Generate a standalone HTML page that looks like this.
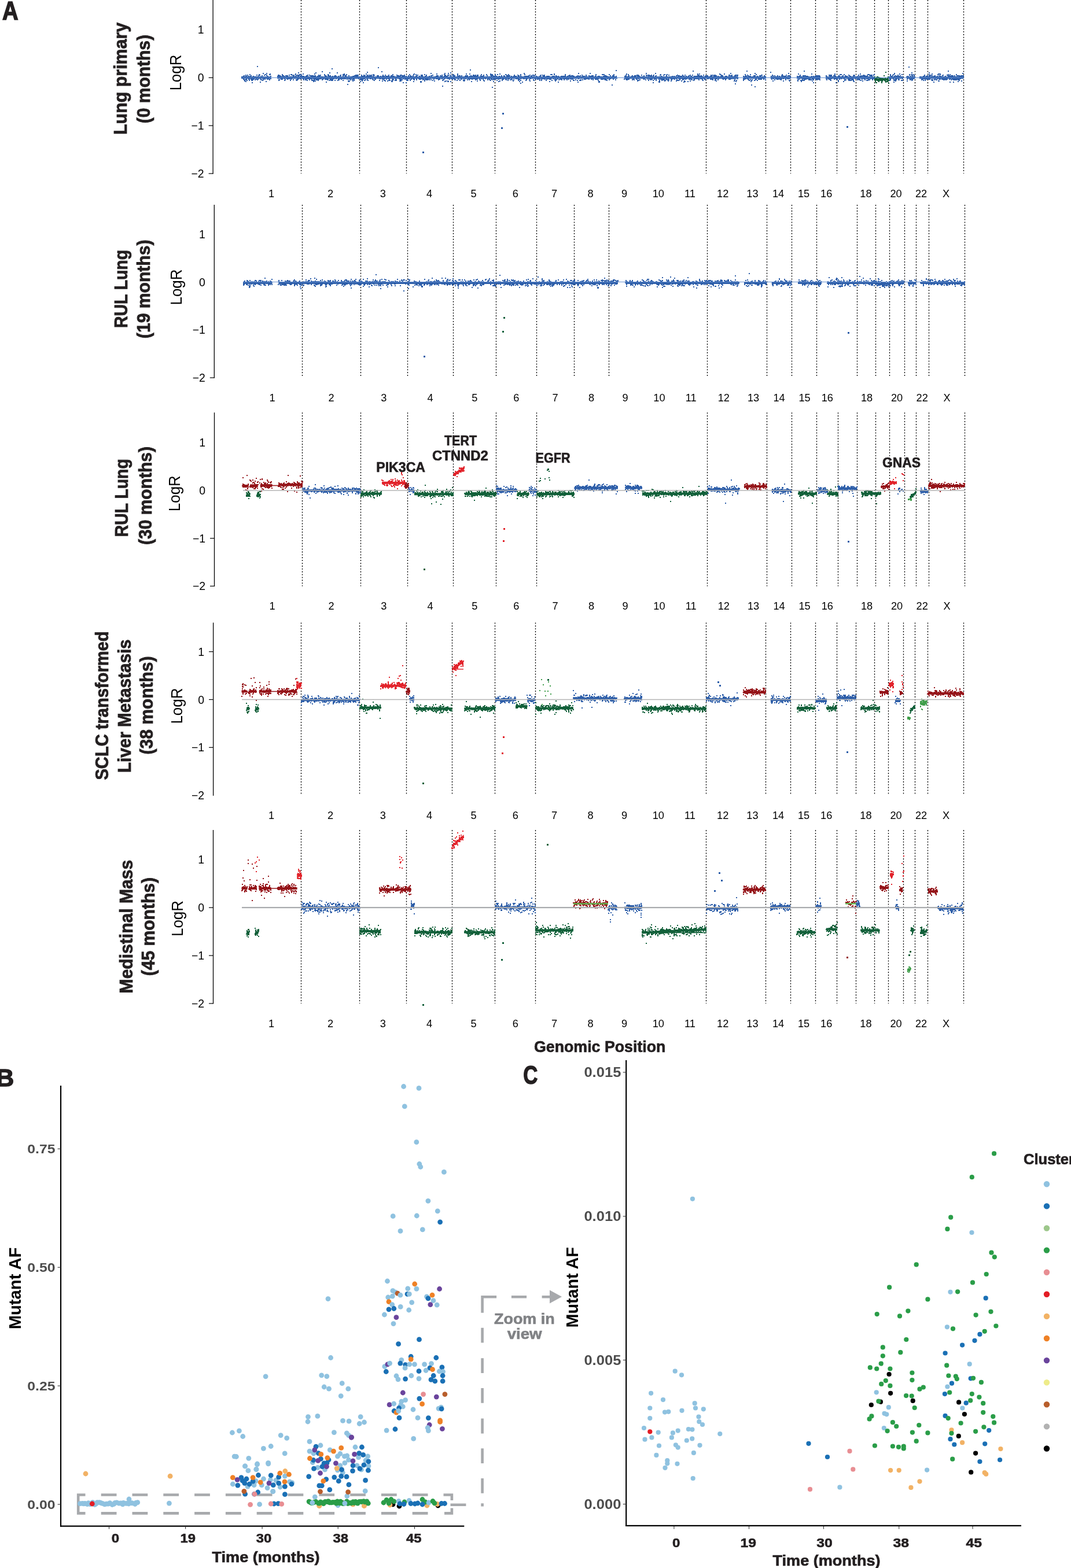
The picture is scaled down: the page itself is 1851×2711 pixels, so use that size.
<!DOCTYPE html><html><head><meta charset="utf-8"><style>html,body{margin:0;padding:0;background:#fff;overflow:hidden}svg{display:block}text{font-family:"Liberation Sans",Arial,sans-serif}</style></head><body><svg width="1851" height="2711" viewBox="0 0 1851 2711"><rect width="1851" height="2711" fill="#fff"/><line x1="368.1" y1="0" x2="368.1" y2="300.7" stroke="#000" stroke-width="1.3"/>
<text x="352.6" y="58.4" font-size="19.4" text-anchor="end" fill="#000">1</text>
<line x1="360.6" y1="134.3" x2="368.1" y2="134.3" stroke="#000" stroke-width="1.2"/>
<text x="352.6" y="141.3" font-size="19.4" text-anchor="end" fill="#000">0</text>
<line x1="360.6" y1="217.2" x2="368.1" y2="217.2" stroke="#000" stroke-width="1.2"/>
<text x="352.6" y="224.2" font-size="19.4" text-anchor="end" fill="#000">−1</text>
<line x1="360.6" y1="300.1" x2="368.1" y2="300.1" stroke="#000" stroke-width="1.2"/>
<text x="352.6" y="307.1" font-size="19.4" text-anchor="end" fill="#000">−2</text>
<path d="M520.5 0V300.1M621.5 0V300.1M702.5 0V300.1M781.5 0V300.1M855.5 0V300.1M925.5 0V300.1M1220.5 0V300.1M1323.5 0V300.1M1366.5 0V300.1M1409.5 0V300.1M1446.5 0V300.1M1479.5 0V300.1M1511.5 0V300.1M1535.5 0V300.1M1561.5 0V300.1M1581.5 0V300.1M1603.5 0V300.1M1665.5 0V300.1" stroke="#000" stroke-width="1.3" stroke-dasharray="2.1 2.8" fill="none"/>
<text x="469" y="341.1" font-size="18.2" text-anchor="middle" fill="#000">1</text>
<text x="571" y="341.1" font-size="18.2" text-anchor="middle" fill="#000">2</text>
<text x="661.8" y="341.1" font-size="18.2" text-anchor="middle" fill="#000">3</text>
<text x="742" y="341.1" font-size="18.2" text-anchor="middle" fill="#000">4</text>
<text x="818.6" y="341.1" font-size="18.2" text-anchor="middle" fill="#000">5</text>
<text x="890.7" y="341.1" font-size="18.2" text-anchor="middle" fill="#000">6</text>
<text x="958" y="341.1" font-size="18.2" text-anchor="middle" fill="#000">7</text>
<text x="1020.5" y="341.1" font-size="18.2" text-anchor="middle" fill="#000">8</text>
<text x="1079" y="341.1" font-size="18.2" text-anchor="middle" fill="#000">9</text>
<text x="1137.8" y="341.1" font-size="18.2" text-anchor="middle" fill="#000">10</text>
<text x="1192.5" y="341.1" font-size="18.2" text-anchor="middle" fill="#000">11</text>
<text x="1249.2" y="341.1" font-size="18.2" text-anchor="middle" fill="#000">12</text>
<text x="1300.4" y="341.1" font-size="18.2" text-anchor="middle" fill="#000">13</text>
<text x="1345" y="341.1" font-size="18.2" text-anchor="middle" fill="#000">14</text>
<text x="1389" y="341.1" font-size="18.2" text-anchor="middle" fill="#000">15</text>
<text x="1428.2" y="341.1" font-size="18.2" text-anchor="middle" fill="#000">16</text>
<text x="1496.4" y="341.1" font-size="18.2" text-anchor="middle" fill="#000">18</text>
<text x="1548.5" y="341.1" font-size="18.2" text-anchor="middle" fill="#000">20</text>
<text x="1592.1" y="341.1" font-size="18.2" text-anchor="middle" fill="#000">22</text>
<text x="1635" y="341.1" font-size="18.2" text-anchor="middle" fill="#000">X</text>
<line x1="370.3" y1="354" x2="370.3" y2="653.7" stroke="#000" stroke-width="1.3"/>
<text x="354.8" y="411.7" font-size="19.4" text-anchor="end" fill="#000">1</text>
<text x="354.8" y="494.5" font-size="19.4" text-anchor="end" fill="#000">0</text>
<text x="354.8" y="577.3" font-size="19.4" text-anchor="end" fill="#000">−1</text>
<line x1="362.8" y1="653.1" x2="370.3" y2="653.1" stroke="#000" stroke-width="1.2"/>
<text x="354.8" y="660.1" font-size="19.4" text-anchor="end" fill="#000">−2</text>
<path d="M522.5 354V653.1M623.5 354V653.1M704.5 354V653.1M783.5 354V653.1M857.5 354V653.1M927.5 354V653.1M992.5 354V653.1M1052.5 354V653.1M1222.5 354V653.1M1325.5 354V653.1M1368.5 354V653.1M1411.5 354V653.1M1481.5 354V653.1M1513.5 354V653.1M1537.5 354V653.1M1563.5 354V653.1M1583.5 354V653.1M1605.5 354V653.1M1667.5 354V653.1" stroke="#000" stroke-width="1.3" stroke-dasharray="2.1 2.8" fill="none"/>
<text x="470.6" y="694" font-size="18.2" text-anchor="middle" fill="#000">1</text>
<text x="572.6" y="694" font-size="18.2" text-anchor="middle" fill="#000">2</text>
<text x="663.4" y="694" font-size="18.2" text-anchor="middle" fill="#000">3</text>
<text x="743.6" y="694" font-size="18.2" text-anchor="middle" fill="#000">4</text>
<text x="820.2" y="694" font-size="18.2" text-anchor="middle" fill="#000">5</text>
<text x="892.3" y="694" font-size="18.2" text-anchor="middle" fill="#000">6</text>
<text x="959.6" y="694" font-size="18.2" text-anchor="middle" fill="#000">7</text>
<text x="1022.1" y="694" font-size="18.2" text-anchor="middle" fill="#000">8</text>
<text x="1080.6" y="694" font-size="18.2" text-anchor="middle" fill="#000">9</text>
<text x="1139.4" y="694" font-size="18.2" text-anchor="middle" fill="#000">10</text>
<text x="1194.1" y="694" font-size="18.2" text-anchor="middle" fill="#000">11</text>
<text x="1250.8" y="694" font-size="18.2" text-anchor="middle" fill="#000">12</text>
<text x="1302" y="694" font-size="18.2" text-anchor="middle" fill="#000">13</text>
<text x="1346.6" y="694" font-size="18.2" text-anchor="middle" fill="#000">14</text>
<text x="1390.6" y="694" font-size="18.2" text-anchor="middle" fill="#000">15</text>
<text x="1429.8" y="694" font-size="18.2" text-anchor="middle" fill="#000">16</text>
<text x="1498" y="694" font-size="18.2" text-anchor="middle" fill="#000">18</text>
<text x="1550.1" y="694" font-size="18.2" text-anchor="middle" fill="#000">20</text>
<text x="1593.7" y="694" font-size="18.2" text-anchor="middle" fill="#000">22</text>
<text x="1636.6" y="694" font-size="18.2" text-anchor="middle" fill="#000">X</text>
<line x1="370.5" y1="713.2" x2="370.5" y2="1014" stroke="#000" stroke-width="1.3"/>
<text x="355" y="772.3" font-size="19.4" text-anchor="end" fill="#000">1</text>
<text x="355" y="855" font-size="19.4" text-anchor="end" fill="#000">0</text>
<line x1="363" y1="930.7" x2="370.5" y2="930.7" stroke="#000" stroke-width="1.2"/>
<text x="355" y="937.7" font-size="19.4" text-anchor="end" fill="#000">−1</text>
<line x1="363" y1="1013.4" x2="370.5" y2="1013.4" stroke="#000" stroke-width="1.2"/>
<text x="355" y="1020.4" font-size="19.4" text-anchor="end" fill="#000">−2</text>
<path d="M522.5 713.2V1013.4M623.5 713.2V1013.4M704.5 713.2V1013.4M783.5 713.2V1013.4M857.5 713.2V1013.4M927.5 713.2V1013.4M1222.5 713.2V1013.4M1325.5 713.2V1013.4M1368.5 713.2V1013.4M1411.5 713.2V1013.4M1448.5 713.2V1013.4M1481.5 713.2V1013.4M1513.5 713.2V1013.4M1537.5 713.2V1013.4M1563.5 713.2V1013.4M1583.5 713.2V1013.4M1605.5 713.2V1013.4M1667.5 713.2V1013.4" stroke="#000" stroke-width="1.3" stroke-dasharray="2.1 2.8" fill="none"/>
<text x="470.6" y="1054" font-size="18.2" text-anchor="middle" fill="#000">1</text>
<text x="572.6" y="1054" font-size="18.2" text-anchor="middle" fill="#000">2</text>
<text x="663.4" y="1054" font-size="18.2" text-anchor="middle" fill="#000">3</text>
<text x="743.6" y="1054" font-size="18.2" text-anchor="middle" fill="#000">4</text>
<text x="820.2" y="1054" font-size="18.2" text-anchor="middle" fill="#000">5</text>
<text x="892.3" y="1054" font-size="18.2" text-anchor="middle" fill="#000">6</text>
<text x="959.6" y="1054" font-size="18.2" text-anchor="middle" fill="#000">7</text>
<text x="1022.1" y="1054" font-size="18.2" text-anchor="middle" fill="#000">8</text>
<text x="1080.6" y="1054" font-size="18.2" text-anchor="middle" fill="#000">9</text>
<text x="1139.4" y="1054" font-size="18.2" text-anchor="middle" fill="#000">10</text>
<text x="1194.1" y="1054" font-size="18.2" text-anchor="middle" fill="#000">11</text>
<text x="1250.8" y="1054" font-size="18.2" text-anchor="middle" fill="#000">12</text>
<text x="1302" y="1054" font-size="18.2" text-anchor="middle" fill="#000">13</text>
<text x="1346.6" y="1054" font-size="18.2" text-anchor="middle" fill="#000">14</text>
<text x="1390.6" y="1054" font-size="18.2" text-anchor="middle" fill="#000">15</text>
<text x="1429.8" y="1054" font-size="18.2" text-anchor="middle" fill="#000">16</text>
<text x="1498" y="1054" font-size="18.2" text-anchor="middle" fill="#000">18</text>
<text x="1550.1" y="1054" font-size="18.2" text-anchor="middle" fill="#000">20</text>
<text x="1593.7" y="1054" font-size="18.2" text-anchor="middle" fill="#000">22</text>
<text x="1636.6" y="1054" font-size="18.2" text-anchor="middle" fill="#000">X</text>
<line x1="368.6" y1="1076.4" x2="368.6" y2="1375.7" stroke="#000" stroke-width="1.3"/>
<line x1="361.1" y1="1126.7" x2="368.6" y2="1126.7" stroke="#000" stroke-width="1.2"/>
<text x="353.1" y="1133.7" font-size="19.4" text-anchor="end" fill="#000">1</text>
<line x1="361.1" y1="1209.5" x2="368.6" y2="1209.5" stroke="#000" stroke-width="1.2"/>
<text x="353.1" y="1216.5" font-size="19.4" text-anchor="end" fill="#000">0</text>
<line x1="361.1" y1="1292.3" x2="368.6" y2="1292.3" stroke="#000" stroke-width="1.2"/>
<text x="353.1" y="1299.3" font-size="19.4" text-anchor="end" fill="#000">−1</text>
<text x="353.1" y="1382.1" font-size="19.4" text-anchor="end" fill="#000">−2</text>
<path d="M520.5 1076.4V1375.1M621.5 1076.4V1375.1M702.5 1076.4V1375.1M781.5 1076.4V1375.1M855.5 1076.4V1375.1M925.5 1076.4V1375.1M1220.5 1076.4V1375.1M1323.5 1076.4V1375.1M1366.5 1076.4V1375.1M1409.5 1076.4V1375.1M1446.5 1076.4V1375.1M1479.5 1076.4V1375.1M1511.5 1076.4V1375.1M1535.5 1076.4V1375.1M1561.5 1076.4V1375.1M1581.5 1076.4V1375.1M1603.5 1076.4V1375.1M1665.5 1076.4V1375.1" stroke="#000" stroke-width="1.3" stroke-dasharray="2.1 2.8" fill="none"/>
<text x="469" y="1416.4" font-size="18.2" text-anchor="middle" fill="#000">1</text>
<text x="571" y="1416.4" font-size="18.2" text-anchor="middle" fill="#000">2</text>
<text x="661.8" y="1416.4" font-size="18.2" text-anchor="middle" fill="#000">3</text>
<text x="742" y="1416.4" font-size="18.2" text-anchor="middle" fill="#000">4</text>
<text x="818.6" y="1416.4" font-size="18.2" text-anchor="middle" fill="#000">5</text>
<text x="890.7" y="1416.4" font-size="18.2" text-anchor="middle" fill="#000">6</text>
<text x="958" y="1416.4" font-size="18.2" text-anchor="middle" fill="#000">7</text>
<text x="1020.5" y="1416.4" font-size="18.2" text-anchor="middle" fill="#000">8</text>
<text x="1079" y="1416.4" font-size="18.2" text-anchor="middle" fill="#000">9</text>
<text x="1137.8" y="1416.4" font-size="18.2" text-anchor="middle" fill="#000">10</text>
<text x="1192.5" y="1416.4" font-size="18.2" text-anchor="middle" fill="#000">11</text>
<text x="1249.2" y="1416.4" font-size="18.2" text-anchor="middle" fill="#000">12</text>
<text x="1300.4" y="1416.4" font-size="18.2" text-anchor="middle" fill="#000">13</text>
<text x="1345" y="1416.4" font-size="18.2" text-anchor="middle" fill="#000">14</text>
<text x="1389" y="1416.4" font-size="18.2" text-anchor="middle" fill="#000">15</text>
<text x="1428.2" y="1416.4" font-size="18.2" text-anchor="middle" fill="#000">16</text>
<text x="1496.4" y="1416.4" font-size="18.2" text-anchor="middle" fill="#000">18</text>
<text x="1548.5" y="1416.4" font-size="18.2" text-anchor="middle" fill="#000">20</text>
<text x="1592.1" y="1416.4" font-size="18.2" text-anchor="middle" fill="#000">22</text>
<text x="1635" y="1416.4" font-size="18.2" text-anchor="middle" fill="#000">X</text>
<line x1="368.5" y1="1435.1" x2="368.5" y2="1735.6" stroke="#000" stroke-width="1.3"/>
<text x="353" y="1493.3" font-size="19.4" text-anchor="end" fill="#000">1</text>
<line x1="361" y1="1569.2" x2="368.5" y2="1569.2" stroke="#000" stroke-width="1.2"/>
<text x="353" y="1576.2" font-size="19.4" text-anchor="end" fill="#000">0</text>
<line x1="361" y1="1652.1" x2="368.5" y2="1652.1" stroke="#000" stroke-width="1.2"/>
<text x="353" y="1659.1" font-size="19.4" text-anchor="end" fill="#000">−1</text>
<line x1="361" y1="1735" x2="368.5" y2="1735" stroke="#000" stroke-width="1.2"/>
<text x="353" y="1742" font-size="19.4" text-anchor="end" fill="#000">−2</text>
<path d="M520.5 1435.1V1735M621.5 1435.1V1735M702.5 1435.1V1735M781.5 1435.1V1735M855.5 1435.1V1735M925.5 1435.1V1735M1220.5 1435.1V1735M1323.5 1435.1V1735M1366.5 1435.1V1735M1409.5 1435.1V1735M1446.5 1435.1V1735M1479.5 1435.1V1735M1511.5 1435.1V1735M1535.5 1435.1V1735M1561.5 1435.1V1735M1581.5 1435.1V1735M1603.5 1435.1V1735M1665.5 1435.1V1735" stroke="#000" stroke-width="1.3" stroke-dasharray="2.1 2.8" fill="none"/>
<text x="469" y="1776.4" font-size="18.2" text-anchor="middle" fill="#000">1</text>
<text x="571" y="1776.4" font-size="18.2" text-anchor="middle" fill="#000">2</text>
<text x="661.8" y="1776.4" font-size="18.2" text-anchor="middle" fill="#000">3</text>
<text x="742" y="1776.4" font-size="18.2" text-anchor="middle" fill="#000">4</text>
<text x="818.6" y="1776.4" font-size="18.2" text-anchor="middle" fill="#000">5</text>
<text x="890.7" y="1776.4" font-size="18.2" text-anchor="middle" fill="#000">6</text>
<text x="958" y="1776.4" font-size="18.2" text-anchor="middle" fill="#000">7</text>
<text x="1020.5" y="1776.4" font-size="18.2" text-anchor="middle" fill="#000">8</text>
<text x="1079" y="1776.4" font-size="18.2" text-anchor="middle" fill="#000">9</text>
<text x="1137.8" y="1776.4" font-size="18.2" text-anchor="middle" fill="#000">10</text>
<text x="1192.5" y="1776.4" font-size="18.2" text-anchor="middle" fill="#000">11</text>
<text x="1249.2" y="1776.4" font-size="18.2" text-anchor="middle" fill="#000">12</text>
<text x="1300.4" y="1776.4" font-size="18.2" text-anchor="middle" fill="#000">13</text>
<text x="1345" y="1776.4" font-size="18.2" text-anchor="middle" fill="#000">14</text>
<text x="1389" y="1776.4" font-size="18.2" text-anchor="middle" fill="#000">15</text>
<text x="1428.2" y="1776.4" font-size="18.2" text-anchor="middle" fill="#000">16</text>
<text x="1496.4" y="1776.4" font-size="18.2" text-anchor="middle" fill="#000">18</text>
<text x="1548.5" y="1776.4" font-size="18.2" text-anchor="middle" fill="#000">20</text>
<text x="1592.1" y="1776.4" font-size="18.2" text-anchor="middle" fill="#000">22</text>
<text x="1635" y="1776.4" font-size="18.2" text-anchor="middle" fill="#000">X</text>
<path fill="#2d5ea9" d="M418 132.3L468.6 132.3v4L418 136.3zM479.3 132.3L1066 132.3v4L479.3 136.3zM1079 132.3L1275.7 132.3v4L1079 136.3zM1284.5 132.3L1323.4 132.3v4L1284.5 136.3zM1331.7 132.3L1366.2 132.3v4L1331.7 136.3zM1377 132.3L1418 132.3v4L1377 136.3zM1427.5 132.3L1511.6 132.3v4L1427.5 136.3zM1536 132.3L1560.5 132.3v4L1536 136.3zM1567 132.3L1581.5 132.3v4L1567 136.3zM1589 132.3L1665.5 132.3v4L1589 136.3z"/>
<path fill="#12603a" d="M1511.6 135.3L1536 135.3v4L1511.6 139.3z"/>
<path fill="#2d5ea9" shape-rendering="crispEdges" d="M417 132h2v2h-2zm0 2h2v2h-2zm0 0h2v2h-2zm1-2h2v2h-2zm0 1h2v2h-2zm0 1h2v2h-2zm2-3h2v2h-2zm0 1h2v2h-2zm0 1h2v2h-2zm0 1h2v2h-2zm0 0h2v2h-2zm0 2h2v2h-2zm0 0h2v2h-2zm1-6h2v2h-2zm0 0h2v2h-2zm0 4h2v2h-2zm0 0h2v2h-2zm0 3h2v2h-2zm0 0h2v2h-2zm1 1h2v2h-2zm0 1h2v2h-2zm1-7h2v2h-2zm0 1h2v2h-2zm0 4h2v2h-2zm1-8h2v2h-2zm0 2h2v2h-2zm0 1h2v2h-2zm0 8h2v2h-2zm1-9h2v2h-2zm0 0h2v2h-2zm0 1h2v2h-2zm0 4h2v2h-2zm0 1h2v2h-2zm1-4h2v2h-2zm0 0h2v2h-2zm0 5h2v2h-2zm1-9h2v2h-2zm0 4h2v2h-2zm1-2h2v2h-2zm0 2h2v2h-2zm0 0h2v2h-2zm1-1h2v2h-2zm0 1h2v2h-2zm0 3h2v2h-2zm1-4h2v2h-2zm0 2h2v2h-2zm0 1h2v2h-2zm0 1h2v2h-2zm0 1h2v2h-2zm0 0h2v2h-2zm0 1h2v2h-2zm1-10h2v2h-2zm0 3h2v2h-2zm0 1h2v2h-2zm0 2h2v2h-2zm2-4h2v2h-2zm0 3h2v2h-2zm0 3h2v2h-2zm1-2h2v2h-2zm0 2h2v2h-2zm0 2h2v2h-2zm1-3h2v2h-2zm0 3h2v2h-2zm0 4h2v2h-2zm1-5h2v2h-2zm1-6h2v2h-2zm0 2h2v2h-2zm0 2h2v2h-2zm0 1h2v2h-2zm1-3h2v2h-2zm0 1h2v2h-2zm0 1h2v2h-2zm1-3h2v2h-2zm1 1h2v2h-2zm0 4h2v2h-2zm1-5h2v2h-2zm0 2h2v2h-2zm1-1h2v2h-2zm0 3h2v2h-2zm1-7h2v2h-2zm0 3h2v2h-2zm1-18h2v2h-2zm0 18h2v2h-2zm0 2h2v2h-2zm0 3h2v2h-2zm0 0h2v2h-2zm1-3h2v2h-2zm0 0h2v2h-2zm0 2h2v2h-2zm0 0h2v2h-2zm1-6h2v2h-2zm0 4h2v2h-2zm0 0h2v2h-2zm1-6h2v2h-2zm1 1h2v2h-2zm0 5h2v2h-2zm1-2h2v2h-2zm0 3h2v2h-2zm0 6h2v2h-2zm1-7h2v2h-2zm0 3h2v2h-2zm1-5h2v2h-2zm0 5h2v2h-2zm1-7h2v2h-2zm0 4h2v2h-2zm1 4h2v2h-2zm1-12h2v2h-2zm0 8h2v2h-2zm0 1h2v2h-2zm0 2h2v2h-2zm1-2h2v2h-2zm0 0h2v2h-2zm1-6h2v2h-2zm0 5h2v2h-2zm1-1h2v2h-2zm0 2h2v2h-2zm0 1h2v2h-2zm1-8h2v2h-2zm0 6h2v2h-2zm1-1h2v2h-2zm0 7h2v2h-2zm1-14h2v2h-2zm0 3h2v2h-2zm0 0h2v2h-2zm0 4h2v2h-2zm0 1h2v2h-2zm1-3h2v2h-2zm0 1h2v2h-2zm0 0h2v2h-2zm0 4h2v2h-2zm1-4h2v2h-2zm1 0h2v2h-2zm0 3h2v2h-2zm1 1h2v2h-2zm0 0h2v2h-2zm1-8h2v2h-2zm0 9h2v2h-2zm1-10h2v2h-2zm0 1h2v2h-2zm1 3h2v2h-2zm0 4h2v2h-2zm12-4h2v2h-2zm0 1h2v2h-2zm1-3h2v2h-2zm0 2h2v2h-2zm0 2h2v2h-2zm1-4h2v2h-2zm0 1h2v2h-2zm0 4h2v2h-2zm0 3h2v2h-2zm0 1h2v2h-2zm1-8h2v2h-2zm0 1h2v2h-2zm0 1h2v2h-2zm0 0h2v2h-2zm0 1h2v2h-2zm0 0h2v2h-2zm0 0h2v2h-2zm0 4h2v2h-2zm1-7h2v2h-2zm1 1h2v2h-2zm0 0h2v2h-2zm1 1h2v2h-2zm0 3h2v2h-2zm0 0h2v2h-2zm0 1h2v2h-2zm1-4h2v2h-2zm0 1h2v2h-2zm0 2h2v2h-2zm0 1h2v2h-2zm1-8h2v2h-2zm0 2h2v2h-2zm0 3h2v2h-2zm0 3h2v2h-2zm1-2h2v2h-2zm1-4h2v2h-2zm1 1h2v2h-2zm0 1h2v2h-2zm1 0h2v2h-2zm0 3h2v2h-2zm0 3h2v2h-2zm0 0h2v2h-2zm1-4h2v2h-2zm0 3h2v2h-2zm1-7h2v2h-2zm1 0h2v2h-2zm1 0h2v2h-2zm0 2h2v2h-2zm0 0h2v2h-2zm0 1h2v2h-2zm0 1h2v2h-2zm0 1h2v2h-2zm0 0h2v2h-2zm1-5h2v2h-2zm0 1h2v2h-2zm0 3h2v2h-2zm0 2h2v2h-2zm1-3h2v2h-2zm1 0h2v2h-2zm0 2h2v2h-2zm1-6h2v2h-2zm0 3h2v2h-2zm0 3h2v2h-2zm2-3h2v2h-2zm0 1h2v2h-2zm0 2h2v2h-2zm0 3h2v2h-2zm1-10h2v2h-2zm0 4h2v2h-2zm0 1h2v2h-2zm0 1h2v2h-2zm0 2h2v2h-2zm1-8h2v2h-2zm0 4h2v2h-2zm0 3h2v2h-2zm1-6h2v2h-2zm0 4h2v2h-2zm1-1h2v2h-2zm0 2h2v2h-2zm0 0h2v2h-2zm1-4h2v2h-2zm0 7h2v2h-2zm1-8h2v2h-2zm0 2h2v2h-2zm1 1h2v2h-2zm0 0h2v2h-2zm0 1h2v2h-2zm1 1h2v2h-2zm1-7h2v2h-2zm0 1h2v2h-2zm0 0h2v2h-2zm0 3h2v2h-2zm1-1h2v2h-2zm0 4h2v2h-2zm0 3h2v2h-2zm1-4h2v2h-2zm0 4h2v2h-2zm0 0h2v2h-2zm0 1h2v2h-2zm1-9h2v2h-2zm0 7h2v2h-2zm0 0h2v2h-2zm0 1h2v2h-2zm0 0h2v2h-2zm1-6h2v2h-2zm0 1h2v2h-2zm0 0h2v2h-2zm0 3h2v2h-2zm0 1h2v2h-2zm1-11h2v2h-2zm0 4h2v2h-2zm0 2h2v2h-2zm0 4h2v2h-2zm1-6h2v2h-2zm1-1h2v2h-2zm0 1h2v2h-2zm0 0h2v2h-2zm0 4h2v2h-2zm1-2h2v2h-2zm0 4h2v2h-2zm1-7h2v2h-2zm0 4h2v2h-2zm0 2h2v2h-2zm0 1h2v2h-2zm1-6h2v2h-2zm0 2h2v2h-2zm0 2h2v2h-2zm2-2h2v2h-2zm1-4h2v2h-2zm0 6h2v2h-2zm0 2h2v2h-2zm1-4h2v2h-2zm0 4h2v2h-2zm0 2h2v2h-2zm1-5h2v2h-2zm0 0h2v2h-2zm1 0h2v2h-2zm1 3h2v2h-2zm0 2h2v2h-2zm1-6h2v2h-2zm0 4h2v2h-2zm0 2h2v2h-2zm1-7h2v2h-2zm0 2h2v2h-2zm0 2h2v2h-2zm1-3h2v2h-2zm0 1h2v2h-2zm0 2h2v2h-2zm0 1h2v2h-2zm0 3h2v2h-2zm1-9h2v2h-2zm0 3h2v2h-2zm0 1h2v2h-2zm1 0h2v2h-2zm0 2h2v2h-2zm1-3h2v2h-2zm0 0h2v2h-2zm0 1h2v2h-2zm0 2h2v2h-2zm1-6h2v2h-2zm0 8h2v2h-2zm1-3h2v2h-2zm0 0h2v2h-2zm0 1h2v2h-2zm0 0h2v2h-2zm1-5h2v2h-2zm0 3h2v2h-2zm0 0h2v2h-2zm0 0h2v2h-2zm0 2h2v2h-2zm1-4h2v2h-2zm0 1h2v2h-2zm0 0h2v2h-2zm0 0h2v2h-2zm0 1h2v2h-2zm1-3h2v2h-2zm0 2h2v2h-2zm0 1h2v2h-2zm0 0h2v2h-2zm0 0h2v2h-2zm0 1h2v2h-2zm0 2h2v2h-2zm0 2h2v2h-2zm0 0h2v2h-2zm1-6h2v2h-2zm1-2h2v2h-2zm0 0h2v2h-2zm0 1h2v2h-2zm0 0h2v2h-2zm0 7h2v2h-2zm1-6h2v2h-2zm0 1h2v2h-2zm0 0h2v2h-2zm0 2h2v2h-2zm0 5h2v2h-2zm1-9h2v2h-2zm0 2h2v2h-2zm0 0h2v2h-2zm0 3h2v2h-2zm0 2h2v2h-2zm0 1h2v2h-2zm1-12h2v2h-2zm0 3h2v2h-2zm0 2h2v2h-2zm0 3h2v2h-2zm1-5h2v2h-2zm0 1h2v2h-2zm0 3h2v2h-2zm0 2h2v2h-2zm0 3h2v2h-2zm1-14h2v2h-2zm0 7h2v2h-2zm0 2h2v2h-2zm0 2h2v2h-2zm1 1h2v2h-2zm1-2h2v2h-2zm1-4h2v2h-2zm0 6h2v2h-2zm1-3h2v2h-2zm0 1h2v2h-2zm0 2h2v2h-2zm0 1h2v2h-2zm0 0h2v2h-2zm1-9h2v2h-2zm0 2h2v2h-2zm0 2h2v2h-2zm0 3h2v2h-2zm1-5h2v2h-2zm0 2h2v2h-2zm0 1h2v2h-2zm0 0h2v2h-2zm1-4h2v2h-2zm0 0h2v2h-2zm0 2h2v2h-2zm0 3h2v2h-2zm1-6h2v2h-2zm1 3h2v2h-2zm0 3h2v2h-2zm1-3h2v2h-2zm0 2h2v2h-2zm1-11h2v2h-2zm0 9h2v2h-2zm0 1h2v2h-2zm0 1h2v2h-2zm0 3h2v2h-2zm1-4h2v2h-2zm0 2h2v2h-2zm0 1h2v2h-2zm1-1h2v2h-2zm2-7h2v2h-2zm0 1h2v2h-2zm0 4h2v2h-2zm0 1h2v2h-2zm1-3h2v2h-2zm0 0h2v2h-2zm0 2h2v2h-2zm0 1h2v2h-2zm0 1h2v2h-2zm0 1h2v2h-2zm1-6h2v2h-2zm0 1h2v2h-2zm0 2h2v2h-2zm0 3h2v2h-2zm1-5h2v2h-2zm0 1h2v2h-2zm0 3h2v2h-2zm0 0h2v2h-2zm0 1h2v2h-2zm0 5h2v2h-2zm1-6h2v2h-2zm1-2h2v2h-2zm0 0h2v2h-2zm0 4h2v2h-2zm1-9h2v2h-2zm0 2h2v2h-2zm0 3h2v2h-2zm0 1h2v2h-2zm0 2h2v2h-2zm1-7h2v2h-2zm0 5h2v2h-2zm1-3h2v2h-2zm0 0h2v2h-2zm0 7h2v2h-2zm1-13h2v2h-2zm0 7h2v2h-2zm0 1h2v2h-2zm0 2h2v2h-2zm1-5h2v2h-2zm0 3h2v2h-2zm0 2h2v2h-2zm0 0h2v2h-2zm0 2h2v2h-2zm1-5h2v2h-2zm0 2h2v2h-2zm0 1h2v2h-2zm0 2h2v2h-2zm0 1h2v2h-2zm1-6h2v2h-2zm0 6h2v2h-2zm1-20h2v2h-2zm0 16h2v2h-2zm0 0h2v2h-2zm0 1h2v2h-2zm0 2h2v2h-2zm1-6h2v2h-2zm0 5h2v2h-2zm0 2h2v2h-2zm1-5h2v2h-2zm1 2h2v2h-2zm1-4h2v2h-2zm0 0h2v2h-2zm0 2h2v2h-2zm1-3h2v2h-2zm0 1h2v2h-2zm0 0h2v2h-2zm0 0h2v2h-2zm0 0h2v2h-2zm0 1h2v2h-2zm0 2h2v2h-2zm0 4h2v2h-2zm1-8h2v2h-2zm1 1h2v2h-2zm0 4h2v2h-2zm1-2h2v2h-2zm1-8h2v2h-2zm0 9h2v2h-2zm1 4h2v2h-2zm0 0h2v2h-2zm1-7h2v2h-2zm0 0h2v2h-2zm0 1h2v2h-2zm0 1h2v2h-2zm0 0h2v2h-2zm0 1h2v2h-2zm0 2h2v2h-2zm1-3h2v2h-2zm0 1h2v2h-2zm0 3h2v2h-2zm1-2h2v2h-2zm1-5h2v2h-2zm0 0h2v2h-2zm0 1h2v2h-2zm0 1h2v2h-2zm0 0h2v2h-2zm0 0h2v2h-2zm0 3h2v2h-2zm1-6h2v2h-2zm0 6h2v2h-2zm1-2h2v2h-2zm0 1h2v2h-2zm0 2h2v2h-2zm1-3h2v2h-2zm1 1h2v2h-2zm0 1h2v2h-2zm1-7h2v2h-2zm0 2h2v2h-2zm0 5h2v2h-2zm0 3h2v2h-2zm1-3h2v2h-2zm1-8h2v2h-2zm0 1h2v2h-2zm0 1h2v2h-2zm0 3h2v2h-2zm0 0h2v2h-2zm0 0h2v2h-2zm0 1h2v2h-2zm0 1h2v2h-2zm1-5h2v2h-2zm0 0h2v2h-2zm0 6h2v2h-2zm1-5h2v2h-2zm0 2h2v2h-2zm0 3h2v2h-2zm0 0h2v2h-2zm0 0h2v2h-2zm1-5h2v2h-2zm0 2h2v2h-2zm0 2h2v2h-2zm1-6h2v2h-2zm1 6h2v2h-2zm0 2h2v2h-2zm0 0h2v2h-2zm1 9h2v2h-2zm1-12h2v2h-2zm0 6h2v2h-2zm1-9h2v2h-2zm0 3h2v2h-2zm0 3h2v2h-2zm0 4h2v2h-2zm1-7h2v2h-2zm0 1h2v2h-2zm0 1h2v2h-2zm0 4h2v2h-2zm1-4h2v2h-2zm1 2h2v2h-2zm1-5h2v2h-2zm0 1h2v2h-2zm0 2h2v2h-2zm2-3h2v2h-2zm0 0h2v2h-2zm0 1h2v2h-2zm0 4h2v2h-2zm1-6h2v2h-2zm0 2h2v2h-2zm0 1h2v2h-2zm0 2h2v2h-2zm0 3h2v2h-2zm1-7h2v2h-2zm0 0h2v2h-2zm0 3h2v2h-2zm0 0h2v2h-2zm1-4h2v2h-2zm0 2h2v2h-2zm0 0h2v2h-2zm0 1h2v2h-2zm0 2h2v2h-2zm0 2h2v2h-2zm1-8h2v2h-2zm0 4h2v2h-2zm2-5h2v2h-2zm0 2h2v2h-2zm0 3h2v2h-2zm1-5h2v2h-2zm0 2h2v2h-2zm0 1h2v2h-2zm0 2h2v2h-2zm0 0h2v2h-2zm1-4h2v2h-2zm0 0h2v2h-2zm0 1h2v2h-2zm0 1h2v2h-2zm0 1h2v2h-2zm1-4h2v2h-2zm0 2h2v2h-2zm1-2h2v2h-2zm0 4h2v2h-2zm0 0h2v2h-2zm1-1h2v2h-2zm0 0h2v2h-2zm0 2h2v2h-2zm0 1h2v2h-2zm2-2h2v2h-2zm1 1h2v2h-2zm0 0h2v2h-2zm0 2h2v2h-2zm0 4h2v2h-2zm1-8h2v2h-2zm0 0h2v2h-2zm0 5h2v2h-2zm1-8h2v2h-2zm0 2h2v2h-2zm0 5h2v2h-2zm0 0h2v2h-2zm1-5h2v2h-2zm0 3h2v2h-2zm0 2h2v2h-2zm0 2h2v2h-2zm0 1h2v2h-2zm1-7h2v2h-2zm0 5h2v2h-2zm1-6h2v2h-2zm0 3h2v2h-2zm0 1h2v2h-2zm0 7h2v2h-2zm1-13h2v2h-2zm0 3h2v2h-2zm0 2h2v2h-2zm1-4h2v2h-2zm0 2h2v2h-2zm0 3h2v2h-2zm0 3h2v2h-2zm1-8h2v2h-2zm0 3h2v2h-2zm0 1h2v2h-2zm1 3h2v2h-2zm1-10h2v2h-2zm0 5h2v2h-2zm0 2h2v2h-2zm1-4h2v2h-2zm0 3h2v2h-2zm1-9h2v2h-2zm0 8h2v2h-2zm0 1h2v2h-2zm0 3h2v2h-2zm0 1h2v2h-2zm1-8h2v2h-2zm0 2h2v2h-2zm0 7h2v2h-2zm2-7h2v2h-2zm0 3h2v2h-2zm0 0h2v2h-2zm1-5h2v2h-2zm0 1h2v2h-2zm0 3h2v2h-2zm1-2h2v2h-2zm0 1h2v2h-2zm0 3h2v2h-2zm1-5h2v2h-2zm0 5h2v2h-2zm1-6h2v2h-2zm0 1h2v2h-2zm0 2h2v2h-2zm0 1h2v2h-2zm1-1h2v2h-2zm0 2h2v2h-2zm1 1h2v2h-2zm0 1h2v2h-2zm1-8h2v2h-2zm0 2h2v2h-2zm0 7h2v2h-2zm1-5h2v2h-2zm0 0h2v2h-2zm1-3h2v2h-2zm0 9h2v2h-2zm1-4h2v2h-2zm0 2h2v2h-2zm1-2h2v2h-2zm0 2h2v2h-2zm1-3h2v2h-2zm0 0h2v2h-2zm0 1h2v2h-2zm2-4h2v2h-2zm0 1h2v2h-2zm0 1h2v2h-2zm1 0h2v2h-2zm1-16h2v2h-2zm0 14h2v2h-2zm0 2h2v2h-2zm0 1h2v2h-2zm0 1h2v2h-2zm0 0h2v2h-2zm1-2h2v2h-2zm1 3h2v2h-2zm0 3h2v2h-2zm1-6h2v2h-2zm0 1h2v2h-2zm0 2h2v2h-2zm1-4h2v2h-2zm0 2h2v2h-2zm0 2h2v2h-2zm2-12h2v2h-2zm0 11h2v2h-2zm1-3h2v2h-2zm0 3h2v2h-2zm0 2h2v2h-2zm0 3h2v2h-2zm1-10h2v2h-2zm0 3h2v2h-2zm0 0h2v2h-2zm0 1h2v2h-2zm0 3h2v2h-2zm1-5h2v2h-2zm0 1h2v2h-2zm0 3h2v2h-2zm0 1h2v2h-2zm1-5h2v2h-2zm0 2h2v2h-2zm0 1h2v2h-2zm0 4h2v2h-2zm1-3h2v2h-2zm0 3h2v2h-2zm0 0h2v2h-2zm1-9h2v2h-2zm0 3h2v2h-2zm0 1h2v2h-2zm0 6h2v2h-2zm1-8h2v2h-2zm0 3h2v2h-2zm1-3h2v2h-2zm0 0h2v2h-2zm0 1h2v2h-2zm0 1h2v2h-2zm0 3h2v2h-2zm1-2h2v2h-2zm0 0h2v2h-2zm0 0h2v2h-2zm1-3h2v2h-2zm0 3h2v2h-2zm0 0h2v2h-2zm0 5h2v2h-2zm1-7h2v2h-2zm0 2h2v2h-2zm0 1h2v2h-2zm1-6h2v2h-2zm0 1h2v2h-2zm0 5h2v2h-2zm0 3h2v2h-2zm1-6h2v2h-2zm0 4h2v2h-2zm1-4h2v2h-2zm0 6h2v2h-2zm1-6h2v2h-2zm0 1h2v2h-2zm1-3h2v2h-2zm0 2h2v2h-2zm0 0h2v2h-2zm0 1h2v2h-2zm0 0h2v2h-2zm0 1h2v2h-2zm0 0h2v2h-2zm1-3h2v2h-2zm1-1h2v2h-2zm0 2h2v2h-2zm0 1h2v2h-2zm0 0h2v2h-2zm0 1h2v2h-2zm0 3h2v2h-2zm1-9h2v2h-2zm0 4h2v2h-2zm0 4h2v2h-2zm1-5h2v2h-2zm0 2h2v2h-2zm0 4h2v2h-2zm1-6h2v2h-2zm0 3h2v2h-2zm2 4h2v2h-2zm1-3h2v2h-2zm0 1h2v2h-2zm0 0h2v2h-2zm0 0h2v2h-2zm0 2h2v2h-2zm1-6h2v2h-2zm0 5h2v2h-2zm0 1h2v2h-2zm1-9h2v2h-2zm0 3h2v2h-2zm0 1h2v2h-2zm1-3h2v2h-2zm0 3h2v2h-2zm0 0h2v2h-2zm1-1h2v2h-2zm0 1h2v2h-2zm0 1h2v2h-2zm1-4h2v2h-2zm0 1h2v2h-2zm1 2h2v2h-2zm0 2h2v2h-2zm1-4h2v2h-2zm0 4h2v2h-2zm0 1h2v2h-2zm0 3h2v2h-2zm1-10h2v2h-2zm0 2h2v2h-2zm0 0h2v2h-2zm0 3h2v2h-2zm0 1h2v2h-2zm0 0h2v2h-2zm0 1h2v2h-2zm0 1h2v2h-2zm1-4h2v2h-2zm0 3h2v2h-2zm0 0h2v2h-2zm0 2h2v2h-2zm0 1h2v2h-2zm1-10h2v2h-2zm0 8h2v2h-2zm1-7h2v2h-2zm0 2h2v2h-2zm0 1h2v2h-2zm0 4h2v2h-2zm1-6h2v2h-2zm0 2h2v2h-2zm0 1h2v2h-2zm1-4h2v2h-2zm0 1h2v2h-2zm0 3h2v2h-2zm0 1h2v2h-2zm0 7h2v2h-2zm1-12h2v2h-2zm0 2h2v2h-2zm1-3h2v2h-2zm0 2h2v2h-2zm1 1h2v2h-2zm0 2h2v2h-2zm0 1h2v2h-2zm0 0h2v2h-2zm0 1h2v2h-2zm1-1h2v2h-2zm1-4h2v2h-2zm0 3h2v2h-2zm0 8h2v2h-2zm1-8h2v2h-2zm0 2h2v2h-2zm0 1h2v2h-2zm0 1h2v2h-2zm1-3h2v2h-2zm0 1h2v2h-2zm1-1h2v2h-2zm0 3h2v2h-2zm1-8h2v2h-2zm0 1h2v2h-2zm0 3h2v2h-2zm1-1h2v2h-2zm0 0h2v2h-2zm0 1h2v2h-2zm0 0h2v2h-2zm0 1h2v2h-2zm1-7h2v2h-2zm1 2h2v2h-2zm0 2h2v2h-2zm0 1h2v2h-2zm0 4h2v2h-2zm0 1h2v2h-2zm2-7h2v2h-2zm0 5h2v2h-2zm1-4h2v2h-2zm0 0h2v2h-2zm1 0h2v2h-2zm1-2h2v2h-2zm0 1h2v2h-2zm0 1h2v2h-2zm0 3h2v2h-2zm1-7h2v2h-2zm0 6h2v2h-2zm0 1h2v2h-2zm0 1h2v2h-2zm0 4h2v2h-2zm1-13h2v2h-2zm0 8h2v2h-2zm0 2h2v2h-2zm1-3h2v2h-2zm0 0h2v2h-2zm1-2h2v2h-2zm0 2h2v2h-2zm1-6h2v2h-2zm0 3h2v2h-2zm0 0h2v2h-2zm0 1h2v2h-2zm0 2h2v2h-2zm1-4h2v2h-2zm0 5h2v2h-2zm0 2h2v2h-2zm1-5h2v2h-2zm0 0h2v2h-2zm0 1h2v2h-2zm0 1h2v2h-2zm0 0h2v2h-2zm1-5h2v2h-2zm2 6h2v2h-2zm1-4h2v2h-2zm0 5h2v2h-2zm1-4h2v2h-2zm0 0h2v2h-2zm0 1h2v2h-2zm1 0h2v2h-2zm0 1h2v2h-2zm0 2h2v2h-2zm1-7h2v2h-2zm0 1h2v2h-2zm0 4h2v2h-2zm0 1h2v2h-2zm1-4h2v2h-2zm0 1h2v2h-2zm0 3h2v2h-2zm1-6h2v2h-2zm0 1h2v2h-2zm1 2h2v2h-2zm0 3h2v2h-2zm0 0h2v2h-2zm0 2h2v2h-2zm1-4h2v2h-2zm0 3h2v2h-2zm2-8h2v2h-2zm0 5h2v2h-2zm0 4h2v2h-2zm0 2h2v2h-2zm1-8h2v2h-2zm0 5h2v2h-2zm1-3h2v2h-2zm1-4h2v2h-2zm0 1h2v2h-2zm0 3h2v2h-2zm0 1h2v2h-2zm0 0h2v2h-2zm0 1h2v2h-2zm0 1h2v2h-2zm0 1h2v2h-2zm1-4h2v2h-2zm0 3h2v2h-2zm1-3h2v2h-2zm0 1h2v2h-2zm0 0h2v2h-2zm0 3h2v2h-2zm1-1h2v2h-2zm2-5h2v2h-2zm0 6h2v2h-2zm1-5h2v2h-2zm0 3h2v2h-2zm2-9h2v2h-2zm0 4h2v2h-2zm0 3h2v2h-2zm0 4h2v2h-2zm1-7h2v2h-2zm0 3h2v2h-2zm0 1h2v2h-2zm2-5h2v2h-2zm0 0h2v2h-2zm0 9h2v2h-2zm1-4h2v2h-2zm0 0h2v2h-2zm1 2h2v2h-2zm0 0h2v2h-2zm1 3h2v2h-2zm1-7h2v2h-2zm0 1h2v2h-2zm1 0h2v2h-2zm1-2h2v2h-2zm0 1h2v2h-2zm0 3h2v2h-2zm1-8h2v2h-2zm0 3h2v2h-2zm0 2h2v2h-2zm0 3h2v2h-2zm2-5h2v2h-2zm0 0h2v2h-2zm0 1h2v2h-2zm0 1h2v2h-2zm0 1h2v2h-2zm0 2h2v2h-2zm1-2h2v2h-2zm0 2h2v2h-2zm0 2h2v2h-2zm1-3h2v2h-2zm1-1h2v2h-2zm0 1h2v2h-2zm0 2h2v2h-2zm1-6h2v2h-2zm0 3h2v2h-2zm1 0h2v2h-2zm1-2h2v2h-2zm0 1h2v2h-2zm0 0h2v2h-2zm0 1h2v2h-2zm1-4h2v2h-2zm0 2h2v2h-2zm0 4h2v2h-2zm1-3h2v2h-2zm0 6h2v2h-2zm0 10h2v2h-2zm1-15h2v2h-2zm0 1h2v2h-2zm0 0h2v2h-2zm0 0h2v2h-2zm0 3h2v2h-2zm1 0h2v2h-2zm1-9h2v2h-2zm0 3h2v2h-2zm0 2h2v2h-2zm0 1h2v2h-2zm0 1h2v2h-2zm1-9h2v2h-2zm0 4h2v2h-2zm0 4h2v2h-2zm0 6h2v2h-2zm1-11h2v2h-2zm0 3h2v2h-2zm1-1h2v2h-2zm0 1h2v2h-2zm0 7h2v2h-2zm1-5h2v2h-2zm1-3h2v2h-2zm1-2h2v2h-2zm0 5h2v2h-2zm0 1h2v2h-2zm0 4h2v2h-2zm0 1h2v2h-2zm1-14h2v2h-2zm0 7h2v2h-2zm0 2h2v2h-2zm0 5h2v2h-2zm1-11h2v2h-2zm0 6h2v2h-2zm1-2h2v2h-2zm0 2h2v2h-2zm0 1h2v2h-2zm2-11h2v2h-2zm0 4h2v2h-2zm0 0h2v2h-2zm0 0h2v2h-2zm0 2h2v2h-2zm0 2h2v2h-2zm0 7h2v2h-2zm1-8h2v2h-2zm0 0h2v2h-2zm0 1h2v2h-2zm0 0h2v2h-2zm0 0h2v2h-2zm0 1h2v2h-2zm0 1h2v2h-2zm2-6h2v2h-2zm0 3h2v2h-2zm0 4h2v2h-2zm1-4h2v2h-2zm0 3h2v2h-2zm1-7h2v2h-2zm0 2h2v2h-2zm0 0h2v2h-2zm1 2h2v2h-2zm0 0h2v2h-2zm0 3h2v2h-2zm0 0h2v2h-2zm1-5h2v2h-2zm0 3h2v2h-2zm0 1h2v2h-2zm0 2h2v2h-2zm0 1h2v2h-2zm1-3h2v2h-2zm0 3h2v2h-2zm3-4h2v2h-2zm0 5h2v2h-2zm1-11h2v2h-2zm0 1h2v2h-2zm0 2h2v2h-2zm0 4h2v2h-2zm1-3h2v2h-2zm0 2h2v2h-2zm0 3h2v2h-2zm0 0h2v2h-2zm2-6h2v2h-2zm1 0h2v2h-2zm0 1h2v2h-2zm0 0h2v2h-2zm0 6h2v2h-2zm0 1h2v2h-2zm1-4h2v2h-2zm1-2h2v2h-2zm0 3h2v2h-2zm1-5h2v2h-2zm0 6h2v2h-2zm3 2h2v2h-2zm0 0h2v2h-2zm1-3h2v2h-2zm0 1h2v2h-2zm0 3h2v2h-2zm1-6h2v2h-2zm0 5h2v2h-2zm1-7h2v2h-2zm0 3h2v2h-2zm0 0h2v2h-2zm0 0h2v2h-2zm1-4h2v2h-2zm0 5h2v2h-2zm1-8h2v2h-2zm0 4h2v2h-2zm0 1h2v2h-2zm1-2h2v2h-2zm1 0h2v2h-2zm0 2h2v2h-2zm0 5h2v2h-2zm1-5h2v2h-2zm0 3h2v2h-2zm1-1h2v2h-2zm0 0h2v2h-2zm1 1h2v2h-2zm0 2h2v2h-2zm1-10h2v2h-2zm0 4h2v2h-2zm0 1h2v2h-2zm0 1h2v2h-2zm0 1h2v2h-2zm1-14h2v2h-2zm0 14h2v2h-2zm0 1h2v2h-2zm1-5h2v2h-2zm0 3h2v2h-2zm0 1h2v2h-2zm0 1h2v2h-2zm1-3h2v2h-2zm0 8h2v2h-2zm1-9h2v2h-2zm0 1h2v2h-2zm0 4h2v2h-2zm1-1h2v2h-2zm1-6h2v2h-2zm0 1h2v2h-2zm1-1h2v2h-2zm0 2h2v2h-2zm0 4h2v2h-2zm1-5h2v2h-2zm0 1h2v2h-2zm1 0h2v2h-2zm0 4h2v2h-2zm0 0h2v2h-2zm1-6h2v2h-2zm0 5h2v2h-2zm0 3h2v2h-2zm1-6h2v2h-2zm0 2h2v2h-2zm0 2h2v2h-2zm1-2h2v2h-2zm0 3h2v2h-2zm1-7h2v2h-2zm0 1h2v2h-2zm0 2h2v2h-2zm0 3h2v2h-2zm0 0h2v2h-2zm0 1h2v2h-2zm0 3h2v2h-2zm1-10h2v2h-2zm0 1h2v2h-2zm1 4h2v2h-2zm0 0h2v2h-2zm0 0h2v2h-2zm1-1h2v2h-2zm1 1h2v2h-2zm0 2h2v2h-2zm0 0h2v2h-2zm1-3h2v2h-2zm0 1h2v2h-2zm0 3h2v2h-2zm0 1h2v2h-2zm1-8h2v2h-2zm0 2h2v2h-2zm1-4h2v2h-2zm0 3h2v2h-2zm0 1h2v2h-2zm0 2h2v2h-2zm0 1h2v2h-2zm1-3h2v2h-2zm0 1h2v2h-2zm1-2h2v2h-2zm0 2h2v2h-2zm1-1h2v2h-2zm0 0h2v2h-2zm0 4h2v2h-2zm1-7h2v2h-2zm0 1h2v2h-2zm0 3h2v2h-2zm0 5h2v2h-2zm1 1h2v2h-2zm2-5h2v2h-2zm0 1h2v2h-2zm1-1h2v2h-2zm1-6h2v2h-2zm1 2h2v2h-2zm0 3h2v2h-2zm0 1h2v2h-2zm1 1h2v2h-2zm0 1h2v2h-2zm0 1h2v2h-2zm1-3h2v2h-2zm0 1h2v2h-2zm1-3h2v2h-2zm0 2h2v2h-2zm1 1h2v2h-2zm0 2h2v2h-2zm1-5h2v2h-2zm1-5h2v2h-2zm0 2h2v2h-2zm0 3h2v2h-2zm0 2h2v2h-2zm0 4h2v2h-2zm1-10h2v2h-2zm0 1h2v2h-2zm0 2h2v2h-2zm0 0h2v2h-2zm0 2h2v2h-2zm0 3h2v2h-2zm1-7h2v2h-2zm0 1h2v2h-2zm0 0h2v2h-2zm0 6h2v2h-2zm1-8h2v2h-2zm0 2h2v2h-2zm0 3h2v2h-2zm0 17h2v2h-2zm1-20h2v2h-2zm0 0h2v2h-2zm0 7h2v2h-2zm1-5h2v2h-2zm0 0h2v2h-2zm0 1h2v2h-2zm0 1h2v2h-2zm0 1h2v2h-2zm0 0h2v2h-2zm0 1h2v2h-2zm0 4h2v2h-2zm1-9h2v2h-2zm0 3h2v2h-2zm0 1h2v2h-2zm0 1h2v2h-2zm1-4h2v2h-2zm0 4h2v2h-2zm1-8h2v2h-2zm0 2h2v2h-2zm0 0h2v2h-2zm0 4h2v2h-2zm0 2h2v2h-2zm2-5h2v2h-2zm0 0h2v2h-2zm0 4h2v2h-2zm1-3h2v2h-2zm0 3h2v2h-2zm0 3h2v2h-2zm1-10h2v2h-2zm0 7h2v2h-2zm1-3h2v2h-2zm1 1h2v2h-2zm0 1h2v2h-2zm0 2h2v2h-2zm0 4h2v2h-2zm1-9h2v2h-2zm0 2h2v2h-2zm0 2h2v2h-2zm1-8h2v2h-2zm0 7h2v2h-2zm0 5h2v2h-2zm1-7h2v2h-2zm0 3h2v2h-2zm1-2h2v2h-2zm1-3h2v2h-2zm0 1h2v2h-2zm1 4h2v2h-2zm0 0h2v2h-2zm0 1h2v2h-2zm0 2h2v2h-2zm1-5h2v2h-2zm0 0h2v2h-2zm0 1h2v2h-2zm0 0h2v2h-2zm0 0h2v2h-2zm1 1h2v2h-2zm0 0h2v2h-2zm0 1h2v2h-2zm1-6h2v2h-2zm0 1h2v2h-2zm0 2h2v2h-2zm0 2h2v2h-2zm1-4h2v2h-2zm0 2h2v2h-2zm0 0h2v2h-2zm0 0h2v2h-2zm1 0h2v2h-2zm0 1h2v2h-2zm1-6h2v2h-2zm0 6h2v2h-2zm0 2h2v2h-2zm1-1h2v2h-2zm0 2h2v2h-2zm1-8h2v2h-2zm0 1h2v2h-2zm0 2h2v2h-2zm0 1h2v2h-2zm0 1h2v2h-2zm1-2h2v2h-2zm0 0h2v2h-2zm0 1h2v2h-2zm0 0h2v2h-2zm0 0h2v2h-2zm1-3h2v2h-2zm0 1h2v2h-2zm0 1h2v2h-2zm0 0h2v2h-2zm0 0h2v2h-2zm0 2h2v2h-2zm0 2h2v2h-2zm0 2h2v2h-2zm1-10h2v2h-2zm0 1h2v2h-2zm0 3h2v2h-2zm1-2h2v2h-2zm0 3h2v2h-2zm0 2h2v2h-2zm0 0h2v2h-2zm1-5h2v2h-2zm0 3h2v2h-2zm1 0h2v2h-2zm0 4h2v2h-2zm1-4h2v2h-2zm0 1h2v2h-2zm1-3h2v2h-2zm0 0h2v2h-2zm0 4h2v2h-2zm0 1h2v2h-2zm1 1h2v2h-2zm1-5h2v2h-2zm0 2h2v2h-2zm0 0h2v2h-2zm1-1h2v2h-2zm0 6h2v2h-2zm1-8h2v2h-2zm0 6h2v2h-2zm1-8h2v2h-2zm0 5h2v2h-2zm1-3h2v2h-2zm2 0h2v2h-2zm0 1h2v2h-2zm0 1h2v2h-2zm0 2h2v2h-2zm1-3h2v2h-2zm0 3h2v2h-2zm2-6h2v2h-2zm0 3h2v2h-2zm0 3h2v2h-2zm1-4h2v2h-2zm0 3h2v2h-2zm0 0h2v2h-2zm0 0h2v2h-2zm0 3h2v2h-2zm0 1h2v2h-2zm1-8h2v2h-2zm0 1h2v2h-2zm0 5h2v2h-2zm1 1h2v2h-2zm0 3h2v2h-2zm2-12h2v2h-2zm0 2h2v2h-2zm0 1h2v2h-2zm0 3h2v2h-2zm0 0h2v2h-2zm0 1h2v2h-2zm0 3h2v2h-2zm0 5h2v2h-2zm1-11h2v2h-2zm0 2h2v2h-2zm0 0h2v2h-2zm1-2h2v2h-2zm1 2h2v2h-2zm0 0h2v2h-2zm0 7h2v2h-2zm1-7h2v2h-2zm1-2h2v2h-2zm0 3h2v2h-2zm1-9h2v2h-2zm0 9h2v2h-2zm1-7h2v2h-2zm0 3h2v2h-2zm0 2h2v2h-2zm1-2h2v2h-2zm0 0h2v2h-2zm1 2h2v2h-2zm0 1h2v2h-2zm0 1h2v2h-2zm0 3h2v2h-2zm1-7h2v2h-2zm0 1h2v2h-2zm0 0h2v2h-2zm0 1h2v2h-2zm0 3h2v2h-2zm0 1h2v2h-2zm0 0h2v2h-2zm1-6h2v2h-2zm0 4h2v2h-2zm1-3h2v2h-2zm0 1h2v2h-2zm1-2h2v2h-2zm0 2h2v2h-2zm1-3h2v2h-2zm0 1h2v2h-2zm0 1h2v2h-2zm0 2h2v2h-2zm1 3h2v2h-2zm1-8h2v2h-2zm0 5h2v2h-2zm0 1h2v2h-2zm0 4h2v2h-2zm1-7h2v2h-2zm0 3h2v2h-2zm1-4h2v2h-2zm0 1h2v2h-2zm0 0h2v2h-2zm0 1h2v2h-2zm1-3h2v2h-2zm0 1h2v2h-2zm0 1h2v2h-2zm1 0h2v2h-2zm1-3h2v2h-2zm0 3h2v2h-2zm1-3h2v2h-2zm0 5h2v2h-2zm0 3h2v2h-2zm1-7h2v2h-2zm0 4h2v2h-2zm0 4h2v2h-2zm1-4h2v2h-2zm1-5h2v2h-2zm0 6h2v2h-2zm1-2h2v2h-2zm0 3h2v2h-2zm1-5h2v2h-2zm0 0h2v2h-2zm1 3h2v2h-2zm1-2h2v2h-2zm0 1h2v2h-2zm0 3h2v2h-2zm1-2h2v2h-2zm0 2h2v2h-2zm1-3h2v2h-2zm0 2h2v2h-2zm2-4h2v2h-2zm0 5h2v2h-2zm0 2h2v2h-2zm1-8h2v2h-2zm0 2h2v2h-2zm0 2h2v2h-2zm0 0h2v2h-2zm1-5h2v2h-2zm0 4h2v2h-2zm0 1h2v2h-2zm1-1h2v2h-2zm0 3h2v2h-2zm0 1h2v2h-2zm0 1h2v2h-2zm2-9h2v2h-2zm0 5h2v2h-2zm0 1h2v2h-2zm1-5h2v2h-2zm0 2h2v2h-2zm0 3h2v2h-2zm1-5h2v2h-2zm0 1h2v2h-2zm0 1h2v2h-2zm0 3h2v2h-2zm1-6h2v2h-2zm0 2h2v2h-2zm0 2h2v2h-2zm0 2h2v2h-2zm1-3h2v2h-2zm0 1h2v2h-2zm0 3h2v2h-2zm2 2h2v2h-2zm1-7h2v2h-2zm0 1h2v2h-2zm0 4h2v2h-2zm1-5h2v2h-2zm0 4h2v2h-2zm1-4h2v2h-2zm0 4h2v2h-2zm1-3h2v2h-2zm1-1h2v2h-2zm0 0h2v2h-2zm0 4h2v2h-2zm0 0h2v2h-2zm1-1h2v2h-2zm0 1h2v2h-2zm0 1h2v2h-2zm0 4h2v2h-2zm1-5h2v2h-2zm0 0h2v2h-2zm1-7h2v2h-2zm0 8h2v2h-2zm1-3h2v2h-2zm1-5h2v2h-2zm0 4h2v2h-2zm0 6h2v2h-2zm0 0h2v2h-2zm1-7h2v2h-2zm0 1h2v2h-2zm0 2h2v2h-2zm1-3h2v2h-2zm0 0h2v2h-2zm0 1h2v2h-2zm0 1h2v2h-2zm1-1h2v2h-2zm0 1h2v2h-2zm0 1h2v2h-2zm0 1h2v2h-2zm1-8h2v2h-2zm0 1h2v2h-2zm0 3h2v2h-2zm1 3h2v2h-2zm0 3h2v2h-2zm1-5h2v2h-2zm0 2h2v2h-2zm0 2h2v2h-2zm0 3h2v2h-2zm1-9h2v2h-2zm0 3h2v2h-2zm0 4h2v2h-2zm1-6h2v2h-2zm0 1h2v2h-2zm0 5h2v2h-2zm1-2h2v2h-2zm1-3h2v2h-2zm0 1h2v2h-2zm0 2h2v2h-2zm1-4h2v2h-2zm0 1h2v2h-2zm0 2h2v2h-2zm0 7h2v2h-2zm1-8h2v2h-2zm0 0h2v2h-2zm0 4h2v2h-2zm1-4h2v2h-2zm1 0h2v2h-2zm0 0h2v2h-2zm0 3h2v2h-2zm1-3h2v2h-2zm0 1h2v2h-2zm0 2h2v2h-2zm1-5h2v2h-2zm0 2h2v2h-2zm1 0h2v2h-2zm0 2h2v2h-2zm0 2h2v2h-2zm1-6h2v2h-2zm0 1h2v2h-2zm0 1h2v2h-2zm0 1h2v2h-2zm1-3h2v2h-2zm0 1h2v2h-2zm0 0h2v2h-2zm1-1h2v2h-2zm0 1h2v2h-2zm0 3h2v2h-2zm1 1h2v2h-2zm0 1h2v2h-2zm1-6h2v2h-2zm1-3h2v2h-2zm0 2h2v2h-2zm0 3h2v2h-2zm0 2h2v2h-2zm0 0h2v2h-2zm1-3h2v2h-2zm1 0h2v2h-2zm0 3h2v2h-2zm1-2h2v2h-2zm0 1h2v2h-2zm0 3h2v2h-2zm1-6h2v2h-2zm0 1h2v2h-2zm0 3h2v2h-2zm1-2h2v2h-2zm1-3h2v2h-2zm0 6h2v2h-2zm2-7h2v2h-2zm0 2h2v2h-2zm0 1h2v2h-2zm0 2h2v2h-2zm1-1h2v2h-2zm0 2h2v2h-2zm0 4h2v2h-2zm1-8h2v2h-2zm0 2h2v2h-2zm0 2h2v2h-2zm0 1h2v2h-2zm1-6h2v2h-2zm0 5h2v2h-2zm1-2h2v2h-2zm0 2h2v2h-2zm1-5h2v2h-2zm0 2h2v2h-2zm0 1h2v2h-2zm0 3h2v2h-2zm1-4h2v2h-2zm0 0h2v2h-2zm0 2h2v2h-2zm0 4h2v2h-2zm1-7h2v2h-2zm0 7h2v2h-2zm3-1h2v2h-2zm1-5h2v2h-2zm0 1h2v2h-2zm1-2h2v2h-2zm1 1h2v2h-2zm0 1h2v2h-2zm0 0h2v2h-2zm0 5h2v2h-2zm1-8h2v2h-2zm0 3h2v2h-2zm0 1h2v2h-2zm0 7h2v2h-2zm1-15h2v2h-2zm0 8h2v2h-2zm0 1h2v2h-2zm1-4h2v2h-2zm0 0h2v2h-2zm0 2h2v2h-2zm1 0h2v2h-2zm0 5h2v2h-2zm1-8h2v2h-2zm0 3h2v2h-2zm1 1h2v2h-2zm0 3h2v2h-2zm0 1h2v2h-2zm1-6h2v2h-2zm0 1h2v2h-2zm0 0h2v2h-2zm1-4h2v2h-2zm0 4h2v2h-2zm0 0h2v2h-2zm0 1h2v2h-2zm1-3h2v2h-2zm0 0h2v2h-2zm0 6h2v2h-2zm1-4h2v2h-2zm1-2h2v2h-2zm0 0h2v2h-2zm0 3h2v2h-2zm1-3h2v2h-2zm0 3h2v2h-2zm0 0h2v2h-2zm0 2h2v2h-2zm0 0h2v2h-2zm1-4h2v2h-2zm0 0h2v2h-2zm1 0h2v2h-2zm0 1h2v2h-2zm0 3h2v2h-2zm1-7h2v2h-2zm0 1h2v2h-2zm0 0h2v2h-2zm0 2h2v2h-2zm0 0h2v2h-2zm0 3h2v2h-2zm1-1h2v2h-2zm0 1h2v2h-2zm2-2h2v2h-2zm0 1h2v2h-2zm0 1h2v2h-2zm1-2h2v2h-2zm1-3h2v2h-2zm0 6h2v2h-2zm1-5h2v2h-2zm0 2h2v2h-2zm0 1h2v2h-2zm1-8h2v2h-2zm0 6h2v2h-2zm1-1h2v2h-2zm0 3h2v2h-2zm1-2h2v2h-2zm0 1h2v2h-2zm0 3h2v2h-2zm0 0h2v2h-2zm1-6h2v2h-2zm0 1h2v2h-2zm0 2h2v2h-2zm0 2h2v2h-2zm1-4h2v2h-2zm0 4h2v2h-2zm0 0h2v2h-2zm0 0h2v2h-2zm1-5h2v2h-2zm0 1h2v2h-2zm0 1h2v2h-2zm0 1h2v2h-2zm0 0h2v2h-2zm0 2h2v2h-2zm0 2h2v2h-2zm1-4h2v2h-2zm0 0h2v2h-2zm0 1h2v2h-2zm1 0h2v2h-2zm2-3h2v2h-2zm0 5h2v2h-2zm0 0h2v2h-2zm1-8h2v2h-2zm0 1h2v2h-2zm1 3h2v2h-2zm0 0h2v2h-2zm0 1h2v2h-2zm0 1h2v2h-2zm0 0h2v2h-2zm0 2h2v2h-2zm1-4h2v2h-2zm0 1h2v2h-2zm1-1h2v2h-2zm0 2h2v2h-2zm0 2h2v2h-2zm1-5h2v2h-2zm0 4h2v2h-2zm0 3h2v2h-2zm0 0h2v2h-2zm2-7h2v2h-2zm0 0h2v2h-2zm0 2h2v2h-2zm1-1h2v2h-2zm0 1h2v2h-2zm1-1h2v2h-2zm1 2h2v2h-2zm0 2h2v2h-2zm1-4h2v2h-2zm0 1h2v2h-2zm0 3h2v2h-2zm1-8h2v2h-2zm0 5h2v2h-2zm0 1h2v2h-2zm0 2h2v2h-2zm1-8h2v2h-2zm0 8h2v2h-2zm1-5h2v2h-2zm0 1h2v2h-2zm0 1h2v2h-2zm0 2h2v2h-2zm1-7h2v2h-2zm0 6h2v2h-2zm1-4h2v2h-2zm0 1h2v2h-2zm0 4h2v2h-2zm0 0h2v2h-2zm0 1h2v2h-2zm1-3h2v2h-2zm0 0h2v2h-2zm0 0h2v2h-2zm0 3h2v2h-2zm0 1h2v2h-2zm1-7h2v2h-2zm0 1h2v2h-2zm0 5h2v2h-2zm1-3h2v2h-2zm0 1h2v2h-2zm0 0h2v2h-2zm0 3h2v2h-2zm0 0h2v2h-2zm0 0h2v2h-2zm0 0h2v2h-2zm1-6h2v2h-2zm0 0h2v2h-2zm0 1h2v2h-2zm0 1h2v2h-2zm0 5h2v2h-2zm1-6h2v2h-2zm0 3h2v2h-2zm2-3h2v2h-2zm0 2h2v2h-2zm1-6h2v2h-2zm0 5h2v2h-2zm0 3h2v2h-2zm0 1h2v2h-2zm2-7h2v2h-2zm0 3h2v2h-2zm0 2h2v2h-2zm2-2h2v2h-2zm1-1h2v2h-2zm0 14h2v2h-2zm1-16h2v2h-2zm0 2h2v2h-2zm0 1h2v2h-2zm1-3h2v2h-2zm0 3h2v2h-2zm0 2h2v2h-2zm0 1h2v2h-2zm1-8h2v2h-2zm0 0h2v2h-2zm0 2h2v2h-2zm0 2h2v2h-2zm0 1h2v2h-2zm1-1h2v2h-2zm2 5h2v2h-2zm1-16h2v2h-2zm0 10h2v2h-2zm0 3h2v2h-2zm1 0h2v2h-2zm13 2h2v2h-2zm1-5h2v2h-2zm1 2h2v2h-2zm0 0h2v2h-2zm1-4h2v2h-2zm0 2h2v2h-2zm0 2h2v2h-2zm0 3h2v2h-2zm1-9h2v2h-2zm0 5h2v2h-2zm0 3h2v2h-2zm0 2h2v2h-2zm1-5h2v2h-2zm0 1h2v2h-2zm0 3h2v2h-2zm0 0h2v2h-2zm0 1h2v2h-2zm1-2h2v2h-2zm0 1h2v2h-2zm1-8h2v2h-2zm0 3h2v2h-2zm0 3h2v2h-2zm1-4h2v2h-2zm0 4h2v2h-2zm0 0h2v2h-2zm0 2h2v2h-2zm3-3h2v2h-2zm0 0h2v2h-2zm0 1h2v2h-2zm1 0h2v2h-2zm1-3h2v2h-2zm0 1h2v2h-2zm0 0h2v2h-2zm0 1h2v2h-2zm1-3h2v2h-2zm0 1h2v2h-2zm0 6h2v2h-2zm1-3h2v2h-2zm0 2h2v2h-2zm1-4h2v2h-2zm0 2h2v2h-2zm0 1h2v2h-2zm1-4h2v2h-2zm0 6h2v2h-2zm1-7h2v2h-2zm0 1h2v2h-2zm0 1h2v2h-2zm0 2h2v2h-2zm0 0h2v2h-2zm1-1h2v2h-2zm1-3h2v2h-2zm0 2h2v2h-2zm0 0h2v2h-2zm0 1h2v2h-2zm0 0h2v2h-2zm0 1h2v2h-2zm1 2h2v2h-2zm0 0h2v2h-2zm1-7h2v2h-2zm0 5h2v2h-2zm0 2h2v2h-2zm1-5h2v2h-2zm0 2h2v2h-2zm0 1h2v2h-2zm0 0h2v2h-2zm0 4h2v2h-2zm0 0h2v2h-2zm0 1h2v2h-2zm1-10h2v2h-2zm0 1h2v2h-2zm0 2h2v2h-2zm0 1h2v2h-2zm1-3h2v2h-2zm0 1h2v2h-2zm0 2h2v2h-2zm0 2h2v2h-2zm0 3h2v2h-2zm0 0h2v2h-2zm1-7h2v2h-2zm0 1h2v2h-2zm0 0h2v2h-2zm0 2h2v2h-2zm1 3h2v2h-2zm1-3h2v2h-2zm2-5h2v2h-2zm0 5h2v2h-2zm1-2h2v2h-2zm0 0h2v2h-2zm0 1h2v2h-2zm1 1h2v2h-2zm1-2h2v2h-2zm0 3h2v2h-2zm0 0h2v2h-2zm1-5h2v2h-2zm0 2h2v2h-2zm0 1h2v2h-2zm0 3h2v2h-2zm1-1h2v2h-2zm1-1h2v2h-2zm1 0h2v2h-2zm0 3h2v2h-2zm1-11h2v2h-2zm0 3h2v2h-2zm1 1h2v2h-2zm0 3h2v2h-2zm0 0h2v2h-2zm0 1h2v2h-2zm2-5h2v2h-2zm0 4h2v2h-2zm0 3h2v2h-2zm1-5h2v2h-2zm0 1h2v2h-2zm0 6h2v2h-2zm1-9h2v2h-2zm1 1h2v2h-2zm0 3h2v2h-2zm0 0h2v2h-2zm0 3h2v2h-2zm1-6h2v2h-2zm0 5h2v2h-2zm1-3h2v2h-2zm0 2h2v2h-2zm0 3h2v2h-2zm1-8h2v2h-2zm0 1h2v2h-2zm0 2h2v2h-2zm0 1h2v2h-2zm0 0h2v2h-2zm0 2h2v2h-2zm1-3h2v2h-2zm0 2h2v2h-2zm0 2h2v2h-2zm1-4h2v2h-2zm0 1h2v2h-2zm0 0h2v2h-2zm1-3h2v2h-2zm0 1h2v2h-2zm0 0h2v2h-2zm0 0h2v2h-2zm0 3h2v2h-2zm0 0h2v2h-2zm0 4h2v2h-2zm0 4h2v2h-2zm1-13h2v2h-2zm0 3h2v2h-2zm0 1h2v2h-2zm0 0h2v2h-2zm0 1h2v2h-2zm1 2h2v2h-2zm1-1h2v2h-2zm1-9h2v2h-2zm0 5h2v2h-2zm0 1h2v2h-2zm0 0h2v2h-2zm0 2h2v2h-2zm1-4h2v2h-2zm0 4h2v2h-2zm0 1h2v2h-2zm0 0h2v2h-2zm0 1h2v2h-2zm0 2h2v2h-2zm1-5h2v2h-2zm3 0h2v2h-2zm0 1h2v2h-2zm1-1h2v2h-2zm0 1h2v2h-2zm0 2h2v2h-2zm1-4h2v2h-2zm0 3h2v2h-2zm0 3h2v2h-2zm1-9h2v2h-2zm0 5h2v2h-2zm0 0h2v2h-2zm1-6h2v2h-2zm0 4h2v2h-2zm0 4h2v2h-2zm1-5h2v2h-2zm0 2h2v2h-2zm0 3h2v2h-2zm1-4h2v2h-2zm0 0h2v2h-2zm0 1h2v2h-2zm0 0h2v2h-2zm0 2h2v2h-2zm0 2h2v2h-2zm0 1h2v2h-2zm1-6h2v2h-2zm0 1h2v2h-2zm0 2h2v2h-2zm0 2h2v2h-2zm1-2h2v2h-2zm0 0h2v2h-2zm0 1h2v2h-2zm1-7h2v2h-2zm0 3h2v2h-2zm0 3h2v2h-2zm0 0h2v2h-2zm0 0h2v2h-2zm0 2h2v2h-2zm1-3h2v2h-2zm0 1h2v2h-2zm0 2h2v2h-2zm1-9h2v2h-2zm0 11h2v2h-2zm1-1h2v2h-2zm1-6h2v2h-2zm0 1h2v2h-2zm0 1h2v2h-2zm0 2h2v2h-2zm1-7h2v2h-2zm0 2h2v2h-2zm0 1h2v2h-2zm0 1h2v2h-2zm0 2h2v2h-2zm1-7h2v2h-2zm0 6h2v2h-2zm0 0h2v2h-2zm0 3h2v2h-2zm1-3h2v2h-2zm0 3h2v2h-2zm0 0h2v2h-2zm1-3h2v2h-2zm0 1h2v2h-2zm0 4h2v2h-2zm1-10h2v2h-2zm0 8h2v2h-2zm1-5h2v2h-2zm0 2h2v2h-2zm0 0h2v2h-2zm1-1h2v2h-2zm2-1h2v2h-2zm0 0h2v2h-2zm0 2h2v2h-2zm0 0h2v2h-2zm0 2h2v2h-2zm0 3h2v2h-2zm1-4h2v2h-2zm0 0h2v2h-2zm0 2h2v2h-2zm1-6h2v2h-2zm1 1h2v2h-2zm0 1h2v2h-2zm0 0h2v2h-2zm0 2h2v2h-2zm1-3h2v2h-2zm1-1h2v2h-2zm0 2h2v2h-2zm0 0h2v2h-2zm0 0h2v2h-2zm0 1h2v2h-2zm0 1h2v2h-2zm0 0h2v2h-2zm0 0h2v2h-2zm1-3h2v2h-2zm0 0h2v2h-2zm0 1h2v2h-2zm0 3h2v2h-2zm1-4h2v2h-2zm0 0h2v2h-2zm2-2h2v2h-2zm0 3h2v2h-2zm0 2h2v2h-2zm0 4h2v2h-2zm1-5h2v2h-2zm0 3h2v2h-2zm1-8h2v2h-2zm0 9h2v2h-2zm1-8h2v2h-2zm0 2h2v2h-2zm1 6h2v2h-2zm1-8h2v2h-2zm0 5h2v2h-2zm1-3h2v2h-2zm0 1h2v2h-2zm0 4h2v2h-2zm1-6h2v2h-2zm0 1h2v2h-2zm0 3h2v2h-2zm1-4h2v2h-2zm0 0h2v2h-2zm1 0h2v2h-2zm0 8h2v2h-2zm1-6h2v2h-2zm0 0h2v2h-2zm0 1h2v2h-2zm0 0h2v2h-2zm0 1h2v2h-2zm0 0h2v2h-2zm1-6h2v2h-2zm0 1h2v2h-2zm0 5h2v2h-2zm0 2h2v2h-2zm1-4h2v2h-2zm0 0h2v2h-2zm0 2h2v2h-2zm1-4h2v2h-2zm0 5h2v2h-2zm0 5h2v2h-2zm1-7h2v2h-2zm0 0h2v2h-2zm0 5h2v2h-2zm1-10h2v2h-2zm0 3h2v2h-2zm0 1h2v2h-2zm0 2h2v2h-2zm0 5h2v2h-2zm1-8h2v2h-2zm0 2h2v2h-2zm0 2h2v2h-2zm1-5h2v2h-2zm0 0h2v2h-2zm0 0h2v2h-2zm0 1h2v2h-2zm1 0h2v2h-2zm0 1h2v2h-2zm0 1h2v2h-2zm0 1h2v2h-2zm1-1h2v2h-2zm1-2h2v2h-2zm0 1h2v2h-2zm0 1h2v2h-2zm0 6h2v2h-2zm1-9h2v2h-2zm0 0h2v2h-2zm1-1h2v2h-2zm0 3h2v2h-2zm0 3h2v2h-2zm1 0h2v2h-2zm0 0h2v2h-2zm1-7h2v2h-2zm0 6h2v2h-2zm0 1h2v2h-2zm0 3h2v2h-2zm1-8h2v2h-2zm0 4h2v2h-2zm1-4h2v2h-2zm0 2h2v2h-2zm0 3h2v2h-2zm1 1h2v2h-2zm1-8h2v2h-2zm1-7h2v2h-2zm1 15h2v2h-2zm0 1h2v2h-2zm1-7h2v2h-2zm0 0h2v2h-2zm0 1h2v2h-2zm0 1h2v2h-2zm0 2h2v2h-2zm0 2h2v2h-2zm1-2h2v2h-2zm1-4h2v2h-2zm0 1h2v2h-2zm0 3h2v2h-2zm1-4h2v2h-2zm0 4h2v2h-2zm1-4h2v2h-2zm0 4h2v2h-2zm1 0h2v2h-2zm1-8h2v2h-2zm0 2h2v2h-2zm0 2h2v2h-2zm1-2h2v2h-2zm0 4h2v2h-2zm0 2h2v2h-2zm0 0h2v2h-2zm1-4h2v2h-2zm0 1h2v2h-2zm0 3h2v2h-2zm0 1h2v2h-2zm0 1h2v2h-2zm1-10h2v2h-2zm0 3h2v2h-2zm0 1h2v2h-2zm0 3h2v2h-2zm1-3h2v2h-2zm0 3h2v2h-2zm1 0h2v2h-2zm0 0h2v2h-2zm0 1h2v2h-2zm1-5h2v2h-2zm0 1h2v2h-2zm0 4h2v2h-2zm1-4h2v2h-2zm1 1h2v2h-2zm0 3h2v2h-2zm0 2h2v2h-2zm1-5h2v2h-2zm0 1h2v2h-2zm0 5h2v2h-2zm1-9h2v2h-2zm0 3h2v2h-2zm0 2h2v2h-2zm1 0h2v2h-2zm0 1h2v2h-2zm1 1h2v2h-2zm1-5h2v2h-2zm0 3h2v2h-2zm0 0h2v2h-2zm0 3h2v2h-2zm1-7h2v2h-2zm2 0h2v2h-2zm0 1h2v2h-2zm0 3h2v2h-2zm1-4h2v2h-2zm0 1h2v2h-2zm0 3h2v2h-2zm0 1h2v2h-2zm1-3h2v2h-2zm0 3h2v2h-2zm1-3h2v2h-2zm0 1h2v2h-2zm2-1h2v2h-2zm1-1h2v2h-2zm0 3h2v2h-2zm0 2h2v2h-2zm1-7h2v2h-2zm0 3h2v2h-2zm0 4h2v2h-2zm1-6h2v2h-2zm0 1h2v2h-2zm0 2h2v2h-2zm0 2h2v2h-2zm1-2h2v2h-2zm0 1h2v2h-2zm0 1h2v2h-2zm0 1h2v2h-2zm1-7h2v2h-2zm0 3h2v2h-2zm0 4h2v2h-2zm0 1h2v2h-2zm1-5h2v2h-2zm0 0h2v2h-2zm0 1h2v2h-2zm1-3h2v2h-2zm0 0h2v2h-2zm0 2h2v2h-2zm1-3h2v2h-2zm0 2h2v2h-2zm1-2h2v2h-2zm0 4h2v2h-2zm0 3h2v2h-2zm0 2h2v2h-2zm1-7h2v2h-2zm0 4h2v2h-2zm0 1h2v2h-2zm1-6h2v2h-2zm0 1h2v2h-2zm0 2h2v2h-2zm0 1h2v2h-2zm0 0h2v2h-2zm0 5h2v2h-2zm1-6h2v2h-2zm0 2h2v2h-2zm2-4h2v2h-2zm0 2h2v2h-2zm0 0h2v2h-2zm0 0h2v2h-2zm0 4h2v2h-2zm1-5h2v2h-2zm0 3h2v2h-2zm1-3h2v2h-2zm1-5h2v2h-2zm1 1h2v2h-2zm1 3h2v2h-2zm0 2h2v2h-2zm0 0h2v2h-2zm1-4h2v2h-2zm1 2h2v2h-2zm1-1h2v2h-2zm0 2h2v2h-2zm0 2h2v2h-2zm0 0h2v2h-2zm0 1h2v2h-2zm1 1h2v2h-2zm1-3h2v2h-2zm0 1h2v2h-2zm0 0h2v2h-2zm0 0h2v2h-2zm0 0h2v2h-2zm1-7h2v2h-2zm0 8h2v2h-2zm2-4h2v2h-2zm0 1h2v2h-2zm0 4h2v2h-2zm0 1h2v2h-2zm1-5h2v2h-2zm0 2h2v2h-2zm0 1h2v2h-2zm1-4h2v2h-2zm2 3h2v2h-2zm0 0h2v2h-2zm1 0h2v2h-2zm1-5h2v2h-2zm0 1h2v2h-2zm0 1h2v2h-2zm0 1h2v2h-2zm0 1h2v2h-2zm0 3h2v2h-2zm1-7h2v2h-2zm0 3h2v2h-2zm0 3h2v2h-2zm0 0h2v2h-2zm1-3h2v2h-2zm0 4h2v2h-2zm1-10h2v2h-2zm0 4h2v2h-2zm0 3h2v2h-2zm1 1h2v2h-2zm0 1h2v2h-2zm1-6h2v2h-2zm0 2h2v2h-2zm1 1h2v2h-2zm0 1h2v2h-2zm1-1h2v2h-2zm0 2h2v2h-2zm0 0h2v2h-2zm0 1h2v2h-2zm1-3h2v2h-2zm0 1h2v2h-2zm0 0h2v2h-2zm0 1h2v2h-2zm0 0h2v2h-2zm1 0h2v2h-2zm0 5h2v2h-2zm1-9h2v2h-2zm0 2h2v2h-2zm0 4h2v2h-2zm0 2h2v2h-2zm1-9h2v2h-2zm0 2h2v2h-2zm0 1h2v2h-2zm0 1h2v2h-2zm0 11h2v2h-2zm1-12h2v2h-2zm0 2h2v2h-2zm0 6h2v2h-2zm1-11h2v2h-2zm0 3h2v2h-2zm0 1h2v2h-2zm0 5h2v2h-2zm1-9h2v2h-2zm0 1h2v2h-2zm0 3h2v2h-2zm0 0h2v2h-2zm0 1h2v2h-2zm1-5h2v2h-2zm0 4h2v2h-2zm0 1h2v2h-2zm0 0h2v2h-2zm0 1h2v2h-2zm10-4h2v2h-2zm0 4h2v2h-2zm0 2h2v2h-2zm0 1h2v2h-2zm1-6h2v2h-2zm0 1h2v2h-2zm1 1h2v2h-2zm0 1h2v2h-2zm0 1h2v2h-2zm1-8h2v2h-2zm0 3h2v2h-2zm0 3h2v2h-2zm1-4h2v2h-2zm0 3h2v2h-2zm0 2h2v2h-2zm1-4h2v2h-2zm1-9h2v2h-2zm0 10h2v2h-2zm0 1h2v2h-2zm1-4h2v2h-2zm0 3h2v2h-2zm0 0h2v2h-2zm0 2h2v2h-2zm0 1h2v2h-2zm1-5h2v2h-2zm0 4h2v2h-2zm0 1h2v2h-2zm0 1h2v2h-2zm1-3h2v2h-2zm0 4h2v2h-2zm1-6h2v2h-2zm0 2h2v2h-2zm0 0h2v2h-2zm0 5h2v2h-2zm1-5h2v2h-2zm0 1h2v2h-2zm1-6h2v2h-2zm0 3h2v2h-2zm0 1h2v2h-2zm0 1h2v2h-2zm0 0h2v2h-2zm0 1h2v2h-2zm0 3h2v2h-2zm1 3h2v2h-2zm1-2h2v2h-2zm0 8h2v2h-2zm1-9h2v2h-2zm1-5h2v2h-2zm0 1h2v2h-2zm0 1h2v2h-2zm2-4h2v2h-2zm0 1h2v2h-2zm1 1h2v2h-2zm0 2h2v2h-2zm0 4h2v2h-2zm1-12h2v2h-2zm0 4h2v2h-2zm0 4h2v2h-2zm0 15h2v2h-2zm1-14h2v2h-2zm0 2h2v2h-2zm1-9h2v2h-2zm0 4h2v2h-2zm0 1h2v2h-2zm0 1h2v2h-2zm0 2h2v2h-2zm1-2h2v2h-2zm0 0h2v2h-2zm1-3h2v2h-2zm0 2h2v2h-2zm0 0h2v2h-2zm0 5h2v2h-2zm2-6h2v2h-2zm0 4h2v2h-2zm1-3h2v2h-2zm0 1h2v2h-2zm1-4h2v2h-2zm0 4h2v2h-2zm0 1h2v2h-2zm0 0h2v2h-2zm0 1h2v2h-2zm1-6h2v2h-2zm0 2h2v2h-2zm0 1h2v2h-2zm0 0h2v2h-2zm0 3h2v2h-2zm1-5h2v2h-2zm0 1h2v2h-2zm0 2h2v2h-2zm0 0h2v2h-2zm0 0h2v2h-2zm1-5h2v2h-2zm0 7h2v2h-2zm1-7h2v2h-2zm0 4h2v2h-2zm0 1h2v2h-2zm1-2h2v2h-2zm0 2h2v2h-2zm2-1h2v2h-2zm0 3h2v2h-2zm0 0h2v2h-2zm1-6h2v2h-2zm0 4h2v2h-2zm1-3h2v2h-2zm1 1h2v2h-2zm0 0h2v2h-2zm0 2h2v2h-2zm0 3h2v2h-2zm9-13h2v2h-2zm1 7h2v2h-2zm0 1h2v2h-2zm0 0h2v2h-2zm1 1h2v2h-2zm0 1h2v2h-2zm0 0h2v2h-2zm0 2h2v2h-2zm1-7h2v2h-2zm0 5h2v2h-2zm1-4h2v2h-2zm0 1h2v2h-2zm0 1h2v2h-2zm0 0h2v2h-2zm0 1h2v2h-2zm0 6h2v2h-2zm1-6h2v2h-2zm0 1h2v2h-2zm0 1h2v2h-2zm1-2h2v2h-2zm0 0h2v2h-2zm1-3h2v2h-2zm0 3h2v2h-2zm0 0h2v2h-2zm0 4h2v2h-2zm1-5h2v2h-2zm1 0h2v2h-2zm0 0h2v2h-2zm0 0h2v2h-2zm0 1h2v2h-2zm0 2h2v2h-2zm0 0h2v2h-2zm1-3h2v2h-2zm1 2h2v2h-2zm0 2h2v2h-2zm1-6h2v2h-2zm0 0h2v2h-2zm0 1h2v2h-2zm0 0h2v2h-2zm1 4h2v2h-2zm0 1h2v2h-2zm2-5h2v2h-2zm0 4h2v2h-2zm1-3h2v2h-2zm0 2h2v2h-2zm0 2h2v2h-2zm0 0h2v2h-2zm1-1h2v2h-2zm0 1h2v2h-2zm1-2h2v2h-2zm0 3h2v2h-2zm0 0h2v2h-2zm1-7h2v2h-2zm0 3h2v2h-2zm0 1h2v2h-2zm0 1h2v2h-2zm1-7h2v2h-2zm0 1h2v2h-2zm0 3h2v2h-2zm0 0h2v2h-2zm0 1h2v2h-2zm1-3h2v2h-2zm0 3h2v2h-2zm1 1h2v2h-2zm0 1h2v2h-2zm0 4h2v2h-2zm1-8h2v2h-2zm1 0h2v2h-2zm0 2h2v2h-2zm0 0h2v2h-2zm2-2h2v2h-2zm0 2h2v2h-2zm0 0h2v2h-2zm0 2h2v2h-2zm0 2h2v2h-2zm1-8h2v2h-2zm1 3h2v2h-2zm0 2h2v2h-2zm1 1h2v2h-2zm0 0h2v2h-2zm1-5h2v2h-2zm0 3h2v2h-2zm0 1h2v2h-2zm1-8h2v2h-2zm0 7h2v2h-2zm0 2h2v2h-2zm1-5h2v2h-2zm0 3h2v2h-2zm0 2h2v2h-2zm0 3h2v2h-2zm1-8h2v2h-2zm0 3h2v2h-2zm0 6h2v2h-2zm1-8h2v2h-2zm0 0h2v2h-2zm0 3h2v2h-2zm12-3h2v2h-2zm0 1h2v2h-2zm1 2h2v2h-2zm0 3h2v2h-2zm0 1h2v2h-2zm0 1h2v2h-2zm1-12h2v2h-2zm0 5h2v2h-2zm0 0h2v2h-2zm0 1h2v2h-2zm1-2h2v2h-2zm0 3h2v2h-2zm0 2h2v2h-2zm1-3h2v2h-2zm0 1h2v2h-2zm1-5h2v2h-2zm0 2h2v2h-2zm1 7h2v2h-2zm1-6h2v2h-2zm0 0h2v2h-2zm0 1h2v2h-2zm0 7h2v2h-2zm1-8h2v2h-2zm0 6h2v2h-2zm1-2h2v2h-2zm0 2h2v2h-2zm1-8h2v2h-2zm0 3h2v2h-2zm0 0h2v2h-2zm0 2h2v2h-2zm1-3h2v2h-2zm0 2h2v2h-2zm0 4h2v2h-2zm1-16h2v2h-2zm0 8h2v2h-2zm0 3h2v2h-2zm0 3h2v2h-2zm0 2h2v2h-2zm1-5h2v2h-2zm1-3h2v2h-2zm0 5h2v2h-2zm0 1h2v2h-2zm1-4h2v2h-2zm0 0h2v2h-2zm0 4h2v2h-2zm1-5h2v2h-2zm1 4h2v2h-2zm1-4h2v2h-2zm0 0h2v2h-2zm1 1h2v2h-2zm0 0h2v2h-2zm0 1h2v2h-2zm0 2h2v2h-2zm1-2h2v2h-2zm0 1h2v2h-2zm0 1h2v2h-2zm0 0h2v2h-2zm0 2h2v2h-2zm1-4h2v2h-2zm0 1h2v2h-2zm0 3h2v2h-2zm1-1h2v2h-2zm0 0h2v2h-2zm1 1h2v2h-2zm0 0h2v2h-2zm1 0h2v2h-2zm1-10h2v2h-2zm0 4h2v2h-2zm0 1h2v2h-2zm0 1h2v2h-2zm0 1h2v2h-2zm1-1h2v2h-2zm0 0h2v2h-2zm0 2h2v2h-2zm0 1h2v2h-2zm0 3h2v2h-2zm1-6h2v2h-2zm1-2h2v2h-2zm0 1h2v2h-2zm0 0h2v2h-2zm0 0h2v2h-2zm0 1h2v2h-2zm0 2h2v2h-2zm0 2h2v2h-2zm0 5h2v2h-2zm2-10h2v2h-2zm0 1h2v2h-2zm1-2h2v2h-2zm0 2h2v2h-2zm0 0h2v2h-2zm0 1h2v2h-2zm1-4h2v2h-2zm0 6h2v2h-2zm1-6h2v2h-2zm0 1h2v2h-2zm0 4h2v2h-2zm1 0h2v2h-2zm0 2h2v2h-2zm1-7h2v2h-2zm0 1h2v2h-2zm0 1h2v2h-2zm0 2h2v2h-2zm0 0h2v2h-2zm1-4h2v2h-2zm0 1h2v2h-2zm0 2h2v2h-2zm0 1h2v2h-2zm0 2h2v2h-2zm1-5h2v2h-2zm0 5h2v2h-2zm1-6h2v2h-2zm0 5h2v2h-2zm1-4h2v2h-2zm0 6h2v2h-2zm11-7h2v2h-2zm0 2h2v2h-2zm0 0h2v2h-2zm0 3h2v2h-2zm0 0h2v2h-2zm1-3h2v2h-2zm0 1h2v2h-2zm0 0h2v2h-2zm0 4h2v2h-2zm1-4h2v2h-2zm1 0h2v2h-2zm0 0h2v2h-2zm0 1h2v2h-2zm0 1h2v2h-2zm2-6h2v2h-2zm0 0h2v2h-2zm0 5h2v2h-2zm0 2h2v2h-2zm1-5h2v2h-2zm1-2h2v2h-2zm0 1h2v2h-2zm0 1h2v2h-2zm0 5h2v2h-2zm0 0h2v2h-2zm0 1h2v2h-2zm0 0h2v2h-2zm1-4h2v2h-2zm0 5h2v2h-2zm1-9h2v2h-2zm0 1h2v2h-2zm0 3h2v2h-2zm0 0h2v2h-2zm0 2h2v2h-2zm1-3h2v2h-2zm0 1h2v2h-2zm1-1h2v2h-2zm0 1h2v2h-2zm0 0h2v2h-2zm2-3h2v2h-2zm1 0h2v2h-2zm0 3h2v2h-2zm0 1h2v2h-2zm0 0h2v2h-2zm0 1h2v2h-2zm0 1h2v2h-2zm1-9h2v2h-2zm0 2h2v2h-2zm0 1h2v2h-2zm0 1h2v2h-2zm0 1h2v2h-2zm0 0h2v2h-2zm0 1h2v2h-2zm0 2h2v2h-2zm1-4h2v2h-2zm0 0h2v2h-2zm0 4h2v2h-2zm1-3h2v2h-2zm0 10h2v2h-2zm1-9h2v2h-2zm0 2h2v2h-2zm0 0h2v2h-2zm0 1h2v2h-2zm0 0h2v2h-2zm1 0h2v2h-2zm1-3h2v2h-2zm0 1h2v2h-2zm1-3h2v2h-2zm0 2h2v2h-2zm0 0h2v2h-2zm0 5h2v2h-2zm0 0h2v2h-2zm0 2h2v2h-2zm1-10h2v2h-2zm0 1h2v2h-2zm0 3h2v2h-2zm1-3h2v2h-2zm0 4h2v2h-2zm0 1h2v2h-2zm0 0h2v2h-2zm1-8h2v2h-2zm1 5h2v2h-2zm1-5h2v2h-2zm0 4h2v2h-2zm0 3h2v2h-2zm2-4h2v2h-2zm0 1h2v2h-2zm0 0h2v2h-2zm0 2h2v2h-2zm1-4h2v2h-2zm1 10h2v2h-2zm1-12h2v2h-2zm0 5h2v2h-2zm0 2h2v2h-2zm1-1h2v2h-2zm0 3h2v2h-2zm0 1h2v2h-2zm1-8h2v2h-2zm0 1h2v2h-2zm1 0h2v2h-2zm0 6h2v2h-2zm1-6h2v2h-2zm0 2h2v2h-2zm1-2h2v2h-2zm1 2h2v2h-2zm1 3h2v2h-2zm1-7h2v2h-2zm0 4h2v2h-2zm0 5h2v2h-2zm1-8h2v2h-2zm0 6h2v2h-2zm1 1h2v2h-2zm0 1h2v2h-2zm1-7h2v2h-2zm0 0h2v2h-2zm0 1h2v2h-2zm0 0h2v2h-2zm0 3h2v2h-2zm1-3h2v2h-2zm0 1h2v2h-2zm0 0h2v2h-2zm0 0h2v2h-2zm0 5h2v2h-2zm1-3h2v2h-2zm0 1h2v2h-2zm1-1h2v2h-2zm0 2h2v2h-2zm1-5h2v2h-2zm0 1h2v2h-2zm0 0h2v2h-2zm0 2h2v2h-2zm1-5h2v2h-2zm0 7h2v2h-2zm0 2h2v2h-2zm1-10h2v2h-2zm0 0h2v2h-2zm0 1h2v2h-2zm0 10h2v2h-2zm1-10h2v2h-2zm0 3h2v2h-2zm1 0h2v2h-2zm0 1h2v2h-2zm1 1h2v2h-2zm2-3h2v2h-2zm0 1h2v2h-2zm1-1h2v2h-2zm0 3h2v2h-2zm0 2h2v2h-2zm1-6h2v2h-2zm0 3h2v2h-2zm0 2h2v2h-2zm1-7h2v2h-2zm0 7h2v2h-2zm0 0h2v2h-2zm1-2h2v2h-2zm0 0h2v2h-2zm0 1h2v2h-2zm0 2h2v2h-2zm1-6h2v2h-2zm0 3h2v2h-2zm0 0h2v2h-2zm0 3h2v2h-2zm1-10h2v2h-2zm0 5h2v2h-2zm1-2h2v2h-2zm0 1h2v2h-2zm0 7h2v2h-2zm1-6h2v2h-2zm0 0h2v2h-2zm0 1h2v2h-2zm1-2h2v2h-2zm0 5h2v2h-2zm0 0h2v2h-2zm1-6h2v2h-2zm0 3h2v2h-2zm0 1h2v2h-2zm0 5h2v2h-2zm1-9h2v2h-2zm0 0h2v2h-2zm0 0h2v2h-2zm0 3h2v2h-2zm0 1h2v2h-2zm1-5h2v2h-2zm0 2h2v2h-2zm0 4h2v2h-2zm1 0h2v2h-2zm1-5h2v2h-2zm0 2h2v2h-2zm0 2h2v2h-2zm0 0h2v2h-2zm0 0h2v2h-2zm0 2h2v2h-2zm0 1h2v2h-2zm1-6h2v2h-2zm0 2h2v2h-2zm0 1h2v2h-2zm2-3h2v2h-2zm0 2h2v2h-2zm0 2h2v2h-2zm0 3h2v2h-2zm1-8h2v2h-2zm0 2h2v2h-2zm0 0h2v2h-2zm0 2h2v2h-2zm0 1h2v2h-2zm1-7h2v2h-2zm0 10h2v2h-2zm1-5h2v2h-2zm0 3h2v2h-2zm1-8h2v2h-2zm0 4h2v2h-2zm0 0h2v2h-2zm0 1h2v2h-2zm0 0h2v2h-2zm0 0h2v2h-2zm0 4h2v2h-2zm1-8h2v2h-2zm0 8h2v2h-2zm1-7h2v2h-2zm0 5h2v2h-2zm1-6h2v2h-2zm0 1h2v2h-2zm0 3h2v2h-2zm1 1h2v2h-2zm1-5h2v2h-2zm0 1h2v2h-2zm0 0h2v2h-2zm0 1h2v2h-2zm0 4h2v2h-2zm1-1h2v2h-2zm0 3h2v2h-2zm1-2h2v2h-2zm1-6h2v2h-2zm1-1h2v2h-2zm0 7h2v2h-2zm1-1h2v2h-2zm25-1h2v2h-2zm1 3h2v2h-2zm0 2h2v2h-2zm1-10h2v2h-2zm0 2h2v2h-2zm0 5h2v2h-2zm0 2h2v2h-2zm1-4h2v2h-2zm1-2h2v2h-2zm1 0h2v2h-2zm1-2h2v2h-2zm0 5h2v2h-2zm1-1h2v2h-2zm0 1h2v2h-2zm0 1h2v2h-2zm0 0h2v2h-2zm1-7h2v2h-2zm0 4h2v2h-2zm0 1h2v2h-2zm0 1h2v2h-2zm0 0h2v2h-2zm0 3h2v2h-2zm0 1h2v2h-2zm0 3h2v2h-2zm1-15h2v2h-2zm0 5h2v2h-2zm0 1h2v2h-2zm0 6h2v2h-2zm1-1h2v2h-2zm1-7h2v2h-2zm0 4h2v2h-2zm0 1h2v2h-2zm0 4h2v2h-2zm1-8h2v2h-2zm0 2h2v2h-2zm0 3h2v2h-2zm0 1h2v2h-2zm1-3h2v2h-2zm0 1h2v2h-2zm1-4h2v2h-2zm0 0h2v2h-2zm1-2h2v2h-2zm0 2h2v2h-2zm0 1h2v2h-2zm1-1h2v2h-2zm0 3h2v2h-2zm0 1h2v2h-2zm0 2h2v2h-2zm1-6h2v2h-2zm0 2h2v2h-2zm0 0h2v2h-2zm0 0h2v2h-2zm0 4h2v2h-2zm1-10h2v2h-2zm1 3h2v2h-2zm0 3h2v2h-2zm2-1h2v2h-2zm0 1h2v2h-2zm0 5h2v2h-2zm1-10h2v2h-2zm0 6h2v2h-2zm0 0h2v2h-2zm0 0h2v2h-2zm1-2h2v2h-2zm0 2h2v2h-2zm0 1h2v2h-2zm0 3h2v2h-2zm0 0h2v2h-2zm7-6h2v2h-2zm1 4h2v2h-2zm0 3h2v2h-2zm1-8h2v2h-2zm1 1h2v2h-2zm1-17h2v2h-2zm0 19h2v2h-2zm1-6h2v2h-2zm0 1h2v2h-2zm0 5h2v2h-2zm0 1h2v2h-2zm1-2h2v2h-2zm0 1h2v2h-2zm0 3h2v2h-2zm1-6h2v2h-2zm0 5h2v2h-2zm1-8h2v2h-2zm1-3h2v2h-2zm0 4h2v2h-2zm0 4h2v2h-2zm0 2h2v2h-2zm0 1h2v2h-2zm0 2h2v2h-2zm1-9h2v2h-2zm0 2h2v2h-2zm0 3h2v2h-2zm0 2h2v2h-2zm0 1h2v2h-2zm1-9h2v2h-2zm0 4h2v2h-2zm0 0h2v2h-2zm0 0h2v2h-2zm0 1h2v2h-2zm0 2h2v2h-2zm1-1h2v2h-2zm0 1h2v2h-2zm1-6h2v2h-2zm0 1h2v2h-2zm1 3h2v2h-2zm0 0h2v2h-2zm9-1h2v2h-2zm1 0h2v2h-2zm2 3h2v2h-2zm0 0h2v2h-2zm0 1h2v2h-2zm0 0h2v2h-2zm0 1h2v2h-2zm2-4h2v2h-2zm0 0h2v2h-2zm0 3h2v2h-2zm1-5h2v2h-2zm0 2h2v2h-2zm0 2h2v2h-2zm0 3h2v2h-2zm1-7h2v2h-2zm0 0h2v2h-2zm0 0h2v2h-2zm0 1h2v2h-2zm0 2h2v2h-2zm0 1h2v2h-2zm1-6h2v2h-2zm0 1h2v2h-2zm1 3h2v2h-2zm0 3h2v2h-2zm0 2h2v2h-2zm1-5h2v2h-2zm1-2h2v2h-2zm0 1h2v2h-2zm0 3h2v2h-2zm1-3h2v2h-2zm0 1h2v2h-2zm0 1h2v2h-2zm0 2h2v2h-2zm1-6h2v2h-2zm0 3h2v2h-2zm0 2h2v2h-2zm0 0h2v2h-2zm1-3h2v2h-2zm0 4h2v2h-2zm0 0h2v2h-2zm2-11h2v2h-2zm0 3h2v2h-2zm0 2h2v2h-2zm0 1h2v2h-2zm0 5h2v2h-2zm1 0h2v2h-2zm1-6h2v2h-2zm0 0h2v2h-2zm0 4h2v2h-2zm0 0h2v2h-2zm1-5h2v2h-2zm0 5h2v2h-2zm1-2h2v2h-2zm0 2h2v2h-2zm0 3h2v2h-2zm1-10h2v2h-2zm0 3h2v2h-2zm0 3h2v2h-2zm0 5h2v2h-2zm1-5h2v2h-2zm0 0h2v2h-2zm0 0h2v2h-2zm0 4h2v2h-2zm0 1h2v2h-2zm1-6h2v2h-2zm0 1h2v2h-2zm1-2h2v2h-2zm0 10h2v2h-2zm1-9h2v2h-2zm0 5h2v2h-2zm0 0h2v2h-2zm1-7h2v2h-2zm0 2h2v2h-2zm0 0h2v2h-2zm0 2h2v2h-2zm0 2h2v2h-2zm1-4h2v2h-2zm1 1h2v2h-2zm0 4h2v2h-2zm1-5h2v2h-2zm0 0h2v2h-2zm0 1h2v2h-2zm0 4h2v2h-2zm0 0h2v2h-2zm1-6h2v2h-2zm0 1h2v2h-2zm0 3h2v2h-2zm0 0h2v2h-2zm1-7h2v2h-2zm0 5h2v2h-2zm0 0h2v2h-2zm1-6h2v2h-2zm0 7h2v2h-2zm0 5h2v2h-2zm1-9h2v2h-2zm0 5h2v2h-2zm0 1h2v2h-2zm0 3h2v2h-2zm1-12h2v2h-2zm0 7h2v2h-2zm0 0h2v2h-2zm0 1h2v2h-2zm1-8h2v2h-2zm0 1h2v2h-2zm0 0h2v2h-2zm0 3h2v2h-2zm0 2h2v2h-2zm0 2h2v2h-2zm0 1h2v2h-2zm0 0h2v2h-2zm1-5h2v2h-2zm1 1h2v2h-2zm1 1h2v2h-2zm0 3h2v2h-2zm1-6h2v2h-2zm0 4h2v2h-2zm1-5h2v2h-2zm0 6h2v2h-2zm0 1h2v2h-2zm1-3h2v2h-2zm0 4h2v2h-2zm1-1h2v2h-2zm0 1h2v2h-2zm1-4h2v2h-2zm0 1h2v2h-2zm0 2h2v2h-2zm1-5h2v2h-2zm1 2h2v2h-2zm0 2h2v2h-2zm0 0h2v2h-2zm0 2h2v2h-2zm1-3h2v2h-2zm0 1h2v2h-2zm1-6h2v2h-2zm0 5h2v2h-2zm0 2h2v2h-2zm1-7h2v2h-2zm0 5h2v2h-2zm1-12h2v2h-2zm0 6h2v2h-2zm0 2h2v2h-2zm0 2h2v2h-2zm0 2h2v2h-2zm2-4h2v2h-2zm0 1h2v2h-2zm0 3h2v2h-2zm0 2h2v2h-2zm0 0h2v2h-2zm1-8h2v2h-2zm0 5h2v2h-2zm0 0h2v2h-2zm0 2h2v2h-2zm0 6h2v2h-2zm1-10h2v2h-2zm0 4h2v2h-2zm1-5h2v2h-2zm0 2h2v2h-2zm0 5h2v2h-2zm2-7h2v2h-2zm0 1h2v2h-2zm0 4h2v2h-2zm0 1h2v2h-2zm1-6h2v2h-2zm0 1h2v2h-2zm0 0h2v2h-2zm0 3h2v2h-2zm1 2h2v2h-2zm0 1h2v2h-2zm0 4h2v2h-2zm1-9h2v2h-2zm0 5h2v2h-2zm1-7h2v2h-2zm0 6h2v2h-2zm1-3h2v2h-2zm0 0h2v2h-2zm0 1h2v2h-2zm0 1h2v2h-2zm0 2h2v2h-2zm1-5h2v2h-2zm1-4h2v2h-2zm0 5h2v2h-2zm0 2h2v2h-2zm0 2h2v2h-2zm1-7h2v2h-2zm0 4h2v2h-2zm0 1h2v2h-2zm0 1h2v2h-2zm2-6h2v2h-2zm0 4h2v2h-2zm0 1h2v2h-2zm0 0h2v2h-2zm0 2h2v2h-2zm0 3h2v2h-2zm1-5h2v2h-2zm1-5h2v2h-2zm0 0h2v2h-2zm0 1h2v2h-2zm0 0h2v2h-2zm0 1h2v2h-2zm0 2h2v2h-2zm0 2h2v2h-2zm0 0h2v2h-2zm0 2h2v2h-2zm2-7h2v2h-2zm0 4h2v2h-2zm1-5h2v2h-2zm0 1h2v2h-2zm1 1h2v2h-2zm0 7h2v2h-2zm1-9h2v2h-2zm0 3h2v2h-2zm1-7h2v2h-2zm1 4h2v2h-2zm0 1h2v2h-2z"/>
<path fill="#12603a" shape-rendering="crispEdges" d="M1511 132h2v2h-2zm0 4h2v2h-2zm1-1h2v2h-2zm0 3h2v2h-2zm0 0h2v2h-2zm0 2h2v2h-2zm1-5h2v2h-2zm0 7h2v2h-2zm1-9h2v2h-2zm0 1h2v2h-2zm0 8h2v2h-2zm1-10h2v2h-2zm0 6h2v2h-2zm0 0h2v2h-2zm1-6h2v2h-2zm0 1h2v2h-2zm0 3h2v2h-2zm1 0h2v2h-2zm0 1h2v2h-2zm0 2h2v2h-2zm1-6h2v2h-2zm0 3h2v2h-2zm0 1h2v2h-2zm0 3h2v2h-2zm1-6h2v2h-2zm0 2h2v2h-2zm0 0h2v2h-2zm0 2h2v2h-2zm1-1h2v2h-2zm0 1h2v2h-2zm1-4h2v2h-2zm0 1h2v2h-2zm0 2h2v2h-2zm1 1h2v2h-2zm1-3h2v2h-2zm0 2h2v2h-2zm0 3h2v2h-2zm0 2h2v2h-2zm1-3h2v2h-2zm1-4h2v2h-2zm0 1h2v2h-2zm0 1h2v2h-2zm2-7h2v2h-2zm0 7h2v2h-2zm1-1h2v2h-2zm0 2h2v2h-2zm0 0h2v2h-2zm1-4h2v2h-2zm0 0h2v2h-2zm0 1h2v2h-2zm0 1h2v2h-2zm0 2h2v2h-2zm0 1h2v2h-2zm1-15h2v2h-2zm0 13h2v2h-2zm0 4h2v2h-2zm0 0h2v2h-2zm1-1h2v2h-2zm1-4h2v2h-2zm1-2h2v2h-2zm0 3h2v2h-2zm0 2h2v2h-2zm0 1h2v2h-2zm1-8h2v2h-2zm0 5h2v2h-2zm0 2h2v2h-2zm1-1h2v2h-2zm0 5h2v2h-2z"/>
<path fill="#2d5ea9" shape-rendering="crispEdges" d="M730 262h3v3h-3z"/>
<path fill="#2d5ea9" shape-rendering="crispEdges" d="M868 195h3v3h-3z"/>
<path fill="#2d5ea9" shape-rendering="crispEdges" d="M866 220h3v3h-3z"/>
<path fill="#2d5ea9" shape-rendering="crispEdges" d="M1463 218h3v3h-3z"/>
<path fill="#2d5ea9" shape-rendering="crispEdges" d="M676 139h3v3h-3z"/>
<path fill="#2d5ea9" shape-rendering="crispEdges" d="M726 140h3v3h-3z"/>
<path fill="#2d5ea9" shape-rendering="crispEdges" d="M1034 140h3v3h-3z"/>
<path fill="#2d5ea9" shape-rendering="crispEdges" d="M1138 140h3v3h-3z"/>
<line x1="418" y1="134.3" x2="1665.5" y2="134.3" stroke="#5d8ad0" stroke-width="1.1"/>
<path fill="#2d5ea9" d="M420 487L470.6 487v4L420 491zM481.3 487L1068 487v4L481.3 491zM1081 487L1277.7 487v4L1081 491zM1286.5 487L1325.4 487v4L1286.5 491zM1333.7 487L1368.2 487v4L1333.7 491zM1379 487L1420 487v4L1379 491zM1429.5 487L1513.5 487v4L1429.5 491zM1513.5 488.5L1537.5 488.5v4L1513.5 492.5zM1537.5 487L1562.5 487v4L1537.5 491zM1569 487L1583.5 487v4L1569 491zM1591 487L1667.5 487v4L1591 491z"/>
<path fill="#2d5ea9" shape-rendering="crispEdges" d="M420 490h2v2h-2zm0 2h2v2h-2zm1-6h2v2h-2zm0 0h2v2h-2zm0 5h2v2h-2zm1-6h2v2h-2zm0 3h2v2h-2zm2 1h2v2h-2zm1 2h2v2h-2zm1-7h2v2h-2zm0 2h2v2h-2zm0 0h2v2h-2zm0 2h2v2h-2zm0 3h2v2h-2zm0 0h2v2h-2zm1-6h2v2h-2zm0 2h2v2h-2zm1 1h2v2h-2zm0 4h2v2h-2zm1-6h2v2h-2zm0 2h2v2h-2zm0 0h2v2h-2zm0 1h2v2h-2zm1-2h2v2h-2zm0 9h2v2h-2zm1-12h2v2h-2zm0 6h2v2h-2zm0 1h2v2h-2zm0 2h2v2h-2zm2-7h2v2h-2zm1 4h2v2h-2zm1-2h2v2h-2zm1-2h2v2h-2zm0 1h2v2h-2zm1 2h2v2h-2zm0 3h2v2h-2zm1-2h2v2h-2zm0 4h2v2h-2zm1-8h2v2h-2zm0 0h2v2h-2zm0 1h2v2h-2zm1-3h2v2h-2zm0 3h2v2h-2zm0 1h2v2h-2zm0 0h2v2h-2zm0 3h2v2h-2zm1-7h2v2h-2zm0 3h2v2h-2zm0 1h2v2h-2zm0 0h2v2h-2zm0 2h2v2h-2zm1-5h2v2h-2zm2 3h2v2h-2zm1 0h2v2h-2zm0 2h2v2h-2zm1-4h2v2h-2zm0 2h2v2h-2zm0 2h2v2h-2zm1-6h2v2h-2zm0 0h2v2h-2zm0 4h2v2h-2zm0 3h2v2h-2zm1-7h2v2h-2zm0 3h2v2h-2zm0 4h2v2h-2zm0 0h2v2h-2zm1-5h2v2h-2zm0 0h2v2h-2zm0 0h2v2h-2zm1-2h2v2h-2zm0 5h2v2h-2zm0 3h2v2h-2zm1-3h2v2h-2zm1-3h2v2h-2zm0 0h2v2h-2zm0 1h2v2h-2zm1-2h2v2h-2zm1 2h2v2h-2zm1-1h2v2h-2zm0 0h2v2h-2zm0 1h2v2h-2zm0 1h2v2h-2zm0 3h2v2h-2zm1-3h2v2h-2zm0 2h2v2h-2zm0 0h2v2h-2zm0 2h2v2h-2zm1-12h2v2h-2zm0 6h2v2h-2zm1 0h2v2h-2zm0 1h2v2h-2zm0 1h2v2h-2zm0 4h2v2h-2zm1-4h2v2h-2zm0 1h2v2h-2zm1-4h2v2h-2zm0 4h2v2h-2zm1-2h2v2h-2zm0 1h2v2h-2zm2-2h2v2h-2zm0 1h2v2h-2zm0 2h2v2h-2zm0 1h2v2h-2zm0 2h2v2h-2zm1-5h2v2h-2zm0 3h2v2h-2zm2-5h2v2h-2zm0 0h2v2h-2zm0 2h2v2h-2zm0 1h2v2h-2zm0 1h2v2h-2zm0 1h2v2h-2zm0 1h2v2h-2zm2-5h2v2h-2zm0 1h2v2h-2zm0 0h2v2h-2zm0 0h2v2h-2zm1-5h2v2h-2zm0 9h2v2h-2zm11 0h2v2h-2zm1-7h2v2h-2zm0 1h2v2h-2zm2 2h2v2h-2zm0 1h2v2h-2zm0 1h2v2h-2zm0 0h2v2h-2zm0 2h2v2h-2zm1-2h2v2h-2zm0 3h2v2h-2zm1-3h2v2h-2zm0 3h2v2h-2zm1-8h2v2h-2zm0 3h2v2h-2zm0 4h2v2h-2zm1-2h2v2h-2zm1 1h2v2h-2zm0 1h2v2h-2zm1-2h2v2h-2zm0 1h2v2h-2zm1-2h2v2h-2zm0 1h2v2h-2zm0 1h2v2h-2zm0 0h2v2h-2zm0 2h2v2h-2zm1-2h2v2h-2zm0 1h2v2h-2zm1-6h2v2h-2zm0 4h2v2h-2zm0 0h2v2h-2zm0 2h2v2h-2zm0 0h2v2h-2zm0 1h2v2h-2zm1-6h2v2h-2zm0 4h2v2h-2zm0 1h2v2h-2zm1-5h2v2h-2zm0 2h2v2h-2zm0 0h2v2h-2zm0 4h2v2h-2zm1-7h2v2h-2zm0 1h2v2h-2zm0 2h2v2h-2zm0 1h2v2h-2zm1-5h2v2h-2zm1 1h2v2h-2zm0 3h2v2h-2zm1-2h2v2h-2zm0 1h2v2h-2zm1-2h2v2h-2zm0 3h2v2h-2zm1-3h2v2h-2zm0 2h2v2h-2zm0 2h2v2h-2zm0 1h2v2h-2zm1-3h2v2h-2zm0 1h2v2h-2zm0 3h2v2h-2zm1-4h2v2h-2zm0 3h2v2h-2zm0 1h2v2h-2zm1-1h2v2h-2zm0 0h2v2h-2zm2-3h2v2h-2zm0 0h2v2h-2zm0 2h2v2h-2zm1-3h2v2h-2zm0 3h2v2h-2zm1-5h2v2h-2zm0 2h2v2h-2zm0 3h2v2h-2zm1-6h2v2h-2zm0 5h2v2h-2zm0 3h2v2h-2zm0 2h2v2h-2zm1-7h2v2h-2zm0 5h2v2h-2zm1-6h2v2h-2zm0 0h2v2h-2zm0 3h2v2h-2zm1-2h2v2h-2zm0 3h2v2h-2zm0 1h2v2h-2zm1-1h2v2h-2zm0 1h2v2h-2zm0 1h2v2h-2zm1 1h2v2h-2zm1-4h2v2h-2zm1 0h2v2h-2zm1-2h2v2h-2zm1-1h2v2h-2zm0 2h2v2h-2zm0 1h2v2h-2zm0 3h2v2h-2zm1-3h2v2h-2zm0 7h2v2h-2zm1-6h2v2h-2zm0 1h2v2h-2zm0 2h2v2h-2zm0 6h2v2h-2zm1-9h2v2h-2zm0 3h2v2h-2zm1-3h2v2h-2zm1 0h2v2h-2zm0 1h2v2h-2zm1 3h2v2h-2zm1-7h2v2h-2zm0 3h2v2h-2zm0 3h2v2h-2zm1-5h2v2h-2zm2-1h2v2h-2zm0 0h2v2h-2zm0 1h2v2h-2zm0 1h2v2h-2zm1-5h2v2h-2zm0 5h2v2h-2zm0 0h2v2h-2zm0 1h2v2h-2zm1-3h2v2h-2zm0 1h2v2h-2zm1 3h2v2h-2zm1-4h2v2h-2zm0 0h2v2h-2zm0 2h2v2h-2zm0 2h2v2h-2zm0 0h2v2h-2zm1-6h2v2h-2zm0 3h2v2h-2zm0 0h2v2h-2zm0 1h2v2h-2zm1-2h2v2h-2zm0 1h2v2h-2zm0 2h2v2h-2zm0 1h2v2h-2zm1-6h2v2h-2zm0 4h2v2h-2zm0 0h2v2h-2zm2-7h2v2h-2zm0 6h2v2h-2zm1-2h2v2h-2zm0 6h2v2h-2zm2-5h2v2h-2zm0 1h2v2h-2zm1-1h2v2h-2zm0 3h2v2h-2zm0 0h2v2h-2zm1-3h2v2h-2zm0 3h2v2h-2zm0 0h2v2h-2zm1-3h2v2h-2zm0 3h2v2h-2zm0 3h2v2h-2zm1-12h2v2h-2zm0 8h2v2h-2zm0 0h2v2h-2zm0 5h2v2h-2zm1-8h2v2h-2zm0 3h2v2h-2zm0 2h2v2h-2zm0 4h2v2h-2zm1-7h2v2h-2zm0 3h2v2h-2zm0 1h2v2h-2zm0 0h2v2h-2zm1-9h2v2h-2zm0 4h2v2h-2zm0 0h2v2h-2zm0 2h2v2h-2zm1 0h2v2h-2zm0 3h2v2h-2zm1-5h2v2h-2zm0 2h2v2h-2zm0 0h2v2h-2zm0 1h2v2h-2zm1-3h2v2h-2zm0 1h2v2h-2zm0 3h2v2h-2zm0 0h2v2h-2zm1 0h2v2h-2zm1-4h2v2h-2zm0 3h2v2h-2zm2-5h2v2h-2zm0 5h2v2h-2zm0 2h2v2h-2zm0 2h2v2h-2zm1-7h2v2h-2zm0 4h2v2h-2zm1 2h2v2h-2zm1-9h2v2h-2zm0 5h2v2h-2zm0 2h2v2h-2zm1-4h2v2h-2zm0 0h2v2h-2zm0 2h2v2h-2zm3-3h2v2h-2zm1 5h2v2h-2zm1-4h2v2h-2zm0 1h2v2h-2zm0 5h2v2h-2zm0 3h2v2h-2zm1-6h2v2h-2zm0 0h2v2h-2zm0 2h2v2h-2zm0 0h2v2h-2zm0 3h2v2h-2zm1-5h2v2h-2zm0 1h2v2h-2zm1-2h2v2h-2zm0 1h2v2h-2zm1-5h2v2h-2zm0 1h2v2h-2zm0 3h2v2h-2zm1-1h2v2h-2zm1-2h2v2h-2zm0 3h2v2h-2zm0 3h2v2h-2zm1 0h2v2h-2zm1-7h2v2h-2zm0 2h2v2h-2zm0 1h2v2h-2zm0 2h2v2h-2zm0 0h2v2h-2zm0 2h2v2h-2zm0 2h2v2h-2zm1-3h2v2h-2zm1-3h2v2h-2zm1 3h2v2h-2zm1-5h2v2h-2zm1 0h2v2h-2zm0 3h2v2h-2zm0 0h2v2h-2zm1-2h2v2h-2zm1 0h2v2h-2zm0 1h2v2h-2zm1-4h2v2h-2zm0 3h2v2h-2zm0 1h2v2h-2zm0 0h2v2h-2zm0 0h2v2h-2zm0 2h2v2h-2zm1-4h2v2h-2zm2 4h2v2h-2zm0 3h2v2h-2zm1-6h2v2h-2zm1 4h2v2h-2zm0 0h2v2h-2zm1-6h2v2h-2zm1 3h2v2h-2zm0 2h2v2h-2zm1-1h2v2h-2zm0 1h2v2h-2zm2-1h2v2h-2zm0 1h2v2h-2zm1-5h2v2h-2zm0 2h2v2h-2zm0 2h2v2h-2zm1-2h2v2h-2zm0 1h2v2h-2zm0 0h2v2h-2zm0 2h2v2h-2zm0 3h2v2h-2zm1-6h2v2h-2zm0 2h2v2h-2zm0 1h2v2h-2zm0 0h2v2h-2zm0 2h2v2h-2zm1-1h2v2h-2zm1-4h2v2h-2zm0 8h2v2h-2zm1-6h2v2h-2zm0 3h2v2h-2zm1-7h2v2h-2zm0 1h2v2h-2zm0 2h2v2h-2zm0 0h2v2h-2zm0 4h2v2h-2zm0 0h2v2h-2zm0 1h2v2h-2zm1-9h2v2h-2zm0 8h2v2h-2zm1-1h2v2h-2zm1-7h2v2h-2zm0 2h2v2h-2zm0 1h2v2h-2zm0 2h2v2h-2zm1-1h2v2h-2zm0 1h2v2h-2zm0 0h2v2h-2zm0 2h2v2h-2zm0 0h2v2h-2zm1-5h2v2h-2zm0 1h2v2h-2zm0 3h2v2h-2zm1-4h2v2h-2zm1 0h2v2h-2zm0 2h2v2h-2zm0 1h2v2h-2zm1 0h2v2h-2zm1-1h2v2h-2zm0 3h2v2h-2zm0 1h2v2h-2zm1-6h2v2h-2zm0 2h2v2h-2zm0 0h2v2h-2zm0 2h2v2h-2zm0 1h2v2h-2zm0 3h2v2h-2zm1-11h2v2h-2zm0 15h2v2h-2zm1-10h2v2h-2zm0 4h2v2h-2zm1-6h2v2h-2zm0 0h2v2h-2zm0 2h2v2h-2zm0 1h2v2h-2zm1-1h2v2h-2zm0 2h2v2h-2zm1-3h2v2h-2zm0 2h2v2h-2zm0 1h2v2h-2zm1-4h2v2h-2zm0 0h2v2h-2zm0 2h2v2h-2zm0 4h2v2h-2zm1-7h2v2h-2zm0 4h2v2h-2zm1-3h2v2h-2zm0 1h2v2h-2zm0 1h2v2h-2zm0 1h2v2h-2zm1-6h2v2h-2zm0 4h2v2h-2zm0 2h2v2h-2zm0 0h2v2h-2zm0 0h2v2h-2zm0 0h2v2h-2zm0 2h2v2h-2zm3-3h2v2h-2zm0 3h2v2h-2zm0 0h2v2h-2zm1-1h2v2h-2zm1-1h2v2h-2zm0 3h2v2h-2zm1-7h2v2h-2zm0 1h2v2h-2zm0 4h2v2h-2zm1-6h2v2h-2zm0 3h2v2h-2zm0 4h2v2h-2zm0 2h2v2h-2zm1-4h2v2h-2zm1-3h2v2h-2zm0 3h2v2h-2zm0 3h2v2h-2zm2-5h2v2h-2zm1 1h2v2h-2zm1-5h2v2h-2zm0 5h2v2h-2zm0 1h2v2h-2zm0 6h2v2h-2zm1-3h2v2h-2zm1 1h2v2h-2zm1-5h2v2h-2zm0 0h2v2h-2zm0 2h2v2h-2zm0 1h2v2h-2zm1-5h2v2h-2zm0 3h2v2h-2zm1 1h2v2h-2zm1-4h2v2h-2zm0 1h2v2h-2zm1-5h2v2h-2zm0 4h2v2h-2zm0 4h2v2h-2zm0 2h2v2h-2zm1-4h2v2h-2zm0 2h2v2h-2zm2-3h2v2h-2zm0 1h2v2h-2zm0 4h2v2h-2zm0 0h2v2h-2zm0 4h2v2h-2zm1-8h2v2h-2zm0 2h2v2h-2zm1-3h2v2h-2zm0 4h2v2h-2zm1-3h2v2h-2zm1 0h2v2h-2zm0 1h2v2h-2zm0 0h2v2h-2zm0 4h2v2h-2zm1-6h2v2h-2zm0 2h2v2h-2zm0 5h2v2h-2zm1-6h2v2h-2zm0 2h2v2h-2zm0 0h2v2h-2zm1-6h2v2h-2zm0 3h2v2h-2zm0 1h2v2h-2zm0 2h2v2h-2zm1-3h2v2h-2zm0 2h2v2h-2zm0 2h2v2h-2zm1-4h2v2h-2zm0 1h2v2h-2zm1-2h2v2h-2zm0 0h2v2h-2zm0 2h2v2h-2zm0 0h2v2h-2zm0 2h2v2h-2zm0 0h2v2h-2zm0 3h2v2h-2zm1-9h2v2h-2zm0 1h2v2h-2zm0 2h2v2h-2zm0 1h2v2h-2zm0 0h2v2h-2zm0 2h2v2h-2zm1-15h2v2h-2zm0 11h2v2h-2zm0 1h2v2h-2zm0 1h2v2h-2zm0 0h2v2h-2zm0 1h2v2h-2zm1 4h2v2h-2zm1-7h2v2h-2zm2 6h2v2h-2zm1-5h2v2h-2zm0 1h2v2h-2zm0 1h2v2h-2zm0 1h2v2h-2zm0 4h2v2h-2zm1-8h2v2h-2zm0 0h2v2h-2zm0 3h2v2h-2zm0 2h2v2h-2zm1-7h2v2h-2zm0 4h2v2h-2zm0 1h2v2h-2zm0 4h2v2h-2zm1-6h2v2h-2zm0 1h2v2h-2zm0 1h2v2h-2zm0 2h2v2h-2zm0 3h2v2h-2zm0 5h2v2h-2zm2-16h2v2h-2zm0 7h2v2h-2zm0 0h2v2h-2zm0 1h2v2h-2zm1-4h2v2h-2zm1 1h2v2h-2zm0 2h2v2h-2zm0 3h2v2h-2zm1-6h2v2h-2zm1 0h2v2h-2zm0 0h2v2h-2zm0 1h2v2h-2zm1-5h2v2h-2zm1 4h2v2h-2zm0 0h2v2h-2zm1-3h2v2h-2zm1 6h2v2h-2zm0 3h2v2h-2zm1-5h2v2h-2zm0 1h2v2h-2zm0 1h2v2h-2zm0 3h2v2h-2zm1-4h2v2h-2zm0 2h2v2h-2zm0 1h2v2h-2zm0 4h2v2h-2zm1-8h2v2h-2zm0 2h2v2h-2zm0 2h2v2h-2zm1-7h2v2h-2zm0 5h2v2h-2zm1-3h2v2h-2zm1 2h2v2h-2zm1-1h2v2h-2zm1-1h2v2h-2zm0 1h2v2h-2zm0 1h2v2h-2zm0 3h2v2h-2zm0 0h2v2h-2zm1 2h2v2h-2zm1-7h2v2h-2zm0 1h2v2h-2zm1 1h2v2h-2zm1-2h2v2h-2zm0 2h2v2h-2zm0 0h2v2h-2zm2 2h2v2h-2zm1-5h2v2h-2zm0 5h2v2h-2zm0 3h2v2h-2zm1-7h2v2h-2zm0 1h2v2h-2zm1 1h2v2h-2zm1-2h2v2h-2zm0 2h2v2h-2zm1-6h2v2h-2zm0 4h2v2h-2zm0 0h2v2h-2zm0 2h2v2h-2zm0 1h2v2h-2zm1-1h2v2h-2zm1-1h2v2h-2zm0 1h2v2h-2zm2-3h2v2h-2zm0 0h2v2h-2zm0 3h2v2h-2zm1 5h2v2h-2zm2-10h2v2h-2zm0 1h2v2h-2zm0 4h2v2h-2zm0 1h2v2h-2zm1-1h2v2h-2zm0 0h2v2h-2zm1-3h2v2h-2zm1-2h2v2h-2zm0 5h2v2h-2zm1 14h2v2h-2zm1-19h2v2h-2zm1 4h2v2h-2zm0 0h2v2h-2zm0 2h2v2h-2zm1 0h2v2h-2zm0 1h2v2h-2zm1-6h2v2h-2zm0 3h2v2h-2zm0 2h2v2h-2zm1-2h2v2h-2zm0 2h2v2h-2zm0 0h2v2h-2zm1-2h2v2h-2zm0 1h2v2h-2zm1 1h2v2h-2zm0 2h2v2h-2zm1-9h2v2h-2zm0 4h2v2h-2zm0 1h2v2h-2zm0 2h2v2h-2zm0 1h2v2h-2zm0 1h2v2h-2zm0 7h2v2h-2zm1-13h2v2h-2zm0 7h2v2h-2zm1-9h2v2h-2zm0 4h2v2h-2zm0 1h2v2h-2zm1-1h2v2h-2zm0 1h2v2h-2zm4 0h2v2h-2zm0 1h2v2h-2zm1-2h2v2h-2zm0 8h2v2h-2zm1-7h2v2h-2zm1-3h2v2h-2zm0 1h2v2h-2zm0 1h2v2h-2zm0 2h2v2h-2zm1-3h2v2h-2zm0 6h2v2h-2zm2-6h2v2h-2zm0 1h2v2h-2zm0 4h2v2h-2zm2-1h2v2h-2zm0 2h2v2h-2zm1-4h2v2h-2zm0 0h2v2h-2zm1 0h2v2h-2zm0 0h2v2h-2zm1 2h2v2h-2zm0 3h2v2h-2zm1-8h2v2h-2zm0 1h2v2h-2zm0 4h2v2h-2zm0 0h2v2h-2zm0 1h2v2h-2zm2-4h2v2h-2zm0 2h2v2h-2zm0 1h2v2h-2zm0 2h2v2h-2zm1-2h2v2h-2zm0 2h2v2h-2zm0 1h2v2h-2zm1-3h2v2h-2zm1-3h2v2h-2zm1 1h2v2h-2zm1-1h2v2h-2zm0 1h2v2h-2zm0 1h2v2h-2zm1-1h2v2h-2zm0 3h2v2h-2zm0 1h2v2h-2zm1-10h2v2h-2zm0 5h2v2h-2zm0 0h2v2h-2zm0 3h2v2h-2zm0 1h2v2h-2zm1-2h2v2h-2zm1-1h2v2h-2zm1-2h2v2h-2zm1 3h2v2h-2zm0 2h2v2h-2zm1-1h2v2h-2zm1-5h2v2h-2zm0 0h2v2h-2zm0 0h2v2h-2zm0 2h2v2h-2zm1-4h2v2h-2zm0 4h2v2h-2zm0 2h2v2h-2zm1-1h2v2h-2zm0 1h2v2h-2zm0 1h2v2h-2zm1-4h2v2h-2zm0 0h2v2h-2zm0 2h2v2h-2zm0 2h2v2h-2zm0 3h2v2h-2zm1-6h2v2h-2zm0 4h2v2h-2zm1-5h2v2h-2zm0 1h2v2h-2zm0 3h2v2h-2zm1-4h2v2h-2zm0 5h2v2h-2zm0 1h2v2h-2zm1-12h2v2h-2zm0 10h2v2h-2zm0 0h2v2h-2zm1-1h2v2h-2zm0 1h2v2h-2zm1-4h2v2h-2zm1 0h2v2h-2zm0 1h2v2h-2zm1-2h2v2h-2zm0 3h2v2h-2zm0 0h2v2h-2zm0 3h2v2h-2zm1-2h2v2h-2zm0 2h2v2h-2zm1-5h2v2h-2zm0 0h2v2h-2zm0 2h2v2h-2zm1-5h2v2h-2zm0 3h2v2h-2zm0 1h2v2h-2zm1-3h2v2h-2zm0 7h2v2h-2zm1-6h2v2h-2zm0 1h2v2h-2zm1-1h2v2h-2zm0 1h2v2h-2zm0 0h2v2h-2zm0 4h2v2h-2zm1-6h2v2h-2zm0 2h2v2h-2zm0 2h2v2h-2zm0 0h2v2h-2zm0 1h2v2h-2zm0 3h2v2h-2zm2-6h2v2h-2zm0 1h2v2h-2zm1 0h2v2h-2zm1 1h2v2h-2zm1 0h2v2h-2zm1-8h2v2h-2zm0 8h2v2h-2zm0 0h2v2h-2zm0 1h2v2h-2zm0 0h2v2h-2zm0 1h2v2h-2zm1-2h2v2h-2zm1-4h2v2h-2zm0 2h2v2h-2zm1 1h2v2h-2zm0 3h2v2h-2zm1-2h2v2h-2zm0 1h2v2h-2zm0 1h2v2h-2zm1 0h2v2h-2zm0 1h2v2h-2zm1-11h2v2h-2zm1 7h2v2h-2zm0 2h2v2h-2zm1-4h2v2h-2zm0 2h2v2h-2zm0 3h2v2h-2zm1-7h2v2h-2zm0 2h2v2h-2zm0 4h2v2h-2zm0 2h2v2h-2zm0 1h2v2h-2zm1-10h2v2h-2zm0 5h2v2h-2zm0 4h2v2h-2zm1-3h2v2h-2zm0 1h2v2h-2zm1-5h2v2h-2zm0 6h2v2h-2zm1-3h2v2h-2zm0 1h2v2h-2zm0 3h2v2h-2zm1-8h2v2h-2zm0 6h2v2h-2zm0 2h2v2h-2zm1-4h2v2h-2zm0 0h2v2h-2zm0 1h2v2h-2zm0 0h2v2h-2zm1 1h2v2h-2zm1-2h2v2h-2zm0 3h2v2h-2zm1-6h2v2h-2zm0 3h2v2h-2zm0 4h2v2h-2zm0 1h2v2h-2zm0 0h2v2h-2zm1-11h2v2h-2zm0 4h2v2h-2zm0 4h2v2h-2zm1-4h2v2h-2zm1 3h2v2h-2zm0 1h2v2h-2zm0 1h2v2h-2zm1-3h2v2h-2zm1-3h2v2h-2zm0 5h2v2h-2zm0 1h2v2h-2zm0 0h2v2h-2zm0 3h2v2h-2zm1-8h2v2h-2zm0 1h2v2h-2zm0 1h2v2h-2zm0 0h2v2h-2zm0 0h2v2h-2zm0 0h2v2h-2zm0 1h2v2h-2zm0 1h2v2h-2zm0 1h2v2h-2zm1-4h2v2h-2zm1 3h2v2h-2zm1-2h2v2h-2zm0 3h2v2h-2zm0 1h2v2h-2zm0 1h2v2h-2zm1 1h2v2h-2zm0 1h2v2h-2zm0 3h2v2h-2zm1-14h2v2h-2zm0 5h2v2h-2zm0 3h2v2h-2zm1-1h2v2h-2zm1-7h2v2h-2zm0 4h2v2h-2zm2-1h2v2h-2zm0 4h2v2h-2zm1-3h2v2h-2zm1-4h2v2h-2zm1 3h2v2h-2zm0 1h2v2h-2zm0 4h2v2h-2zm0 0h2v2h-2zm1-1h2v2h-2zm0 3h2v2h-2zm1-6h2v2h-2zm1-4h2v2h-2zm0 4h2v2h-2zm1 3h2v2h-2zm1-5h2v2h-2zm0 2h2v2h-2zm0 1h2v2h-2zm0 4h2v2h-2zm1-3h2v2h-2zm0 0h2v2h-2zm0 1h2v2h-2zm1 3h2v2h-2zm1-6h2v2h-2zm0 1h2v2h-2zm1-3h2v2h-2zm0 1h2v2h-2zm0 1h2v2h-2zm1 0h2v2h-2zm0 4h2v2h-2zm1-5h2v2h-2zm0 2h2v2h-2zm0 3h2v2h-2zm1-6h2v2h-2zm0 5h2v2h-2zm1-6h2v2h-2zm1 1h2v2h-2zm1 1h2v2h-2zm1 3h2v2h-2zm0 7h2v2h-2zm1-8h2v2h-2zm1 0h2v2h-2zm0 0h2v2h-2zm0 3h2v2h-2zm0 2h2v2h-2zm1-10h2v2h-2zm0 4h2v2h-2zm0 0h2v2h-2zm0 5h2v2h-2zm1-1h2v2h-2zm1-5h2v2h-2zm0 1h2v2h-2zm1-1h2v2h-2zm0 3h2v2h-2zm0 3h2v2h-2zm0 1h2v2h-2zm1-10h2v2h-2zm0 5h2v2h-2zm0 1h2v2h-2zm0 0h2v2h-2zm0 2h2v2h-2zm1-3h2v2h-2zm1-6h2v2h-2zm0 7h2v2h-2zm0 1h2v2h-2zm1-1h2v2h-2zm0 0h2v2h-2zm0 8h2v2h-2zm1-12h2v2h-2zm0 3h2v2h-2zm0 1h2v2h-2zm1-2h2v2h-2zm1-1h2v2h-2zm0 1h2v2h-2zm1 0h2v2h-2zm0 2h2v2h-2zm0 3h2v2h-2zm1-3h2v2h-2zm0 2h2v2h-2zm0 0h2v2h-2zm0 0h2v2h-2zm1-5h2v2h-2zm0 0h2v2h-2zm0 6h2v2h-2zm0 1h2v2h-2zm1-5h2v2h-2zm1-4h2v2h-2zm0 3h2v2h-2zm0 1h2v2h-2zm0 3h2v2h-2zm1-5h2v2h-2zm0 4h2v2h-2zm1-1h2v2h-2zm0 2h2v2h-2zm3-8h2v2h-2zm0 4h2v2h-2zm0 0h2v2h-2zm0 2h2v2h-2zm1-7h2v2h-2zm3 3h2v2h-2zm0 4h2v2h-2zm1-4h2v2h-2zm0 1h2v2h-2zm0 2h2v2h-2zm0 1h2v2h-2zm1-6h2v2h-2zm0 1h2v2h-2zm0 4h2v2h-2zm1-7h2v2h-2zm0 7h2v2h-2zm1-1h2v2h-2zm1-1h2v2h-2zm0 5h2v2h-2zm1-2h2v2h-2zm1-2h2v2h-2zm1-3h2v2h-2zm0 3h2v2h-2zm1 0h2v2h-2zm0 1h2v2h-2zm0 5h2v2h-2zm1-10h2v2h-2zm0 2h2v2h-2zm1 7h2v2h-2zm0 1h2v2h-2zm1-3h2v2h-2zm0 2h2v2h-2zm0 1h2v2h-2zm1-4h2v2h-2zm0 3h2v2h-2zm1-4h2v2h-2zm0 6h2v2h-2zm1-6h2v2h-2zm0 0h2v2h-2zm1 1h2v2h-2zm0 1h2v2h-2zm1-3h2v2h-2zm0 2h2v2h-2zm1-3h2v2h-2zm1 1h2v2h-2zm0 1h2v2h-2zm0 2h2v2h-2zm2-15h2v2h-2zm0 11h2v2h-2zm0 1h2v2h-2zm1 0h2v2h-2zm0 1h2v2h-2zm0 0h2v2h-2zm0 2h2v2h-2zm0 1h2v2h-2zm1-2h2v2h-2zm0 7h2v2h-2zm2-8h2v2h-2zm0 1h2v2h-2zm1-5h2v2h-2zm0 3h2v2h-2zm1 0h2v2h-2zm1-2h2v2h-2zm0 7h2v2h-2zm1-9h2v2h-2zm0 1h2v2h-2zm0 1h2v2h-2zm0 2h2v2h-2zm1-4h2v2h-2zm0 6h2v2h-2zm0 0h2v2h-2zm0 2h2v2h-2zm1-5h2v2h-2zm0 2h2v2h-2zm0 1h2v2h-2zm0 0h2v2h-2zm1-3h2v2h-2zm0 4h2v2h-2zm0 0h2v2h-2zm1-3h2v2h-2zm0 0h2v2h-2zm0 3h2v2h-2zm1-8h2v2h-2zm0 2h2v2h-2zm0 1h2v2h-2zm0 2h2v2h-2zm0 1h2v2h-2zm0 1h2v2h-2zm0 0h2v2h-2zm0 2h2v2h-2zm2-2h2v2h-2zm0 0h2v2h-2zm0 1h2v2h-2zm1-6h2v2h-2zm0 6h2v2h-2zm0 1h2v2h-2zm1-2h2v2h-2zm0 3h2v2h-2zm1-6h2v2h-2zm0 1h2v2h-2zm0 0h2v2h-2zm0 3h2v2h-2zm0 0h2v2h-2zm0 1h2v2h-2zm1-4h2v2h-2zm0 0h2v2h-2zm1-4h2v2h-2zm0 4h2v2h-2zm0 2h2v2h-2zm0 3h2v2h-2zm0 1h2v2h-2zm1-9h2v2h-2zm0 4h2v2h-2zm0 0h2v2h-2zm0 1h2v2h-2zm0 2h2v2h-2zm1-7h2v2h-2zm0 5h2v2h-2zm0 1h2v2h-2zm1-7h2v2h-2zm0 9h2v2h-2zm1-7h2v2h-2zm0 1h2v2h-2zm0 2h2v2h-2zm0 0h2v2h-2zm0 2h2v2h-2zm0 2h2v2h-2zm1-7h2v2h-2zm0 4h2v2h-2zm1-5h2v2h-2zm0 1h2v2h-2zm0 2h2v2h-2zm1 0h2v2h-2zm0 5h2v2h-2zm1-5h2v2h-2zm1-1h2v2h-2zm0 2h2v2h-2zm0 0h2v2h-2zm0 2h2v2h-2zm0 1h2v2h-2zm1-5h2v2h-2zm0 1h2v2h-2zm0 3h2v2h-2zm1 2h2v2h-2zm1-7h2v2h-2zm1 2h2v2h-2zm1 0h2v2h-2zm0 9h2v2h-2zm1-10h2v2h-2zm0 0h2v2h-2zm0 3h2v2h-2zm0 1h2v2h-2zm1-4h2v2h-2zm0 2h2v2h-2zm0 2h2v2h-2zm0 1h2v2h-2zm1-3h2v2h-2zm0 2h2v2h-2zm0 0h2v2h-2zm0 1h2v2h-2zm1-3h2v2h-2zm0 2h2v2h-2zm0 2h2v2h-2zm1-5h2v2h-2zm0 0h2v2h-2zm0 0h2v2h-2zm1 1h2v2h-2zm0 3h2v2h-2zm1-6h2v2h-2zm0 2h2v2h-2zm1 1h2v2h-2zm0 1h2v2h-2zm1-2h2v2h-2zm0 0h2v2h-2zm1 0h2v2h-2zm0 3h2v2h-2zm0 3h2v2h-2zm2-10h2v2h-2zm0 6h2v2h-2zm0 3h2v2h-2zm1-5h2v2h-2zm0 0h2v2h-2zm1-1h2v2h-2zm0 5h2v2h-2zm0 0h2v2h-2zm0 3h2v2h-2zm1-12h2v2h-2zm0 4h2v2h-2zm0 7h2v2h-2zm1-6h2v2h-2zm2-2h2v2h-2zm1-1h2v2h-2zm0 2h2v2h-2zm0 0h2v2h-2zm0 4h2v2h-2zm2-2h2v2h-2zm0 1h2v2h-2zm0 1h2v2h-2zm0 0h2v2h-2zm0 2h2v2h-2zm2-11h2v2h-2zm1 8h2v2h-2zm1 1h2v2h-2zm0 0h2v2h-2zm1-3h2v2h-2zm0 2h2v2h-2zm1-2h2v2h-2zm0 0h2v2h-2zm0 2h2v2h-2zm0 1h2v2h-2zm1-6h2v2h-2zm1 5h2v2h-2zm0 2h2v2h-2zm1 2h2v2h-2zm2-15h2v2h-2zm0 9h2v2h-2zm0 1h2v2h-2zm0 3h2v2h-2zm2-5h2v2h-2zm1 1h2v2h-2zm0 0h2v2h-2zm0 3h2v2h-2zm1 0h2v2h-2zm0 0h2v2h-2zm0 3h2v2h-2zm1-5h2v2h-2zm0 2h2v2h-2zm0 0h2v2h-2zm1 1h2v2h-2zm0 2h2v2h-2zm1-12h2v2h-2zm0 2h2v2h-2zm0 3h2v2h-2zm1-1h2v2h-2zm1 3h2v2h-2zm0 4h2v2h-2zm1-8h2v2h-2zm0 1h2v2h-2zm0 3h2v2h-2zm0 0h2v2h-2zm1-1h2v2h-2zm0 1h2v2h-2zm0 1h2v2h-2zm0 2h2v2h-2zm4-2h2v2h-2zm0 2h2v2h-2zm1-5h2v2h-2zm0 1h2v2h-2zm1 1h2v2h-2zm0 3h2v2h-2zm0 0h2v2h-2zm1-4h2v2h-2zm0 2h2v2h-2zm0 0h2v2h-2zm1-6h2v2h-2zm0 2h2v2h-2zm0 3h2v2h-2zm0 0h2v2h-2zm0 2h2v2h-2zm1-5h2v2h-2zm0 7h2v2h-2zm1-1h2v2h-2zm0 0h2v2h-2zm1-5h2v2h-2zm0 3h2v2h-2zm0 2h2v2h-2zm0 3h2v2h-2zm2-2h2v2h-2zm1-4h2v2h-2zm0 0h2v2h-2zm0 0h2v2h-2zm0 3h2v2h-2zm0 1h2v2h-2zm0 2h2v2h-2zm1-4h2v2h-2zm1 0h2v2h-2zm0 2h2v2h-2zm1-4h2v2h-2zm0 2h2v2h-2zm2-4h2v2h-2zm0 0h2v2h-2zm1-2h2v2h-2zm0 1h2v2h-2zm1 4h2v2h-2zm1 0h2v2h-2zm0 0h2v2h-2zm0 0h2v2h-2zm0 2h2v2h-2zm1-3h2v2h-2zm1-5h2v2h-2zm0 5h2v2h-2zm1 0h2v2h-2zm1 2h2v2h-2zm0 1h2v2h-2zm1-3h2v2h-2zm0 1h2v2h-2zm1-3h2v2h-2zm0 3h2v2h-2zm1 0h2v2h-2zm1-3h2v2h-2zm0 1h2v2h-2zm0 3h2v2h-2zm0 1h2v2h-2zm0 1h2v2h-2zm1-5h2v2h-2zm1-1h2v2h-2zm0 0h2v2h-2zm1-3h2v2h-2zm0 5h2v2h-2zm0 2h2v2h-2zm0 4h2v2h-2zm1-1h2v2h-2zm1 0h2v2h-2zm0 0h2v2h-2zm1-5h2v2h-2zm1 1h2v2h-2zm0 0h2v2h-2zm0 2h2v2h-2zm0 0h2v2h-2zm1-9h2v2h-2zm1 5h2v2h-2zm0 0h2v2h-2zm0 2h2v2h-2zm0 0h2v2h-2zm1-4h2v2h-2zm0 3h2v2h-2zm0 8h2v2h-2zm1-7h2v2h-2zm1-3h2v2h-2zm1 6h2v2h-2zm1 4h2v2h-2zm1-12h2v2h-2zm1 6h2v2h-2zm0 0h2v2h-2zm1-6h2v2h-2zm0 4h2v2h-2zm0 5h2v2h-2zm1-3h2v2h-2zm0 5h2v2h-2zm1-9h2v2h-2zm1-1h2v2h-2zm0 6h2v2h-2zm1-7h2v2h-2zm0 5h2v2h-2zm0 1h2v2h-2zm1-7h2v2h-2zm0 1h2v2h-2zm0 1h2v2h-2zm0 3h2v2h-2zm0 2h2v2h-2zm1 0h2v2h-2zm0 0h2v2h-2zm0 0h2v2h-2zm0 1h2v2h-2zm1-3h2v2h-2zm2 1h2v2h-2zm1-1h2v2h-2zm0 3h2v2h-2zm1-7h2v2h-2zm0 3h2v2h-2zm0 0h2v2h-2zm0 6h2v2h-2zm1-4h2v2h-2zm0 2h2v2h-2zm1-4h2v2h-2zm0 2h2v2h-2zm1 7h2v2h-2zm1-10h2v2h-2zm0 0h2v2h-2zm1 0h2v2h-2zm0 0h2v2h-2zm0 4h2v2h-2zm2-5h2v2h-2zm0 4h2v2h-2zm0 2h2v2h-2zm1-2h2v2h-2zm0 4h2v2h-2zm1-8h2v2h-2zm0 3h2v2h-2zm0 0h2v2h-2zm1-4h2v2h-2zm0 6h2v2h-2zm0 1h2v2h-2zm1-3h2v2h-2zm1 0h2v2h-2zm0 1h2v2h-2zm1-3h2v2h-2zm0 2h2v2h-2zm0 0h2v2h-2zm1-2h2v2h-2zm0 1h2v2h-2zm0 2h2v2h-2zm1-5h2v2h-2zm0 1h2v2h-2zm0 4h2v2h-2zm0 0h2v2h-2zm1-5h2v2h-2zm1-2h2v2h-2zm0 5h2v2h-2zm0 1h2v2h-2zm1-3h2v2h-2zm1 2h2v2h-2zm0 1h2v2h-2zm0 1h2v2h-2zm1 0h2v2h-2zm0 1h2v2h-2zm1-4h2v2h-2zm0 2h2v2h-2zm0 0h2v2h-2zm0 1h2v2h-2zm0 0h2v2h-2zm0 0h2v2h-2zm0 2h2v2h-2zm1-2h2v2h-2zm0 0h2v2h-2zm2-2h2v2h-2zm0 3h2v2h-2zm0 3h2v2h-2zm1-8h2v2h-2zm0 5h2v2h-2zm1-2h2v2h-2zm0 2h2v2h-2zm1-3h2v2h-2zm0 4h2v2h-2zm1-8h2v2h-2zm0 8h2v2h-2zm1-5h2v2h-2zm0 3h2v2h-2zm0 0h2v2h-2zm1-1h2v2h-2zm0 3h2v2h-2zm1-2h2v2h-2zm1-6h2v2h-2zm0 3h2v2h-2zm0 1h2v2h-2zm0 1h2v2h-2zm1-2h2v2h-2zm0 6h2v2h-2zm0 1h2v2h-2zm1-5h2v2h-2zm0 8h2v2h-2zm1-8h2v2h-2zm0 0h2v2h-2zm0 1h2v2h-2zm1-4h2v2h-2zm0 0h2v2h-2zm0 3h2v2h-2zm0 0h2v2h-2zm0 2h2v2h-2zm1-4h2v2h-2zm0 2h2v2h-2zm0 3h2v2h-2zm0 0h2v2h-2zm1-2h2v2h-2zm2-5h2v2h-2zm0 5h2v2h-2zm1-2h2v2h-2zm0 2h2v2h-2zm0 0h2v2h-2zm1-6h2v2h-2zm0 2h2v2h-2zm0 2h2v2h-2zm0 3h2v2h-2zm0 1h2v2h-2zm2-7h2v2h-2zm0 6h2v2h-2zm1 1h2v2h-2zm1-11h2v2h-2zm0 5h2v2h-2zm0 1h2v2h-2zm0 1h2v2h-2zm0 2h2v2h-2zm1-5h2v2h-2zm1 2h2v2h-2zm0 2h2v2h-2zm1-3h2v2h-2zm0 6h2v2h-2zm1-8h2v2h-2zm0 1h2v2h-2zm0 4h2v2h-2zm1-1h2v2h-2zm1-2h2v2h-2zm0 3h2v2h-2zm0 2h2v2h-2zm0 0h2v2h-2zm0 0h2v2h-2zm0 3h2v2h-2zm1-9h2v2h-2zm0 2h2v2h-2zm0 2h2v2h-2zm0 1h2v2h-2zm0 4h2v2h-2zm0 0h2v2h-2zm1-7h2v2h-2zm0 0h2v2h-2zm0 4h2v2h-2zm1-4h2v2h-2zm0 3h2v2h-2zm1-2h2v2h-2zm1-2h2v2h-2zm0 1h2v2h-2zm0 1h2v2h-2zm0 5h2v2h-2zm0 1h2v2h-2zm1-8h2v2h-2zm0 5h2v2h-2zm1-5h2v2h-2zm0 1h2v2h-2zm0 4h2v2h-2zm1-2h2v2h-2zm1-5h2v2h-2zm0 2h2v2h-2zm0 2h2v2h-2zm0 2h2v2h-2zm0 0h2v2h-2zm1-5h2v2h-2zm0 5h2v2h-2zm1-6h2v2h-2zm0 9h2v2h-2zm0 0h2v2h-2zm1-3h2v2h-2zm1-5h2v2h-2zm0 6h2v2h-2zm0 0h2v2h-2zm1-4h2v2h-2zm0 0h2v2h-2zm0 1h2v2h-2zm0 2h2v2h-2zm1-4h2v2h-2zm0 2h2v2h-2zm0 3h2v2h-2zm1-1h2v2h-2zm1-5h2v2h-2zm0 2h2v2h-2zm13 1h2v2h-2zm0 0h2v2h-2zm1-3h2v2h-2zm0 0h2v2h-2zm0 1h2v2h-2zm0 2h2v2h-2zm0 0h2v2h-2zm0 1h2v2h-2zm1 3h2v2h-2zm0 3h2v2h-2zm1-8h2v2h-2zm3 3h2v2h-2zm1-3h2v2h-2zm0 2h2v2h-2zm1-4h2v2h-2zm0 2h2v2h-2zm0 2h2v2h-2zm1 3h2v2h-2zm0 1h2v2h-2zm1-6h2v2h-2zm0 2h2v2h-2zm0 3h2v2h-2zm1-5h2v2h-2zm0 0h2v2h-2zm0 1h2v2h-2zm0 3h2v2h-2zm1-6h2v2h-2zm0 1h2v2h-2zm0 2h2v2h-2zm0 5h2v2h-2zm1 0h2v2h-2zm2 3h2v2h-2zm1-7h2v2h-2zm1 2h2v2h-2zm0 2h2v2h-2zm1-2h2v2h-2zm2-4h2v2h-2zm0 1h2v2h-2zm1-2h2v2h-2zm0 1h2v2h-2zm0 5h2v2h-2zm2-4h2v2h-2zm0 0h2v2h-2zm0 2h2v2h-2zm0 0h2v2h-2zm1 1h2v2h-2zm1-3h2v2h-2zm0 1h2v2h-2zm0 1h2v2h-2zm1-3h2v2h-2zm0 2h2v2h-2zm0 1h2v2h-2zm0 3h2v2h-2zm1-4h2v2h-2zm0 3h2v2h-2zm1-4h2v2h-2zm0 2h2v2h-2zm0 3h2v2h-2zm1-9h2v2h-2zm0 9h2v2h-2zm1-3h2v2h-2zm1-5h2v2h-2zm0 1h2v2h-2zm0 3h2v2h-2zm0 5h2v2h-2zm1-7h2v2h-2zm2 0h2v2h-2zm0 0h2v2h-2zm0 2h2v2h-2zm0 5h2v2h-2zm0 1h2v2h-2zm1-5h2v2h-2zm1 2h2v2h-2zm1-7h2v2h-2zm0 3h2v2h-2zm0 0h2v2h-2zm0 1h2v2h-2zm1-6h2v2h-2zm0 10h2v2h-2zm1-5h2v2h-2zm0 6h2v2h-2zm1-11h2v2h-2zm0 3h2v2h-2zm1 3h2v2h-2zm1 4h2v2h-2zm0 0h2v2h-2zm0 0h2v2h-2zm1-6h2v2h-2zm0 2h2v2h-2zm0 2h2v2h-2zm1-5h2v2h-2zm0 0h2v2h-2zm0 4h2v2h-2zm1-5h2v2h-2zm0 0h2v2h-2zm0 1h2v2h-2zm0 1h2v2h-2zm0 1h2v2h-2zm0 1h2v2h-2zm1-3h2v2h-2zm0 2h2v2h-2zm0 1h2v2h-2zm0 0h2v2h-2zm0 0h2v2h-2zm0 2h2v2h-2zm1-4h2v2h-2zm1 0h2v2h-2zm0 2h2v2h-2zm1 1h2v2h-2zm1 0h2v2h-2zm1-2h2v2h-2zm1 0h2v2h-2zm0 0h2v2h-2zm1-1h2v2h-2zm0 0h2v2h-2zm1 0h2v2h-2zm0 0h2v2h-2zm0 4h2v2h-2zm1-1h2v2h-2zm0 2h2v2h-2zm0 4h2v2h-2zm1-4h2v2h-2zm1-1h2v2h-2zm0 0h2v2h-2zm0 2h2v2h-2zm1-9h2v2h-2zm0 8h2v2h-2zm1-3h2v2h-2zm1-4h2v2h-2zm1 1h2v2h-2zm0 1h2v2h-2zm0 0h2v2h-2zm0 1h2v2h-2zm1-1h2v2h-2zm0 0h2v2h-2zm0 5h2v2h-2zm1-6h2v2h-2zm0 4h2v2h-2zm0 0h2v2h-2zm1-10h2v2h-2zm0 5h2v2h-2zm0 5h2v2h-2zm0 0h2v2h-2zm0 3h2v2h-2zm0 4h2v2h-2zm1-8h2v2h-2zm0 3h2v2h-2zm1-4h2v2h-2zm0 0h2v2h-2zm0 4h2v2h-2zm0 3h2v2h-2zm1-7h2v2h-2zm0 1h2v2h-2zm0 0h2v2h-2zm0 1h2v2h-2zm0 0h2v2h-2zm1-2h2v2h-2zm0 3h2v2h-2zm0 4h2v2h-2zm1-4h2v2h-2zm1-1h2v2h-2zm0 0h2v2h-2zm0 0h2v2h-2zm0 1h2v2h-2zm1-7h2v2h-2zm0 4h2v2h-2zm0 0h2v2h-2zm0 0h2v2h-2zm0 1h2v2h-2zm0 0h2v2h-2zm1-3h2v2h-2zm0 1h2v2h-2zm0 5h2v2h-2zm1-6h2v2h-2zm0 0h2v2h-2zm0 3h2v2h-2zm0 1h2v2h-2zm0 1h2v2h-2zm1-7h2v2h-2zm1 2h2v2h-2zm0 6h2v2h-2zm1-3h2v2h-2zm1 1h2v2h-2zm0 1h2v2h-2zm1-12h2v2h-2zm1 14h2v2h-2zm1-7h2v2h-2zm0 3h2v2h-2zm1-2h2v2h-2zm0 1h2v2h-2zm0 1h2v2h-2zm0 1h2v2h-2zm0 1h2v2h-2zm1-5h2v2h-2zm0 0h2v2h-2zm0 4h2v2h-2zm0 1h2v2h-2zm0 4h2v2h-2zm1-11h2v2h-2zm0 6h2v2h-2zm1-4h2v2h-2zm0 0h2v2h-2zm1-5h2v2h-2zm0 9h2v2h-2zm1-2h2v2h-2zm0 1h2v2h-2zm0 2h2v2h-2zm1-3h2v2h-2zm0 1h2v2h-2zm1 1h2v2h-2zm1-5h2v2h-2zm0 5h2v2h-2zm1-5h2v2h-2zm0 2h2v2h-2zm0 7h2v2h-2zm1-9h2v2h-2zm0 3h2v2h-2zm0 4h2v2h-2zm0 3h2v2h-2zm1-8h2v2h-2zm1 3h2v2h-2zm0 2h2v2h-2zm0 1h2v2h-2zm1-6h2v2h-2zm0 0h2v2h-2zm0 6h2v2h-2zm1-7h2v2h-2zm0 2h2v2h-2zm0 3h2v2h-2zm1-1h2v2h-2zm0 1h2v2h-2zm0 0h2v2h-2zm0 0h2v2h-2zm1 0h2v2h-2zm0 3h2v2h-2zm1-8h2v2h-2zm0 3h2v2h-2zm1-1h2v2h-2zm0 1h2v2h-2zm0 2h2v2h-2zm0 2h2v2h-2zm1-7h2v2h-2zm0 4h2v2h-2zm0 4h2v2h-2zm1-10h2v2h-2zm0 1h2v2h-2zm0 1h2v2h-2zm0 3h2v2h-2zm1-1h2v2h-2zm0 1h2v2h-2zm0 5h2v2h-2zm0 0h2v2h-2zm1-6h2v2h-2zm0 3h2v2h-2zm1-4h2v2h-2zm0 0h2v2h-2zm0 1h2v2h-2zm1-3h2v2h-2zm0 3h2v2h-2zm0 1h2v2h-2zm1 1h2v2h-2zm1-3h2v2h-2zm1-7h2v2h-2zm0 6h2v2h-2zm0 3h2v2h-2zm1-1h2v2h-2zm0 4h2v2h-2zm1-6h2v2h-2zm0 1h2v2h-2zm0 4h2v2h-2zm1-1h2v2h-2zm0 1h2v2h-2zm0 2h2v2h-2zm1-5h2v2h-2zm0 2h2v2h-2zm0 0h2v2h-2zm1 1h2v2h-2zm1-3h2v2h-2zm2-1h2v2h-2zm1 5h2v2h-2zm1-5h2v2h-2zm0 2h2v2h-2zm0 7h2v2h-2zm2-7h2v2h-2zm1 2h2v2h-2zm1-5h2v2h-2zm0 4h2v2h-2zm1-1h2v2h-2zm0 2h2v2h-2zm0 7h2v2h-2zm1-11h2v2h-2zm0 6h2v2h-2zm1-5h2v2h-2zm0 5h2v2h-2zm2-3h2v2h-2zm1-7h2v2h-2zm0 2h2v2h-2zm0 5h2v2h-2zm0 0h2v2h-2zm1-4h2v2h-2zm1 3h2v2h-2zm1 1h2v2h-2zm0 0h2v2h-2zm0 2h2v2h-2zm1-5h2v2h-2zm1-1h2v2h-2zm0 5h2v2h-2zm0 0h2v2h-2zm0 0h2v2h-2zm2-3h2v2h-2zm1 1h2v2h-2zm0 1h2v2h-2zm0 2h2v2h-2zm1-7h2v2h-2zm1 1h2v2h-2zm1 4h2v2h-2zm0 0h2v2h-2zm0 0h2v2h-2zm0 1h2v2h-2zm0 1h2v2h-2zm1-7h2v2h-2zm0 2h2v2h-2zm0 1h2v2h-2zm2-2h2v2h-2zm1 2h2v2h-2zm1-3h2v2h-2zm0 2h2v2h-2zm0 3h2v2h-2zm0 4h2v2h-2zm1-9h2v2h-2zm0 2h2v2h-2zm0 0h2v2h-2zm0 1h2v2h-2zm1 1h2v2h-2zm0 0h2v2h-2zm0 0h2v2h-2zm0 2h2v2h-2zm1-6h2v2h-2zm0 3h2v2h-2zm0 2h2v2h-2zm0 0h2v2h-2zm0 1h2v2h-2zm1-4h2v2h-2zm0 1h2v2h-2zm0 8h2v2h-2zm1-10h2v2h-2zm0 3h2v2h-2zm0 2h2v2h-2zm1-5h2v2h-2zm0 4h2v2h-2zm0 2h2v2h-2zm1 0h2v2h-2zm1-1h2v2h-2zm0 1h2v2h-2zm0 0h2v2h-2zm0 2h2v2h-2zm1-6h2v2h-2zm0 0h2v2h-2zm0 1h2v2h-2zm0 0h2v2h-2zm2-3h2v2h-2zm0 1h2v2h-2zm0 1h2v2h-2zm0 0h2v2h-2zm0 0h2v2h-2zm0 1h2v2h-2zm0 1h2v2h-2zm0 5h2v2h-2zm1-8h2v2h-2zm0 1h2v2h-2zm0 7h2v2h-2zm1-8h2v2h-2zm0 1h2v2h-2zm1-2h2v2h-2zm1 1h2v2h-2zm0 3h2v2h-2zm0 0h2v2h-2zm1-5h2v2h-2zm0 2h2v2h-2zm0 3h2v2h-2zm1 4h2v2h-2zm1-7h2v2h-2zm0 2h2v2h-2zm0 0h2v2h-2zm0 2h2v2h-2zm0 7h2v2h-2zm1-11h2v2h-2zm1-1h2v2h-2zm0 3h2v2h-2zm0 1h2v2h-2zm1-6h2v2h-2zm0 3h2v2h-2zm1-1h2v2h-2zm0 0h2v2h-2zm0 2h2v2h-2zm0 3h2v2h-2zm0 5h2v2h-2zm1-11h2v2h-2zm0 2h2v2h-2zm0 5h2v2h-2zm1-3h2v2h-2zm0 1h2v2h-2zm0 3h2v2h-2zm1-3h2v2h-2zm1-2h2v2h-2zm1-3h2v2h-2zm1 2h2v2h-2zm0 1h2v2h-2zm0 2h2v2h-2zm1-4h2v2h-2zm0 2h2v2h-2zm0 1h2v2h-2zm1-3h2v2h-2zm2 0h2v2h-2zm0 2h2v2h-2zm0 0h2v2h-2zm0 1h2v2h-2zm0 0h2v2h-2zm0 1h2v2h-2zm1-6h2v2h-2zm1 0h2v2h-2zm0 2h2v2h-2zm0 2h2v2h-2zm1-1h2v2h-2zm1 1h2v2h-2zm0 2h2v2h-2zm1 0h2v2h-2zm1-5h2v2h-2zm0 4h2v2h-2zm0 1h2v2h-2zm0 1h2v2h-2zm1-4h2v2h-2zm0 3h2v2h-2zm0 1h2v2h-2zm0 1h2v2h-2zm2-5h2v2h-2zm0 3h2v2h-2zm1-1h2v2h-2zm0 2h2v2h-2zm0 2h2v2h-2zm1-4h2v2h-2zm1-2h2v2h-2zm0 0h2v2h-2zm0 1h2v2h-2zm0 2h2v2h-2zm0 3h2v2h-2zm1-5h2v2h-2zm1-11h2v2h-2zm0 7h2v2h-2zm0 5h2v2h-2zm1-2h2v2h-2zm0 0h2v2h-2zm0 5h2v2h-2zm1-2h2v2h-2zm1-2h2v2h-2zm0 2h2v2h-2zm0 5h2v2h-2zm1-8h2v2h-2zm0 2h2v2h-2zm0 1h2v2h-2zm0 1h2v2h-2zm0 2h2v2h-2zm1-3h2v2h-2zm1-1h2v2h-2zm10-1h2v2h-2zm0 0h2v2h-2zm0 1h2v2h-2zm0 1h2v2h-2zm0 1h2v2h-2zm0 1h2v2h-2zm1-4h2v2h-2zm0 2h2v2h-2zm1-5h2v2h-2zm0 3h2v2h-2zm0 2h2v2h-2zm0 0h2v2h-2zm1 4h2v2h-2zm2-10h2v2h-2zm0 6h2v2h-2zm0 1h2v2h-2zm0 4h2v2h-2zm1-8h2v2h-2zm0 1h2v2h-2zm0 1h2v2h-2zm0 1h2v2h-2zm1 4h2v2h-2zm1-21h2v2h-2zm0 15h2v2h-2zm0 3h2v2h-2zm1 0h2v2h-2zm1-3h2v2h-2zm0 1h2v2h-2zm0 1h2v2h-2zm0 1h2v2h-2zm1-4h2v2h-2zm0 0h2v2h-2zm0 2h2v2h-2zm0 0h2v2h-2zm0 1h2v2h-2zm1 0h2v2h-2zm0 3h2v2h-2zm1-7h2v2h-2zm0 7h2v2h-2zm3-4h2v2h-2zm1 0h2v2h-2zm1-4h2v2h-2zm0 1h2v2h-2zm0 3h2v2h-2zm0 1h2v2h-2zm0 0h2v2h-2zm0 1h2v2h-2zm1-3h2v2h-2zm0 0h2v2h-2zm0 1h2v2h-2zm0 1h2v2h-2zm0 0h2v2h-2zm0 0h2v2h-2zm1 1h2v2h-2zm2 0h2v2h-2zm0 2h2v2h-2zm1-5h2v2h-2zm0 4h2v2h-2zm1-7h2v2h-2zm0 1h2v2h-2zm0 5h2v2h-2zm0 2h2v2h-2zm1-5h2v2h-2zm0 4h2v2h-2zm1-6h2v2h-2zm0 1h2v2h-2zm0 2h2v2h-2zm1-2h2v2h-2zm0 0h2v2h-2zm0 2h2v2h-2zm1 2h2v2h-2zm1 0h2v2h-2zm0 1h2v2h-2zm0 2h2v2h-2zm0 2h2v2h-2zm1-6h2v2h-2zm0 2h2v2h-2zm0 2h2v2h-2zm1-7h2v2h-2zm1 3h2v2h-2zm1-5h2v2h-2zm0 0h2v2h-2zm0 2h2v2h-2zm0 1h2v2h-2zm0 0h2v2h-2zm0 2h2v2h-2zm2-2h2v2h-2zm0 0h2v2h-2zm1-2h2v2h-2zm0 5h2v2h-2zm1 1h2v2h-2zm11-3h2v2h-2zm0 3h2v2h-2zm1 0h2v2h-2zm0 2h2v2h-2zm1-6h2v2h-2zm1 1h2v2h-2zm1-2h2v2h-2zm0 3h2v2h-2zm1 0h2v2h-2zm1-4h2v2h-2zm0 0h2v2h-2zm0 4h2v2h-2zm0 0h2v2h-2zm1 2h2v2h-2zm1 1h2v2h-2zm1-4h2v2h-2zm0 1h2v2h-2zm0 1h2v2h-2zm1-5h2v2h-2zm0 1h2v2h-2zm0 2h2v2h-2zm0 2h2v2h-2zm1-3h2v2h-2zm0 1h2v2h-2zm0 1h2v2h-2zm0 1h2v2h-2zm1-9h2v2h-2zm0 1h2v2h-2zm0 6h2v2h-2zm0 2h2v2h-2zm1-3h2v2h-2zm1-2h2v2h-2zm0 3h2v2h-2zm1-2h2v2h-2zm0 2h2v2h-2zm0 6h2v2h-2zm1-9h2v2h-2zm0 1h2v2h-2zm0 2h2v2h-2zm0 1h2v2h-2zm0 4h2v2h-2zm1-6h2v2h-2zm0 0h2v2h-2zm0 0h2v2h-2zm0 1h2v2h-2zm0 1h2v2h-2zm0 1h2v2h-2zm0 0h2v2h-2zm1-4h2v2h-2zm0 3h2v2h-2zm1 2h2v2h-2zm2-9h2v2h-2zm0 8h2v2h-2zm1-6h2v2h-2zm0 4h2v2h-2zm0 1h2v2h-2zm1-4h2v2h-2zm1 1h2v2h-2zm0 3h2v2h-2zm1-4h2v2h-2zm0 0h2v2h-2zm0 4h2v2h-2zm1-1h2v2h-2zm0 4h2v2h-2zm1-5h2v2h-2zm0 3h2v2h-2zm0 0h2v2h-2zm0 1h2v2h-2zm1 0h2v2h-2zm0 1h2v2h-2zm1-7h2v2h-2zm0 1h2v2h-2zm0 1h2v2h-2zm0 1h2v2h-2zm1 0h2v2h-2zm0 8h2v2h-2zm1-8h2v2h-2zm0 4h2v2h-2zm1-7h2v2h-2zm0 3h2v2h-2zm1 3h2v2h-2zm12-3h2v2h-2zm0 1h2v2h-2zm1-6h2v2h-2zm0 3h2v2h-2zm0 1h2v2h-2zm0 1h2v2h-2zm0 1h2v2h-2zm1-3h2v2h-2zm0 0h2v2h-2zm0 0h2v2h-2zm0 3h2v2h-2zm1-3h2v2h-2zm0 3h2v2h-2zm3-5h2v2h-2zm0 2h2v2h-2zm0 1h2v2h-2zm0 1h2v2h-2zm1 3h2v2h-2zm0 1h2v2h-2zm1-7h2v2h-2zm0 5h2v2h-2zm1-5h2v2h-2zm0 0h2v2h-2zm0 3h2v2h-2zm0 0h2v2h-2zm0 2h2v2h-2zm1-6h2v2h-2zm0 2h2v2h-2zm0 0h2v2h-2zm0 1h2v2h-2zm0 2h2v2h-2zm0 2h2v2h-2zm1-5h2v2h-2zm0 6h2v2h-2zm1-9h2v2h-2zm0 7h2v2h-2zm1-6h2v2h-2zm0 2h2v2h-2zm0 2h2v2h-2zm0 2h2v2h-2zm1-2h2v2h-2zm0 1h2v2h-2zm0 0h2v2h-2zm1-2h2v2h-2zm1-2h2v2h-2zm0 2h2v2h-2zm0 2h2v2h-2zm0 6h2v2h-2zm1-3h2v2h-2zm1-3h2v2h-2zm0 0h2v2h-2zm1 0h2v2h-2zm0 0h2v2h-2zm0 1h2v2h-2zm2-5h2v2h-2zm1 6h2v2h-2zm1-7h2v2h-2zm0 5h2v2h-2zm0 2h2v2h-2zm1-4h2v2h-2zm0 2h2v2h-2zm1-3h2v2h-2zm2 1h2v2h-2zm0 2h2v2h-2zm0 2h2v2h-2zm1-3h2v2h-2zm1-1h2v2h-2zm0 3h2v2h-2zm1-4h2v2h-2zm0 1h2v2h-2zm0 4h2v2h-2zm2-2h2v2h-2zm0 1h2v2h-2zm1-7h2v2h-2zm0 4h2v2h-2zm0 1h2v2h-2zm0 0h2v2h-2zm1-2h2v2h-2zm0 2h2v2h-2zm0 3h2v2h-2zm1-6h2v2h-2zm0 3h2v2h-2zm0 1h2v2h-2zm0 4h2v2h-2zm1-5h2v2h-2zm0 1h2v2h-2zm0 0h2v2h-2zm0 2h2v2h-2zm0 3h2v2h-2zm1-10h2v2h-2zm0 4h2v2h-2zm0 1h2v2h-2zm1 1h2v2h-2zm0 1h2v2h-2zm1-5h2v2h-2zm0 2h2v2h-2zm11 1h2v2h-2zm0 0h2v2h-2zm1-3h2v2h-2zm0 9h2v2h-2zm1-7h2v2h-2zm0 0h2v2h-2zm0 2h2v2h-2zm0 1h2v2h-2zm1-12h2v2h-2zm0 10h2v2h-2zm2-2h2v2h-2zm1-3h2v2h-2zm0 1h2v2h-2zm0 2h2v2h-2zm0 4h2v2h-2zm1-2h2v2h-2zm1-6h2v2h-2zm1 8h2v2h-2zm0 0h2v2h-2zm1-5h2v2h-2zm1 10h2v2h-2zm1-11h2v2h-2zm0 4h2v2h-2zm0 2h2v2h-2zm1-2h2v2h-2zm1-3h2v2h-2zm0 1h2v2h-2zm0 1h2v2h-2zm0 3h2v2h-2zm1-9h2v2h-2zm0 7h2v2h-2zm1-9h2v2h-2zm0 3h2v2h-2zm0 4h2v2h-2zm0 1h2v2h-2zm1-7h2v2h-2zm0 7h2v2h-2zm1-3h2v2h-2zm0 1h2v2h-2zm0 1h2v2h-2zm0 2h2v2h-2zm0 1h2v2h-2zm1-7h2v2h-2zm0 6h2v2h-2zm0 1h2v2h-2zm1-4h2v2h-2zm0 4h2v2h-2zm0 4h2v2h-2zm1-9h2v2h-2zm0 3h2v2h-2zm1-2h2v2h-2zm0 0h2v2h-2zm0 7h2v2h-2zm0 2h2v2h-2zm1-7h2v2h-2zm0 2h2v2h-2zm1-5h2v2h-2zm0 2h2v2h-2zm0 1h2v2h-2zm0 6h2v2h-2zm1-15h2v2h-2zm0 9h2v2h-2zm0 4h2v2h-2zm1-4h2v2h-2zm0 3h2v2h-2zm0 3h2v2h-2zm1-8h2v2h-2zm0 3h2v2h-2zm1-6h2v2h-2zm0 5h2v2h-2zm0 1h2v2h-2zm1-4h2v2h-2zm0 2h2v2h-2zm1 0h2v2h-2zm0 1h2v2h-2zm0 0h2v2h-2zm0 0h2v2h-2zm0 5h2v2h-2zm1-4h2v2h-2zm0 0h2v2h-2zm0 1h2v2h-2zm0 0h2v2h-2zm0 2h2v2h-2zm1-4h2v2h-2zm0 1h2v2h-2zm1-2h2v2h-2zm1-2h2v2h-2zm0 4h2v2h-2zm0 1h2v2h-2zm1 0h2v2h-2zm0 1h2v2h-2zm1-4h2v2h-2zm0 0h2v2h-2zm0 2h2v2h-2zm0 3h2v2h-2zm1-6h2v2h-2zm0 3h2v2h-2zm0 0h2v2h-2zm0 1h2v2h-2zm1-7h2v2h-2zm0 2h2v2h-2zm0 1h2v2h-2zm1-2h2v2h-2zm0 10h2v2h-2zm1-10h2v2h-2zm1 3h2v2h-2zm0 2h2v2h-2zm3-3h2v2h-2zm0 2h2v2h-2zm0 0h2v2h-2zm0 1h2v2h-2zm0 0h2v2h-2zm1 0h2v2h-2zm0 1h2v2h-2zm0 1h2v2h-2zm1-1h2v2h-2zm0 3h2v2h-2zm1-8h2v2h-2zm0 1h2v2h-2zm1-2h2v2h-2zm0 3h2v2h-2zm0 6h2v2h-2zm1-6h2v2h-2zm0 1h2v2h-2zm0 5h2v2h-2zm1-4h2v2h-2zm1-2h2v2h-2zm1-2h2v2h-2zm0 2h2v2h-2zm0 0h2v2h-2zm1 0h2v2h-2zm0 2h2v2h-2zm1-2h2v2h-2zm0 2h2v2h-2zm0 3h2v2h-2zm1-6h2v2h-2zm1-9h2v2h-2zm1 9h2v2h-2zm0 1h2v2h-2zm0 2h2v2h-2zm2-6h2v2h-2zm0 3h2v2h-2zm0 3h2v2h-2zm1-1h2v2h-2zm1 0h2v2h-2zm1-8h2v2h-2zm0 9h2v2h-2zm1-4h2v2h-2zm0 5h2v2h-2zm1-4h2v2h-2zm0 0h2v2h-2zm0 1h2v2h-2zm0 1h2v2h-2zm0 1h2v2h-2zm1-1h2v2h-2zm0 1h2v2h-2zm1-2h2v2h-2zm0 1h2v2h-2zm0 4h2v2h-2zm1-8h2v2h-2zm0 0h2v2h-2zm0 1h2v2h-2zm0 3h2v2h-2zm0 1h2v2h-2zm2-2h2v2h-2zm0 1h2v2h-2zm0 1h2v2h-2zm0 0h2v2h-2zm1-4h2v2h-2zm0 2h2v2h-2zm1 3h2v2h-2zm1-2h2v2h-2zm1-1h2v2h-2zm0 3h2v2h-2zm0 1h2v2h-2zm1-10h2v2h-2zm1 6h2v2h-2zm0 2h2v2h-2zm1-5h2v2h-2zm0 3h2v2h-2zm0 3h2v2h-2zm0 2h2v2h-2zm1-6h2v2h-2zm0 3h2v2h-2zm1 1h2v2h-2zm0 2h2v2h-2zm1-7h2v2h-2zm0 1h2v2h-2zm1 0h2v2h-2zm0 2h2v2h-2zm1-4h2v2h-2zm0 2h2v2h-2zm0 1h2v2h-2zm0 0h2v2h-2zm0 2h2v2h-2zm0 4h2v2h-2zm1-8h2v2h-2zm1 5h2v2h-2zm1-5h2v2h-2zm0 1h2v2h-2zm0 0h2v2h-2zm0 2h2v2h-2zm0 1h2v2h-2zm0 0h2v2h-2zm0 1h2v2h-2zm1-4h2v2h-2zm0 1h2v2h-2zm0 2h2v2h-2zm1-2h2v2h-2zm0 0h2v2h-2zm0 1h2v2h-2zm0 0h2v2h-2zm0 5h2v2h-2zm1-4h2v2h-2zm0 1h2v2h-2zm0 3h2v2h-2zm1-12h2v2h-2zm0 4h2v2h-2zm0 6h2v2h-2zm0 0h2v2h-2zm1-9h2v2h-2zm0 6h2v2h-2zm0 2h2v2h-2zm0 2h2v2h-2zm1-6h2v2h-2zm0 4h2v2h-2zm0 0h2v2h-2zm1 2h2v2h-2zm0 0h2v2h-2zm0 4h2v2h-2zm1-10h2v2h-2zm0 5h2v2h-2zm1-3h2v2h-2zm0 2h2v2h-2zm1-6h2v2h-2zm0 4h2v2h-2zm0 0h2v2h-2zm0 3h2v2h-2zm1-2h2v2h-2zm0 4h2v2h-2zm0 1h2v2h-2zm1-6h2v2h-2zm0 1h2v2h-2zm0 0h2v2h-2zm0 1h2v2h-2zm0 0h2v2h-2zm0 1h2v2h-2zm0 0h2v2h-2zm0 2h2v2h-2zm0 0h2v2h-2zm0 1h2v2h-2zm1-6h2v2h-2zm0 0h2v2h-2zm0 0h2v2h-2zm0 2h2v2h-2zm0 3h2v2h-2zm0 0h2v2h-2zm1-6h2v2h-2zm0 0h2v2h-2zm0 4h2v2h-2zm0 3h2v2h-2zm1-5h2v2h-2zm0 2h2v2h-2zm0 0h2v2h-2zm0 1h2v2h-2zm0 4h2v2h-2zm1-9h2v2h-2zm0 0h2v2h-2zm0 3h2v2h-2zm1-1h2v2h-2zm0 0h2v2h-2zm0 4h2v2h-2zm1-7h2v2h-2zm0 3h2v2h-2zm0 2h2v2h-2zm1-2h2v2h-2zm0 4h2v2h-2zm1-5h2v2h-2zm0 1h2v2h-2zm0 1h2v2h-2zm1-1h2v2h-2zm0 1h2v2h-2zm0 1h2v2h-2zm0 1h2v2h-2zm1-3h2v2h-2zm0 0h2v2h-2zm0 6h2v2h-2zm1-9h2v2h-2zm0 1h2v2h-2zm0 6h2v2h-2zm1-4h2v2h-2zm0 1h2v2h-2zm1-4h2v2h-2zm0 1h2v2h-2zm0 6h2v2h-2zm1-8h2v2h-2zm1 2h2v2h-2zm1-3h2v2h-2zm0 4h2v2h-2zm0 3h2v2h-2zm1-5h2v2h-2zm0 0h2v2h-2zm0 4h2v2h-2zm0 2h2v2h-2zm0 1h2v2h-2zm1-5h2v2h-2zm0 2h2v2h-2zm1-5h2v2h-2zm0 1h2v2h-2zm0 1h2v2h-2zm0 0h2v2h-2zm0 1h2v2h-2zm0 1h2v2h-2zm1 6h2v2h-2zm1-8h2v2h-2zm0 1h2v2h-2zm0 0h2v2h-2zm2-2h2v2h-2zm0 1h2v2h-2zm0 1h2v2h-2zm2-3h2v2h-2zm0 0h2v2h-2zm1 0h2v2h-2zm0 1h2v2h-2zm0 1h2v2h-2zm1-4h2v2h-2zm0 3h2v2h-2zm0 2h2v2h-2zm0 2h2v2h-2zm0 1h2v2h-2zm1-5h2v2h-2zm0 5h2v2h-2zm0 2h2v2h-2zm1-2h2v2h-2zm0 1h2v2h-2zm1-6h2v2h-2zm0 3h2v2h-2zm1-3h2v2h-2zm0 3h2v2h-2zm0 1h2v2h-2zm1-4h2v2h-2zm0 9h2v2h-2zm1-11h2v2h-2zm1 2h2v2h-2zm0 4h2v2h-2zm1-4h2v2h-2zm0 1h2v2h-2zm1-2h2v2h-2zm0 3h2v2h-2zm9 0h2v2h-2zm0 1h2v2h-2zm0 0h2v2h-2zm0 2h2v2h-2zm0 1h2v2h-2zm1-8h2v2h-2zm0 6h2v2h-2zm0 3h2v2h-2zm1-8h2v2h-2zm0 5h2v2h-2zm0 0h2v2h-2zm1-2h2v2h-2zm0 1h2v2h-2zm1-5h2v2h-2zm0 0h2v2h-2zm0 3h2v2h-2zm0 3h2v2h-2zm1-4h2v2h-2zm0 0h2v2h-2zm1 2h2v2h-2zm0 1h2v2h-2zm0 0h2v2h-2zm1-1h2v2h-2zm0 4h2v2h-2zm0 0h2v2h-2zm0 2h2v2h-2zm1-5h2v2h-2zm0 1h2v2h-2zm1-3h2v2h-2zm0 3h2v2h-2zm1-7h2v2h-2zm0 4h2v2h-2zm2-3h2v2h-2zm0 7h2v2h-2zm8-3h2v2h-2zm0 0h2v2h-2zm2-4h2v2h-2zm0 3h2v2h-2zm1 2h2v2h-2zm0 0h2v2h-2zm1-3h2v2h-2zm0 2h2v2h-2zm1-2h2v2h-2zm0 1h2v2h-2zm0 2h2v2h-2zm0 2h2v2h-2zm0 2h2v2h-2zm1-7h2v2h-2zm0 3h2v2h-2zm1-3h2v2h-2zm1 0h2v2h-2zm1 0h2v2h-2zm0 1h2v2h-2zm1-6h2v2h-2zm0 1h2v2h-2zm0 8h2v2h-2zm1-1h2v2h-2zm0 0h2v2h-2zm1-3h2v2h-2zm1-3h2v2h-2zm0 5h2v2h-2zm1 3h2v2h-2zm1-7h2v2h-2zm0 6h2v2h-2zm1-1h2v2h-2zm1-6h2v2h-2zm0 2h2v2h-2zm0 3h2v2h-2zm1-5h2v2h-2zm0 8h2v2h-2zm1-1h2v2h-2zm1-7h2v2h-2zm0 5h2v2h-2zm0 2h2v2h-2zm1-6h2v2h-2zm1 3h2v2h-2zm0 2h2v2h-2zm1 0h2v2h-2zm0 0h2v2h-2zm0 1h2v2h-2zm0 1h2v2h-2zm1-5h2v2h-2zm0 2h2v2h-2zm0 1h2v2h-2zm0 0h2v2h-2zm0 1h2v2h-2zm1-8h2v2h-2zm0 5h2v2h-2zm0 1h2v2h-2zm1-3h2v2h-2zm0 2h2v2h-2zm0 1h2v2h-2zm1-2h2v2h-2zm0 1h2v2h-2zm0 0h2v2h-2zm2 1h2v2h-2zm0 2h2v2h-2zm0 1h2v2h-2zm1-2h2v2h-2zm0 2h2v2h-2zm1-6h2v2h-2zm0 4h2v2h-2zm2-5h2v2h-2zm0 2h2v2h-2zm0 2h2v2h-2zm1-1h2v2h-2zm0 0h2v2h-2zm0 1h2v2h-2zm0 1h2v2h-2zm0 1h2v2h-2zm1-4h2v2h-2zm0 2h2v2h-2zm0 1h2v2h-2zm0 1h2v2h-2zm0 0h2v2h-2zm1-3h2v2h-2zm0 3h2v2h-2zm0 2h2v2h-2zm1-6h2v2h-2zm0 2h2v2h-2zm1-4h2v2h-2zm0 7h2v2h-2zm1-5h2v2h-2zm0 0h2v2h-2zm0 1h2v2h-2zm1-2h2v2h-2zm1 2h2v2h-2zm0 5h2v2h-2zm1-10h2v2h-2zm0 4h2v2h-2zm0 1h2v2h-2zm0 1h2v2h-2zm0 1h2v2h-2zm1-3h2v2h-2zm0 2h2v2h-2zm1-3h2v2h-2zm0 5h2v2h-2zm1-4h2v2h-2zm0 6h2v2h-2zm1-7h2v2h-2zm0 5h2v2h-2zm1-5h2v2h-2zm0 1h2v2h-2zm0 1h2v2h-2zm0 5h2v2h-2zm1-8h2v2h-2zm0 4h2v2h-2zm1 2h2v2h-2zm1-7h2v2h-2zm0 4h2v2h-2zm0 1h2v2h-2zm0 3h2v2h-2zm1-4h2v2h-2zm0 0h2v2h-2zm0 3h2v2h-2zm0 0h2v2h-2zm1-6h2v2h-2zm0 3h2v2h-2zm1-2h2v2h-2zm0 3h2v2h-2zm0 1h2v2h-2zm1-2h2v2h-2zm1-1h2v2h-2zm0 2h2v2h-2zm0 1h2v2h-2zm0 2h2v2h-2zm1-4h2v2h-2zm1-5h2v2h-2zm0 5h2v2h-2zm0 0h2v2h-2zm1-3h2v2h-2zm0 5h2v2h-2zm1-3h2v2h-2zm0 1h2v2h-2zm0 0h2v2h-2zm0 3h2v2h-2zm0 1h2v2h-2zm1-7h2v2h-2zm0 7h2v2h-2zm0 3h2v2h-2zm1-5h2v2h-2zm1-1h2v2h-2zm1-7h2v2h-2zm0 9h2v2h-2zm1-5h2v2h-2zm0 5h2v2h-2zm1-1h2v2h-2zm0 1h2v2h-2zm1-1h2v2h-2zm0 0h2v2h-2zm0 0h2v2h-2zm1-3h2v2h-2zm0 1h2v2h-2zm0 1h2v2h-2zm0 2h2v2h-2zm1-5h2v2h-2zm1 0h2v2h-2zm0 1h2v2h-2zm0 6h2v2h-2zm2-3h2v2h-2zm0 1h2v2h-2zm0 1h2v2h-2zm0 2h2v2h-2zm1-5h2v2h-2zm0 1h2v2h-2zm0 2h2v2h-2zm2-2h2v2h-2zm0 0h2v2h-2zm0 1h2v2h-2zm1 1h2v2h-2zm0 0h2v2h-2zm1-5h2v2h-2zm0 2h2v2h-2zm0 4h2v2h-2z"/>
<path fill="#2d5ea9" shape-rendering="crispEdges" d="M732 615h3v3h-3z"/>
<path fill="#12603a" shape-rendering="crispEdges" d="M870 548h3v3h-3z"/>
<path fill="#12603a" shape-rendering="crispEdges" d="M868 572h3v3h-3z"/>
<path fill="#2d5ea9" shape-rendering="crispEdges" d="M1465 574h3v3h-3z"/>
<path fill="#2d5ea9" shape-rendering="crispEdges" d="M430 494h3v3h-3z"/>
<path fill="#2d5ea9" shape-rendering="crispEdges" d="M728 494h3v3h-3z"/>
<path fill="#2d5ea9" shape-rendering="crispEdges" d="M1032 496h3v3h-3z"/>
<line x1="420" y1="487.5" x2="1667.5" y2="487.5" stroke="#6d95d2" stroke-width="1.1"/>
<path fill="#951419" d="M419.5 838L429.5 838v4L419.5 842zM432 838L445.5 838v4L432 842zM449.8 837.5L470.6 836.9v4L449.8 841.5zM481.3 836.6L523 835.5v4L481.3 840.6zM700 838L706.5 838v4L700 842zM1286.5 839L1325.4 839v4L1286.5 843zM1522.7 839.2L1538 839.2v4L1522.7 843.2zM1604.3 838L1667.4 838v4L1604.3 842z"/>
<path fill="#12603a" d="M426 853.6L432 853.6v4L426 857.6zM444 853.6L450 853.6v4L444 857.6zM623.5 851.4L660 851.4v4L623.5 855.4zM716 852.2L783.5 852.2v4L716 856.2zM803 852L857.6 852v4L803 856zM893.7 852L913.6 852v4L893.7 856zM927.7 852L993 852v4L927.7 856zM1110 851.4L1222.8 851.4v4L1110 855.4zM1379.4 851.4L1412 851.4v4L1379.4 855.4zM1430 851.4L1448.6 851.4v4L1430 855.4zM1488.7 851.4L1522.7 851.4v4L1488.7 855.4zM1573 859L1583 849v4L1573 863z"/>
<path fill="#2d5ea9" d="M523 846L623.5 846v4L523 850zM706.5 846L716 846v4L706.5 850zM857.6 846L893.7 846v4L857.6 850zM913.6 846L927.7 846v4L913.6 850zM993 841.5L1068 841.5v4L993 845.5zM1081 841.5L1110 841.5v4L1081 845.5zM1222.8 844.7L1277.7 844.7v4L1222.8 848.7zM1333.7 846L1368 846v4L1333.7 850zM1412 846L1430 846v4L1412 850zM1448.6 842.5L1481.3 842.5v4L1448.6 846.5zM1591 847L1604 847v4L1591 851z"/>
<path fill="#e2232b" d="M660 832.8L700 832.8v4L660 836.8zM783.5 819L802.4 808v4L783.5 823zM1538 832.5L1549 832.5v4L1538 836.5z"/>
<path fill="#951419" shape-rendering="crispEdges" d="M418 839h2v2h-2zm1-14h2v2h-2zm0 11h2v2h-2zm0 2h2v2h-2zm0 2h2v2h-2zm0 1h2v2h-2zm1-2h2v2h-2zm1-2h2v2h-2zm0 0h2v2h-2zm0 2h2v2h-2zm0 2h2v2h-2zm1-3h2v2h-2zm0 2h2v2h-2zm1 0h2v2h-2zm0 1h2v2h-2zm1-3h2v2h-2zm0 3h2v2h-2zm0 5h2v2h-2zm1-8h2v2h-2zm0 1h2v2h-2zm0 2h2v2h-2zm1-20h2v2h-2zm0 19h2v2h-2zm0 7h2v2h-2zm1-4h2v2h-2zm0 1h2v2h-2zm1-8h2v2h-2zm0 1h2v2h-2zm0 1h2v2h-2zm0 3h2v2h-2zm3-12h2v2h-2zm0 11h2v2h-2zm0 1h2v2h-2zm1-11h2v2h-2zm0 11h2v2h-2zm0 0h2v2h-2zm1-10h2v2h-2zm0 6h2v2h-2zm1 4h2v2h-2zm1 0h2v2h-2zm1-12h2v2h-2zm0 5h2v2h-2zm0 3h2v2h-2zm0 5h2v2h-2zm1-9h2v2h-2zm0 6h2v2h-2zm0 2h2v2h-2zm1-1h2v2h-2zm0 0h2v2h-2zm0 4h2v2h-2zm1-10h2v2h-2zm0 1h2v2h-2zm0 1h2v2h-2zm1-5h2v2h-2zm0 7h2v2h-2zm0 2h2v2h-2zm0 1h2v2h-2zm0 2h2v2h-2zm0 1h2v2h-2zm1-7h2v2h-2zm0 0h2v2h-2zm0 0h2v2h-2zm0 5h2v2h-2zm1-16h2v2h-2zm0 11h2v2h-2zm0 0h2v2h-2zm0 4h2v2h-2zm2-8h2v2h-2zm0 4h2v2h-2zm0 3h2v2h-2zm0 3h2v2h-2zm1-11h2v2h-2zm0 5h2v2h-2zm3-3h2v2h-2zm1-6h2v2h-2zm1 9h2v2h-2zm0 1h2v2h-2zm0 3h2v2h-2zm1-6h2v2h-2zm0 1h2v2h-2zm0 2h2v2h-2zm0 3h2v2h-2zm0 7h2v2h-2zm1-21h2v2h-2zm0 1h2v2h-2zm0 10h2v2h-2zm0 2h2v2h-2zm0 4h2v2h-2zm1-7h2v2h-2zm0 2h2v2h-2zm1 6h2v2h-2zm1-12h2v2h-2zm0 7h2v2h-2zm1-5h2v2h-2zm0 1h2v2h-2zm1 1h2v2h-2zm0 1h2v2h-2zm0 0h2v2h-2zm0 3h2v2h-2zm1-7h2v2h-2zm0 2h2v2h-2zm0 6h2v2h-2zm2-5h2v2h-2zm0 2h2v2h-2zm0 1h2v2h-2zm0 1h2v2h-2zm1-12h2v2h-2zm0 6h2v2h-2zm0 4h2v2h-2zm0 1h2v2h-2zm0 2h2v2h-2zm1-11h2v2h-2zm1 2h2v2h-2zm0 4h2v2h-2zm0 3h2v2h-2zm0 1h2v2h-2zm0 2h2v2h-2zm1-6h2v2h-2zm0 1h2v2h-2zm0 3h2v2h-2zm1 1h2v2h-2zm1-9h2v2h-2zm0 4h2v2h-2zm0 2h2v2h-2zm0 1h2v2h-2zm1-6h2v2h-2zm0 3h2v2h-2zm0 2h2v2h-2zm0 0h2v2h-2zm0 0h2v2h-2zm0 1h2v2h-2zm1-8h2v2h-2zm0 5h2v2h-2zm0 0h2v2h-2zm0 1h2v2h-2zm0 2h2v2h-2zm1 3h2v2h-2zm11-3h2v2h-2zm1-6h2v2h-2zm0 3h2v2h-2zm0 1h2v2h-2zm0 1h2v2h-2zm1-4h2v2h-2zm0 1h2v2h-2zm0 4h2v2h-2zm1-4h2v2h-2zm0 1h2v2h-2zm1 0h2v2h-2zm0 4h2v2h-2zm1-6h2v2h-2zm0 0h2v2h-2zm0 7h2v2h-2zm1-5h2v2h-2zm1 1h2v2h-2zm0 0h2v2h-2zm0 1h2v2h-2zm0 6h2v2h-2zm1-8h2v2h-2zm0 0h2v2h-2zm0 2h2v2h-2zm0 3h2v2h-2zm1-7h2v2h-2zm0 2h2v2h-2zm0 3h2v2h-2zm0 5h2v2h-2zm1-11h2v2h-2zm0 5h2v2h-2zm0 1h2v2h-2zm2 3h2v2h-2zm1-6h2v2h-2zm0 0h2v2h-2zm0 2h2v2h-2zm1-7h2v2h-2zm0 9h2v2h-2zm2-6h2v2h-2zm0 1h2v2h-2zm0 0h2v2h-2zm0 0h2v2h-2zm0 3h2v2h-2zm0 10h2v2h-2zm1-28h2v2h-2zm0 17h2v2h-2zm1-4h2v2h-2zm0 0h2v2h-2zm0 2h2v2h-2zm0 1h2v2h-2zm0 1h2v2h-2zm1-3h2v2h-2zm0 1h2v2h-2zm1-1h2v2h-2zm0 1h2v2h-2zm0 1h2v2h-2zm1-1h2v2h-2zm0 2h2v2h-2zm0 0h2v2h-2zm1-2h2v2h-2zm0 1h2v2h-2zm0 2h2v2h-2zm1-3h2v2h-2zm0 2h2v2h-2zm0 5h2v2h-2zm1-8h2v2h-2zm0 1h2v2h-2zm1 0h2v2h-2zm0 0h2v2h-2zm0 0h2v2h-2zm1 1h2v2h-2zm0 3h2v2h-2zm1-7h2v2h-2zm0 4h2v2h-2zm1-3h2v2h-2zm0 2h2v2h-2zm0 0h2v2h-2zm0 12h2v2h-2zm1-10h2v2h-2zm0 1h2v2h-2zm1-4h2v2h-2zm0 1h2v2h-2zm0 0h2v2h-2zm0 0h2v2h-2zm0 2h2v2h-2zm1-1h2v2h-2zm1-1h2v2h-2zm0 5h2v2h-2zm0 2h2v2h-2zm0 7h2v2h-2zm1-18h2v2h-2zm0 1h2v2h-2zm0 4h2v2h-2zm0 0h2v2h-2zm1-3h2v2h-2zm0 5h2v2h-2zm1-4h2v2h-2zm0 3h2v2h-2zm0 3h2v2h-2zm0 2h2v2h-2zm1-9h2v2h-2zm0 5h2v2h-2zm0 3h2v2h-2zm1-5h2v2h-2zm1-15h2v2h-2zm1 15h2v2h-2zm0 2h2v2h-2zm0 2h2v2h-2zm0 1h2v2h-2zm1-11h2v2h-2zm1 3h2v2h-2zm0 1h2v2h-2zm0 1h2v2h-2zm0 1h2v2h-2zm0 0h2v2h-2zm0 3h2v2h-2zm1-8h2v2h-2zm177 4h2v2h-2zm0 2h2v2h-2zm0 3h2v2h-2zm1-7h2v2h-2zm0 3h2v2h-2zm0 2h2v2h-2zm0 4h2v2h-2zm1-7h2v2h-2zm0 1h2v2h-2zm0 0h2v2h-2zm0 2h2v2h-2zm0 1h2v2h-2zm0 0h2v2h-2zm0 2h2v2h-2zm0 0h2v2h-2zm0 1h2v2h-2zm1-9h2v2h-2zm0 3h2v2h-2zm0 1h2v2h-2zm0 0h2v2h-2zm0 4h2v2h-2zm1-5h2v2h-2zm0 1h2v2h-2zm0 1h2v2h-2zm0 0h2v2h-2zm1-2h2v2h-2zm0 0h2v2h-2zm0 1h2v2h-2zm0 2h2v2h-2zm0 1h2v2h-2zm0 0h2v2h-2zm1-6h2v2h-2zm0 3h2v2h-2zm0 5h2v2h-2zm581-6h2v2h-2zm0 3h2v2h-2zm0 2h2v2h-2zm1-2h2v2h-2zm1-4h2v2h-2zm1 4h2v2h-2zm0 3h2v2h-2zm1-8h2v2h-2zm0 3h2v2h-2zm0 3h2v2h-2zm0 0h2v2h-2zm0 2h2v2h-2zm0 1h2v2h-2zm1-7h2v2h-2zm0 2h2v2h-2zm0 1h2v2h-2zm0 5h2v2h-2zm1-5h2v2h-2zm0 2h2v2h-2zm0 2h2v2h-2zm0 0h2v2h-2zm1-5h2v2h-2zm0 2h2v2h-2zm1-3h2v2h-2zm1 1h2v2h-2zm0 0h2v2h-2zm0 1h2v2h-2zm0 1h2v2h-2zm1-1h2v2h-2zm0 4h2v2h-2zm1-7h2v2h-2zm0 2h2v2h-2zm0 1h2v2h-2zm0 1h2v2h-2zm1-1h2v2h-2zm0 0h2v2h-2zm0 2h2v2h-2zm0 0h2v2h-2zm1-4h2v2h-2zm0 5h2v2h-2zm0 2h2v2h-2zm1-9h2v2h-2zm0 1h2v2h-2zm0 2h2v2h-2zm0 0h2v2h-2zm1-2h2v2h-2zm0 1h2v2h-2zm1 4h2v2h-2zm0 2h2v2h-2zm0 2h2v2h-2zm1-7h2v2h-2zm1-2h2v2h-2zm1 0h2v2h-2zm0 0h2v2h-2zm0 1h2v2h-2zm0 2h2v2h-2zm0 3h2v2h-2zm1-3h2v2h-2zm0 0h2v2h-2zm0 6h2v2h-2zm1-7h2v2h-2zm0 1h2v2h-2zm0 1h2v2h-2zm0 3h2v2h-2zm1-5h2v2h-2zm1 0h2v2h-2zm0 1h2v2h-2zm1 0h2v2h-2zm1-6h2v2h-2zm0 4h2v2h-2zm0 3h2v2h-2zm0 4h2v2h-2zm1-9h2v2h-2zm0 4h2v2h-2zm0 3h2v2h-2zm1-7h2v2h-2zm0 0h2v2h-2zm0 3h2v2h-2zm0 2h2v2h-2zm0 0h2v2h-2zm0 2h2v2h-2zm0 3h2v2h-2zm1-7h2v2h-2zm0 7h2v2h-2zm1-5h2v2h-2zm1-2h2v2h-2zm0 1h2v2h-2zm1-2h2v2h-2zm1-3h2v2h-2zm0 1h2v2h-2zm0 1h2v2h-2zm0 0h2v2h-2zm0 5h2v2h-2zm1-7h2v2h-2zm0 2h2v2h-2zm0 4h2v2h-2zm0 2h2v2h-2zm1-6h2v2h-2zm0 2h2v2h-2zm0 1h2v2h-2zm1 0h2v2h-2zm1 4h2v2h-2zm0 0h2v2h-2zm1-8h2v2h-2zm0 1h2v2h-2zm0 2h2v2h-2zm0 1h2v2h-2zm1 2h2v2h-2zm198-1h2v2h-2zm1 1h2v2h-2zm1-6h2v2h-2zm0 4h2v2h-2zm1 1h2v2h-2zm0 0h2v2h-2zm0 3h2v2h-2zm1-9h2v2h-2zm0 4h2v2h-2zm0 0h2v2h-2zm0 1h2v2h-2zm0 1h2v2h-2zm0 1h2v2h-2zm0 0h2v2h-2zm0 1h2v2h-2zm1-3h2v2h-2zm0 4h2v2h-2zm1 4h2v2h-2zm1-6h2v2h-2zm0 1h2v2h-2zm1-5h2v2h-2zm0 3h2v2h-2zm1-4h2v2h-2zm1 1h2v2h-2zm0 1h2v2h-2zm0 1h2v2h-2zm0 1h2v2h-2zm1-5h2v2h-2zm0 4h2v2h-2zm0 3h2v2h-2zm0 0h2v2h-2zm1-8h2v2h-2zm0 4h2v2h-2zm0 0h2v2h-2zm0 1h2v2h-2zm1-6h2v2h-2zm0 5h2v2h-2zm0 1h2v2h-2zm0 5h2v2h-2zm1-6h2v2h-2zm0 3h2v2h-2zm1-5h2v2h-2zm67 6h2v2h-2zm1-7h2v2h-2zm0 2h2v2h-2zm0 1h2v2h-2zm1-5h2v2h-2zm0 2h2v2h-2zm0 2h2v2h-2zm0 0h2v2h-2zm0 6h2v2h-2zm1-11h2v2h-2zm0 1h2v2h-2zm0 0h2v2h-2zm0 1h2v2h-2zm0 2h2v2h-2zm0 3h2v2h-2zm1-5h2v2h-2zm0 5h2v2h-2zm1-12h2v2h-2zm0 10h2v2h-2zm0 1h2v2h-2zm0 0h2v2h-2zm0 1h2v2h-2zm0 1h2v2h-2zm0 2h2v2h-2zm1-9h2v2h-2zm0 3h2v2h-2zm0 0h2v2h-2zm0 1h2v2h-2zm0 1h2v2h-2zm0 1h2v2h-2zm0 1h2v2h-2zm1 0h2v2h-2zm0 0h2v2h-2zm0 1h2v2h-2zm0 1h2v2h-2zm1-7h2v2h-2zm0 0h2v2h-2zm0 2h2v2h-2zm0 1h2v2h-2zm0 2h2v2h-2zm1 1h2v2h-2zm0 1h2v2h-2zm1-6h2v2h-2zm0 2h2v2h-2zm0 2h2v2h-2zm1-6h2v2h-2zm0 7h2v2h-2zm1-3h2v2h-2zm0 1h2v2h-2zm1-4h2v2h-2zm0 2h2v2h-2zm0 1h2v2h-2zm0 2h2v2h-2zm1-1h2v2h-2zm1-1h2v2h-2zm0 3h2v2h-2zm0 2h2v2h-2zm1-8h2v2h-2zm0 3h2v2h-2zm0 1h2v2h-2zm1-4h2v2h-2zm0 3h2v2h-2zm0 1h2v2h-2zm0 1h2v2h-2zm2-6h2v2h-2zm0 7h2v2h-2zm0 0h2v2h-2zm1-4h2v2h-2zm0 11h2v2h-2zm1-7h2v2h-2zm1-6h2v2h-2zm0 1h2v2h-2zm0 2h2v2h-2zm0 0h2v2h-2zm0 1h2v2h-2zm0 0h2v2h-2zm1-5h2v2h-2zm0 3h2v2h-2zm0 4h2v2h-2zm2-4h2v2h-2zm1-2h2v2h-2zm0 1h2v2h-2zm0 2h2v2h-2zm0 2h2v2h-2zm1-5h2v2h-2zm0 4h2v2h-2zm0 0h2v2h-2zm1-7h2v2h-2zm0 7h2v2h-2zm0 0h2v2h-2zm0 3h2v2h-2zm0 1h2v2h-2zm2-7h2v2h-2zm0 0h2v2h-2zm0 1h2v2h-2zm0 0h2v2h-2zm1-1h2v2h-2zm0 1h2v2h-2zm0 2h2v2h-2zm1-4h2v2h-2zm0 2h2v2h-2zm0 0h2v2h-2zm0 3h2v2h-2zm1-2h2v2h-2zm1-4h2v2h-2zm0 4h2v2h-2zm0 0h2v2h-2zm0 4h2v2h-2zm1-3h2v2h-2zm0 0h2v2h-2zm0 1h2v2h-2zm1-5h2v2h-2zm0 5h2v2h-2zm1-4h2v2h-2zm0 4h2v2h-2zm0 1h2v2h-2zm1-2h2v2h-2zm0 6h2v2h-2zm1-11h2v2h-2zm0 5h2v2h-2zm1-2h2v2h-2zm0 0h2v2h-2zm0 1h2v2h-2zm0 1h2v2h-2zm1 1h2v2h-2zm0 0h2v2h-2zm1 4h2v2h-2zm1-9h2v2h-2zm0 2h2v2h-2zm0 2h2v2h-2zm0 0h2v2h-2zm1 0h2v2h-2zm1 0h2v2h-2zm0 0h2v2h-2zm0 1h2v2h-2zm0 1h2v2h-2zm0 3h2v2h-2zm2-8h2v2h-2zm0 1h2v2h-2zm0 2h2v2h-2zm1-7h2v2h-2zm0 4h2v2h-2zm0 2h2v2h-2zm0 2h2v2h-2zm1-1h2v2h-2zm0 1h2v2h-2zm1-4h2v2h-2zm0 2h2v2h-2zm0 1h2v2h-2zm0 1h2v2h-2zm0 3h2v2h-2zm1-6h2v2h-2zm1 1h2v2h-2zm1 1h2v2h-2zm0 1h2v2h-2zm1-6h2v2h-2zm0 1h2v2h-2zm0 1h2v2h-2zm0 2h2v2h-2zm0 4h2v2h-2zm1-3h2v2h-2zm1-3h2v2h-2zm0 1h2v2h-2zm0 2h2v2h-2zm0 0h2v2h-2zm1-1h2v2h-2zm0 1h2v2h-2zm0 1h2v2h-2zm1-3h2v2h-2zm1 0h2v2h-2zm1-3h2v2h-2zm0 0h2v2h-2zm0 6h2v2h-2zm2-6h2v2h-2zm0 1h2v2h-2zm0 1h2v2h-2z"/>
<path fill="#12603a" shape-rendering="crispEdges" d="M425 851h2v2h-2zm0 4h2v2h-2zm0 1h2v2h-2zm0 0h2v2h-2zm0 1h2v2h-2zm1-5h2v2h-2zm1 2h2v2h-2zm0 1h2v2h-2zm0 2h2v2h-2zm1-8h2v2h-2zm0 2h2v2h-2zm0 0h2v2h-2zm0 3h2v2h-2zm0 1h2v2h-2zm0 0h2v2h-2zm1-5h2v2h-2zm0 4h2v2h-2zm0 2h2v2h-2zm0 1h2v2h-2zm0 4h2v2h-2zm1-9h2v2h-2zm0 2h2v2h-2zm0 2h2v2h-2zm0 0h2v2h-2zm1-3h2v2h-2zm0 4h2v2h-2zm12-2h2v2h-2zm0 1h2v2h-2zm0 0h2v2h-2zm0 1h2v2h-2zm1-5h2v2h-2zm0 3h2v2h-2zm1-5h2v2h-2zm0 2h2v2h-2zm0 4h2v2h-2zm0 0h2v2h-2zm0 2h2v2h-2zm1-8h2v2h-2zm0 2h2v2h-2zm0 1h2v2h-2zm0 2h2v2h-2zm1 0h2v2h-2zm0 0h2v2h-2zm0 2h2v2h-2zm1-8h2v2h-2zm0 7h2v2h-2zm0 0h2v2h-2zm0 4h2v2h-2zm0 0h2v2h-2zm1-11h2v2h-2zm0 5h2v2h-2zm0 4h2v2h-2zm174-7h2v2h-2zm0 0h2v2h-2zm0 1h2v2h-2zm0 3h2v2h-2zm0 0h2v2h-2zm0 1h2v2h-2zm0 2h2v2h-2zm1-10h2v2h-2zm0 4h2v2h-2zm0 1h2v2h-2zm1-2h2v2h-2zm0 0h2v2h-2zm0 2h2v2h-2zm0 2h2v2h-2zm0 1h2v2h-2zm1-7h2v2h-2zm0 3h2v2h-2zm1 0h2v2h-2zm0 0h2v2h-2zm0 3h2v2h-2zm0 3h2v2h-2zm1-12h2v2h-2zm0 9h2v2h-2zm1-3h2v2h-2zm1 1h2v2h-2zm0 3h2v2h-2zm1-5h2v2h-2zm0 5h2v2h-2zm1-6h2v2h-2zm0 1h2v2h-2zm0 4h2v2h-2zm1-6h2v2h-2zm0 2h2v2h-2zm0 2h2v2h-2zm0 2h2v2h-2zm1-2h2v2h-2zm1-1h2v2h-2zm0 3h2v2h-2zm0 1h2v2h-2zm0 1h2v2h-2zm1-3h2v2h-2zm1-3h2v2h-2zm0 2h2v2h-2zm0 1h2v2h-2zm1-4h2v2h-2zm0 5h2v2h-2zm1-8h2v2h-2zm0 2h2v2h-2zm0 7h2v2h-2zm1-4h2v2h-2zm0 6h2v2h-2zm1-11h2v2h-2zm1 3h2v2h-2zm0 1h2v2h-2zm0 1h2v2h-2zm0 2h2v2h-2zm1-2h2v2h-2zm0 2h2v2h-2zm1-4h2v2h-2zm0 2h2v2h-2zm0 1h2v2h-2zm0 2h2v2h-2zm0 1h2v2h-2zm1-2h2v2h-2zm0 5h2v2h-2zm1-8h2v2h-2zm0 2h2v2h-2zm0 1h2v2h-2zm0 6h2v2h-2zm1-14h2v2h-2zm0 3h2v2h-2zm0 3h2v2h-2zm0 0h2v2h-2zm1 0h2v2h-2zm1-4h2v2h-2zm1 0h2v2h-2zm0 4h2v2h-2zm0 0h2v2h-2zm0 0h2v2h-2zm0 1h2v2h-2zm1-6h2v2h-2zm0 2h2v2h-2zm0 2h2v2h-2zm0 0h2v2h-2zm0 4h2v2h-2zm0 2h2v2h-2zm1-5h2v2h-2zm0 1h2v2h-2zm0 0h2v2h-2zm0 0h2v2h-2zm1-1h2v2h-2zm1 1h2v2h-2zm1-1h2v2h-2zm0 3h2v2h-2zm0 1h2v2h-2zm0 0h2v2h-2zm1-4h2v2h-2zm0 1h2v2h-2zm0 1h2v2h-2zm1-4h2v2h-2zm0 0h2v2h-2zm1-1h2v2h-2zm57-1h2v2h-2zm1 3h2v2h-2zm0 2h2v2h-2zm0 0h2v2h-2zm0 0h2v2h-2zm2-2h2v2h-2zm0 1h2v2h-2zm0 2h2v2h-2zm1-6h2v2h-2zm0 6h2v2h-2zm1-2h2v2h-2zm0 1h2v2h-2zm0 0h2v2h-2zm0 1h2v2h-2zm1-8h2v2h-2zm0 4h2v2h-2zm0 1h2v2h-2zm0 2h2v2h-2zm0 1h2v2h-2zm1 2h2v2h-2zm0 1h2v2h-2zm1-3h2v2h-2zm1-3h2v2h-2zm0 5h2v2h-2zm1-5h2v2h-2zm0 2h2v2h-2zm0 2h2v2h-2zm1-7h2v2h-2zm0 4h2v2h-2zm0 1h2v2h-2zm0 1h2v2h-2zm0 0h2v2h-2zm1 4h2v2h-2zm0 0h2v2h-2zm1-7h2v2h-2zm1-1h2v2h-2zm0 1h2v2h-2zm0 2h2v2h-2zm1-3h2v2h-2zm0 1h2v2h-2zm0 3h2v2h-2zm0 0h2v2h-2zm0 3h2v2h-2zm1-4h2v2h-2zm0 2h2v2h-2zm1-2h2v2h-2zm1-4h2v2h-2zm0 2h2v2h-2zm0 4h2v2h-2zm0 1h2v2h-2zm0 3h2v2h-2zm1-21h2v2h-2zm0 9h2v2h-2zm0 9h2v2h-2zm0 0h2v2h-2zm1-5h2v2h-2zm0 4h2v2h-2zm1 0h2v2h-2zm0 1h2v2h-2zm1-4h2v2h-2zm0 3h2v2h-2zm1-5h2v2h-2zm0 3h2v2h-2zm0 1h2v2h-2zm0 0h2v2h-2zm0 2h2v2h-2zm1-3h2v2h-2zm0 1h2v2h-2zm1-2h2v2h-2zm0 0h2v2h-2zm0 2h2v2h-2zm1-1h2v2h-2zm0 1h2v2h-2zm1-5h2v2h-2zm0 8h2v2h-2zm1-6h2v2h-2zm0 5h2v2h-2zm0 2h2v2h-2zm0 0h2v2h-2zm1-3h2v2h-2zm0 6h2v2h-2zm1-5h2v2h-2zm0 14h2v2h-2zm1-21h2v2h-2zm0 6h2v2h-2zm1-5h2v2h-2zm0 1h2v2h-2zm0 0h2v2h-2zm0 3h2v2h-2zm0 5h2v2h-2zm1-4h2v2h-2zm0 1h2v2h-2zm1-4h2v2h-2zm0 5h2v2h-2zm0 0h2v2h-2zm1-3h2v2h-2zm0 1h2v2h-2zm1-5h2v2h-2zm0 3h2v2h-2zm0 2h2v2h-2zm0 3h2v2h-2zm1-10h2v2h-2zm0 4h2v2h-2zm0 2h2v2h-2zm0 1h2v2h-2zm1-2h2v2h-2zm0 1h2v2h-2zm0 13h2v2h-2zm1-19h2v2h-2zm0 4h2v2h-2zm0 0h2v2h-2zm0 2h2v2h-2zm0 0h2v2h-2zm1-9h2v2h-2zm0 4h2v2h-2zm0 5h2v2h-2zm0 1h2v2h-2zm0 0h2v2h-2zm1-2h2v2h-2zm0 0h2v2h-2zm0 1h2v2h-2zm1 3h2v2h-2zm1-4h2v2h-2zm0 0h2v2h-2zm0 4h2v2h-2zm1-2h2v2h-2zm0 0h2v2h-2zm1-3h2v2h-2zm1 1h2v2h-2zm0 4h2v2h-2zm0 14h2v2h-2zm1-22h2v2h-2zm0 1h2v2h-2zm0 3h2v2h-2zm0 0h2v2h-2zm1 1h2v2h-2zm0 3h2v2h-2zm0 0h2v2h-2zm1-8h2v2h-2zm0 2h2v2h-2zm0 1h2v2h-2zm0 2h2v2h-2zm0 8h2v2h-2zm1-15h2v2h-2zm0 3h2v2h-2zm0 4h2v2h-2zm0 2h2v2h-2zm1-3h2v2h-2zm0 1h2v2h-2zm1 4h2v2h-2zm2-7h2v2h-2zm0 0h2v2h-2zm0 2h2v2h-2zm1-4h2v2h-2zm0 2h2v2h-2zm0 3h2v2h-2zm1-9h2v2h-2zm0 6h2v2h-2zm0 2h2v2h-2zm0 0h2v2h-2zm0 2h2v2h-2zm2-6h2v2h-2zm0 3h2v2h-2zm1-1h2v2h-2zm0 1h2v2h-2zm0 3h2v2h-2zm1 0h2v2h-2zm0 1h2v2h-2zm0 1h2v2h-2zm1-8h2v2h-2zm1-2h2v2h-2zm0 7h2v2h-2zm1-8h2v2h-2zm0 7h2v2h-2zm0 1h2v2h-2zm1-4h2v2h-2zm0 6h2v2h-2zm1-3h2v2h-2zm0 2h2v2h-2zm1-13h2v2h-2zm0 5h2v2h-2zm0 8h2v2h-2zm0 1h2v2h-2zm1-5h2v2h-2zm0 2h2v2h-2zm0 0h2v2h-2zm0 1h2v2h-2zm0 1h2v2h-2zm0 1h2v2h-2zm20-4h2v2h-2zm1 5h2v2h-2zm1 0h2v2h-2zm0 0h2v2h-2zm1-7h2v2h-2zm0 4h2v2h-2zm1-1h2v2h-2zm0 0h2v2h-2zm1 4h2v2h-2zm1-7h2v2h-2zm0 1h2v2h-2zm0 2h2v2h-2zm0 3h2v2h-2zm1-8h2v2h-2zm0 2h2v2h-2zm1 0h2v2h-2zm1 2h2v2h-2zm0 2h2v2h-2zm0 3h2v2h-2zm1-9h2v2h-2zm0 5h2v2h-2zm1-5h2v2h-2zm0 6h2v2h-2zm1-5h2v2h-2zm0 2h2v2h-2zm0 3h2v2h-2zm0 1h2v2h-2zm0 2h2v2h-2zm1-4h2v2h-2zm0 5h2v2h-2zm1-7h2v2h-2zm0 0h2v2h-2zm0 0h2v2h-2zm0 5h2v2h-2zm1-5h2v2h-2zm0 2h2v2h-2zm0 1h2v2h-2zm1-3h2v2h-2zm0 3h2v2h-2zm0 0h2v2h-2zm0 2h2v2h-2zm1-5h2v2h-2zm0 2h2v2h-2zm0 11h2v2h-2zm1-13h2v2h-2zm0 1h2v2h-2zm0 0h2v2h-2zm0 1h2v2h-2zm0 3h2v2h-2zm2-5h2v2h-2zm0 4h2v2h-2zm1-3h2v2h-2zm0 2h2v2h-2zm1-5h2v2h-2zm0 7h2v2h-2zm1-6h2v2h-2zm1 0h2v2h-2zm0 3h2v2h-2zm0 0h2v2h-2zm0 0h2v2h-2zm1-6h2v2h-2zm0 3h2v2h-2zm0 1h2v2h-2zm0 3h2v2h-2zm0 0h2v2h-2zm1-5h2v2h-2zm0 2h2v2h-2zm0 0h2v2h-2zm0 3h2v2h-2zm0 1h2v2h-2zm0 0h2v2h-2zm1-3h2v2h-2zm1 1h2v2h-2zm0 2h2v2h-2zm1-4h2v2h-2zm0 1h2v2h-2zm0 6h2v2h-2zm1-9h2v2h-2zm0 2h2v2h-2zm0 1h2v2h-2zm0 1h2v2h-2zm0 2h2v2h-2zm1-1h2v2h-2zm0 0h2v2h-2zm1-3h2v2h-2zm0 3h2v2h-2zm0 1h2v2h-2zm1-5h2v2h-2zm1-1h2v2h-2zm0 1h2v2h-2zm0 2h2v2h-2zm0 1h2v2h-2zm1-6h2v2h-2zm0 6h2v2h-2zm0 1h2v2h-2zm0 1h2v2h-2zm0 0h2v2h-2zm0 0h2v2h-2zm0 2h2v2h-2zm1-8h2v2h-2zm0 1h2v2h-2zm0 6h2v2h-2zm1-13h2v2h-2zm0 13h2v2h-2zm1 1h2v2h-2zm1-7h2v2h-2zm0 2h2v2h-2zm0 0h2v2h-2zm0 4h2v2h-2zm1 1h2v2h-2zm1-7h2v2h-2zm0 3h2v2h-2zm1 2h2v2h-2zm0 2h2v2h-2zm2-8h2v2h-2zm0 1h2v2h-2zm0 2h2v2h-2zm0 0h2v2h-2zm0 2h2v2h-2zm0 1h2v2h-2zm0 3h2v2h-2zm1-6h2v2h-2zm0 1h2v2h-2zm0 1h2v2h-2zm1-4h2v2h-2zm0 2h2v2h-2zm0 0h2v2h-2zm0 6h2v2h-2zm1-7h2v2h-2zm0 4h2v2h-2zm0 3h2v2h-2zm1-12h2v2h-2zm0 2h2v2h-2zm0 6h2v2h-2zm1-5h2v2h-2zm0 3h2v2h-2zm0 1h2v2h-2zm1-2h2v2h-2zm0 1h2v2h-2zm0 4h2v2h-2zm1-3h2v2h-2zm1-2h2v2h-2zm0 4h2v2h-2zm0 0h2v2h-2zm0 2h2v2h-2zm1-7h2v2h-2zm0 2h2v2h-2zm0 3h2v2h-2zm1-1h2v2h-2zm0 0h2v2h-2zm0 1h2v2h-2zm1-3h2v2h-2zm36-3h2v2h-2zm0 6h2v2h-2zm0 6h2v2h-2zm1-9h2v2h-2zm0 3h2v2h-2zm0 1h2v2h-2zm1-5h2v2h-2zm0 2h2v2h-2zm0 3h2v2h-2zm1-3h2v2h-2zm1-2h2v2h-2zm1-3h2v2h-2zm0 2h2v2h-2zm0 2h2v2h-2zm0 1h2v2h-2zm0 4h2v2h-2zm1-5h2v2h-2zm0 0h2v2h-2zm0 0h2v2h-2zm0 2h2v2h-2zm0 2h2v2h-2zm1-3h2v2h-2zm0 1h2v2h-2zm0 1h2v2h-2zm0 1h2v2h-2zm1 0h2v2h-2zm0 1h2v2h-2zm2-6h2v2h-2zm0 0h2v2h-2zm0 8h2v2h-2zm1-8h2v2h-2zm0 4h2v2h-2zm0 1h2v2h-2zm1-6h2v2h-2zm1-1h2v2h-2zm0 3h2v2h-2zm1-2h2v2h-2zm0 3h2v2h-2zm1 4h2v2h-2zm1-8h2v2h-2zm0 4h2v2h-2zm0 0h2v2h-2zm1 1h2v2h-2zm0 0h2v2h-2zm0 1h2v2h-2zm0 1h2v2h-2zm0 3h2v2h-2zm1-6h2v2h-2zm0 2h2v2h-2zm0 0h2v2h-2zm0 1h2v2h-2zm1-5h2v2h-2zm0 3h2v2h-2zm0 1h2v2h-2zm1-2h2v2h-2zm14-4h2v2h-2zm0 1h2v2h-2zm0 4h2v2h-2zm0 1h2v2h-2zm0 3h2v2h-2zm1-3h2v2h-2zm0 0h2v2h-2zm0 0h2v2h-2zm1-7h2v2h-2zm0 4h2v2h-2zm0 0h2v2h-2zm0 2h2v2h-2zm1-2h2v2h-2zm0 0h2v2h-2zm0 2h2v2h-2zm0 2h2v2h-2zm1-25h2v2h-2zm0 20h2v2h-2zm0 6h2v2h-2zm1-1h2v2h-2zm0 2h2v2h-2zm1-32h2v2h-2zm0 4h2v2h-2zm0 21h2v2h-2zm0 2h2v2h-2zm0 3h2v2h-2zm1-1h2v2h-2zm1-5h2v2h-2zm0 3h2v2h-2zm0 5h2v2h-2zm1-6h2v2h-2zm0 3h2v2h-2zm0 1h2v2h-2zm1 1h2v2h-2zm0 4h2v2h-2zm1-10h2v2h-2zm0 1h2v2h-2zm0 0h2v2h-2zm0 3h2v2h-2zm0 0h2v2h-2zm0 0h2v2h-2zm0 2h2v2h-2zm1-5h2v2h-2zm0 1h2v2h-2zm2-26h2v2h-2zm0 25h2v2h-2zm0 0h2v2h-2zm0 3h2v2h-2zm0 0h2v2h-2zm1-6h2v2h-2zm0 2h2v2h-2zm0 3h2v2h-2zm0 4h2v2h-2zm1-1h2v2h-2zm1-7h2v2h-2zm0 3h2v2h-2zm0 2h2v2h-2zm1-43h2v2h-2zm0 38h2v2h-2zm0 1h2v2h-2zm0 1h2v2h-2zm1-2h2v2h-2zm0 0h2v2h-2zm0 1h2v2h-2zm0 0h2v2h-2zm0 1h2v2h-2zm0 1h2v2h-2zm1-3h2v2h-2zm1-36h2v2h-2zm0 11h2v2h-2zm0 29h2v2h-2zm1-25h2v2h-2zm0 20h2v2h-2zm0 3h2v2h-2zm0 3h2v2h-2zm0 3h2v2h-2zm1-9h2v2h-2zm0 3h2v2h-2zm0 0h2v2h-2zm0 1h2v2h-2zm0 1h2v2h-2zm1-3h2v2h-2zm0 1h2v2h-2zm0 1h2v2h-2zm0 0h2v2h-2zm0 4h2v2h-2zm2-5h2v2h-2zm0 2h2v2h-2zm0 0h2v2h-2zm0 1h2v2h-2zm1-6h2v2h-2zm0 2h2v2h-2zm0 2h2v2h-2zm0 1h2v2h-2zm0 3h2v2h-2zm0 1h2v2h-2zm1-8h2v2h-2zm0 2h2v2h-2zm2 0h2v2h-2zm0 2h2v2h-2zm1-4h2v2h-2zm0 0h2v2h-2zm0 1h2v2h-2zm0 1h2v2h-2zm0 3h2v2h-2zm1-5h2v2h-2zm0 1h2v2h-2zm0 2h2v2h-2zm1-3h2v2h-2zm0 3h2v2h-2zm1-1h2v2h-2zm0 0h2v2h-2zm1 0h2v2h-2zm0 1h2v2h-2zm0 0h2v2h-2zm1-2h2v2h-2zm0 0h2v2h-2zm0 1h2v2h-2zm0 1h2v2h-2zm0 0h2v2h-2zm0 2h2v2h-2zm0 0h2v2h-2zm0 0h2v2h-2zm1-8h2v2h-2zm0 4h2v2h-2zm0 3h2v2h-2zm0 4h2v2h-2zm1-8h2v2h-2zm0 4h2v2h-2zm1-5h2v2h-2zm0 1h2v2h-2zm0 5h2v2h-2zm1-5h2v2h-2zm0 6h2v2h-2zm1-1h2v2h-2zm1-6h2v2h-2zm0 3h2v2h-2zm0 0h2v2h-2zm1 3h2v2h-2zm1-4h2v2h-2zm0 0h2v2h-2zm0 1h2v2h-2zm0 3h2v2h-2zm1-6h2v2h-2zm0 6h2v2h-2zm0 4h2v2h-2zm1-4h2v2h-2zm1-5h2v2h-2zm0 2h2v2h-2zm0 2h2v2h-2zm0 2h2v2h-2zm1-8h2v2h-2zm0 3h2v2h-2zm0 3h2v2h-2zm0 0h2v2h-2zm0 1h2v2h-2zm1-1h2v2h-2zm0 1h2v2h-2zm1-4h2v2h-2zm0 1h2v2h-2zm1 0h2v2h-2zm1 1h2v2h-2zm1-1h2v2h-2zm1-1h2v2h-2zm1-2h2v2h-2zm0 3h2v2h-2zm0 1h2v2h-2zm1-2h2v2h-2zm0 1h2v2h-2zm0 1h2v2h-2zm1-6h2v2h-2zm0 6h2v2h-2zm1-6h2v2h-2zm0 6h2v2h-2zm0 1h2v2h-2zm1-6h2v2h-2zm0 0h2v2h-2zm0 3h2v2h-2zm1 0h2v2h-2zm1-4h2v2h-2zm0 4h2v2h-2zm0 3h2v2h-2zm0 0h2v2h-2zm0 1h2v2h-2zm0 2h2v2h-2zm1-3h2v2h-2zm0 0h2v2h-2zm1-4h2v2h-2zm0 0h2v2h-2zm0 2h2v2h-2zm0 4h2v2h-2zm1 3h2v2h-2zm118-11h2v2h-2zm1 3h2v2h-2zm0 0h2v2h-2zm0 4h2v2h-2zm1-7h2v2h-2zm0 4h2v2h-2zm0 1h2v2h-2zm1-5h2v2h-2zm0 6h2v2h-2zm0 0h2v2h-2zm1-3h2v2h-2zm0 1h2v2h-2zm0 1h2v2h-2zm0 2h2v2h-2zm0 0h2v2h-2zm1-5h2v2h-2zm0 1h2v2h-2zm0 3h2v2h-2zm1-1h2v2h-2zm0 1h2v2h-2zm0 1h2v2h-2zm1-8h2v2h-2zm0 10h2v2h-2zm1-5h2v2h-2zm0 1h2v2h-2zm0 2h2v2h-2zm0 0h2v2h-2zm1-4h2v2h-2zm0 0h2v2h-2zm0 2h2v2h-2zm0 3h2v2h-2zm1-9h2v2h-2zm1 5h2v2h-2zm0 1h2v2h-2zm0 1h2v2h-2zm0 1h2v2h-2zm0 2h2v2h-2zm0 2h2v2h-2zm2-4h2v2h-2zm1-3h2v2h-2zm0 1h2v2h-2zm0 1h2v2h-2zm1-4h2v2h-2zm0 3h2v2h-2zm0 1h2v2h-2zm0 1h2v2h-2zm0 2h2v2h-2zm2-12h2v2h-2zm0 7h2v2h-2zm1 1h2v2h-2zm0 1h2v2h-2zm0 2h2v2h-2zm0 0h2v2h-2zm1-10h2v2h-2zm1 4h2v2h-2zm0 2h2v2h-2zm0 0h2v2h-2zm0 0h2v2h-2zm1-3h2v2h-2zm0 11h2v2h-2zm1-11h2v2h-2zm0 2h2v2h-2zm0 0h2v2h-2zm0 6h2v2h-2zm1-3h2v2h-2zm0 0h2v2h-2zm0 0h2v2h-2zm0 2h2v2h-2zm1-5h2v2h-2zm0 1h2v2h-2zm0 1h2v2h-2zm1 2h2v2h-2zm0 2h2v2h-2zm1-10h2v2h-2zm0 2h2v2h-2zm0 1h2v2h-2zm0 3h2v2h-2zm1-2h2v2h-2zm0 1h2v2h-2zm0 4h2v2h-2zm1-3h2v2h-2zm1-3h2v2h-2zm0 2h2v2h-2zm0 3h2v2h-2zm0 1h2v2h-2zm1-7h2v2h-2zm0 1h2v2h-2zm0 2h2v2h-2zm1 7h2v2h-2zm1-10h2v2h-2zm0 3h2v2h-2zm0 1h2v2h-2zm1-5h2v2h-2zm0 6h2v2h-2zm0 0h2v2h-2zm1-4h2v2h-2zm0 3h2v2h-2zm0 1h2v2h-2zm1-4h2v2h-2zm1-2h2v2h-2zm0 2h2v2h-2zm0 0h2v2h-2zm0 2h2v2h-2zm1 0h2v2h-2zm0 3h2v2h-2zm0 0h2v2h-2zm0 3h2v2h-2zm1-7h2v2h-2zm0 3h2v2h-2zm2-7h2v2h-2zm0 3h2v2h-2zm0 0h2v2h-2zm0 1h2v2h-2zm1 0h2v2h-2zm0 3h2v2h-2zm0 3h2v2h-2zm1-3h2v2h-2zm1-1h2v2h-2zm0 0h2v2h-2zm1 0h2v2h-2zm0 1h2v2h-2zm1-5h2v2h-2zm0 3h2v2h-2zm0 0h2v2h-2zm1 1h2v2h-2zm0 2h2v2h-2zm2-5h2v2h-2zm0 3h2v2h-2zm1-2h2v2h-2zm0 4h2v2h-2zm0 11h2v2h-2zm1-15h2v2h-2zm0 3h2v2h-2zm1-2h2v2h-2zm0 2h2v2h-2zm0 1h2v2h-2zm0 2h2v2h-2zm1-5h2v2h-2zm0 2h2v2h-2zm0 1h2v2h-2zm0 1h2v2h-2zm1-6h2v2h-2zm0 1h2v2h-2zm1-1h2v2h-2zm0 0h2v2h-2zm0 4h2v2h-2zm1-2h2v2h-2zm0 0h2v2h-2zm0 0h2v2h-2zm1 1h2v2h-2zm0 2h2v2h-2zm0 0h2v2h-2zm1-6h2v2h-2zm0 3h2v2h-2zm0 2h2v2h-2zm1-2h2v2h-2zm0 1h2v2h-2zm0 1h2v2h-2zm0 0h2v2h-2zm0 1h2v2h-2zm0 0h2v2h-2zm1-8h2v2h-2zm0 3h2v2h-2zm0 2h2v2h-2zm0 2h2v2h-2zm0 0h2v2h-2zm1-6h2v2h-2zm0 3h2v2h-2zm0 0h2v2h-2zm0 1h2v2h-2zm0 1h2v2h-2zm0 1h2v2h-2zm0 1h2v2h-2zm0 1h2v2h-2zm0 0h2v2h-2zm1-4h2v2h-2zm1 0h2v2h-2zm1 0h2v2h-2zm0 6h2v2h-2zm1-8h2v2h-2zm0 2h2v2h-2zm0 3h2v2h-2zm1-5h2v2h-2zm0 1h2v2h-2zm0 2h2v2h-2zm0 0h2v2h-2zm0 1h2v2h-2zm1-2h2v2h-2zm0 1h2v2h-2zm0 1h2v2h-2zm1-5h2v2h-2zm0 2h2v2h-2zm0 4h2v2h-2zm1-3h2v2h-2zm0 2h2v2h-2zm1-2h2v2h-2zm0 1h2v2h-2zm1-11h2v2h-2zm1 6h2v2h-2zm0 1h2v2h-2zm0 4h2v2h-2zm1-4h2v2h-2zm0 2h2v2h-2zm0 0h2v2h-2zm1-2h2v2h-2zm0 2h2v2h-2zm0 4h2v2h-2zm0 1h2v2h-2zm1-7h2v2h-2zm0 3h2v2h-2zm0 2h2v2h-2zm0 2h2v2h-2zm1-4h2v2h-2zm0 1h2v2h-2zm0 1h2v2h-2zm1-5h2v2h-2zm0 1h2v2h-2zm0 1h2v2h-2zm0 1h2v2h-2zm1-3h2v2h-2zm0 4h2v2h-2zm1 1h2v2h-2zm0 2h2v2h-2zm1-4h2v2h-2zm1-1h2v2h-2zm0 2h2v2h-2zm0 1h2v2h-2zm0 1h2v2h-2zm1-6h2v2h-2zm0 3h2v2h-2zm1-3h2v2h-2zm0 1h2v2h-2zm0 2h2v2h-2zm0 2h2v2h-2zm0 4h2v2h-2zm1-6h2v2h-2zm0 1h2v2h-2zm1-3h2v2h-2zm0 0h2v2h-2zm0 3h2v2h-2zm1-5h2v2h-2zm0 7h2v2h-2zm0 1h2v2h-2zm1-4h2v2h-2zm0 3h2v2h-2zm1-6h2v2h-2zm0 2h2v2h-2zm0 1h2v2h-2zm0 4h2v2h-2zm2-8h2v2h-2zm0 5h2v2h-2zm0 1h2v2h-2zm0 1h2v2h-2zm1-6h2v2h-2zm0 4h2v2h-2zm0 2h2v2h-2zm1-7h2v2h-2zm0 6h2v2h-2zm1-3h2v2h-2zm0 0h2v2h-2zm0 4h2v2h-2zm1-1h2v2h-2zm1-3h2v2h-2zm0 3h2v2h-2zm0 0h2v2h-2zm1-5h2v2h-2zm0 3h2v2h-2zm1-4h2v2h-2zm0 6h2v2h-2zm0 2h2v2h-2zm0 0h2v2h-2zm1-6h2v2h-2zm0 3h2v2h-2zm0 0h2v2h-2zm1-13h2v2h-2zm0 10h2v2h-2zm1-1h2v2h-2zm0 3h2v2h-2zm1 1h2v2h-2zm1 1h2v2h-2zm0 1h2v2h-2zm1-4h2v2h-2zm0 1h2v2h-2zm1 0h2v2h-2zm0 1h2v2h-2zm0 0h2v2h-2zm1-4h2v2h-2zm0 2h2v2h-2zm0 0h2v2h-2zm1 0h2v2h-2zm0 1h2v2h-2zm0 0h2v2h-2zm0 1h2v2h-2zm0 1h2v2h-2zm1-5h2v2h-2zm0 1h2v2h-2zm0 0h2v2h-2zm0 1h2v2h-2zm0 4h2v2h-2zm0 1h2v2h-2zm1-6h2v2h-2zm0 5h2v2h-2zm0 0h2v2h-2zm1-2h2v2h-2zm1-6h2v2h-2zm0 3h2v2h-2zm0 0h2v2h-2zm0 2h2v2h-2zm1 1h2v2h-2zm0 0h2v2h-2zm0 1h2v2h-2zm1-5h2v2h-2zm1 2h2v2h-2zm0 0h2v2h-2zm1-1h2v2h-2zm157 2h2v2h-2zm0 0h2v2h-2zm0 1h2v2h-2zm1-4h2v2h-2zm0 2h2v2h-2zm0 1h2v2h-2zm0 1h2v2h-2zm1-3h2v2h-2zm0 2h2v2h-2zm0 1h2v2h-2zm0 4h2v2h-2zm1-3h2v2h-2zm0 1h2v2h-2zm0 2h2v2h-2zm1-7h2v2h-2zm0 2h2v2h-2zm0 1h2v2h-2zm0 2h2v2h-2zm0 5h2v2h-2zm1-10h2v2h-2zm0 6h2v2h-2zm1-7h2v2h-2zm0 1h2v2h-2zm0 0h2v2h-2zm0 2h2v2h-2zm0 3h2v2h-2zm1-4h2v2h-2zm0 4h2v2h-2zm1-6h2v2h-2zm0 5h2v2h-2zm1-7h2v2h-2zm0 13h2v2h-2zm1-10h2v2h-2zm0 3h2v2h-2zm1 0h2v2h-2zm1-4h2v2h-2zm0 1h2v2h-2zm0 1h2v2h-2zm0 1h2v2h-2zm0 1h2v2h-2zm1-1h2v2h-2zm0 0h2v2h-2zm0 3h2v2h-2zm1-6h2v2h-2zm0 1h2v2h-2zm0 1h2v2h-2zm0 2h2v2h-2zm1-2h2v2h-2zm0 3h2v2h-2zm0 0h2v2h-2zm0 3h2v2h-2zm1-4h2v2h-2zm0 2h2v2h-2zm0 0h2v2h-2zm0 1h2v2h-2zm1-4h2v2h-2zm1-9h2v2h-2zm0 8h2v2h-2zm0 2h2v2h-2zm0 3h2v2h-2zm2-8h2v2h-2zm0 2h2v2h-2zm0 2h2v2h-2zm0 1h2v2h-2zm0 1h2v2h-2zm1 1h2v2h-2zm1 0h2v2h-2zm1-7h2v2h-2zm0 1h2v2h-2zm0 7h2v2h-2zm1-8h2v2h-2zm0 3h2v2h-2zm0 0h2v2h-2zm0 1h2v2h-2zm0 3h2v2h-2zm0 14h2v2h-2zm1-17h2v2h-2zm0 1h2v2h-2zm0 4h2v2h-2zm1-5h2v2h-2zm0 2h2v2h-2zm0 1h2v2h-2zm0 3h2v2h-2zm1-6h2v2h-2zm0 0h2v2h-2zm0 1h2v2h-2zm0 0h2v2h-2zm1 1h2v2h-2zm1-1h2v2h-2zm1-3h2v2h-2zm1 2h2v2h-2zm19-6h2v2h-2zm0 7h2v2h-2zm0 0h2v2h-2zm1-5h2v2h-2zm0 3h2v2h-2zm0 3h2v2h-2zm2-1h2v2h-2zm0 4h2v2h-2zm1-8h2v2h-2zm0 1h2v2h-2zm0 5h2v2h-2zm1-5h2v2h-2zm0 0h2v2h-2zm0 4h2v2h-2zm1-9h2v2h-2zm0 2h2v2h-2zm1 2h2v2h-2zm0 3h2v2h-2zm0 1h2v2h-2zm0 0h2v2h-2zm0 1h2v2h-2zm1-4h2v2h-2zm0 3h2v2h-2zm0 2h2v2h-2zm1-2h2v2h-2zm1-1h2v2h-2zm0 3h2v2h-2zm1-8h2v2h-2zm0 3h2v2h-2zm0 3h2v2h-2zm0 1h2v2h-2zm0 0h2v2h-2zm1-2h2v2h-2zm0 1h2v2h-2zm0 1h2v2h-2zm1 0h2v2h-2zm0 0h2v2h-2zm1-13h2v2h-2zm0 9h2v2h-2zm0 0h2v2h-2zm0 2h2v2h-2zm0 2h2v2h-2zm1 1h2v2h-2zm0 2h2v2h-2zm1-7h2v2h-2zm0 2h2v2h-2zm0 2h2v2h-2zm0 1h2v2h-2zm1 0h2v2h-2zm1-15h2v2h-2zm0 13h2v2h-2zm0 4h2v2h-2zm41-7h2v2h-2zm1 0h2v2h-2zm0 1h2v2h-2zm0 0h2v2h-2zm0 2h2v2h-2zm0 0h2v2h-2zm0 5h2v2h-2zm1-6h2v2h-2zm0 1h2v2h-2zm0 1h2v2h-2zm0 0h2v2h-2zm0 2h2v2h-2zm0 1h2v2h-2zm1-5h2v2h-2zm0 1h2v2h-2zm0 2h2v2h-2zm2-6h2v2h-2zm0 3h2v2h-2zm1-1h2v2h-2zm0 1h2v2h-2zm0 1h2v2h-2zm0 1h2v2h-2zm0 1h2v2h-2zm0 1h2v2h-2zm1-8h2v2h-2zm0 1h2v2h-2zm0 2h2v2h-2zm1-4h2v2h-2zm0 3h2v2h-2zm0 0h2v2h-2zm0 2h2v2h-2zm0 3h2v2h-2zm0 1h2v2h-2zm1-8h2v2h-2zm1 0h2v2h-2zm0 8h2v2h-2zm1-9h2v2h-2zm0 6h2v2h-2zm0 2h2v2h-2zm0 0h2v2h-2zm1-6h2v2h-2zm0 2h2v2h-2zm0 2h2v2h-2zm1-5h2v2h-2zm0 2h2v2h-2zm0 1h2v2h-2zm0 0h2v2h-2zm0 1h2v2h-2zm1-2h2v2h-2zm0 2h2v2h-2zm1-4h2v2h-2zm0 2h2v2h-2zm1 2h2v2h-2zm0 0h2v2h-2zm0 3h2v2h-2zm1-6h2v2h-2zm0 2h2v2h-2zm0 3h2v2h-2zm0 7h2v2h-2zm1-12h2v2h-2zm0 5h2v2h-2zm0 1h2v2h-2zm0 1h2v2h-2zm1-5h2v2h-2zm0 2h2v2h-2zm1-2h2v2h-2zm0 2h2v2h-2zm1-2h2v2h-2zm1 1h2v2h-2zm0 1h2v2h-2zm0 1h2v2h-2zm1-7h2v2h-2zm0 4h2v2h-2zm1 1h2v2h-2zm0 5h2v2h-2zm1-6h2v2h-2zm0 1h2v2h-2zm0 1h2v2h-2zm0 2h2v2h-2zm1 2h2v2h-2zm0 13h2v2h-2zm1-19h2v2h-2zm0 3h2v2h-2zm0 1h2v2h-2zm1-2h2v2h-2zm0 1h2v2h-2zm1-4h2v2h-2zm0 1h2v2h-2zm0 0h2v2h-2zm2 1h2v2h-2zm0 0h2v2h-2zm0 2h2v2h-2zm1-4h2v2h-2zm1 1h2v2h-2zm0 2h2v2h-2zm51 5h2v2h-2zm1-1h2v2h-2zm0 2h2v2h-2zm0 0h2v2h-2zm0 2h2v2h-2zm0 0h2v2h-2zm1-7h2v2h-2zm0 1h2v2h-2zm0 4h2v2h-2zm1-5h2v2h-2zm0 2h2v2h-2zm0 1h2v2h-2zm0 1h2v2h-2zm1-1h2v2h-2zm1-4h2v2h-2zm0 2h2v2h-2zm0 2h2v2h-2zm0 1h2v2h-2zm0 0h2v2h-2zm1-5h2v2h-2zm0 2h2v2h-2zm1 0h2v2h-2zm1-4h2v2h-2zm0 0h2v2h-2zm0 0h2v2h-2zm0 1h2v2h-2zm0 0h2v2h-2zm0 1h2v2h-2zm1-6h2v2h-2zm0 3h2v2h-2zm0 3h2v2h-2zm1-9h2v2h-2zm0 5h2v2h-2zm0 2h2v2h-2zm0 0h2v2h-2z"/>
<path fill="#2d5ea9" shape-rendering="crispEdges" d="M522 843h2v2h-2zm0 3h2v2h-2zm2-2h2v2h-2zm0 3h2v2h-2zm0 1h2v2h-2zm1-5h2v2h-2zm0 1h2v2h-2zm0 3h2v2h-2zm1-4h2v2h-2zm0 5h2v2h-2zm0 0h2v2h-2zm0 2h2v2h-2zm1-4h2v2h-2zm0 1h2v2h-2zm0 0h2v2h-2zm0 1h2v2h-2zm0 0h2v2h-2zm0 2h2v2h-2zm0 0h2v2h-2zm1-2h2v2h-2zm0 0h2v2h-2zm0 1h2v2h-2zm1-2h2v2h-2zm0 1h2v2h-2zm0 1h2v2h-2zm0 2h2v2h-2zm1-4h2v2h-2zm0 0h2v2h-2zm0 6h2v2h-2zm1-10h2v2h-2zm0 2h2v2h-2zm0 1h2v2h-2zm0 0h2v2h-2zm0 1h2v2h-2zm0 2h2v2h-2zm0 2h2v2h-2zm1-8h2v2h-2zm1-3h2v2h-2zm0 8h2v2h-2zm0 6h2v2h-2zm1-8h2v2h-2zm1 2h2v2h-2zm0 12h2v2h-2zm1-14h2v2h-2zm0 1h2v2h-2zm0 1h2v2h-2zm1 1h2v2h-2zm0 0h2v2h-2zm1 0h2v2h-2zm2-3h2v2h-2zm1-1h2v2h-2zm0 2h2v2h-2zm1-4h2v2h-2zm0 7h2v2h-2zm1-7h2v2h-2zm0 3h2v2h-2zm0 0h2v2h-2zm0 3h2v2h-2zm1-12h2v2h-2zm0 6h2v2h-2zm0 3h2v2h-2zm0 2h2v2h-2zm1-4h2v2h-2zm0 1h2v2h-2zm0 1h2v2h-2zm0 6h2v2h-2zm1-4h2v2h-2zm0 0h2v2h-2zm1-1h2v2h-2zm0 3h2v2h-2zm1-5h2v2h-2zm0 3h2v2h-2zm1 1h2v2h-2zm0 0h2v2h-2zm0 0h2v2h-2zm1 0h2v2h-2zm1-4h2v2h-2zm0 3h2v2h-2zm1-2h2v2h-2zm0 0h2v2h-2zm0 1h2v2h-2zm1-1h2v2h-2zm1-4h2v2h-2zm0 1h2v2h-2zm0 3h2v2h-2zm0 1h2v2h-2zm0 1h2v2h-2zm0 1h2v2h-2zm1-3h2v2h-2zm0 3h2v2h-2zm0 1h2v2h-2zm1-7h2v2h-2zm0 0h2v2h-2zm0 3h2v2h-2zm0 0h2v2h-2zm0 1h2v2h-2zm0 2h2v2h-2zm1-3h2v2h-2zm0 0h2v2h-2zm1-1h2v2h-2zm0 6h2v2h-2zm1-12h2v2h-2zm0 11h2v2h-2zm1-7h2v2h-2zm1 3h2v2h-2zm0 1h2v2h-2zm0 3h2v2h-2zm1-4h2v2h-2zm0 1h2v2h-2zm1-2h2v2h-2zm0 0h2v2h-2zm0 1h2v2h-2zm0 2h2v2h-2zm0 2h2v2h-2zm1-6h2v2h-2zm0 4h2v2h-2zm0 1h2v2h-2zm1-2h2v2h-2zm0 4h2v2h-2zm0 1h2v2h-2zm1-9h2v2h-2zm0 2h2v2h-2zm1-2h2v2h-2zm0 6h2v2h-2zm2-7h2v2h-2zm0 6h2v2h-2zm0 1h2v2h-2zm0 2h2v2h-2zm0 0h2v2h-2zm1-3h2v2h-2zm0 0h2v2h-2zm0 1h2v2h-2zm0 1h2v2h-2zm1-9h2v2h-2zm0 5h2v2h-2zm0 1h2v2h-2zm0 3h2v2h-2zm0 0h2v2h-2zm1-7h2v2h-2zm0 5h2v2h-2zm0 0h2v2h-2zm0 1h2v2h-2zm0 0h2v2h-2zm0 1h2v2h-2zm1-7h2v2h-2zm0 2h2v2h-2zm0 2h2v2h-2zm0 2h2v2h-2zm1-3h2v2h-2zm1-3h2v2h-2zm0 1h2v2h-2zm0 1h2v2h-2zm0 1h2v2h-2zm1 4h2v2h-2zm0 1h2v2h-2zm1-6h2v2h-2zm0 2h2v2h-2zm1-7h2v2h-2zm0 5h2v2h-2zm0 1h2v2h-2zm0 0h2v2h-2zm0 6h2v2h-2zm0 0h2v2h-2zm1-7h2v2h-2zm0 3h2v2h-2zm1-2h2v2h-2zm1-1h2v2h-2zm1 0h2v2h-2zm0 2h2v2h-2zm0 1h2v2h-2zm1-9h2v2h-2zm0 11h2v2h-2zm1-6h2v2h-2zm0 0h2v2h-2zm0 2h2v2h-2zm0 1h2v2h-2zm0 1h2v2h-2zm1-2h2v2h-2zm0 4h2v2h-2zm1-2h2v2h-2zm1-3h2v2h-2zm0 4h2v2h-2zm0 0h2v2h-2zm0 0h2v2h-2zm1-1h2v2h-2zm0 3h2v2h-2zm1-5h2v2h-2zm0 7h2v2h-2zm1-10h2v2h-2zm0 5h2v2h-2zm0 0h2v2h-2zm0 0h2v2h-2zm1 0h2v2h-2zm1-4h2v2h-2zm0 2h2v2h-2zm1-2h2v2h-2zm0 3h2v2h-2zm0 3h2v2h-2zm0 4h2v2h-2zm1-5h2v2h-2zm1-7h2v2h-2zm0 6h2v2h-2zm1-5h2v2h-2zm0 3h2v2h-2zm0 1h2v2h-2zm0 2h2v2h-2zm1-1h2v2h-2zm1-4h2v2h-2zm0 2h2v2h-2zm0 1h2v2h-2zm1 0h2v2h-2zm0 4h2v2h-2zm0 1h2v2h-2zm2-9h2v2h-2zm0 0h2v2h-2zm0 2h2v2h-2zm0 1h2v2h-2zm0 1h2v2h-2zm0 8h2v2h-2zm1-8h2v2h-2zm0 2h2v2h-2zm1-4h2v2h-2zm0 2h2v2h-2zm1 0h2v2h-2zm0 0h2v2h-2zm0 1h2v2h-2zm1-3h2v2h-2zm0 2h2v2h-2zm1 0h2v2h-2zm1 0h2v2h-2zm0 0h2v2h-2zm0 1h2v2h-2zm1-5h2v2h-2zm0 2h2v2h-2zm0 1h2v2h-2zm0 4h2v2h-2zm0 1h2v2h-2zm1-8h2v2h-2zm0 4h2v2h-2zm1-1h2v2h-2zm0 1h2v2h-2zm0 1h2v2h-2zm1-5h2v2h-2zm0 3h2v2h-2zm0 1h2v2h-2zm1-3h2v2h-2zm0 2h2v2h-2zm0 0h2v2h-2zm1 0h2v2h-2zm1-2h2v2h-2zm0 1h2v2h-2zm0 2h2v2h-2zm0 0h2v2h-2zm0 5h2v2h-2zm0 1h2v2h-2zm1-10h2v2h-2zm0 3h2v2h-2zm0 3h2v2h-2zm1 1h2v2h-2zm1-6h2v2h-2zm0 0h2v2h-2zm0 2h2v2h-2zm0 0h2v2h-2zm0 1h2v2h-2zm1-2h2v2h-2zm0 2h2v2h-2zm0 3h2v2h-2zm0 1h2v2h-2zm0 2h2v2h-2zm1-9h2v2h-2zm0 5h2v2h-2zm1-1h2v2h-2zm0 0h2v2h-2zm0 3h2v2h-2zm1-7h2v2h-2zm0 3h2v2h-2zm0 0h2v2h-2zm0 1h2v2h-2zm1-1h2v2h-2zm0 1h2v2h-2zm0 3h2v2h-2zm84-9h2v2h-2zm0 2h2v2h-2zm0 2h2v2h-2zm0 0h2v2h-2zm0 2h2v2h-2zm0 1h2v2h-2zm1-1h2v2h-2zm1 6h2v2h-2zm1-12h2v2h-2zm0 5h2v2h-2zm0 1h2v2h-2zm1-3h2v2h-2zm0 1h2v2h-2zm0 0h2v2h-2zm1-2h2v2h-2zm1 3h2v2h-2zm1-5h2v2h-2zm0 4h2v2h-2zm0 4h2v2h-2zm0 1h2v2h-2zm1-8h2v2h-2zm0 4h2v2h-2zm0 2h2v2h-2zm0 1h2v2h-2zm143-11h2v2h-2zm0 5h2v2h-2zm0 1h2v2h-2zm0 1h2v2h-2zm1-3h2v2h-2zm1-3h2v2h-2zm0 3h2v2h-2zm0 2h2v2h-2zm0 3h2v2h-2zm0 2h2v2h-2zm0 3h2v2h-2zm1-10h2v2h-2zm0 1h2v2h-2zm1-1h2v2h-2zm0 10h2v2h-2zm1-9h2v2h-2zm0 5h2v2h-2zm0 0h2v2h-2zm1-5h2v2h-2zm0 2h2v2h-2zm0 4h2v2h-2zm0 0h2v2h-2zm1-7h2v2h-2zm0 1h2v2h-2zm0 4h2v2h-2zm1-5h2v2h-2zm0 2h2v2h-2zm0 1h2v2h-2zm0 2h2v2h-2zm0 1h2v2h-2zm0 2h2v2h-2zm1-4h2v2h-2zm1 2h2v2h-2zm0 1h2v2h-2zm1-2h2v2h-2zm0 1h2v2h-2zm1-4h2v2h-2zm0 3h2v2h-2zm0 2h2v2h-2zm1-10h2v2h-2zm0 8h2v2h-2zm1 0h2v2h-2zm1 3h2v2h-2zm1-9h2v2h-2zm1 5h2v2h-2zm0 1h2v2h-2zm0 3h2v2h-2zm1-10h2v2h-2zm0 6h2v2h-2zm0 1h2v2h-2zm1 0h2v2h-2zm0 1h2v2h-2zm0 0h2v2h-2zm0 1h2v2h-2zm0 6h2v2h-2zm1-13h2v2h-2zm0 5h2v2h-2zm1-3h2v2h-2zm0 0h2v2h-2zm0 3h2v2h-2zm0 1h2v2h-2zm1-3h2v2h-2zm0 2h2v2h-2zm0 0h2v2h-2zm0 0h2v2h-2zm1-3h2v2h-2zm0 1h2v2h-2zm0 2h2v2h-2zm0 2h2v2h-2zm0 0h2v2h-2zm1-1h2v2h-2zm1-10h2v2h-2zm0 3h2v2h-2zm0 2h2v2h-2zm0 2h2v2h-2zm1 0h2v2h-2zm0 1h2v2h-2zm0 2h2v2h-2zm0 4h2v2h-2zm1-8h2v2h-2zm0 1h2v2h-2zm0 0h2v2h-2zm1-2h2v2h-2zm0 1h2v2h-2zm0 5h2v2h-2zm0 0h2v2h-2zm1-10h2v2h-2zm0 3h2v2h-2zm1 3h2v2h-2zm0 1h2v2h-2zm1-2h2v2h-2zm0 2h2v2h-2zm1-1h2v2h-2zm0 3h2v2h-2zm1-5h2v2h-2zm0 5h2v2h-2zm0 0h2v2h-2zm1-4h2v2h-2zm0 3h2v2h-2zm1-2h2v2h-2zm0 1h2v2h-2zm22-5h2v2h-2zm0 3h2v2h-2zm0 2h2v2h-2zm1-1h2v2h-2zm0 2h2v2h-2zm1-5h2v2h-2zm0 3h2v2h-2zm0 0h2v2h-2zm0 0h2v2h-2zm0 2h2v2h-2zm0 1h2v2h-2zm0 0h2v2h-2zm0 1h2v2h-2zm1-10h2v2h-2zm0 3h2v2h-2zm0 9h2v2h-2zm1-7h2v2h-2zm0 0h2v2h-2zm0 1h2v2h-2zm0 0h2v2h-2zm0 3h2v2h-2zm1-7h2v2h-2zm1 9h2v2h-2zm0 5h2v2h-2zm1-10h2v2h-2zm0 7h2v2h-2zm1-3h2v2h-2zm1-7h2v2h-2zm0 4h2v2h-2zm0 2h2v2h-2zm1-3h2v2h-2zm0 3h2v2h-2zm0 1h2v2h-2zm0 5h2v2h-2zm1-10h2v2h-2zm0 4h2v2h-2zm0 1h2v2h-2zm1-4h2v2h-2zm1 2h2v2h-2zm65-5h2v2h-2zm1-2h2v2h-2zm0 1h2v2h-2zm0 4h2v2h-2zm0 1h2v2h-2zm1-7h2v2h-2zm0 0h2v2h-2zm0 2h2v2h-2zm0 3h2v2h-2zm0 1h2v2h-2zm0 1h2v2h-2zm2-8h2v2h-2zm0 3h2v2h-2zm1-3h2v2h-2zm0 3h2v2h-2zm0 0h2v2h-2zm0 1h2v2h-2zm0 5h2v2h-2zm1-8h2v2h-2zm0 5h2v2h-2zm1-7h2v2h-2zm0 3h2v2h-2zm0 1h2v2h-2zm0 2h2v2h-2zm1-3h2v2h-2zm1-1h2v2h-2zm0 2h2v2h-2zm0 2h2v2h-2zm0 0h2v2h-2zm0 2h2v2h-2zm1-4h2v2h-2zm0 1h2v2h-2zm1-2h2v2h-2zm1 5h2v2h-2zm1-5h2v2h-2zm1-1h2v2h-2zm0 1h2v2h-2zm0 3h2v2h-2zm1-4h2v2h-2zm0 7h2v2h-2zm1-5h2v2h-2zm0 2h2v2h-2zm0 3h2v2h-2zm1-6h2v2h-2zm0 2h2v2h-2zm0 3h2v2h-2zm1-4h2v2h-2zm0 0h2v2h-2zm1-2h2v2h-2zm0 2h2v2h-2zm0 1h2v2h-2zm0 1h2v2h-2zm0 1h2v2h-2zm1-6h2v2h-2zm0 2h2v2h-2zm0 1h2v2h-2zm1-3h2v2h-2zm0 6h2v2h-2zm1-7h2v2h-2zm0 3h2v2h-2zm0 1h2v2h-2zm1 1h2v2h-2zm0 0h2v2h-2zm1 3h2v2h-2zm1-17h2v2h-2zm0 11h2v2h-2zm0 4h2v2h-2zm0 2h2v2h-2zm2-6h2v2h-2zm0 2h2v2h-2zm0 5h2v2h-2zm1-7h2v2h-2zm0 2h2v2h-2zm0 4h2v2h-2zm1-3h2v2h-2zm0 2h2v2h-2zm1 0h2v2h-2zm1-3h2v2h-2zm0 1h2v2h-2zm0 0h2v2h-2zm0 0h2v2h-2zm0 1h2v2h-2zm1-3h2v2h-2zm0 5h2v2h-2zm1-6h2v2h-2zm0 1h2v2h-2zm0 7h2v2h-2zm1-10h2v2h-2zm0 2h2v2h-2zm0 4h2v2h-2zm1-8h2v2h-2zm0 2h2v2h-2zm0 3h2v2h-2zm0 2h2v2h-2zm0 0h2v2h-2zm0 2h2v2h-2zm0 0h2v2h-2zm1-4h2v2h-2zm0 2h2v2h-2zm0 0h2v2h-2zm0 1h2v2h-2zm1-1h2v2h-2zm1 2h2v2h-2zm0 1h2v2h-2zm1-7h2v2h-2zm0 2h2v2h-2zm0 1h2v2h-2zm0 0h2v2h-2zm0 1h2v2h-2zm0 0h2v2h-2zm1-4h2v2h-2zm0 3h2v2h-2zm0 2h2v2h-2zm1-7h2v2h-2zm0 1h2v2h-2zm0 1h2v2h-2zm1 3h2v2h-2zm0 0h2v2h-2zm0 4h2v2h-2zm1-9h2v2h-2zm0 9h2v2h-2zm1-8h2v2h-2zm0 3h2v2h-2zm0 2h2v2h-2zm0 1h2v2h-2zm0 2h2v2h-2zm1-5h2v2h-2zm0 2h2v2h-2zm0 2h2v2h-2zm0 1h2v2h-2zm2-7h2v2h-2zm0 1h2v2h-2zm0 4h2v2h-2zm1-7h2v2h-2zm0 5h2v2h-2zm0 6h2v2h-2zm0 3h2v2h-2zm1-11h2v2h-2zm1-4h2v2h-2zm1 6h2v2h-2zm0 0h2v2h-2zm0 5h2v2h-2zm1-8h2v2h-2zm0 2h2v2h-2zm0 0h2v2h-2zm0 4h2v2h-2zm0 2h2v2h-2zm1-6h2v2h-2zm0 0h2v2h-2zm1-1h2v2h-2zm0 2h2v2h-2zm0 0h2v2h-2zm0 1h2v2h-2zm0 1h2v2h-2zm2-7h2v2h-2zm0 5h2v2h-2zm0 1h2v2h-2zm0 2h2v2h-2zm1-2h2v2h-2zm0 2h2v2h-2zm0 2h2v2h-2zm1-6h2v2h-2zm0 2h2v2h-2zm0 4h2v2h-2zm1-7h2v2h-2zm0 1h2v2h-2zm0 0h2v2h-2zm0 1h2v2h-2zm1 0h2v2h-2zm0 2h2v2h-2zm0 0h2v2h-2zm1-5h2v2h-2zm1 1h2v2h-2zm0 2h2v2h-2zm0 1h2v2h-2zm1 0h2v2h-2zm1-4h2v2h-2zm0 7h2v2h-2zm1-6h2v2h-2zm0 1h2v2h-2zm0 1h2v2h-2zm0 0h2v2h-2zm0 0h2v2h-2zm0 5h2v2h-2zm1-8h2v2h-2zm0 0h2v2h-2zm0 5h2v2h-2zm0 1h2v2h-2zm1-5h2v2h-2zm0 6h2v2h-2zm1-6h2v2h-2zm0 3h2v2h-2zm0 1h2v2h-2zm1-6h2v2h-2zm0 1h2v2h-2zm0 4h2v2h-2zm1-5h2v2h-2zm0 4h2v2h-2zm0 4h2v2h-2zm1-3h2v2h-2zm0 0h2v2h-2zm0 0h2v2h-2zm0 1h2v2h-2zm1-5h2v2h-2zm0 14h2v2h-2zm1-13h2v2h-2zm0 2h2v2h-2zm0 1h2v2h-2zm1-3h2v2h-2zm0 9h2v2h-2zm14-11h2v2h-2zm0 4h2v2h-2zm0 3h2v2h-2zm1-5h2v2h-2zm0 1h2v2h-2zm0 3h2v2h-2zm1-3h2v2h-2zm0 2h2v2h-2zm0 0h2v2h-2zm0 5h2v2h-2zm0 1h2v2h-2zm1-10h2v2h-2zm0 1h2v2h-2zm0 2h2v2h-2zm0 0h2v2h-2zm1 0h2v2h-2zm0 1h2v2h-2zm0 2h2v2h-2zm1-6h2v2h-2zm0 1h2v2h-2zm0 2h2v2h-2zm1-3h2v2h-2zm0 3h2v2h-2zm0 0h2v2h-2zm0 5h2v2h-2zm1-7h2v2h-2zm0 2h2v2h-2zm1-7h2v2h-2zm0 8h2v2h-2zm1-3h2v2h-2zm0 6h2v2h-2zm1-2h2v2h-2zm1-1h2v2h-2zm1 2h2v2h-2zm1-5h2v2h-2zm0 3h2v2h-2zm1-3h2v2h-2zm0 2h2v2h-2zm0 3h2v2h-2zm1-1h2v2h-2zm0 3h2v2h-2zm1-6h2v2h-2zm1-3h2v2h-2zm0 4h2v2h-2zm0 1h2v2h-2zm0 1h2v2h-2zm0 3h2v2h-2zm0 1h2v2h-2zm0 4h2v2h-2zm1-12h2v2h-2zm1 0h2v2h-2zm0 1h2v2h-2zm0 1h2v2h-2zm1-4h2v2h-2zm1 0h2v2h-2zm0 2h2v2h-2zm0 3h2v2h-2zm0 0h2v2h-2zm0 5h2v2h-2zm1-9h2v2h-2zm0 3h2v2h-2zm0 1h2v2h-2zm0 1h2v2h-2zm0 1h2v2h-2zm0 7h2v2h-2zm1-12h2v2h-2zm0 1h2v2h-2zm0 2h2v2h-2zm0 0h2v2h-2zm0 0h2v2h-2zm1-1h2v2h-2zm0 0h2v2h-2zm0 3h2v2h-2zm0 1h2v2h-2zm2-6h2v2h-2zm0 1h2v2h-2zm0 1h2v2h-2zm0 0h2v2h-2zm0 1h2v2h-2zm1-3h2v2h-2zm1 3h2v2h-2zm114-3h2v2h-2zm1 3h2v2h-2zm0 1h2v2h-2zm0 1h2v2h-2zm0 7h2v2h-2zm1-7h2v2h-2zm1-6h2v2h-2zm0 4h2v2h-2zm0 0h2v2h-2zm0 2h2v2h-2zm0 1h2v2h-2zm0 1h2v2h-2zm2-3h2v2h-2zm1-3h2v2h-2zm0 3h2v2h-2zm0 3h2v2h-2zm0 1h2v2h-2zm1-7h2v2h-2zm0 3h2v2h-2zm1 1h2v2h-2zm0 1h2v2h-2zm0 0h2v2h-2zm0 0h2v2h-2zm0 2h2v2h-2zm1-3h2v2h-2zm0 2h2v2h-2zm1-3h2v2h-2zm1 0h2v2h-2zm0 4h2v2h-2zm1-6h2v2h-2zm0 4h2v2h-2zm1-4h2v2h-2zm0 2h2v2h-2zm0 0h2v2h-2zm0 4h2v2h-2zm1-3h2v2h-2zm0 1h2v2h-2zm1-3h2v2h-2zm0 1h2v2h-2zm0 1h2v2h-2zm0 1h2v2h-2zm0 1h2v2h-2zm1-6h2v2h-2zm0 1h2v2h-2zm0 5h2v2h-2zm0 3h2v2h-2zm1-7h2v2h-2zm0 2h2v2h-2zm0 0h2v2h-2zm0 2h2v2h-2zm0 2h2v2h-2zm1-6h2v2h-2zm0 5h2v2h-2zm0 1h2v2h-2zm2-6h2v2h-2zm0 2h2v2h-2zm0 2h2v2h-2zm0 1h2v2h-2zm1-5h2v2h-2zm0 2h2v2h-2zm0 1h2v2h-2zm0 4h2v2h-2zm2-6h2v2h-2zm0 0h2v2h-2zm1 2h2v2h-2zm0 1h2v2h-2zm0 1h2v2h-2zm1-4h2v2h-2zm0 3h2v2h-2zm1-5h2v2h-2zm0 4h2v2h-2zm0 1h2v2h-2zm0 3h2v2h-2zm1-4h2v2h-2zm1-4h2v2h-2zm0 1h2v2h-2zm0 3h2v2h-2zm0 2h2v2h-2zm1-4h2v2h-2zm0 1h2v2h-2zm0 1h2v2h-2zm0 3h2v2h-2zm1-6h2v2h-2zm0 3h2v2h-2zm0 4h2v2h-2zm0 4h2v2h-2zm1-8h2v2h-2zm0 0h2v2h-2zm0 23h2v2h-2zm1-24h2v2h-2zm0 0h2v2h-2zm0 2h2v2h-2zm1-7h2v2h-2zm0 6h2v2h-2zm0 3h2v2h-2zm1-7h2v2h-2zm0 0h2v2h-2zm0 3h2v2h-2zm0 2h2v2h-2zm0 0h2v2h-2zm1-3h2v2h-2zm1 1h2v2h-2zm0 2h2v2h-2zm1 0h2v2h-2zm1-5h2v2h-2zm0 0h2v2h-2zm0 2h2v2h-2zm0 1h2v2h-2zm0 4h2v2h-2zm1-3h2v2h-2zm0 3h2v2h-2zm1-3h2v2h-2zm1-17h2v2h-2zm0 12h2v2h-2zm0 6h2v2h-2zm0 0h2v2h-2zm1-3h2v2h-2zm0 3h2v2h-2zm1-7h2v2h-2zm0 4h2v2h-2zm0 3h2v2h-2zm0 8h2v2h-2zm1-12h2v2h-2zm0 8h2v2h-2zm1-8h2v2h-2zm0 1h2v2h-2zm1-4h2v2h-2zm0 5h2v2h-2zm1-3h2v2h-2zm0 3h2v2h-2zm1-2h2v2h-2zm0 2h2v2h-2zm0 3h2v2h-2zm0 0h2v2h-2zm1-2h2v2h-2zm0 1h2v2h-2zm0 1h2v2h-2zm0 1h2v2h-2zm1-10h2v2h-2zm0 5h2v2h-2zm0 3h2v2h-2zm0 1h2v2h-2zm1-1h2v2h-2zm0 0h2v2h-2zm0 1h2v2h-2zm1 3h2v2h-2zm0 2h2v2h-2zm1-10h2v2h-2zm0 5h2v2h-2zm1-5h2v2h-2zm0 1h2v2h-2zm0 1h2v2h-2zm1-1h2v2h-2zm57 1h2v2h-2zm0 2h2v2h-2zm0 0h2v2h-2zm0 2h2v2h-2zm0 1h2v2h-2zm1-2h2v2h-2zm1 4h2v2h-2zm1-6h2v2h-2zm0 2h2v2h-2zm1-4h2v2h-2zm0 3h2v2h-2zm0 0h2v2h-2zm0 0h2v2h-2zm0 1h2v2h-2zm0 2h2v2h-2zm1-5h2v2h-2zm1-2h2v2h-2zm0 6h2v2h-2zm1-3h2v2h-2zm0 5h2v2h-2zm1-4h2v2h-2zm0 4h2v2h-2zm1-9h2v2h-2zm0 3h2v2h-2zm0 3h2v2h-2zm0 0h2v2h-2zm0 2h2v2h-2zm1-6h2v2h-2zm0 0h2v2h-2zm0 2h2v2h-2zm0 4h2v2h-2zm0 1h2v2h-2zm1-5h2v2h-2zm1-4h2v2h-2zm0 5h2v2h-2zm0 1h2v2h-2zm1-1h2v2h-2zm1 6h2v2h-2zm1-8h2v2h-2zm0 3h2v2h-2zm0 1h2v2h-2zm0 3h2v2h-2zm1-7h2v2h-2zm0 2h2v2h-2zm0 2h2v2h-2zm1-7h2v2h-2zm0 3h2v2h-2zm0 2h2v2h-2zm0 0h2v2h-2zm0 1h2v2h-2zm0 1h2v2h-2zm1-7h2v2h-2zm0 1h2v2h-2zm0 5h2v2h-2zm0 3h2v2h-2zm0 1h2v2h-2zm1-4h2v2h-2zm0 2h2v2h-2zm0 16h2v2h-2zm2-30h2v2h-2zm0 10h2v2h-2zm0 3h2v2h-2zm0 1h2v2h-2zm1-1h2v2h-2zm0 1h2v2h-2zm0 3h2v2h-2zm1-7h2v2h-2zm0 0h2v2h-2zm0 1h2v2h-2zm0 1h2v2h-2zm0 1h2v2h-2zm1-3h2v2h-2zm0 1h2v2h-2zm0 1h2v2h-2zm1-4h2v2h-2zm0 3h2v2h-2zm0 0h2v2h-2zm0 0h2v2h-2zm1-3h2v2h-2zm1 1h2v2h-2zm0 0h2v2h-2zm0 1h2v2h-2zm0 1h2v2h-2zm0 0h2v2h-2zm0 1h2v2h-2zm0 2h2v2h-2zm0 2h2v2h-2zm1-7h2v2h-2zm1 1h2v2h-2zm0 1h2v2h-2zm1 9h2v2h-2zm1-9h2v2h-2zm0 3h2v2h-2zm1-1h2v2h-2zm0 0h2v2h-2zm0 1h2v2h-2zm46-2h2v2h-2zm0 0h2v2h-2zm1-2h2v2h-2zm0 0h2v2h-2zm0 1h2v2h-2zm0 0h2v2h-2zm1-5h2v2h-2zm0 4h2v2h-2zm0 1h2v2h-2zm0 4h2v2h-2zm0 1h2v2h-2zm1-8h2v2h-2zm1 3h2v2h-2zm0 4h2v2h-2zm1-9h2v2h-2zm0 2h2v2h-2zm0 1h2v2h-2zm0 3h2v2h-2zm1-2h2v2h-2zm0 0h2v2h-2zm0 1h2v2h-2zm0 0h2v2h-2zm0 3h2v2h-2zm1-7h2v2h-2zm0 4h2v2h-2zm0 1h2v2h-2zm0 2h2v2h-2zm0 0h2v2h-2zm1-1h2v2h-2zm2-6h2v2h-2zm0 1h2v2h-2zm0 0h2v2h-2zm0 1h2v2h-2zm0 4h2v2h-2zm0 3h2v2h-2zm1-8h2v2h-2zm0 1h2v2h-2zm0 1h2v2h-2zm1-3h2v2h-2zm0 6h2v2h-2zm1-7h2v2h-2zm0 4h2v2h-2zm0 2h2v2h-2zm0 3h2v2h-2zm1-7h2v2h-2zm0 2h2v2h-2zm1 4h2v2h-2zm1-3h2v2h-2zm1 2h2v2h-2zm0 1h2v2h-2zm19-11h2v2h-2zm0 1h2v2h-2zm0 1h2v2h-2zm0 1h2v2h-2zm0 3h2v2h-2zm1 1h2v2h-2zm1-6h2v2h-2zm0 1h2v2h-2zm0 0h2v2h-2zm0 2h2v2h-2zm0 1h2v2h-2zm0 2h2v2h-2zm0 0h2v2h-2zm1-1h2v2h-2zm1-1h2v2h-2zm0 1h2v2h-2zm1-3h2v2h-2zm0 0h2v2h-2zm0 3h2v2h-2zm1-5h2v2h-2zm0 4h2v2h-2zm0 1h2v2h-2zm1-3h2v2h-2zm0 2h2v2h-2zm0 1h2v2h-2zm0 3h2v2h-2zm0 3h2v2h-2zm1-4h2v2h-2zm1-6h2v2h-2zm0 2h2v2h-2zm0 4h2v2h-2zm1-7h2v2h-2zm0 2h2v2h-2zm0 2h2v2h-2zm0 2h2v2h-2zm1-8h2v2h-2zm0 2h2v2h-2zm0 4h2v2h-2zm0 2h2v2h-2zm1-2h2v2h-2zm0 0h2v2h-2zm0 1h2v2h-2zm0 1h2v2h-2zm1-2h2v2h-2zm1 1h2v2h-2zm0 2h2v2h-2zm1-4h2v2h-2zm1-3h2v2h-2zm0 2h2v2h-2zm0 1h2v2h-2zm0 0h2v2h-2zm0 1h2v2h-2zm0 0h2v2h-2zm0 1h2v2h-2zm0 1h2v2h-2zm1-6h2v2h-2zm0 2h2v2h-2zm0 2h2v2h-2zm1 0h2v2h-2zm1-2h2v2h-2zm0 1h2v2h-2zm0 1h2v2h-2zm0 5h2v2h-2zm1-4h2v2h-2zm0 0h2v2h-2zm0 0h2v2h-2zm1-1h2v2h-2zm0 1h2v2h-2zm1-5h2v2h-2zm0 0h2v2h-2zm0 1h2v2h-2zm1 6h2v2h-2zm0 0h2v2h-2zm1-6h2v2h-2zm0 2h2v2h-2zm0 1h2v2h-2zm0 2h2v2h-2zm0 0h2v2h-2zm0 1h2v2h-2zm0 1h2v2h-2zm1-8h2v2h-2zm0 12h2v2h-2zm1 5h2v2h-2zm1-16h2v2h-2zm0 0h2v2h-2zm0 2h2v2h-2zm0 2h2v2h-2zm2 0h2v2h-2zm0 0h2v2h-2zm2 1h2v2h-2zm1-5h2v2h-2zm71 12h2v2h-2zm1-9h2v2h-2zm0 0h2v2h-2zm0 2h2v2h-2zm1-3h2v2h-2zm0 4h2v2h-2zm1-4h2v2h-2zm0 1h2v2h-2zm0 4h2v2h-2zm0 1h2v2h-2zm2-2h2v2h-2zm1-1h2v2h-2zm1-1h2v2h-2zm0 1h2v2h-2zm2 2h2v2h-2zm30-1h2v2h-2zm0 2h2v2h-2zm0 0h2v2h-2zm1-6h2v2h-2zm0 3h2v2h-2zm0 1h2v2h-2zm0 0h2v2h-2zm0 2h2v2h-2zm0 1h2v2h-2zm0 2h2v2h-2zm1-6h2v2h-2zm0 0h2v2h-2zm0 2h2v2h-2zm0 1h2v2h-2zm0 1h2v2h-2zm1-1h2v2h-2zm0 0h2v2h-2zm1-2h2v2h-2zm0 0h2v2h-2zm0 1h2v2h-2zm0 0h2v2h-2zm0 0h2v2h-2zm0 2h2v2h-2zm0 1h2v2h-2zm1-4h2v2h-2zm0 1h2v2h-2zm0 0h2v2h-2zm1-1h2v2h-2zm0 3h2v2h-2zm0 0h2v2h-2zm0 4h2v2h-2zm1-12h2v2h-2zm0 1h2v2h-2zm0 2h2v2h-2zm0 2h2v2h-2zm0 3h2v2h-2zm1-5h2v2h-2zm0 0h2v2h-2zm0 1h2v2h-2zm0 1h2v2h-2zm0 0h2v2h-2zm0 1h2v2h-2zm0 0h2v2h-2zm1 0h2v2h-2zm0 2h2v2h-2zm0 1h2v2h-2zm1-6h2v2h-2zm0 2h2v2h-2zm0 2h2v2h-2zm1-1h2v2h-2zm0 2h2v2h-2zm1-1h2v2h-2zm0 2h2v2h-2zm0 0h2v2h-2zm1-4h2v2h-2zm0 1h2v2h-2z"/>
<path fill="#e2232b" shape-rendering="crispEdges" d="M659 829h2v2h-2zm1 5h2v2h-2zm0 1h2v2h-2zm1-5h2v2h-2zm0 6h2v2h-2zm2-2h2v2h-2zm0 1h2v2h-2zm0 2h2v2h-2zm1-2h2v2h-2zm0 3h2v2h-2zm1-4h2v2h-2zm0 1h2v2h-2zm2-1h2v2h-2zm0 0h2v2h-2zm0 4h2v2h-2zm1-3h2v2h-2zm0 2h2v2h-2zm0 2h2v2h-2zm1-5h2v2h-2zm0 4h2v2h-2zm1-6h2v2h-2zm0 1h2v2h-2zm1-2h2v2h-2zm0 1h2v2h-2zm0 1h2v2h-2zm0 1h2v2h-2zm1-4h2v2h-2zm0 3h2v2h-2zm0 1h2v2h-2zm0 1h2v2h-2zm0 1h2v2h-2zm1-4h2v2h-2zm0 0h2v2h-2zm0 4h2v2h-2zm1-1h2v2h-2zm1-7h2v2h-2zm0 3h2v2h-2zm0 2h2v2h-2zm0 0h2v2h-2zm0 5h2v2h-2zm1-4h2v2h-2zm0 0h2v2h-2zm0 6h2v2h-2zm1-9h2v2h-2zm0 1h2v2h-2zm0 0h2v2h-2zm0 3h2v2h-2zm0 0h2v2h-2zm0 5h2v2h-2zm1-12h2v2h-2zm0 1h2v2h-2zm0 5h2v2h-2zm1-1h2v2h-2zm0 5h2v2h-2zm1-3h2v2h-2zm0 1h2v2h-2zm0 3h2v2h-2zm1-5h2v2h-2zm0 3h2v2h-2zm0 0h2v2h-2zm0 4h2v2h-2zm1-14h2v2h-2zm0 6h2v2h-2zm0 3h2v2h-2zm1-6h2v2h-2zm0 2h2v2h-2zm0 2h2v2h-2zm0 2h2v2h-2zm0 2h2v2h-2zm1-2h2v2h-2zm0 2h2v2h-2zm2-9h2v2h-2zm0 4h2v2h-2zm0 5h2v2h-2zm0 6h2v2h-2zm1-13h2v2h-2zm0 4h2v2h-2zm0 1h2v2h-2zm0 2h2v2h-2zm2-8h2v2h-2zm0 0h2v2h-2zm0 1h2v2h-2zm0 2h2v2h-2zm0 3h2v2h-2zm1-3h2v2h-2zm0 3h2v2h-2zm1-2h2v2h-2zm0 1h2v2h-2zm0 0h2v2h-2zm0 0h2v2h-2zm1-2h2v2h-2zm0 0h2v2h-2zm0 0h2v2h-2zm0 2h2v2h-2zm1-19h2v2h-2zm0 2h2v2h-2zm0 11h2v2h-2zm0 4h2v2h-2zm0 6h2v2h-2zm1-19h2v2h-2zm0 11h2v2h-2zm0 2h2v2h-2zm0 1h2v2h-2zm0 0h2v2h-2zm1 2h2v2h-2zm0 1h2v2h-2zm1-12h2v2h-2zm0 11h2v2h-2zm1-6h2v2h-2zm0 1h2v2h-2zm0 5h2v2h-2zm1-6h2v2h-2zm0 1h2v2h-2zm0 3h2v2h-2zm0 6h2v2h-2zm1-7h2v2h-2zm0 2h2v2h-2zm84-16h2v2h-2zm1-1h2v2h-2zm0 3h2v2h-2zm1-4h2v2h-2zm0 3h2v2h-2zm0 1h2v2h-2zm1-7h2v2h-2zm0 5h2v2h-2zm0 2h2v2h-2zm0 0h2v2h-2zm1-6h2v2h-2zm0 1h2v2h-2zm0 3h2v2h-2zm0 0h2v2h-2zm0 0h2v2h-2zm0 0h2v2h-2zm2-4h2v2h-2zm0 3h2v2h-2zm0 0h2v2h-2zm0 5h2v2h-2zm1-9h2v2h-2zm0 0h2v2h-2zm1 2h2v2h-2zm0 2h2v2h-2zm1-6h2v2h-2zm1-4h2v2h-2zm0 1h2v2h-2zm0 3h2v2h-2zm0 3h2v2h-2zm1-6h2v2h-2zm1 4h2v2h-2zm0 0h2v2h-2zm0 2h2v2h-2zm1-7h2v2h-2zm0 2h2v2h-2zm0 3h2v2h-2zm0 2h2v2h-2zm0 0h2v2h-2zm1-5h2v2h-2zm0 0h2v2h-2zm0 1h2v2h-2zm1-2h2v2h-2zm0 1h2v2h-2zm0 3h2v2h-2zm1-5h2v2h-2zm0 2h2v2h-2zm0 3h2v2h-2zm0 1h2v2h-2zm1-4h2v2h-2zm1-4h2v2h-2zm0 2h2v2h-2zm0 5h2v2h-2zm736 19h2v2h-2zm0 2h2v2h-2zm0 0h2v2h-2zm0 2h2v2h-2zm1-5h2v2h-2zm0 2h2v2h-2zm0 1h2v2h-2zm0 1h2v2h-2zm1-3h2v2h-2zm0 1h2v2h-2zm0 1h2v2h-2zm0 2h2v2h-2zm1-4h2v2h-2zm0 1h2v2h-2zm0 0h2v2h-2zm0 1h2v2h-2zm0 2h2v2h-2zm1-2h2v2h-2zm0 0h2v2h-2zm1-3h2v2h-2zm0 2h2v2h-2zm0 0h2v2h-2zm0 0h2v2h-2zm0 0h2v2h-2zm1-5h2v2h-2zm0 4h2v2h-2zm0 0h2v2h-2zm0 1h2v2h-2zm0 0h2v2h-2zm0 1h2v2h-2zm0 1h2v2h-2zm1-3h2v2h-2zm0 1h2v2h-2zm0 3h2v2h-2zm1-3h2v2h-2zm0 1h2v2h-2zm0 0h2v2h-2zm0 2h2v2h-2zm0 0h2v2h-2zm0 8h2v2h-2zm1-10h2v2h-2zm1-9h2v2h-2zm0 8h2v2h-2zm0 1h2v2h-2zm0 0h2v2h-2zm1-2h2v2h-2zm0 1h2v2h-2zm0 2h2v2h-2zm10-17h2v2h-2zm1 1h2v2h-2zm1 11h2v2h-2zm1-10h2v2h-2z"/>
<path fill="#3f9e4a" shape-rendering="crispEdges" d="M1569 862h2v2h-2zm0 0h2v2h-2zm0 0h2v2h-2zm0 1h2v2h-2zm0 0h2v2h-2zm1-1h2v2h-2zm0 1h2v2h-2zm1-1h2v2h-2zm0 0h2v2h-2zm0 0h2v2h-2zm1-1h2v2h-2zm0 1h2v2h-2zm0 0h2v2h-2zm1 0h2v2h-2zm0 0h2v2h-2zm0 1h2v2h-2zm0 0h2v2h-2zm0 1h2v2h-2zm1-2h2v2h-2zm0 0h2v2h-2zm0 2h2v2h-2z"/>
<line x1="449.8" y1="839.5" x2="523" y2="839.5" stroke="#951419" stroke-width="1.4"/>
<line x1="623.5" y1="853.4" x2="660" y2="853.4" stroke="#12603a" stroke-width="1.4"/>
<line x1="660" y1="834.8" x2="700" y2="834.8" stroke="#e2232b" stroke-width="1.4"/>
<line x1="716" y1="854.2" x2="783.5" y2="854.2" stroke="#12603a" stroke-width="1.4"/>
<line x1="803" y1="854" x2="857.6" y2="854" stroke="#12603a" stroke-width="1.4"/>
<line x1="893.7" y1="854" x2="913.6" y2="854" stroke="#12603a" stroke-width="1.4"/>
<line x1="927.7" y1="854" x2="993" y2="854" stroke="#12603a" stroke-width="1.4"/>
<line x1="1110" y1="853.4" x2="1222.8" y2="853.4" stroke="#12603a" stroke-width="1.4"/>
<line x1="1285.8" y1="841" x2="1325.5" y2="841" stroke="#951419" stroke-width="1.4"/>
<line x1="1379.4" y1="853.4" x2="1412" y2="853.4" stroke="#12603a" stroke-width="1.4"/>
<line x1="1430" y1="853.4" x2="1448.6" y2="853.4" stroke="#12603a" stroke-width="1.4"/>
<line x1="1488.7" y1="853.4" x2="1522.7" y2="853.4" stroke="#12603a" stroke-width="1.4"/>
<line x1="1522.7" y1="841.2" x2="1538" y2="841.2" stroke="#951419" stroke-width="1.4"/>
<line x1="1604.3" y1="840" x2="1667.4" y2="840" stroke="#951419" stroke-width="1.4"/>
<path fill="#e2232b" shape-rendering="crispEdges" d="M870 913h3v3h-3z"/>
<path fill="#e2232b" shape-rendering="crispEdges" d="M869 934h3v3h-3z"/>
<path fill="#12603a" shape-rendering="crispEdges" d="M732 983h3v3h-3z"/>
<path fill="#2d5ea9" shape-rendering="crispEdges" d="M1465 935h3v3h-3z"/>
<path fill="#12603a" shape-rendering="crispEdges" d="M946 810h3v3h-3z"/>
<line x1="420" y1="848" x2="1667.5" y2="848" stroke="#b4b4b4" stroke-width="1.3"/>
<path fill="#951419" d="M417.5 1193.5L427.5 1193.5v4L417.5 1197.5zM429.7 1193.5L443.3 1193.5v4L429.7 1197.5zM447.8 1193.5L468.6 1193.5v4L447.8 1197.5zM479.3 1193.5L513 1193.5v4L479.3 1197.5zM702 1193.7L708 1193.7v4L702 1197.7zM1284.5 1195L1323.3 1195v4L1284.5 1199zM1520.5 1195L1535.5 1195v4L1520.5 1199zM1603.4 1196.8L1665.2 1196.8v4L1603.4 1200.8z"/>
<path fill="#e2232b" d="M512.2 1182.7L521 1182.7v4L512.2 1186.7zM657.8 1183.6L701.9 1183.6v4L657.8 1187.6zM781.7 1155L801 1142v4L781.7 1159zM1537 1181.8L1544 1181.8v4L1537 1185.8z"/>
<path fill="#12603a" d="M426 1223.3L431 1223.3v4L426 1227.3zM441 1223.3L447 1223.3v4L441 1227.3zM621.6 1221.5L657.8 1221.5v4L621.6 1225.5zM716.4 1223.3L781.7 1223.3v4L716.4 1227.3zM802.4 1223.3L855.8 1223.3v4L802.4 1227.3zM891.5 1218.9L911.4 1218.9v4L891.5 1222.9zM925.5 1222.4L990.8 1222.4v4L925.5 1226.4zM1109.4 1223.3L1220.6 1223.3v4L1109.4 1227.3zM1377 1222.4L1409.4 1222.4v4L1377 1226.4zM1429 1222.4L1446.4 1222.4v4L1429 1226.4zM1487.4 1222.4L1520.5 1222.4v4L1487.4 1226.4zM1573 1228L1581.5 1219.5v4L1573 1232z"/>
<path fill="#2d5ea9" d="M521 1208.3L621.6 1208.3v4L521 1212.3zM708 1207.5L716 1207.5v4L708 1211.5zM855.8 1208L891.5 1208v4L855.8 1212zM911.4 1208L925.5 1208v4L911.4 1212zM990.8 1205.8L1066 1205.8v4L990.8 1209.8zM1079 1205.8L1109.4 1205.8v4L1079 1209.8zM1220.6 1207L1275.7 1207v4L1220.6 1211zM1331.7 1208L1366 1208v4L1331.7 1212zM1409.4 1210L1429 1210v4L1409.4 1214zM1446.4 1204.7L1479.5 1204.7v4L1446.4 1208.7zM1547 1210L1556 1210v4L1547 1214z"/>
<path fill="#3f9e4a" d="M1590 1213.6L1602 1213.6v4L1590 1217.6z"/>
<path fill="#951419" shape-rendering="crispEdges" d="M417 1203h2v2h-2zm1-20h2v2h-2zm0 3h2v2h-2zm0 4h2v2h-2zm0 3h2v2h-2zm1-12h2v2h-2zm0 2h2v2h-2zm0 3h2v2h-2zm0 1h2v2h-2zm0 8h2v2h-2zm0 1h2v2h-2zm0 0h2v2h-2zm0 2h2v2h-2zm0 0h2v2h-2zm0 1h2v2h-2zm0 0h2v2h-2zm2-6h2v2h-2zm0 0h2v2h-2zm0 1h2v2h-2zm0 0h2v2h-2zm1-11h2v2h-2zm0 9h2v2h-2zm0 1h2v2h-2zm1 0h2v2h-2zm0 0h2v2h-2zm0 6h2v2h-2zm1-15h2v2h-2zm0 11h2v2h-2zm1 3h2v2h-2zm0 0h2v2h-2zm0 0h2v2h-2zm1-3h2v2h-2zm2 1h2v2h-2zm1 0h2v2h-2zm0 0h2v2h-2zm0 1h2v2h-2zm0 1h2v2h-2zm1 0h2v2h-2zm0 0h2v2h-2zm1-7h2v2h-2zm0 5h2v2h-2zm0 3h2v2h-2zm0 3h2v2h-2zm1-10h2v2h-2zm0 1h2v2h-2zm1-21h2v2h-2zm0 21h2v2h-2zm0 2h2v2h-2zm0 1h2v2h-2zm1-2h2v2h-2zm0 0h2v2h-2zm1-9h2v2h-2zm0 8h2v2h-2zm0 2h2v2h-2zm0 9h2v2h-2zm1-11h2v2h-2zm0 2h2v2h-2zm0 4h2v2h-2zm1-8h2v2h-2zm0 5h2v2h-2zm0 1h2v2h-2zm1-26h2v2h-2zm0 19h2v2h-2zm0 2h2v2h-2zm0 2h2v2h-2zm0 1h2v2h-2zm1-1h2v2h-2zm1-15h2v2h-2zm0 15h2v2h-2zm0 0h2v2h-2zm0 1h2v2h-2zm1-3h2v2h-2zm0 4h2v2h-2zm0 0h2v2h-2zm1-8h2v2h-2zm0 7h2v2h-2zm0 15h2v2h-2zm6-31h2v2h-2zm0 9h2v2h-2zm0 5h2v2h-2zm0 1h2v2h-2zm0 3h2v2h-2zm1-12h2v2h-2zm0 10h2v2h-2zm0 4h2v2h-2zm1-7h2v2h-2zm0 2h2v2h-2zm1-2h2v2h-2zm0 1h2v2h-2zm0 0h2v2h-2zm0 5h2v2h-2zm0 0h2v2h-2zm0 2h2v2h-2zm0 1h2v2h-2zm1-11h2v2h-2zm0 4h2v2h-2zm0 0h2v2h-2zm2 0h2v2h-2zm0 2h2v2h-2zm0 3h2v2h-2zm1-12h2v2h-2zm0 3h2v2h-2zm0 3h2v2h-2zm1 3h2v2h-2zm2-2h2v2h-2zm0 2h2v2h-2zm0 3h2v2h-2zm1-7h2v2h-2zm0 3h2v2h-2zm1-11h2v2h-2zm0 8h2v2h-2zm0 1h2v2h-2zm0 2h2v2h-2zm0 3h2v2h-2zm1-9h2v2h-2zm0 2h2v2h-2zm0 4h2v2h-2zm1-2h2v2h-2zm0 5h2v2h-2zm0 0h2v2h-2zm0 5h2v2h-2zm1-10h2v2h-2zm0 5h2v2h-2zm0 2h2v2h-2zm1-22h2v2h-2zm0 4h2v2h-2zm0 8h2v2h-2zm0 1h2v2h-2zm0 2h2v2h-2zm0 1h2v2h-2zm0 1h2v2h-2zm0 2h2v2h-2zm1-5h2v2h-2zm0 0h2v2h-2zm0 2h2v2h-2zm0 4h2v2h-2zm1-6h2v2h-2zm1 0h2v2h-2zm0 1h2v2h-2zm0 5h2v2h-2zm12-5h2v2h-2zm0 4h2v2h-2zm0 1h2v2h-2zm1-2h2v2h-2zm0 2h2v2h-2zm1-8h2v2h-2zm0 6h2v2h-2zm0 4h2v2h-2zm1-10h2v2h-2zm0 4h2v2h-2zm0 2h2v2h-2zm2 2h2v2h-2zm0 0h2v2h-2zm1-5h2v2h-2zm0 0h2v2h-2zm0 6h2v2h-2zm1-9h2v2h-2zm0 3h2v2h-2zm0 0h2v2h-2zm0 3h2v2h-2zm0 1h2v2h-2zm1-6h2v2h-2zm0 6h2v2h-2zm1-5h2v2h-2zm0 2h2v2h-2zm2-4h2v2h-2zm1 3h2v2h-2zm0 7h2v2h-2zm1-8h2v2h-2zm0 1h2v2h-2zm0 3h2v2h-2zm1 0h2v2h-2zm0 1h2v2h-2zm0 4h2v2h-2zm1-11h2v2h-2zm0 1h2v2h-2zm0 3h2v2h-2zm0 1h2v2h-2zm0 2h2v2h-2zm0 1h2v2h-2zm1-9h2v2h-2zm0 2h2v2h-2zm0 4h2v2h-2zm1-2h2v2h-2zm0 3h2v2h-2zm1-6h2v2h-2zm1 0h2v2h-2zm0 9h2v2h-2zm0 2h2v2h-2zm1-2h2v2h-2zm0 0h2v2h-2zm1-6h2v2h-2zm0 3h2v2h-2zm0 3h2v2h-2zm0 1h2v2h-2zm1-7h2v2h-2zm0 5h2v2h-2zm1-3h2v2h-2zm1-3h2v2h-2zm0 2h2v2h-2zm0 1h2v2h-2zm0 4h2v2h-2zm1-7h2v2h-2zm0 1h2v2h-2zm0 0h2v2h-2zm0 10h2v2h-2zm1-9h2v2h-2zm1-3h2v2h-2zm0 1h2v2h-2zm0 3h2v2h-2zm0 5h2v2h-2zm1-16h2v2h-2zm0 9h2v2h-2zm0 0h2v2h-2zm0 3h2v2h-2zm0 1h2v2h-2zm0 3h2v2h-2zm0 0h2v2h-2zm1-7h2v2h-2zm0 3h2v2h-2zm0 1h2v2h-2zm0 1h2v2h-2zm0 0h2v2h-2zm1-5h2v2h-2zm0 4h2v2h-2zm1-24h2v2h-2zm0 18h2v2h-2zm0 5h2v2h-2zm1-5h2v2h-2zm0 2h2v2h-2zm0 1h2v2h-2zm1-3h2v2h-2zm0 5h2v2h-2zm0 3h2v2h-2zm189-4h2v2h-2zm1 1h2v2h-2zm0 1h2v2h-2zm1-6h2v2h-2zm0 0h2v2h-2zm0 3h2v2h-2zm0 0h2v2h-2zm0 1h2v2h-2zm0 4h2v2h-2zm0 0h2v2h-2zm1-10h2v2h-2zm0 2h2v2h-2zm0 1h2v2h-2zm0 2h2v2h-2zm1-3h2v2h-2zm0 3h2v2h-2zm0 3h2v2h-2zm0 0h2v2h-2zm0 3h2v2h-2zm1-11h2v2h-2zm0 1h2v2h-2zm0 0h2v2h-2zm0 2h2v2h-2zm0 0h2v2h-2zm0 3h2v2h-2zm0 1h2v2h-2zm0 1h2v2h-2zm0 1h2v2h-2zm1-5h2v2h-2zm0 0h2v2h-2zm0 2h2v2h-2zm577-3h2v2h-2zm0 8h2v2h-2zm1-6h2v2h-2zm0 2h2v2h-2zm1-2h2v2h-2zm0 2h2v2h-2zm1-8h2v2h-2zm0 6h2v2h-2zm0 3h2v2h-2zm0 5h2v2h-2zm1-8h2v2h-2zm0 4h2v2h-2zm1-7h2v2h-2zm0 3h2v2h-2zm0 10h2v2h-2zm1-11h2v2h-2zm0 0h2v2h-2zm0 2h2v2h-2zm0 2h2v2h-2zm0 1h2v2h-2zm1 0h2v2h-2zm0 0h2v2h-2zm0 1h2v2h-2zm1-7h2v2h-2zm0 2h2v2h-2zm0 2h2v2h-2zm1-2h2v2h-2zm0 2h2v2h-2zm1-4h2v2h-2zm1 0h2v2h-2zm0 2h2v2h-2zm0 2h2v2h-2zm1-5h2v2h-2zm0 3h2v2h-2zm0 3h2v2h-2zm1-1h2v2h-2zm1-5h2v2h-2zm0 2h2v2h-2zm0 2h2v2h-2zm0 7h2v2h-2zm1-12h2v2h-2zm0 6h2v2h-2zm0 2h2v2h-2zm0 1h2v2h-2zm1-7h2v2h-2zm0 1h2v2h-2zm0 3h2v2h-2zm1 4h2v2h-2zm1-8h2v2h-2zm0 6h2v2h-2zm0 0h2v2h-2zm0 1h2v2h-2zm1-6h2v2h-2zm1 0h2v2h-2zm1 4h2v2h-2zm0 3h2v2h-2zm1-10h2v2h-2zm0 2h2v2h-2zm0 1h2v2h-2zm0 6h2v2h-2zm1-5h2v2h-2zm0 1h2v2h-2zm0 0h2v2h-2zm0 3h2v2h-2zm1-7h2v2h-2zm0 7h2v2h-2zm0 0h2v2h-2zm1 1h2v2h-2zm1-6h2v2h-2zm0 0h2v2h-2zm0 1h2v2h-2zm0 0h2v2h-2zm1-1h2v2h-2zm0 4h2v2h-2zm1-1h2v2h-2zm0 3h2v2h-2zm1-7h2v2h-2zm0 3h2v2h-2zm0 0h2v2h-2zm0 2h2v2h-2zm0 0h2v2h-2zm0 4h2v2h-2zm2-7h2v2h-2zm0 2h2v2h-2zm1 0h2v2h-2zm1-2h2v2h-2zm0 0h2v2h-2zm0 2h2v2h-2zm1-7h2v2h-2zm0 7h2v2h-2zm0 1h2v2h-2zm0 0h2v2h-2zm1-6h2v2h-2zm0 2h2v2h-2zm0 2h2v2h-2zm0 2h2v2h-2zm1-8h2v2h-2zm0 1h2v2h-2zm0 5h2v2h-2zm0 4h2v2h-2zm1-4h2v2h-2zm0 0h2v2h-2zm0 2h2v2h-2zm1-5h2v2h-2zm0 1h2v2h-2zm0 1h2v2h-2zm0 0h2v2h-2zm0 2h2v2h-2zm198-2h2v2h-2zm0 0h2v2h-2zm0 1h2v2h-2zm0 1h2v2h-2zm1 1h2v2h-2zm0 0h2v2h-2zm0 1h2v2h-2zm0 0h2v2h-2zm0 5h2v2h-2zm2-9h2v2h-2zm0 2h2v2h-2zm0 0h2v2h-2zm0 1h2v2h-2zm1 2h2v2h-2zm0 2h2v2h-2zm0 1h2v2h-2zm1-12h2v2h-2zm0 5h2v2h-2zm1 1h2v2h-2zm2-5h2v2h-2zm0 5h2v2h-2zm0 0h2v2h-2zm0 1h2v2h-2zm0 2h2v2h-2zm0 1h2v2h-2zm1-6h2v2h-2zm0 1h2v2h-2zm0 1h2v2h-2zm0 1h2v2h-2zm1-5h2v2h-2zm0 1h2v2h-2zm0 2h2v2h-2zm0 1h2v2h-2zm1-3h2v2h-2zm0 5h2v2h-2zm0 0h2v2h-2zm1 0h2v2h-2zm1-10h2v2h-2zm0 5h2v2h-2zm0 3h2v2h-2zm0 3h2v2h-2zm1-1h2v2h-2zm20-4h2v2h-2zm1 2h2v2h-2zm0 2h2v2h-2zm0 2h2v2h-2zm1-5h2v2h-2zm0 3h2v2h-2zm1-3h2v2h-2zm0 1h2v2h-2zm0 0h2v2h-2zm0 1h2v2h-2zm0 1h2v2h-2zm0 1h2v2h-2zm2-2h2v2h-2zm0 1h2v2h-2zm43 1h2v2h-2zm1-5h2v2h-2zm1 6h2v2h-2zm1-4h2v2h-2zm0 2h2v2h-2zm0 1h2v2h-2zm0 3h2v2h-2zm1-7h2v2h-2zm0 1h2v2h-2zm0 0h2v2h-2zm0 0h2v2h-2zm1 0h2v2h-2zm1 0h2v2h-2zm0 1h2v2h-2zm1-1h2v2h-2zm0 0h2v2h-2zm0 2h2v2h-2zm0 1h2v2h-2zm1 2h2v2h-2zm2-3h2v2h-2zm0 3h2v2h-2zm1-3h2v2h-2zm0 1h2v2h-2zm1-11h2v2h-2zm0 8h2v2h-2zm1-3h2v2h-2zm0 4h2v2h-2zm1-3h2v2h-2zm0 1h2v2h-2zm0 2h2v2h-2zm0 1h2v2h-2zm0 1h2v2h-2zm0 4h2v2h-2zm0 1h2v2h-2zm1-11h2v2h-2zm0 6h2v2h-2zm1-5h2v2h-2zm0 1h2v2h-2zm0 5h2v2h-2zm2-2h2v2h-2zm0 3h2v2h-2zm1-5h2v2h-2zm0 1h2v2h-2zm1 3h2v2h-2zm1-7h2v2h-2zm0 0h2v2h-2zm0 1h2v2h-2zm0 3h2v2h-2zm0 1h2v2h-2zm1-2h2v2h-2zm0 0h2v2h-2zm0 1h2v2h-2zm0 2h2v2h-2zm1-4h2v2h-2zm0 3h2v2h-2zm0 2h2v2h-2zm0 0h2v2h-2zm0 1h2v2h-2zm1-3h2v2h-2zm0 1h2v2h-2zm2-2h2v2h-2zm0 3h2v2h-2zm1-2h2v2h-2zm0 0h2v2h-2zm0 1h2v2h-2zm1-6h2v2h-2zm0 7h2v2h-2zm1-3h2v2h-2zm0 1h2v2h-2zm1-3h2v2h-2zm1 3h2v2h-2zm0 5h2v2h-2zm1-11h2v2h-2zm0 2h2v2h-2zm0 2h2v2h-2zm1 1h2v2h-2zm0 1h2v2h-2zm2-3h2v2h-2zm0 4h2v2h-2zm0 0h2v2h-2zm1-5h2v2h-2zm0 3h2v2h-2zm0 4h2v2h-2zm0 2h2v2h-2zm1-10h2v2h-2zm0 4h2v2h-2zm1 3h2v2h-2zm0 4h2v2h-2zm1-12h2v2h-2zm0 3h2v2h-2zm0 5h2v2h-2zm0 1h2v2h-2zm0 0h2v2h-2zm1-6h2v2h-2zm0 2h2v2h-2zm0 0h2v2h-2zm0 2h2v2h-2zm0 3h2v2h-2zm0 1h2v2h-2zm1-7h2v2h-2zm0 1h2v2h-2zm0 1h2v2h-2zm1-3h2v2h-2zm0 0h2v2h-2zm0 2h2v2h-2zm0 1h2v2h-2zm0 0h2v2h-2zm0 1h2v2h-2zm1-6h2v2h-2zm0 1h2v2h-2zm0 3h2v2h-2zm0 2h2v2h-2zm1-2h2v2h-2zm0 4h2v2h-2zm1-3h2v2h-2zm0 3h2v2h-2zm1-6h2v2h-2zm0 2h2v2h-2zm0 3h2v2h-2zm0 2h2v2h-2zm1-7h2v2h-2zm0 0h2v2h-2zm0 6h2v2h-2zm1-2h2v2h-2zm0 4h2v2h-2zm1-14h2v2h-2zm0 6h2v2h-2zm0 0h2v2h-2zm0 2h2v2h-2zm0 2h2v2h-2zm1-7h2v2h-2zm0 7h2v2h-2zm0 2h2v2h-2zm1-1h2v2h-2zm0 1h2v2h-2zm0 0h2v2h-2zm1-4h2v2h-2zm0 0h2v2h-2zm1-1h2v2h-2zm0 5h2v2h-2zm1-4h2v2h-2zm0 0h2v2h-2zm1 0h2v2h-2zm0 2h2v2h-2zm0 1h2v2h-2zm0 0h2v2h-2zm1-10h2v2h-2zm0 1h2v2h-2zm0 3h2v2h-2zm0 4h2v2h-2zm0 0h2v2h-2zm0 4h2v2h-2zm1-7h2v2h-2zm0 2h2v2h-2zm0 0h2v2h-2zm0 0h2v2h-2zm0 1h2v2h-2zm0 1h2v2h-2zm0 1h2v2h-2zm0 0h2v2h-2zm0 3h2v2h-2zm1-8h2v2h-2zm0 1h2v2h-2zm0 0h2v2h-2zm1-1h2v2h-2zm0 3h2v2h-2zm1 0h2v2h-2zm1 2h2v2h-2zm1-3h2v2h-2zm0 1h2v2h-2zm0 0h2v2h-2zm0 1h2v2h-2zm0 1h2v2h-2z"/>
<path fill="#e2232b" shape-rendering="crispEdges" d="M512 1172h2v2h-2zm0 6h2v2h-2zm0 1h2v2h-2zm0 3h2v2h-2zm0 3h2v2h-2zm0 1h2v2h-2zm0 1h2v2h-2zm0 1h2v2h-2zm0 0h2v2h-2zm1-8h2v2h-2zm0 3h2v2h-2zm0 2h2v2h-2zm0 1h2v2h-2zm0 1h2v2h-2zm0 3h2v2h-2zm1-12h2v2h-2zm0 2h2v2h-2zm0 0h2v2h-2zm0 3h2v2h-2zm0 6h2v2h-2zm1-5h2v2h-2zm0 0h2v2h-2zm0 3h2v2h-2zm1-6h2v2h-2zm0 1h2v2h-2zm0 1h2v2h-2zm0 1h2v2h-2zm0 2h2v2h-2zm1-6h2v2h-2zm0 1h2v2h-2zm0 2h2v2h-2zm0 0h2v2h-2zm0 3h2v2h-2zm0 2h2v2h-2zm0 1h2v2h-2zm1-7h2v2h-2zm0 0h2v2h-2zm0 0h2v2h-2zm0 3h2v2h-2zm0 1h2v2h-2zm1-6h2v2h-2zm0 1h2v2h-2zm0 1h2v2h-2zm0 2h2v2h-2zm1-4h2v2h-2zm0 9h2v2h-2zm137-4h2v2h-2zm0 1h2v2h-2zm0 4h2v2h-2zm1-5h2v2h-2zm0 0h2v2h-2zm1-4h2v2h-2zm0 3h2v2h-2zm1-1h2v2h-2zm0 1h2v2h-2zm0 0h2v2h-2zm0 1h2v2h-2zm0 0h2v2h-2zm0 2h2v2h-2zm0 1h2v2h-2zm1-5h2v2h-2zm0 6h2v2h-2zm1-7h2v2h-2zm0 0h2v2h-2zm0 2h2v2h-2zm0 1h2v2h-2zm0 1h2v2h-2zm0 1h2v2h-2zm1-2h2v2h-2zm0 0h2v2h-2zm0 0h2v2h-2zm0 0h2v2h-2zm0 1h2v2h-2zm1-2h2v2h-2zm0 2h2v2h-2zm1-4h2v2h-2zm0 1h2v2h-2zm0 5h2v2h-2zm1-7h2v2h-2zm0 5h2v2h-2zm1-3h2v2h-2zm0 3h2v2h-2zm1-2h2v2h-2zm0 3h2v2h-2zm1-3h2v2h-2zm1-6h2v2h-2zm0 2h2v2h-2zm0 2h2v2h-2zm0 2h2v2h-2zm0 2h2v2h-2zm0 1h2v2h-2zm0 2h2v2h-2zm1-6h2v2h-2zm0 0h2v2h-2zm0 4h2v2h-2zm1-17h2v2h-2zm1 15h2v2h-2zm0 2h2v2h-2zm1-1h2v2h-2zm1-4h2v2h-2zm0 0h2v2h-2zm0 1h2v2h-2zm0 2h2v2h-2zm0 1h2v2h-2zm1-2h2v2h-2zm0 0h2v2h-2zm0 4h2v2h-2zm1-8h2v2h-2zm0 1h2v2h-2zm0 3h2v2h-2zm0 0h2v2h-2zm0 3h2v2h-2zm1-3h2v2h-2zm0 1h2v2h-2zm1 0h2v2h-2zm0 1h2v2h-2zm0 0h2v2h-2zm1-7h2v2h-2zm1 3h2v2h-2zm0 2h2v2h-2zm0 0h2v2h-2zm0 1h2v2h-2zm1 0h2v2h-2zm0 3h2v2h-2zm0 2h2v2h-2zm1-4h2v2h-2zm0 1h2v2h-2zm1-1h2v2h-2zm0 3h2v2h-2zm1-9h2v2h-2zm1 1h2v2h-2zm0 1h2v2h-2zm0 2h2v2h-2zm0 1h2v2h-2zm1-13h2v2h-2zm0 7h2v2h-2zm1 2h2v2h-2zm1-13h2v2h-2zm0 11h2v2h-2zm0 3h2v2h-2zm0 3h2v2h-2zm0 1h2v2h-2zm0 0h2v2h-2zm1-5h2v2h-2zm1-14h2v2h-2zm0 16h2v2h-2zm0 3h2v2h-2zm1-11h2v2h-2zm0 7h2v2h-2zm0 5h2v2h-2zm1-6h2v2h-2zm0 0h2v2h-2zm0 1h2v2h-2zm0 1h2v2h-2zm0 2h2v2h-2zm0 1h2v2h-2zm1-5h2v2h-2zm0 1h2v2h-2zm0 1h2v2h-2zm0 1h2v2h-2zm0 4h2v2h-2zm1-38h2v2h-2zm0 30h2v2h-2zm0 0h2v2h-2zm0 8h2v2h-2zm1-6h2v2h-2zm0 3h2v2h-2zm1 0h2v2h-2zm0 3h2v2h-2zm1-3h2v2h-2zm0 4h2v2h-2zm1-7h2v2h-2zm0 3h2v2h-2zm0 1h2v2h-2zm0 2h2v2h-2zm1-8h2v2h-2zm1 5h2v2h-2zm80-33h2v2h-2zm0 5h2v2h-2zm1 4h2v2h-2zm2-13h2v2h-2zm0 3h2v2h-2zm0 2h2v2h-2zm0 2h2v2h-2zm0 1h2v2h-2zm1-5h2v2h-2zm0 1h2v2h-2zm0 3h2v2h-2zm0 2h2v2h-2zm1-8h2v2h-2zm0 6h2v2h-2zm1-5h2v2h-2zm0 4h2v2h-2zm0 4h2v2h-2zm0 9h2v2h-2zm1-19h2v2h-2zm1 2h2v2h-2zm0 0h2v2h-2zm0 4h2v2h-2zm1-2h2v2h-2zm0 2h2v2h-2zm1-8h2v2h-2zm0 0h2v2h-2zm0 1h2v2h-2zm0 1h2v2h-2zm0 2h2v2h-2zm1-5h2v2h-2zm0 1h2v2h-2zm0 3h2v2h-2zm0 0h2v2h-2zm1-3h2v2h-2zm1-4h2v2h-2zm0 3h2v2h-2zm1-2h2v2h-2zm1-1h2v2h-2zm0 2h2v2h-2zm0 7h2v2h-2zm1-10h2v2h-2zm0 1h2v2h-2zm0 2h2v2h-2zm0 1h2v2h-2zm1-2h2v2h-2zm0 1h2v2h-2zm0 2h2v2h-2zm0 1h2v2h-2zm1-4h2v2h-2zm0 2h2v2h-2zm0 2h2v2h-2zm0 2h2v2h-2zm0 2h2v2h-2zm1-9h2v2h-2zm736 38h2v2h-2zm0 2h2v2h-2zm0 2h2v2h-2zm1-3h2v2h-2zm0 0h2v2h-2zm0 1h2v2h-2zm0 1h2v2h-2zm0 0h2v2h-2zm0 0h2v2h-2zm0 2h2v2h-2zm0 7h2v2h-2zm1-17h2v2h-2zm0 5h2v2h-2zm0 0h2v2h-2zm0 1h2v2h-2zm0 1h2v2h-2zm0 0h2v2h-2zm0 2h2v2h-2zm0 3h2v2h-2zm1-6h2v2h-2zm0 0h2v2h-2zm0 0h2v2h-2zm0 1h2v2h-2zm0 1h2v2h-2zm0 1h2v2h-2zm0 0h2v2h-2zm0 1h2v2h-2zm0 0h2v2h-2zm0 0h2v2h-2zm1-6h2v2h-2zm0 2h2v2h-2zm0 1h2v2h-2zm0 0h2v2h-2zm0 0h2v2h-2zm0 1h2v2h-2zm1-4h2v2h-2zm0 1h2v2h-2zm0 0h2v2h-2zm0 1h2v2h-2zm0 2h2v2h-2zm0 1h2v2h-2zm0 0h2v2h-2zm0 1h2v2h-2zm1-8h2v2h-2zm0 3h2v2h-2zm0 0h2v2h-2zm0 0h2v2h-2zm0 1h2v2h-2zm0 1h2v2h-2zm0 0h2v2h-2zm0 0h2v2h-2zm0 1h2v2h-2zm0 2h2v2h-2zm0 3h2v2h-2zm0 7h2v2h-2zm1-14h2v2h-2zm0 1h2v2h-2zm0 0h2v2h-2zm0 0h2v2h-2zm0 4h2v2h-2zm0 2h2v2h-2zm15-21h2v2h-2zm0 11h2v2h-2zm0 13h2v2h-2zm1-10h2v2h-2zm0 2h2v2h-2zm1 4h2v2h-2z"/>
<path fill="#12603a" shape-rendering="crispEdges" d="M425 1215h2v2h-2zm0 12h2v2h-2zm1-4h2v2h-2zm0 0h2v2h-2zm0 2h2v2h-2zm0 1h2v2h-2zm0 0h2v2h-2zm0 1h2v2h-2zm0 3h2v2h-2zm1-8h2v2h-2zm0 0h2v2h-2zm0 3h2v2h-2zm0 7h2v2h-2zm1-13h2v2h-2zm0 4h2v2h-2zm0 7h2v2h-2zm1-8h2v2h-2zm0 0h2v2h-2zm0 4h2v2h-2zm0 3h2v2h-2zm1-5h2v2h-2zm10 3h2v2h-2zm1-6h2v2h-2zm0 4h2v2h-2zm0 1h2v2h-2zm0 3h2v2h-2zm1-12h2v2h-2zm0 10h2v2h-2zm0 3h2v2h-2zm1-7h2v2h-2zm0 3h2v2h-2zm0 0h2v2h-2zm0 4h2v2h-2zm1-9h2v2h-2zm0 3h2v2h-2zm0 2h2v2h-2zm0 0h2v2h-2zm1-8h2v2h-2zm0 4h2v2h-2zm0 1h2v2h-2zm0 0h2v2h-2zm0 2h2v2h-2zm0 3h2v2h-2zm0 1h2v2h-2zm0 0h2v2h-2zm1-5h2v2h-2zm0 1h2v2h-2zm175-2h2v2h-2zm0 2h2v2h-2zm1-6h2v2h-2zm0 4h2v2h-2zm1-4h2v2h-2zm1-2h2v2h-2zm0 3h2v2h-2zm0 4h2v2h-2zm1-3h2v2h-2zm0 1h2v2h-2zm1-14h2v2h-2zm0 14h2v2h-2zm0 2h2v2h-2zm1-1h2v2h-2zm0 0h2v2h-2zm0 1h2v2h-2zm0 1h2v2h-2zm0 1h2v2h-2zm1-4h2v2h-2zm0 2h2v2h-2zm0 5h2v2h-2zm1-11h2v2h-2zm0 2h2v2h-2zm0 5h2v2h-2zm0 0h2v2h-2zm1-5h2v2h-2zm0 3h2v2h-2zm1-4h2v2h-2zm0 7h2v2h-2zm0 2h2v2h-2zm1-9h2v2h-2zm0 13h2v2h-2zm1-10h2v2h-2zm0 2h2v2h-2zm0 8h2v2h-2zm1-6h2v2h-2zm0 0h2v2h-2zm0 1h2v2h-2zm1-4h2v2h-2zm0 3h2v2h-2zm1-4h2v2h-2zm0 4h2v2h-2zm1-2h2v2h-2zm0 1h2v2h-2zm0 1h2v2h-2zm2-7h2v2h-2zm0 2h2v2h-2zm0 2h2v2h-2zm0 1h2v2h-2zm0 0h2v2h-2zm1-2h2v2h-2zm0 0h2v2h-2zm0 2h2v2h-2zm1-1h2v2h-2zm0 0h2v2h-2zm1 2h2v2h-2zm1-3h2v2h-2zm0 2h2v2h-2zm0 2h2v2h-2zm1-13h2v2h-2zm0 8h2v2h-2zm0 0h2v2h-2zm0 0h2v2h-2zm0 1h2v2h-2zm0 0h2v2h-2zm0 1h2v2h-2zm1-4h2v2h-2zm0 1h2v2h-2zm0 1h2v2h-2zm0 3h2v2h-2zm1-1h2v2h-2zm1 1h2v2h-2zm1-3h2v2h-2zm0 2h2v2h-2zm1-6h2v2h-2zm0 6h2v2h-2zm0 1h2v2h-2zm1-2h2v2h-2zm0 1h2v2h-2zm1-5h2v2h-2zm0 0h2v2h-2zm0 1h2v2h-2zm0 1h2v2h-2zm0 1h2v2h-2zm0 1h2v2h-2zm1 2h2v2h-2zm0 1h2v2h-2zm1-5h2v2h-2zm0 0h2v2h-2zm0 2h2v2h-2zm0 0h2v2h-2zm1 0h2v2h-2zm1 4h2v2h-2zm0 2h2v2h-2zm1-10h2v2h-2zm0 1h2v2h-2zm0 1h2v2h-2zm0 1h2v2h-2zm0 20h2v2h-2zm1-19h2v2h-2zm0 1h2v2h-2zm58-1h2v2h-2zm0 1h2v2h-2zm1-1h2v2h-2zm0 1h2v2h-2zm0 2h2v2h-2zm2 1h2v2h-2zm0 0h2v2h-2zm1-8h2v2h-2zm0 7h2v2h-2zm0 0h2v2h-2zm0 1h2v2h-2zm0 0h2v2h-2zm0 3h2v2h-2zm0 4h2v2h-2zm1-12h2v2h-2zm0 1h2v2h-2zm0 1h2v2h-2zm0 2h2v2h-2zm0 0h2v2h-2zm0 0h2v2h-2zm1-7h2v2h-2zm0 6h2v2h-2zm0 0h2v2h-2zm0 0h2v2h-2zm0 0h2v2h-2zm0 4h2v2h-2zm1-1h2v2h-2zm1-7h2v2h-2zm0 3h2v2h-2zm0 3h2v2h-2zm1-4h2v2h-2zm0 2h2v2h-2zm1-2h2v2h-2zm0 2h2v2h-2zm0 0h2v2h-2zm0 2h2v2h-2zm1-8h2v2h-2zm0 7h2v2h-2zm1-2h2v2h-2zm0 2h2v2h-2zm0 1h2v2h-2zm0 1h2v2h-2zm0 1h2v2h-2zm1-2h2v2h-2zm1-2h2v2h-2zm0 0h2v2h-2zm0 5h2v2h-2zm1-6h2v2h-2zm0 4h2v2h-2zm0 0h2v2h-2zm2-4h2v2h-2zm0 4h2v2h-2zm1-7h2v2h-2zm0 3h2v2h-2zm0 0h2v2h-2zm0 3h2v2h-2zm0 0h2v2h-2zm0 1h2v2h-2zm1-5h2v2h-2zm0 5h2v2h-2zm1-8h2v2h-2zm0 0h2v2h-2zm0 3h2v2h-2zm0 1h2v2h-2zm0 1h2v2h-2zm0 5h2v2h-2zm1-10h2v2h-2zm0 3h2v2h-2zm0 3h2v2h-2zm1-2h2v2h-2zm2 1h2v2h-2zm0 1h2v2h-2zm0 2h2v2h-2zm1-4h2v2h-2zm0 3h2v2h-2zm2-5h2v2h-2zm1 2h2v2h-2zm0 0h2v2h-2zm1 3h2v2h-2zm1 1h2v2h-2zm1-6h2v2h-2zm0 3h2v2h-2zm0 2h2v2h-2zm1-5h2v2h-2zm0 3h2v2h-2zm0 4h2v2h-2zm1-10h2v2h-2zm0 7h2v2h-2zm0 4h2v2h-2zm1-5h2v2h-2zm1-2h2v2h-2zm0 1h2v2h-2zm0 1h2v2h-2zm0 4h2v2h-2zm1-1h2v2h-2zm0 0h2v2h-2zm1-10h2v2h-2zm0 6h2v2h-2zm0 1h2v2h-2zm0 5h2v2h-2zm1 1h2v2h-2zm0 1h2v2h-2zm1-9h2v2h-2zm0 2h2v2h-2zm0 1h2v2h-2zm0 2h2v2h-2zm0 1h2v2h-2zm0 0h2v2h-2zm1-3h2v2h-2zm0 3h2v2h-2zm2-1h2v2h-2zm1-6h2v2h-2zm0 5h2v2h-2zm1-4h2v2h-2zm0 0h2v2h-2zm0 3h2v2h-2zm0 1h2v2h-2zm0 6h2v2h-2zm1-13h2v2h-2zm0 4h2v2h-2zm0 4h2v2h-2zm1-7h2v2h-2zm0 2h2v2h-2zm0 2h2v2h-2zm0 1h2v2h-2zm0 0h2v2h-2zm0 2h2v2h-2zm0 1h2v2h-2zm0 2h2v2h-2zm1-6h2v2h-2zm0 1h2v2h-2zm0 0h2v2h-2zm0 1h2v2h-2zm0 0h2v2h-2zm0 0h2v2h-2zm0 5h2v2h-2zm1-6h2v2h-2zm1-8h2v2h-2zm0 4h2v2h-2zm0 3h2v2h-2zm0 1h2v2h-2zm0 6h2v2h-2zm1-10h2v2h-2zm0 3h2v2h-2zm0 1h2v2h-2zm0 1h2v2h-2zm0 0h2v2h-2zm0 3h2v2h-2zm1-9h2v2h-2zm0 4h2v2h-2zm0 3h2v2h-2zm2-4h2v2h-2zm0 1h2v2h-2zm0 2h2v2h-2zm1-2h2v2h-2zm0 2h2v2h-2zm0 1h2v2h-2zm1-5h2v2h-2zm0 1h2v2h-2zm0 4h2v2h-2zm0 0h2v2h-2zm1-5h2v2h-2zm0 3h2v2h-2zm0 3h2v2h-2zm1-5h2v2h-2zm0 2h2v2h-2zm0 1h2v2h-2zm0 1h2v2h-2zm1-6h2v2h-2zm0 10h2v2h-2zm1-8h2v2h-2zm2 2h2v2h-2zm0 2h2v2h-2zm1-2h2v2h-2zm0 1h2v2h-2zm0 1h2v2h-2zm1-2h2v2h-2zm0 1h2v2h-2zm0 2h2v2h-2zm1-10h2v2h-2zm1 7h2v2h-2zm0 3h2v2h-2zm22 0h2v2h-2zm1-8h2v2h-2zm0 5h2v2h-2zm0 1h2v2h-2zm0 1h2v2h-2zm1-2h2v2h-2zm1-13h2v2h-2zm0 9h2v2h-2zm0 0h2v2h-2zm0 2h2v2h-2zm0 2h2v2h-2zm0 2h2v2h-2zm2-6h2v2h-2zm0 8h2v2h-2zm1-6h2v2h-2zm0 1h2v2h-2zm0 2h2v2h-2zm1-3h2v2h-2zm0 0h2v2h-2zm1-1h2v2h-2zm0 6h2v2h-2zm1-8h2v2h-2zm0 1h2v2h-2zm0 0h2v2h-2zm0 7h2v2h-2zm0 0h2v2h-2zm2-4h2v2h-2zm0 10h2v2h-2zm1-11h2v2h-2zm0 1h2v2h-2zm1 0h2v2h-2zm0 1h2v2h-2zm0 1h2v2h-2zm1-1h2v2h-2zm0 0h2v2h-2zm1-1h2v2h-2zm0 1h2v2h-2zm1-1h2v2h-2zm0 2h2v2h-2zm1-1h2v2h-2zm0 4h2v2h-2zm0 1h2v2h-2zm1-4h2v2h-2zm0 2h2v2h-2zm1-7h2v2h-2zm0 2h2v2h-2zm0 1h2v2h-2zm0 2h2v2h-2zm1-7h2v2h-2zm0 1h2v2h-2zm0 5h2v2h-2zm0 0h2v2h-2zm0 3h2v2h-2zm1-4h2v2h-2zm0 1h2v2h-2zm0 4h2v2h-2zm1-8h2v2h-2zm0 7h2v2h-2zm1-7h2v2h-2zm0 0h2v2h-2zm0 1h2v2h-2zm0 2h2v2h-2zm0 1h2v2h-2zm0 0h2v2h-2zm1-2h2v2h-2zm0 1h2v2h-2zm0 1h2v2h-2zm0 1h2v2h-2zm0 1h2v2h-2zm1-6h2v2h-2zm0 2h2v2h-2zm2-3h2v2h-2zm0 2h2v2h-2zm0 1h2v2h-2zm0 0h2v2h-2zm0 1h2v2h-2zm0 1h2v2h-2zm0 14h2v2h-2zm1-17h2v2h-2zm0 0h2v2h-2zm0 2h2v2h-2zm1 3h2v2h-2zm1-3h2v2h-2zm1-1h2v2h-2zm0 4h2v2h-2zm0 1h2v2h-2zm1-7h2v2h-2zm1 3h2v2h-2zm0 2h2v2h-2zm1-6h2v2h-2zm0 2h2v2h-2zm0 2h2v2h-2zm1-5h2v2h-2zm0 4h2v2h-2zm0 4h2v2h-2zm1-5h2v2h-2zm0 2h2v2h-2zm0 1h2v2h-2zm1-1h2v2h-2zm0 3h2v2h-2zm1-6h2v2h-2zm0 1h2v2h-2zm0 1h2v2h-2zm0 2h2v2h-2zm0 1h2v2h-2zm1-4h2v2h-2zm0 2h2v2h-2zm1-1h2v2h-2zm0 2h2v2h-2zm0 1h2v2h-2zm0 2h2v2h-2zm0 1h2v2h-2zm2-7h2v2h-2zm0 1h2v2h-2zm0 2h2v2h-2zm0 1h2v2h-2zm1-2h2v2h-2zm0 5h2v2h-2zm1-4h2v2h-2zm0 3h2v2h-2zm1-7h2v2h-2zm0 3h2v2h-2zm0 0h2v2h-2zm0 1h2v2h-2zm0 3h2v2h-2zm1-4h2v2h-2zm0 1h2v2h-2zm0 1h2v2h-2zm1-4h2v2h-2zm0 4h2v2h-2zm0 1h2v2h-2zm1-8h2v2h-2zm0 4h2v2h-2zm0 0h2v2h-2zm1-4h2v2h-2zm0 2h2v2h-2zm0 0h2v2h-2zm0 1h2v2h-2zm0 3h2v2h-2zm1-2h2v2h-2zm0 2h2v2h-2zm0 7h2v2h-2zm1-12h2v2h-2zm0 1h2v2h-2zm0 1h2v2h-2zm1 0h2v2h-2zm0 3h2v2h-2zm0 2h2v2h-2zm1-5h2v2h-2zm36-8h2v2h-2zm0 6h2v2h-2zm0 2h2v2h-2zm0 1h2v2h-2zm1-6h2v2h-2zm0 3h2v2h-2zm0 1h2v2h-2zm1-4h2v2h-2zm0 2h2v2h-2zm0 2h2v2h-2zm0 0h2v2h-2zm0 2h2v2h-2zm1-1h2v2h-2zm1-10h2v2h-2zm1 7h2v2h-2zm0 2h2v2h-2zm0 0h2v2h-2zm1-5h2v2h-2zm0 3h2v2h-2zm1 0h2v2h-2zm0 2h2v2h-2zm0 0h2v2h-2zm0 1h2v2h-2zm1-1h2v2h-2zm1-4h2v2h-2zm0 3h2v2h-2zm0 2h2v2h-2zm0 1h2v2h-2zm1-6h2v2h-2zm0 2h2v2h-2zm1-2h2v2h-2zm0 2h2v2h-2zm1-2h2v2h-2zm0 1h2v2h-2zm0 1h2v2h-2zm0 1h2v2h-2zm0 1h2v2h-2zm0 1h2v2h-2zm2-6h2v2h-2zm0 3h2v2h-2zm0 1h2v2h-2zm1 0h2v2h-2zm0 1h2v2h-2zm0 2h2v2h-2zm0 1h2v2h-2zm1-3h2v2h-2zm0 2h2v2h-2zm1-7h2v2h-2zm0 4h2v2h-2zm0 1h2v2h-2zm0 2h2v2h-2zm1-3h2v2h-2zm0 0h2v2h-2zm0 3h2v2h-2zm0 1h2v2h-2zm16-10h2v2h-2zm0 8h2v2h-2zm0 3h2v2h-2zm0 9h2v2h-2zm1-14h2v2h-2zm0 3h2v2h-2zm1 1h2v2h-2zm0 1h2v2h-2zm1-4h2v2h-2zm0 3h2v2h-2zm0 2h2v2h-2zm0 1h2v2h-2zm1-1h2v2h-2zm0 1h2v2h-2zm1-6h2v2h-2zm0 1h2v2h-2zm0 4h2v2h-2zm0 2h2v2h-2zm1-5h2v2h-2zm1 2h2v2h-2zm0 1h2v2h-2zm0 1h2v2h-2zm1-3h2v2h-2zm0 4h2v2h-2zm1-8h2v2h-2zm0 7h2v2h-2zm0 5h2v2h-2zm1-13h2v2h-2zm0 0h2v2h-2zm0 1h2v2h-2zm0 4h2v2h-2zm0 1h2v2h-2zm0 2h2v2h-2zm1-4h2v2h-2zm1-3h2v2h-2zm0 1h2v2h-2zm0 1h2v2h-2zm1 0h2v2h-2zm1-3h2v2h-2zm0 7h2v2h-2zm1-2h2v2h-2zm0 0h2v2h-2zm0 1h2v2h-2zm1-3h2v2h-2zm0 3h2v2h-2zm0 0h2v2h-2zm1-5h2v2h-2zm0 2h2v2h-2zm0 3h2v2h-2zm1-6h2v2h-2zm0 1h2v2h-2zm0 4h2v2h-2zm2-5h2v2h-2zm1 5h2v2h-2zm0 1h2v2h-2zm1-6h2v2h-2zm0 2h2v2h-2zm0 2h2v2h-2zm0 1h2v2h-2zm0 1h2v2h-2zm0 0h2v2h-2zm0 1h2v2h-2zm1-5h2v2h-2zm0 3h2v2h-2zm0 1h2v2h-2zm0 1h2v2h-2zm1-10h2v2h-2zm0 7h2v2h-2zm0 2h2v2h-2zm0 1h2v2h-2zm0 2h2v2h-2zm1-9h2v2h-2zm0 4h2v2h-2zm1-3h2v2h-2zm0 3h2v2h-2zm0 2h2v2h-2zm0 1h2v2h-2zm0 0h2v2h-2zm3-6h2v2h-2zm0 1h2v2h-2zm0 3h2v2h-2zm0 0h2v2h-2zm1-6h2v2h-2zm0 7h2v2h-2zm0 2h2v2h-2zm1-6h2v2h-2zm0 1h2v2h-2zm0 0h2v2h-2zm0 1h2v2h-2zm0 0h2v2h-2zm0 1h2v2h-2zm1-6h2v2h-2zm0 1h2v2h-2zm1-1h2v2h-2zm0 2h2v2h-2zm0 3h2v2h-2zm0 11h2v2h-2zm1-15h2v2h-2zm1-8h2v2h-2zm0 11h2v2h-2zm0 4h2v2h-2zm0 5h2v2h-2zm1-11h2v2h-2zm0 3h2v2h-2zm0 2h2v2h-2zm0 1h2v2h-2zm1-2h2v2h-2zm0 0h2v2h-2zm0 2h2v2h-2zm1-6h2v2h-2zm0 4h2v2h-2zm0 1h2v2h-2zm1-3h2v2h-2zm0 0h2v2h-2zm0 1h2v2h-2zm0 1h2v2h-2zm1-3h2v2h-2zm0 1h2v2h-2zm0 0h2v2h-2zm0 4h2v2h-2zm1-5h2v2h-2zm1-3h2v2h-2zm0 2h2v2h-2zm0 2h2v2h-2zm0 1h2v2h-2zm1-1h2v2h-2zm1 2h2v2h-2zm1-2h2v2h-2zm1 0h2v2h-2zm0 2h2v2h-2zm1 0h2v2h-2zm0 1h2v2h-2zm1-4h2v2h-2zm0 3h2v2h-2zm0 0h2v2h-2zm1-2h2v2h-2zm0 2h2v2h-2zm1-3h2v2h-2zm0 1h2v2h-2zm0 4h2v2h-2zm1-1h2v2h-2zm1-6h2v2h-2zm0 2h2v2h-2zm0 1h2v2h-2zm0 5h2v2h-2zm1-6h2v2h-2zm0 8h2v2h-2zm1-8h2v2h-2zm0 1h2v2h-2zm0 2h2v2h-2zm1-1h2v2h-2zm0 1h2v2h-2zm0 0h2v2h-2zm0 1h2v2h-2zm1-4h2v2h-2zm0 5h2v2h-2zm1-8h2v2h-2zm0 3h2v2h-2zm0 5h2v2h-2zm0 1h2v2h-2zm0 1h2v2h-2zm0 2h2v2h-2zm1-11h2v2h-2zm0 1h2v2h-2zm0 1h2v2h-2zm1 2h2v2h-2zm0 0h2v2h-2zm1-4h2v2h-2zm0 4h2v2h-2zm0 0h2v2h-2zm0 1h2v2h-2zm0 8h2v2h-2zm1-8h2v2h-2zm0 3h2v2h-2zm1-13h2v2h-2zm0 8h2v2h-2zm0 6h2v2h-2zm1-6h2v2h-2zm0 1h2v2h-2zm1-4h2v2h-2zm0 5h2v2h-2zm1 2h2v2h-2zm119-4h2v2h-2zm0 1h2v2h-2zm0 1h2v2h-2zm0 1h2v2h-2zm0 0h2v2h-2zm1-1h2v2h-2zm0 2h2v2h-2zm0 4h2v2h-2zm1-7h2v2h-2zm0 1h2v2h-2zm0 1h2v2h-2zm0 5h2v2h-2zm1-10h2v2h-2zm1 2h2v2h-2zm0 1h2v2h-2zm0 0h2v2h-2zm0 8h2v2h-2zm1-8h2v2h-2zm0 2h2v2h-2zm1-5h2v2h-2zm0 3h2v2h-2zm0 0h2v2h-2zm1-1h2v2h-2zm0 4h2v2h-2zm0 0h2v2h-2zm0 1h2v2h-2zm1-4h2v2h-2zm1-8h2v2h-2zm1 9h2v2h-2zm0 0h2v2h-2zm0 3h2v2h-2zm0 1h2v2h-2zm1-7h2v2h-2zm0 6h2v2h-2zm0 4h2v2h-2zm1-8h2v2h-2zm0 0h2v2h-2zm0 0h2v2h-2zm1-1h2v2h-2zm0 3h2v2h-2zm1-4h2v2h-2zm0 0h2v2h-2zm0 3h2v2h-2zm0 4h2v2h-2zm1-5h2v2h-2zm0 2h2v2h-2zm0 4h2v2h-2zm1-9h2v2h-2zm0 0h2v2h-2zm0 2h2v2h-2zm0 3h2v2h-2zm0 2h2v2h-2zm0 5h2v2h-2zm1-7h2v2h-2zm1-3h2v2h-2zm0 1h2v2h-2zm0 1h2v2h-2zm0 0h2v2h-2zm0 7h2v2h-2zm2-4h2v2h-2zm1-6h2v2h-2zm0 2h2v2h-2zm0 3h2v2h-2zm1-4h2v2h-2zm0 1h2v2h-2zm1-3h2v2h-2zm0 3h2v2h-2zm0 1h2v2h-2zm0 2h2v2h-2zm0 1h2v2h-2zm1-5h2v2h-2zm1 2h2v2h-2zm0 0h2v2h-2zm1 1h2v2h-2zm0 2h2v2h-2zm0 0h2v2h-2zm1-3h2v2h-2zm0 6h2v2h-2zm1-7h2v2h-2zm0 2h2v2h-2zm0 3h2v2h-2zm1-2h2v2h-2zm1-4h2v2h-2zm2-2h2v2h-2zm0 5h2v2h-2zm0 3h2v2h-2zm1-6h2v2h-2zm0 0h2v2h-2zm0 6h2v2h-2zm0 0h2v2h-2zm1 0h2v2h-2zm1-6h2v2h-2zm0 1h2v2h-2zm1-3h2v2h-2zm0 3h2v2h-2zm0 1h2v2h-2zm0 2h2v2h-2zm1-6h2v2h-2zm0 2h2v2h-2zm0 3h2v2h-2zm1-1h2v2h-2zm0 0h2v2h-2zm0 2h2v2h-2zm1-4h2v2h-2zm0 3h2v2h-2zm1-4h2v2h-2zm0 1h2v2h-2zm0 3h2v2h-2zm1-1h2v2h-2zm1-3h2v2h-2zm0 1h2v2h-2zm0 1h2v2h-2zm0 3h2v2h-2zm0 1h2v2h-2zm1-10h2v2h-2zm0 3h2v2h-2zm0 2h2v2h-2zm0 4h2v2h-2zm0 2h2v2h-2zm1-1h2v2h-2zm1-7h2v2h-2zm0 2h2v2h-2zm0 1h2v2h-2zm1 0h2v2h-2zm0 1h2v2h-2zm0 0h2v2h-2zm1-4h2v2h-2zm0 2h2v2h-2zm0 2h2v2h-2zm0 0h2v2h-2zm0 5h2v2h-2zm1-5h2v2h-2zm0 4h2v2h-2zm1-10h2v2h-2zm0 6h2v2h-2zm0 4h2v2h-2zm1-5h2v2h-2zm0 1h2v2h-2zm0 3h2v2h-2zm0 0h2v2h-2zm0 1h2v2h-2zm0 1h2v2h-2zm1-9h2v2h-2zm0 6h2v2h-2zm0 6h2v2h-2zm1-8h2v2h-2zm0 2h2v2h-2zm0 1h2v2h-2zm0 7h2v2h-2zm1-16h2v2h-2zm0 4h2v2h-2zm1-3h2v2h-2zm0 5h2v2h-2zm1-4h2v2h-2zm0 4h2v2h-2zm0 0h2v2h-2zm1 0h2v2h-2zm0 2h2v2h-2zm0 1h2v2h-2zm1-5h2v2h-2zm0 2h2v2h-2zm1-2h2v2h-2zm0 1h2v2h-2zm1 1h2v2h-2zm0 3h2v2h-2zm0 0h2v2h-2zm0 2h2v2h-2zm1-10h2v2h-2zm0 3h2v2h-2zm0 2h2v2h-2zm1-7h2v2h-2zm0 4h2v2h-2zm0 3h2v2h-2zm0 4h2v2h-2zm0 0h2v2h-2zm0 0h2v2h-2zm1-9h2v2h-2zm0 3h2v2h-2zm0 1h2v2h-2zm0 1h2v2h-2zm0 6h2v2h-2zm1-6h2v2h-2zm0 5h2v2h-2zm1-6h2v2h-2zm0 4h2v2h-2zm1-7h2v2h-2zm0 7h2v2h-2zm1-5h2v2h-2zm0 2h2v2h-2zm0 0h2v2h-2zm0 0h2v2h-2zm0 0h2v2h-2zm0 4h2v2h-2zm1-6h2v2h-2zm0 3h2v2h-2zm0 0h2v2h-2zm0 1h2v2h-2zm0 1h2v2h-2zm1-5h2v2h-2zm0 2h2v2h-2zm0 1h2v2h-2zm0 1h2v2h-2zm0 4h2v2h-2zm1-9h2v2h-2zm0 9h2v2h-2zm1-10h2v2h-2zm0 2h2v2h-2zm1 0h2v2h-2zm0 2h2v2h-2zm0 2h2v2h-2zm1-3h2v2h-2zm0 2h2v2h-2zm1 0h2v2h-2zm1-5h2v2h-2zm0 3h2v2h-2zm1-1h2v2h-2zm0 1h2v2h-2zm1-2h2v2h-2zm0 4h2v2h-2zm0 0h2v2h-2zm0 1h2v2h-2zm1-7h2v2h-2zm0 2h2v2h-2zm1-1h2v2h-2zm0 2h2v2h-2zm0 1h2v2h-2zm1-2h2v2h-2zm0 2h2v2h-2zm0 0h2v2h-2zm0 4h2v2h-2zm0 0h2v2h-2zm1-4h2v2h-2zm0 0h2v2h-2zm0 2h2v2h-2zm0 2h2v2h-2zm0 0h2v2h-2zm1-7h2v2h-2zm0 4h2v2h-2zm0 5h2v2h-2zm0 1h2v2h-2zm1-3h2v2h-2zm0 2h2v2h-2zm1-6h2v2h-2zm0 2h2v2h-2zm0 1h2v2h-2zm1-4h2v2h-2zm0 2h2v2h-2zm0 0h2v2h-2zm1 1h2v2h-2zm1-6h2v2h-2zm1 3h2v2h-2zm0 1h2v2h-2zm0 2h2v2h-2zm1-1h2v2h-2zm0 1h2v2h-2zm0 0h2v2h-2zm1-1h2v2h-2zm1-1h2v2h-2zm0 4h2v2h-2zm1-7h2v2h-2zm0 3h2v2h-2zm0 1h2v2h-2zm0 2h2v2h-2zm0 2h2v2h-2zm1-11h2v2h-2zm0 5h2v2h-2zm0 1h2v2h-2zm1-4h2v2h-2zm0 3h2v2h-2zm0 3h2v2h-2zm1-1h2v2h-2zm0 0h2v2h-2zm0 1h2v2h-2zm1-5h2v2h-2zm1 0h2v2h-2zm0 1h2v2h-2zm0 5h2v2h-2zm0 1h2v2h-2zm1-4h2v2h-2zm0 2h2v2h-2zm0 1h2v2h-2zm1-2h2v2h-2zm1 2h2v2h-2zm0 4h2v2h-2zm1-8h2v2h-2zm0 3h2v2h-2zm0 3h2v2h-2zm1-3h2v2h-2zm1 0h2v2h-2zm1 1h2v2h-2zm1 0h2v2h-2zm0 1h2v2h-2zm0 2h2v2h-2zm0 1h2v2h-2zm1-9h2v2h-2zm0 8h2v2h-2zm1-8h2v2h-2zm0 2h2v2h-2zm1 1h2v2h-2zm0 3h2v2h-2zm1-5h2v2h-2zm0 1h2v2h-2zm0 0h2v2h-2zm0 2h2v2h-2zm0 2h2v2h-2zm1-4h2v2h-2zm0 3h2v2h-2zm0 3h2v2h-2zm1-9h2v2h-2zm0 4h2v2h-2zm0 1h2v2h-2zm158-2h2v2h-2zm0 1h2v2h-2zm0 0h2v2h-2zm0 1h2v2h-2zm1-3h2v2h-2zm0 8h2v2h-2zm1-9h2v2h-2zm0 3h2v2h-2zm1-6h2v2h-2zm0 4h2v2h-2zm0 1h2v2h-2zm0 1h2v2h-2zm0 0h2v2h-2zm0 3h2v2h-2zm1-4h2v2h-2zm0 1h2v2h-2zm0 1h2v2h-2zm0 0h2v2h-2zm0 3h2v2h-2zm1-5h2v2h-2zm0 0h2v2h-2zm0 5h2v2h-2zm1-6h2v2h-2zm0 4h2v2h-2zm0 1h2v2h-2zm1-9h2v2h-2zm0 1h2v2h-2zm0 6h2v2h-2zm1-3h2v2h-2zm0 2h2v2h-2zm0 3h2v2h-2zm1-1h2v2h-2zm0 0h2v2h-2zm1-4h2v2h-2zm0 4h2v2h-2zm0 1h2v2h-2zm1-4h2v2h-2zm0 0h2v2h-2zm0 2h2v2h-2zm0 2h2v2h-2zm1-4h2v2h-2zm0 5h2v2h-2zm1-10h2v2h-2zm0 3h2v2h-2zm0 1h2v2h-2zm0 1h2v2h-2zm1-1h2v2h-2zm0 6h2v2h-2zm0 1h2v2h-2zm1-8h2v2h-2zm0 1h2v2h-2zm0 1h2v2h-2zm0 2h2v2h-2zm1-3h2v2h-2zm1-2h2v2h-2zm0 0h2v2h-2zm0 4h2v2h-2zm0 0h2v2h-2zm0 1h2v2h-2zm1-3h2v2h-2zm0 6h2v2h-2zm1-5h2v2h-2zm0 0h2v2h-2zm0 1h2v2h-2zm0 0h2v2h-2zm1-6h2v2h-2zm0 4h2v2h-2zm0 2h2v2h-2zm1-2h2v2h-2zm0 4h2v2h-2zm0 1h2v2h-2zm1-9h2v2h-2zm0 4h2v2h-2zm0 3h2v2h-2zm1-4h2v2h-2zm0 3h2v2h-2zm2-7h2v2h-2zm0 1h2v2h-2zm0 4h2v2h-2zm0 0h2v2h-2zm1 2h2v2h-2zm1 1h2v2h-2zm0 4h2v2h-2zm2-9h2v2h-2zm0 3h2v2h-2zm0 0h2v2h-2zm0 0h2v2h-2zm0 1h2v2h-2zm0 1h2v2h-2zm1-1h2v2h-2zm21-2h2v2h-2zm0 2h2v2h-2zm1-1h2v2h-2zm0 2h2v2h-2zm1-6h2v2h-2zm0 5h2v2h-2zm0 1h2v2h-2zm0 1h2v2h-2zm1-5h2v2h-2zm1 1h2v2h-2zm0 7h2v2h-2zm1-6h2v2h-2zm0 2h2v2h-2zm0 0h2v2h-2zm0 3h2v2h-2zm1-7h2v2h-2zm0 2h2v2h-2zm0 0h2v2h-2zm1-1h2v2h-2zm0 3h2v2h-2zm1-1h2v2h-2zm0 3h2v2h-2zm0 1h2v2h-2zm1-6h2v2h-2zm0 1h2v2h-2zm0 1h2v2h-2zm0 0h2v2h-2zm0 3h2v2h-2zm1-6h2v2h-2zm0 2h2v2h-2zm1-4h2v2h-2zm0 1h2v2h-2zm0 0h2v2h-2zm0 6h2v2h-2zm1-10h2v2h-2zm0 7h2v2h-2zm2-2h2v2h-2zm0 1h2v2h-2zm0 3h2v2h-2zm0 1h2v2h-2zm0 1h2v2h-2zm1-8h2v2h-2zm0 6h2v2h-2zm0 3h2v2h-2zm1-9h2v2h-2zm0 2h2v2h-2zm0 2h2v2h-2zm1-9h2v2h-2zm42 9h2v2h-2zm0 3h2v2h-2zm1-5h2v2h-2zm0 1h2v2h-2zm0 3h2v2h-2zm0 0h2v2h-2zm1-1h2v2h-2zm1-5h2v2h-2zm0 4h2v2h-2zm0 0h2v2h-2zm1-3h2v2h-2zm0 2h2v2h-2zm0 1h2v2h-2zm0 1h2v2h-2zm0 1h2v2h-2zm1-5h2v2h-2zm0 4h2v2h-2zm1-4h2v2h-2zm0 4h2v2h-2zm0 3h2v2h-2zm0 0h2v2h-2zm1-4h2v2h-2zm0 7h2v2h-2zm1-6h2v2h-2zm0 1h2v2h-2zm0 3h2v2h-2zm1 1h2v2h-2zm1-5h2v2h-2zm0 0h2v2h-2zm0 0h2v2h-2zm1-2h2v2h-2zm0 3h2v2h-2zm1-3h2v2h-2zm0 2h2v2h-2zm0 0h2v2h-2zm0 3h2v2h-2zm1-7h2v2h-2zm0 4h2v2h-2zm0 1h2v2h-2zm1-4h2v2h-2zm0 1h2v2h-2zm0 1h2v2h-2zm1 0h2v2h-2zm0 1h2v2h-2zm0 0h2v2h-2zm0 2h2v2h-2zm0 1h2v2h-2zm1-5h2v2h-2zm0 1h2v2h-2zm1-4h2v2h-2zm0 3h2v2h-2zm1 1h2v2h-2zm0 3h2v2h-2zm1-8h2v2h-2zm0 4h2v2h-2zm0 0h2v2h-2zm2-12h2v2h-2zm0 11h2v2h-2zm0 2h2v2h-2zm0 2h2v2h-2zm0 1h2v2h-2zm1-9h2v2h-2zm1 3h2v2h-2zm0 3h2v2h-2zm0 2h2v2h-2zm1-7h2v2h-2zm1 0h2v2h-2zm0 0h2v2h-2zm0 4h2v2h-2zm0 1h2v2h-2zm1-4h2v2h-2zm0 10h2v2h-2zm1-6h2v2h-2zm0 3h2v2h-2zm1-4h2v2h-2zm0 0h2v2h-2zm0 2h2v2h-2zm1 1h2v2h-2zm0 3h2v2h-2zm1-6h2v2h-2zm0 2h2v2h-2zm0 1h2v2h-2zm0 0h2v2h-2zm0 1h2v2h-2zm1-4h2v2h-2zm0 2h2v2h-2zm0 1h2v2h-2zm1-4h2v2h-2zm0 1h2v2h-2zm0 3h2v2h-2zm0 4h2v2h-2zm0 1h2v2h-2zm53-3h2v2h-2zm0 5h2v2h-2zm1-8h2v2h-2zm0 4h2v2h-2zm0 1h2v2h-2zm0 1h2v2h-2zm1-6h2v2h-2zm0 1h2v2h-2zm1 0h2v2h-2zm0 0h2v2h-2zm1-2h2v2h-2zm0 1h2v2h-2zm0 0h2v2h-2zm0 1h2v2h-2zm0 0h2v2h-2zm0 2h2v2h-2zm1-5h2v2h-2zm0 2h2v2h-2zm1-4h2v2h-2zm0 2h2v2h-2zm0 1h2v2h-2zm1-3h2v2h-2zm0 1h2v2h-2zm0 2h2v2h-2zm1-4h2v2h-2zm0 3h2v2h-2zm0 1h2v2h-2zm0 0h2v2h-2zm0 1h2v2h-2z"/>
<path fill="#2d5ea9" shape-rendering="crispEdges" d="M520 1211h2v2h-2zm0 2h2v2h-2zm0 5h2v2h-2zm1-9h2v2h-2zm0 1h2v2h-2zm0 1h2v2h-2zm1-6h2v2h-2zm0 7h2v2h-2zm1-9h2v2h-2zm0 6h2v2h-2zm0 1h2v2h-2zm1-3h2v2h-2zm0 5h2v2h-2zm1-8h2v2h-2zm0 5h2v2h-2zm0 1h2v2h-2zm1-9h2v2h-2zm1 4h2v2h-2zm0 2h2v2h-2zm0 0h2v2h-2zm0 2h2v2h-2zm0 1h2v2h-2zm1-4h2v2h-2zm2 1h2v2h-2zm0 4h2v2h-2zm0 0h2v2h-2zm0 1h2v2h-2zm1-11h2v2h-2zm0 3h2v2h-2zm0 5h2v2h-2zm0 0h2v2h-2zm0 2h2v2h-2zm0 0h2v2h-2zm0 1h2v2h-2zm0 1h2v2h-2zm1-10h2v2h-2zm0 2h2v2h-2zm0 3h2v2h-2zm0 2h2v2h-2zm0 0h2v2h-2zm0 2h2v2h-2zm2-3h2v2h-2zm0 2h2v2h-2zm2-4h2v2h-2zm0 7h2v2h-2zm1-7h2v2h-2zm0 2h2v2h-2zm0 1h2v2h-2zm0 1h2v2h-2zm1-8h2v2h-2zm0 4h2v2h-2zm0 1h2v2h-2zm0 1h2v2h-2zm1-3h2v2h-2zm0 1h2v2h-2zm0 2h2v2h-2zm0 7h2v2h-2zm1-8h2v2h-2zm0 0h2v2h-2zm0 2h2v2h-2zm1-1h2v2h-2zm1 1h2v2h-2zm0 2h2v2h-2zm1-6h2v2h-2zm0 1h2v2h-2zm0 3h2v2h-2zm0 0h2v2h-2zm0 1h2v2h-2zm0 2h2v2h-2zm1-7h2v2h-2zm0 2h2v2h-2zm0 3h2v2h-2zm0 0h2v2h-2zm1-3h2v2h-2zm0 2h2v2h-2zm1-4h2v2h-2zm0 5h2v2h-2zm1-3h2v2h-2zm0 0h2v2h-2zm0 3h2v2h-2zm2-9h2v2h-2zm0 7h2v2h-2zm1-6h2v2h-2zm0 3h2v2h-2zm0 3h2v2h-2zm0 2h2v2h-2zm1-4h2v2h-2zm1 2h2v2h-2zm0 0h2v2h-2zm0 5h2v2h-2zm1-9h2v2h-2zm0 5h2v2h-2zm1-4h2v2h-2zm1 3h2v2h-2zm0 1h2v2h-2zm1 1h2v2h-2zm1-5h2v2h-2zm0 3h2v2h-2zm0 1h2v2h-2zm0 3h2v2h-2zm1-4h2v2h-2zm1 3h2v2h-2zm0 6h2v2h-2zm1-11h2v2h-2zm0 0h2v2h-2zm0 4h2v2h-2zm0 2h2v2h-2zm1-6h2v2h-2zm0 2h2v2h-2zm0 0h2v2h-2zm1-2h2v2h-2zm0 6h2v2h-2zm0 0h2v2h-2zm0 0h2v2h-2zm1-1h2v2h-2zm1-7h2v2h-2zm0 1h2v2h-2zm0 3h2v2h-2zm0 1h2v2h-2zm2-3h2v2h-2zm0 0h2v2h-2zm0 1h2v2h-2zm0 1h2v2h-2zm0 2h2v2h-2zm0 5h2v2h-2zm1-8h2v2h-2zm0 1h2v2h-2zm0 1h2v2h-2zm0 1h2v2h-2zm0 0h2v2h-2zm0 0h2v2h-2zm1-5h2v2h-2zm0 8h2v2h-2zm1-6h2v2h-2zm0 3h2v2h-2zm1-1h2v2h-2zm0 1h2v2h-2zm3-4h2v2h-2zm0 2h2v2h-2zm1-2h2v2h-2zm1 6h2v2h-2zm0 1h2v2h-2zm0 2h2v2h-2zm1-7h2v2h-2zm0 0h2v2h-2zm0 1h2v2h-2zm0 2h2v2h-2zm0 1h2v2h-2zm0 1h2v2h-2zm1-9h2v2h-2zm0 2h2v2h-2zm0 2h2v2h-2zm0 0h2v2h-2zm0 3h2v2h-2zm0 1h2v2h-2zm1-7h2v2h-2zm0 2h2v2h-2zm0 1h2v2h-2zm0 1h2v2h-2zm0 1h2v2h-2zm0 0h2v2h-2zm2-8h2v2h-2zm0 6h2v2h-2zm0 5h2v2h-2zm1-8h2v2h-2zm0 0h2v2h-2zm0 1h2v2h-2zm0 2h2v2h-2zm0 1h2v2h-2zm1-6h2v2h-2zm0 9h2v2h-2zm1-10h2v2h-2zm0 5h2v2h-2zm0 2h2v2h-2zm1 1h2v2h-2zm0 1h2v2h-2zm1-4h2v2h-2zm0 0h2v2h-2zm0 5h2v2h-2zm0 1h2v2h-2zm1-5h2v2h-2zm0 2h2v2h-2zm0 1h2v2h-2zm0 1h2v2h-2zm1-8h2v2h-2zm0 6h2v2h-2zm1-2h2v2h-2zm0 1h2v2h-2zm1-4h2v2h-2zm0 2h2v2h-2zm0 5h2v2h-2zm0 0h2v2h-2zm1-4h2v2h-2zm0 2h2v2h-2zm1-2h2v2h-2zm0 2h2v2h-2zm1-3h2v2h-2zm0 4h2v2h-2zm0 0h2v2h-2zm1 1h2v2h-2zm0 3h2v2h-2zm1-12h2v2h-2zm0 6h2v2h-2zm0 3h2v2h-2zm1-8h2v2h-2zm0 3h2v2h-2zm0 2h2v2h-2zm1 1h2v2h-2zm0 0h2v2h-2zm1-4h2v2h-2zm0 4h2v2h-2zm0 2h2v2h-2zm1-7h2v2h-2zm1 0h2v2h-2zm0 4h2v2h-2zm0 0h2v2h-2zm1-2h2v2h-2zm0 1h2v2h-2zm0 4h2v2h-2zm1-4h2v2h-2zm0 4h2v2h-2zm0 0h2v2h-2zm1-5h2v2h-2zm0 4h2v2h-2zm0 0h2v2h-2zm1-9h2v2h-2zm0 2h2v2h-2zm0 3h2v2h-2zm0 1h2v2h-2zm0 1h2v2h-2zm0 2h2v2h-2zm1-4h2v2h-2zm0 1h2v2h-2zm0 1h2v2h-2zm0 0h2v2h-2zm0 0h2v2h-2zm0 2h2v2h-2zm1 0h2v2h-2zm0 1h2v2h-2zm1-7h2v2h-2zm0 3h2v2h-2zm1-11h2v2h-2zm0 11h2v2h-2zm0 1h2v2h-2zm1-2h2v2h-2zm1 1h2v2h-2zm0 3h2v2h-2zm0 0h2v2h-2zm1-1h2v2h-2zm0 2h2v2h-2zm1-6h2v2h-2zm0 2h2v2h-2zm0 0h2v2h-2zm0 3h2v2h-2zm1-4h2v2h-2zm0 2h2v2h-2zm0 1h2v2h-2zm0 1h2v2h-2zm1-6h2v2h-2zm0 6h2v2h-2zm1-3h2v2h-2zm0 0h2v2h-2zm0 0h2v2h-2zm0 4h2v2h-2zm1-5h2v2h-2zm0 2h2v2h-2zm0 0h2v2h-2zm1-5h2v2h-2zm1 1h2v2h-2zm0 12h2v2h-2zm1-12h2v2h-2zm0 3h2v2h-2zm0 9h2v2h-2zm1-10h2v2h-2zm0 2h2v2h-2zm0 4h2v2h-2zm1-12h2v2h-2zm0 8h2v2h-2zm0 1h2v2h-2zm0 0h2v2h-2zm1-3h2v2h-2zm86-5h2v2h-2zm0 4h2v2h-2zm1 1h2v2h-2zm0 5h2v2h-2zm1-8h2v2h-2zm0 2h2v2h-2zm1 2h2v2h-2zm1-3h2v2h-2zm0 0h2v2h-2zm0 0h2v2h-2zm0 3h2v2h-2zm0 1h2v2h-2zm1-6h2v2h-2zm0 1h2v2h-2zm0 5h2v2h-2zm1-5h2v2h-2zm0 3h2v2h-2zm0 4h2v2h-2zm0 1h2v2h-2zm1-11h2v2h-2zm0 3h2v2h-2zm142 1h2v2h-2zm0 2h2v2h-2zm0 2h2v2h-2zm0 2h2v2h-2zm2-5h2v2h-2zm0 2h2v2h-2zm0 1h2v2h-2zm0 0h2v2h-2zm1-4h2v2h-2zm0 0h2v2h-2zm0 2h2v2h-2zm0 1h2v2h-2zm1-5h2v2h-2zm0 2h2v2h-2zm0 3h2v2h-2zm1-3h2v2h-2zm1 3h2v2h-2zm0 1h2v2h-2zm1-7h2v2h-2zm1 5h2v2h-2zm0 4h2v2h-2zm0 3h2v2h-2zm1-6h2v2h-2zm0 1h2v2h-2zm0 4h2v2h-2zm0 0h2v2h-2zm1-7h2v2h-2zm0 5h2v2h-2zm0 0h2v2h-2zm1-2h2v2h-2zm0 3h2v2h-2zm1-6h2v2h-2zm0 3h2v2h-2zm0 1h2v2h-2zm1-5h2v2h-2zm0 1h2v2h-2zm0 3h2v2h-2zm0 0h2v2h-2zm0 2h2v2h-2zm1-5h2v2h-2zm0 4h2v2h-2zm0 0h2v2h-2zm1-5h2v2h-2zm0 1h2v2h-2zm0 2h2v2h-2zm0 2h2v2h-2zm0 2h2v2h-2zm1 1h2v2h-2zm1-11h2v2h-2zm0 4h2v2h-2zm0 4h2v2h-2zm0 0h2v2h-2zm1-4h2v2h-2zm1 2h2v2h-2zm0 2h2v2h-2zm1-4h2v2h-2zm0 1h2v2h-2zm0 1h2v2h-2zm0 2h2v2h-2zm1-5h2v2h-2zm1-1h2v2h-2zm0 5h2v2h-2zm0 3h2v2h-2zm1-9h2v2h-2zm0 3h2v2h-2zm0 1h2v2h-2zm0 2h2v2h-2zm0 0h2v2h-2zm0 0h2v2h-2zm0 1h2v2h-2zm0 2h2v2h-2zm0 1h2v2h-2zm1-6h2v2h-2zm0 0h2v2h-2zm1 0h2v2h-2zm0 1h2v2h-2zm0 2h2v2h-2zm1-6h2v2h-2zm0 1h2v2h-2zm0 5h2v2h-2zm1-3h2v2h-2zm0 1h2v2h-2zm2 0h2v2h-2zm0 4h2v2h-2zm0 2h2v2h-2zm1-7h2v2h-2zm0 1h2v2h-2zm0 2h2v2h-2zm1-3h2v2h-2zm0 0h2v2h-2zm1-2h2v2h-2zm0 1h2v2h-2zm0 8h2v2h-2zm1-11h2v2h-2zm0 2h2v2h-2zm0 2h2v2h-2zm0 1h2v2h-2zm1-3h2v2h-2zm0 4h2v2h-2zm20-9h2v2h-2zm1 4h2v2h-2zm0 6h2v2h-2zm1 0h2v2h-2zm0 2h2v2h-2zm1-6h2v2h-2zm0 2h2v2h-2zm1-8h2v2h-2zm0 6h2v2h-2zm0 0h2v2h-2zm0 3h2v2h-2zm0 5h2v2h-2zm0 4h2v2h-2zm1-12h2v2h-2zm0 4h2v2h-2zm1-10h2v2h-2zm0 6h2v2h-2zm0 3h2v2h-2zm1-2h2v2h-2zm0 4h2v2h-2zm1-8h2v2h-2zm0 4h2v2h-2zm0 1h2v2h-2zm0 3h2v2h-2zm1-4h2v2h-2zm0 4h2v2h-2zm0 0h2v2h-2zm1-4h2v2h-2zm1 1h2v2h-2zm0 2h2v2h-2zm0 3h2v2h-2zm0 1h2v2h-2zm1-8h2v2h-2zm0 3h2v2h-2zm0 4h2v2h-2zm1-10h2v2h-2zm0 10h2v2h-2zm0 0h2v2h-2zm0 0h2v2h-2zm67-21h2v2h-2zm0 13h2v2h-2zm1-5h2v2h-2zm0 4h2v2h-2zm0 1h2v2h-2zm1-5h2v2h-2zm0 11h2v2h-2zm1-4h2v2h-2zm1-10h2v2h-2zm0 7h2v2h-2zm0 3h2v2h-2zm1-3h2v2h-2zm0 3h2v2h-2zm1 2h2v2h-2zm2-6h2v2h-2zm0 2h2v2h-2zm1-1h2v2h-2zm0 1h2v2h-2zm0 1h2v2h-2zm0 3h2v2h-2zm1 0h2v2h-2zm1-6h2v2h-2zm0 3h2v2h-2zm0 3h2v2h-2zm1-3h2v2h-2zm1-5h2v2h-2zm0 2h2v2h-2zm0 2h2v2h-2zm0 0h2v2h-2zm0 1h2v2h-2zm1-4h2v2h-2zm0 1h2v2h-2zm0 0h2v2h-2zm0 6h2v2h-2zm0 2h2v2h-2zm1-3h2v2h-2zm0 14h2v2h-2zm1-19h2v2h-2zm0 8h2v2h-2zm1-7h2v2h-2zm0 1h2v2h-2zm0 2h2v2h-2zm0 0h2v2h-2zm1-8h2v2h-2zm0 2h2v2h-2zm0 3h2v2h-2zm0 3h2v2h-2zm0 0h2v2h-2zm1 0h2v2h-2zm0 1h2v2h-2zm1-1h2v2h-2zm1-6h2v2h-2zm0 4h2v2h-2zm0 0h2v2h-2zm1-5h2v2h-2zm0 1h2v2h-2zm1 5h2v2h-2zm0 2h2v2h-2zm1-8h2v2h-2zm0 4h2v2h-2zm1 0h2v2h-2zm0 0h2v2h-2zm0 1h2v2h-2zm1-1h2v2h-2zm0 0h2v2h-2zm0 2h2v2h-2zm0 0h2v2h-2zm0 3h2v2h-2zm0 0h2v2h-2zm1-2h2v2h-2zm0 0h2v2h-2zm1-7h2v2h-2zm0 2h2v2h-2zm0 3h2v2h-2zm0 1h2v2h-2zm1-2h2v2h-2zm0 0h2v2h-2zm0 4h2v2h-2zm0 4h2v2h-2zm1-8h2v2h-2zm0 2h2v2h-2zm0 2h2v2h-2zm0 0h2v2h-2zm1-6h2v2h-2zm0 5h2v2h-2zm0 0h2v2h-2zm0 1h2v2h-2zm0 1h2v2h-2zm1-5h2v2h-2zm0 4h2v2h-2zm0 13h2v2h-2zm1-22h2v2h-2zm0 4h2v2h-2zm0 2h2v2h-2zm1-1h2v2h-2zm0 2h2v2h-2zm0 1h2v2h-2zm0 1h2v2h-2zm2-6h2v2h-2zm0 3h2v2h-2zm0 0h2v2h-2zm0 1h2v2h-2zm0 0h2v2h-2zm0 3h2v2h-2zm1-11h2v2h-2zm0 6h2v2h-2zm0 0h2v2h-2zm0 0h2v2h-2zm0 5h2v2h-2zm0 1h2v2h-2zm1-6h2v2h-2zm0 2h2v2h-2zm0 3h2v2h-2zm1-5h2v2h-2zm0 1h2v2h-2zm0 0h2v2h-2zm0 2h2v2h-2zm1-3h2v2h-2zm0 1h2v2h-2zm1-2h2v2h-2zm0 1h2v2h-2zm0 1h2v2h-2zm0 1h2v2h-2zm0 7h2v2h-2zm1-7h2v2h-2zm1-3h2v2h-2zm1-1h2v2h-2zm0 1h2v2h-2zm0 1h2v2h-2zm0 2h2v2h-2zm1 1h2v2h-2zm1-1h2v2h-2zm0 2h2v2h-2zm0 0h2v2h-2zm1-6h2v2h-2zm0 1h2v2h-2zm0 0h2v2h-2zm0 2h2v2h-2zm0 2h2v2h-2zm2-3h2v2h-2zm0 2h2v2h-2zm1 0h2v2h-2zm0 3h2v2h-2zm0 1h2v2h-2zm0 0h2v2h-2zm1-10h2v2h-2zm0 7h2v2h-2zm0 2h2v2h-2zm1-6h2v2h-2zm1 2h2v2h-2zm0 2h2v2h-2zm1-5h2v2h-2zm0 5h2v2h-2zm0 1h2v2h-2zm0 0h2v2h-2zm1-5h2v2h-2zm0 5h2v2h-2zm0 1h2v2h-2zm1-6h2v2h-2zm0 1h2v2h-2zm0 7h2v2h-2zm1-10h2v2h-2zm0 2h2v2h-2zm0 2h2v2h-2zm0 1h2v2h-2zm1-6h2v2h-2zm0 3h2v2h-2zm0 2h2v2h-2zm0 2h2v2h-2zm0 2h2v2h-2zm1-3h2v2h-2zm0 1h2v2h-2zm0 2h2v2h-2zm1-4h2v2h-2zm0 5h2v2h-2zm1 2h2v2h-2zm1-9h2v2h-2zm0 0h2v2h-2zm0 2h2v2h-2zm0 0h2v2h-2zm0 2h2v2h-2zm0 0h2v2h-2zm1-2h2v2h-2zm1-3h2v2h-2zm0 7h2v2h-2zm1-5h2v2h-2zm0 6h2v2h-2zm1-5h2v2h-2zm0 4h2v2h-2zm0 0h2v2h-2zm1-5h2v2h-2zm0 2h2v2h-2zm0 3h2v2h-2zm0 1h2v2h-2zm1-7h2v2h-2zm0 2h2v2h-2zm1 0h2v2h-2zm0 0h2v2h-2zm0 4h2v2h-2zm0 1h2v2h-2zm0 3h2v2h-2zm1-12h2v2h-2zm0 9h2v2h-2zm0 1h2v2h-2zm1-7h2v2h-2zm0 6h2v2h-2zm2-3h2v2h-2zm0 0h2v2h-2zm1 3h2v2h-2zm1-5h2v2h-2zm13 1h2v2h-2zm0 0h2v2h-2zm1-3h2v2h-2zm0 3h2v2h-2zm0 6h2v2h-2zm1-6h2v2h-2zm0 3h2v2h-2zm0 3h2v2h-2zm2-8h2v2h-2zm0 1h2v2h-2zm0 3h2v2h-2zm1-4h2v2h-2zm0 3h2v2h-2zm2-1h2v2h-2zm2-6h2v2h-2zm0 15h2v2h-2zm1-9h2v2h-2zm0 1h2v2h-2zm0 4h2v2h-2zm1-8h2v2h-2zm0 0h2v2h-2zm0 3h2v2h-2zm0 0h2v2h-2zm0 3h2v2h-2zm0 0h2v2h-2zm1-3h2v2h-2zm0 0h2v2h-2zm0 0h2v2h-2zm1-4h2v2h-2zm0 3h2v2h-2zm0 3h2v2h-2zm1-1h2v2h-2zm1-10h2v2h-2zm0 13h2v2h-2zm2-7h2v2h-2zm0 2h2v2h-2zm0 2h2v2h-2zm0 1h2v2h-2zm0 0h2v2h-2zm0 2h2v2h-2zm1-8h2v2h-2zm0 1h2v2h-2zm0 3h2v2h-2zm0 0h2v2h-2zm0 0h2v2h-2zm1-3h2v2h-2zm0 1h2v2h-2zm0 1h2v2h-2zm0 1h2v2h-2zm0 3h2v2h-2zm1-10h2v2h-2zm0 4h2v2h-2zm0 4h2v2h-2zm0 1h2v2h-2zm0 1h2v2h-2zm0 2h2v2h-2zm1-1h2v2h-2zm1-12h2v2h-2zm0 8h2v2h-2zm0 1h2v2h-2zm0 2h2v2h-2zm1-5h2v2h-2zm0 0h2v2h-2zm1-1h2v2h-2zm0 2h2v2h-2zm0 5h2v2h-2zm1-19h2v2h-2zm0 15h2v2h-2zm0 0h2v2h-2zm0 3h2v2h-2zm0 1h2v2h-2zm1-5h2v2h-2zm0 2h2v2h-2zm1-2h2v2h-2zm1-4h2v2h-2zm0 3h2v2h-2zm0 1h2v2h-2zm0 3h2v2h-2zm0 3h2v2h-2zm1-13h2v2h-2zm0 5h2v2h-2zm1-1h2v2h-2zm0 2h2v2h-2zm0 0h2v2h-2zm0 4h2v2h-2zm112-4h2v2h-2zm0 0h2v2h-2zm0 2h2v2h-2zm0 0h2v2h-2zm0 4h2v2h-2zm1-3h2v2h-2zm1-3h2v2h-2zm0 0h2v2h-2zm0 3h2v2h-2zm1-10h2v2h-2zm1 5h2v2h-2zm0 2h2v2h-2zm0 5h2v2h-2zm0 1h2v2h-2zm1-10h2v2h-2zm0 1h2v2h-2zm0 4h2v2h-2zm0 2h2v2h-2zm0 1h2v2h-2zm1-2h2v2h-2zm1-4h2v2h-2zm0 5h2v2h-2zm0 1h2v2h-2zm0 0h2v2h-2zm0 2h2v2h-2zm1-4h2v2h-2zm0 4h2v2h-2zm0 1h2v2h-2zm1-3h2v2h-2zm1 4h2v2h-2zm1-7h2v2h-2zm0 2h2v2h-2zm0 3h2v2h-2zm2-7h2v2h-2zm0 4h2v2h-2zm0 1h2v2h-2zm1-2h2v2h-2zm0 1h2v2h-2zm0 1h2v2h-2zm1-3h2v2h-2zm0 6h2v2h-2zm0 2h2v2h-2zm1-5h2v2h-2zm1-3h2v2h-2zm0 2h2v2h-2zm0 0h2v2h-2zm1-6h2v2h-2zm0 6h2v2h-2zm0 3h2v2h-2zm0 0h2v2h-2zm1-3h2v2h-2zm0 1h2v2h-2zm0 4h2v2h-2zm1-4h2v2h-2zm1-2h2v2h-2zm0 2h2v2h-2zm0 0h2v2h-2zm0 0h2v2h-2zm0 3h2v2h-2zm1-4h2v2h-2zm0 0h2v2h-2zm0 4h2v2h-2zm0 1h2v2h-2zm1-8h2v2h-2zm0 2h2v2h-2zm0 3h2v2h-2zm1-8h2v2h-2zm0 5h2v2h-2zm1 2h2v2h-2zm2-1h2v2h-2zm1-8h2v2h-2zm0 1h2v2h-2zm0 8h2v2h-2zm0 2h2v2h-2zm0 0h2v2h-2zm0 0h2v2h-2zm1-10h2v2h-2zm0 3h2v2h-2zm0 2h2v2h-2zm1 0h2v2h-2zm0 0h2v2h-2zm0 0h2v2h-2zm0 1h2v2h-2zm0 2h2v2h-2zm0 0h2v2h-2zm0 0h2v2h-2zm0 2h2v2h-2zm0 1h2v2h-2zm1-8h2v2h-2zm0 4h2v2h-2zm0 1h2v2h-2zm1-4h2v2h-2zm0 3h2v2h-2zm0 2h2v2h-2zm0 2h2v2h-2zm1-7h2v2h-2zm0 8h2v2h-2zm1-8h2v2h-2zm0 0h2v2h-2zm0 1h2v2h-2zm0 2h2v2h-2zm0 0h2v2h-2zm0 5h2v2h-2zm1-5h2v2h-2zm0 1h2v2h-2zm0 1h2v2h-2zm0 0h2v2h-2zm1-2h2v2h-2zm0 0h2v2h-2zm0 1h2v2h-2zm1-2h2v2h-2zm0 6h2v2h-2zm1-8h2v2h-2zm0 2h2v2h-2zm1-3h2v2h-2zm0 3h2v2h-2zm0 2h2v2h-2zm0 1h2v2h-2zm1-3h2v2h-2zm0 1h2v2h-2zm1-1h2v2h-2zm0 4h2v2h-2zm1 8h2v2h-2zm1-11h2v2h-2zm0 0h2v2h-2zm0 4h2v2h-2zm1-4h2v2h-2zm0 0h2v2h-2zm2-2h2v2h-2zm1 1h2v2h-2zm0 1h2v2h-2zm0 4h2v2h-2zm0 0h2v2h-2zm1-8h2v2h-2zm0 1h2v2h-2zm0 2h2v2h-2zm0 2h2v2h-2zm1-3h2v2h-2zm0 1h2v2h-2zm0 4h2v2h-2zm0 0h2v2h-2zm1-2h2v2h-2zm1-1h2v2h-2zm1-2h2v2h-2zm0 3h2v2h-2zm0 0h2v2h-2zm1-12h2v2h-2zm0 9h2v2h-2zm0 3h2v2h-2zm1-4h2v2h-2zm0 2h2v2h-2zm0 1h2v2h-2zm1-2h2v2h-2zm0 1h2v2h-2zm57 0h2v2h-2zm0 0h2v2h-2zm0 3h2v2h-2zm0 2h2v2h-2zm0 1h2v2h-2zm1-11h2v2h-2zm0 6h2v2h-2zm0 4h2v2h-2zm0 3h2v2h-2zm1-11h2v2h-2zm0 1h2v2h-2zm0 1h2v2h-2zm0 3h2v2h-2zm0 3h2v2h-2zm0 0h2v2h-2zm0 1h2v2h-2zm0 0h2v2h-2zm1-5h2v2h-2zm1-7h2v2h-2zm0 3h2v2h-2zm1 3h2v2h-2zm0 0h2v2h-2zm1 3h2v2h-2zm0 4h2v2h-2zm3-10h2v2h-2zm0 8h2v2h-2zm0 1h2v2h-2zm0 1h2v2h-2zm1-5h2v2h-2zm0 3h2v2h-2zm0 0h2v2h-2zm1-5h2v2h-2zm0 1h2v2h-2zm0 2h2v2h-2zm0 0h2v2h-2zm1-3h2v2h-2zm0 1h2v2h-2zm1-5h2v2h-2zm0 4h2v2h-2zm0 8h2v2h-2zm1-8h2v2h-2zm1 3h2v2h-2zm0 3h2v2h-2zm1-2h2v2h-2zm1-3h2v2h-2zm0 1h2v2h-2zm0 0h2v2h-2zm1 1h2v2h-2zm0 1h2v2h-2zm0 2h2v2h-2zm1-2h2v2h-2zm0 1h2v2h-2zm1-5h2v2h-2zm0 1h2v2h-2zm0 0h2v2h-2zm0 1h2v2h-2zm0 2h2v2h-2zm0 0h2v2h-2zm0 0h2v2h-2zm0 3h2v2h-2zm1-11h2v2h-2zm0 7h2v2h-2zm1-1h2v2h-2zm0 1h2v2h-2zm1-5h2v2h-2zm0 4h2v2h-2zm0 2h2v2h-2zm1-3h2v2h-2zm0 0h2v2h-2zm0 4h2v2h-2zm1-4h2v2h-2zm0 1h2v2h-2zm0 1h2v2h-2zm0 1h2v2h-2zm1-5h2v2h-2zm0 1h2v2h-2zm0 10h2v2h-2zm2-12h2v2h-2zm0 4h2v2h-2zm0 0h2v2h-2zm0 3h2v2h-2zm1-4h2v2h-2zm0 2h2v2h-2zm0 1h2v2h-2zm0 1h2v2h-2zm0 1h2v2h-2zm1-7h2v2h-2zm0 1h2v2h-2zm1-2h2v2h-2zm0 3h2v2h-2zm0 0h2v2h-2zm1-3h2v2h-2zm0 2h2v2h-2zm0 4h2v2h-2zm1-8h2v2h-2zm0 8h2v2h-2zm44-3h2v2h-2zm1 2h2v2h-2zm0 2h2v2h-2zm1 1h2v2h-2zm1 7h2v2h-2zm1-17h2v2h-2zm0 4h2v2h-2zm0 2h2v2h-2zm0 0h2v2h-2zm1 1h2v2h-2zm0 1h2v2h-2zm0 16h2v2h-2zm1-19h2v2h-2zm0 1h2v2h-2zm0 0h2v2h-2zm0 0h2v2h-2zm0 2h2v2h-2zm0 1h2v2h-2zm0 0h2v2h-2zm0 3h2v2h-2zm1-10h2v2h-2zm1 2h2v2h-2zm0 5h2v2h-2zm1-1h2v2h-2zm1 2h2v2h-2zm1-6h2v2h-2zm0 2h2v2h-2zm0 2h2v2h-2zm1-12h2v2h-2zm0 13h2v2h-2zm1-5h2v2h-2zm0 1h2v2h-2zm0 4h2v2h-2zm0 1h2v2h-2zm1-8h2v2h-2zm0 4h2v2h-2zm1-2h2v2h-2zm1 1h2v2h-2zm0 1h2v2h-2zm0 2h2v2h-2zm0 0h2v2h-2zm0 0h2v2h-2zm0 1h2v2h-2zm0 4h2v2h-2zm1-8h2v2h-2zm0 5h2v2h-2zm0 0h2v2h-2zm0 0h2v2h-2zm0 2h2v2h-2zm1-7h2v2h-2zm0 2h2v2h-2zm0 1h2v2h-2zm0 0h2v2h-2zm0 1h2v2h-2zm18-4h2v2h-2zm0 0h2v2h-2zm1-7h2v2h-2zm0 3h2v2h-2zm0 5h2v2h-2zm1-1h2v2h-2zm1-14h2v2h-2zm0 4h2v2h-2zm0 6h2v2h-2zm0 1h2v2h-2zm0 2h2v2h-2zm1-4h2v2h-2zm0 4h2v2h-2zm0 0h2v2h-2zm1-7h2v2h-2zm0 10h2v2h-2zm1-8h2v2h-2zm0 0h2v2h-2zm0 1h2v2h-2zm0 3h2v2h-2zm0 0h2v2h-2zm0 4h2v2h-2zm1-18h2v2h-2zm0 14h2v2h-2zm1-4h2v2h-2zm0 4h2v2h-2zm1-1h2v2h-2zm0 14h2v2h-2zm1-16h2v2h-2zm0 3h2v2h-2zm1 0h2v2h-2zm0 2h2v2h-2zm1-7h2v2h-2zm0 4h2v2h-2zm1-14h2v2h-2zm0 12h2v2h-2zm0 1h2v2h-2zm0 2h2v2h-2zm0 2h2v2h-2zm1-7h2v2h-2zm0 2h2v2h-2zm0 2h2v2h-2zm0 4h2v2h-2zm1-8h2v2h-2zm0 2h2v2h-2zm0 3h2v2h-2zm0 5h2v2h-2zm1-7h2v2h-2zm0 4h2v2h-2zm0 1h2v2h-2zm2-5h2v2h-2zm0 1h2v2h-2zm0 4h2v2h-2zm0 1h2v2h-2zm1-7h2v2h-2zm0 1h2v2h-2zm0 0h2v2h-2zm0 1h2v2h-2zm0 6h2v2h-2zm1-8h2v2h-2zm0 2h2v2h-2zm1-4h2v2h-2zm0 8h2v2h-2zm1-4h2v2h-2zm1-2h2v2h-2zm0 5h2v2h-2zm0 3h2v2h-2zm1-7h2v2h-2zm0 3h2v2h-2zm0 0h2v2h-2zm1-1h2v2h-2zm1-2h2v2h-2zm0 0h2v2h-2zm0 2h2v2h-2zm0 2h2v2h-2zm0 2h2v2h-2zm1-9h2v2h-2zm0 2h2v2h-2zm0 2h2v2h-2zm1-4h2v2h-2zm1 4h2v2h-2zm0 2h2v2h-2zm1-6h2v2h-2zm0 1h2v2h-2zm0 4h2v2h-2zm1 3h2v2h-2zm1-6h2v2h-2zm0 5h2v2h-2zm1-7h2v2h-2zm0 5h2v2h-2zm0 0h2v2h-2zm0 0h2v2h-2zm68 8h2v2h-2zm1-11h2v2h-2zm0 6h2v2h-2zm0 2h2v2h-2zm1-3h2v2h-2zm0 0h2v2h-2zm0 1h2v2h-2zm0 3h2v2h-2zm0 4h2v2h-2zm1-9h2v2h-2zm0 1h2v2h-2zm1-2h2v2h-2zm1 4h2v2h-2zm0 1h2v2h-2zm1-4h2v2h-2zm1 0h2v2h-2zm0 4h2v2h-2zm1-1h2v2h-2zm1 0h2v2h-2zm0 6h2v2h-2z"/>
<path fill="#3f9e4a" shape-rendering="crispEdges" d="M932 1193h2v2h-2zm3-19h2v2h-2zm1 43h2v2h-2zm2-34h2v2h-2zm3 11h2v2h-2zm1 8h2v2h-2zm4-8h2v2h-2zm0 29h2v2h-2zm1-45h2v2h-2zm0 46h2v2h-2zm3-39h2v2h-2zm1 14h2v2h-2zm617 40h2v2h-2zm0 0h2v2h-2zm0 0h2v2h-2zm0 0h2v2h-2zm0 2h2v2h-2zm0 1h2v2h-2zm1-2h2v2h-2zm0 0h2v2h-2zm0 1h2v2h-2zm1-2h2v2h-2zm0 3h2v2h-2zm1-2h2v2h-2zm0 0h2v2h-2zm0 1h2v2h-2zm0 0h2v2h-2zm0 1h2v2h-2zm0 1h2v2h-2zm1-3h2v2h-2zm0 0h2v2h-2zm0 0h2v2h-2zm0 1h2v2h-2zm18-29h2v2h-2zm0 1h2v2h-2zm0 3h2v2h-2zm0 4h2v2h-2zm0 1h2v2h-2zm1-9h2v2h-2zm0 1h2v2h-2zm0 0h2v2h-2zm0 0h2v2h-2zm0 2h2v2h-2zm0 0h2v2h-2zm0 0h2v2h-2zm0 0h2v2h-2zm0 1h2v2h-2zm0 0h2v2h-2zm0 0h2v2h-2zm0 1h2v2h-2zm1-9h2v2h-2zm0 3h2v2h-2zm0 6h2v2h-2zm0 8h2v2h-2zm1-14h2v2h-2zm0 4h2v2h-2zm0 11h2v2h-2zm1-16h2v2h-2zm0 4h2v2h-2zm0 0h2v2h-2zm0 1h2v2h-2zm0 2h2v2h-2zm0 1h2v2h-2zm1-6h2v2h-2zm0 1h2v2h-2zm0 4h2v2h-2zm0 1h2v2h-2zm1-8h2v2h-2zm0 4h2v2h-2zm0 1h2v2h-2zm1-3h2v2h-2zm0 0h2v2h-2zm0 2h2v2h-2zm0 1h2v2h-2zm0 2h2v2h-2zm0 1h2v2h-2zm1-5h2v2h-2zm0 1h2v2h-2zm1-3h2v2h-2zm0 3h2v2h-2zm1-2h2v2h-2zm0 4h2v2h-2zm0 0h2v2h-2zm0 2h2v2h-2zm1-7h2v2h-2z"/>
<line x1="447.8" y1="1195.5" x2="513" y2="1195.5" stroke="#951419" stroke-width="1.4"/>
<line x1="621.6" y1="1223.5" x2="657.8" y2="1223.5" stroke="#12603a" stroke-width="1.4"/>
<line x1="657.8" y1="1185.6" x2="701.9" y2="1185.6" stroke="#e2232b" stroke-width="1.4"/>
<line x1="716.4" y1="1225.3" x2="781.7" y2="1225.3" stroke="#12603a" stroke-width="1.4"/>
<line x1="781.7" y1="1157" x2="801" y2="1157" stroke="#e2232b" stroke-width="1.4"/>
<line x1="802.4" y1="1225.3" x2="855.8" y2="1225.3" stroke="#12603a" stroke-width="1.4"/>
<line x1="891.5" y1="1220.9" x2="911.4" y2="1220.9" stroke="#12603a" stroke-width="1.4"/>
<line x1="925.5" y1="1224.4" x2="990.8" y2="1224.4" stroke="#12603a" stroke-width="1.4"/>
<line x1="1109.4" y1="1225.3" x2="1220.6" y2="1225.3" stroke="#12603a" stroke-width="1.4"/>
<line x1="1283.6" y1="1197" x2="1323.3" y2="1197" stroke="#951419" stroke-width="1.4"/>
<line x1="1377" y1="1224.4" x2="1409.4" y2="1224.4" stroke="#12603a" stroke-width="1.4"/>
<line x1="1429" y1="1224.4" x2="1446.4" y2="1224.4" stroke="#12603a" stroke-width="1.4"/>
<line x1="1487.4" y1="1224.4" x2="1520.5" y2="1224.4" stroke="#12603a" stroke-width="1.4"/>
<line x1="1520.5" y1="1197" x2="1535.5" y2="1197" stroke="#951419" stroke-width="1.4"/>
<line x1="1603.4" y1="1198.8" x2="1665.2" y2="1198.8" stroke="#951419" stroke-width="1.4"/>
<path fill="#e2232b" shape-rendering="crispEdges" d="M869 1273h3v3h-3z"/>
<path fill="#e2232b" shape-rendering="crispEdges" d="M867 1301h3v3h-3z"/>
<path fill="#12603a" shape-rendering="crispEdges" d="M730 1353h3v3h-3z"/>
<path fill="#2d5ea9" shape-rendering="crispEdges" d="M1463 1299h3v3h-3z"/>
<path fill="#2d5ea9" shape-rendering="crispEdges" d="M1243 1184h3v3h-3z"/>
<path fill="#2d5ea9" shape-rendering="crispEdges" d="M1240 1178h3v3h-3z"/>
<path fill="#12603a" shape-rendering="crispEdges" d="M946 1174h3v3h-3z"/>
<line x1="418" y1="1209.5" x2="1665.5" y2="1209.5" stroke="#b4b4b4" stroke-width="1.3"/>
<path fill="#951419" d="M417.5 1534L427.5 1534v4L417.5 1538zM430 1534L443.5 1534v4L430 1538zM447.5 1534L468.6 1534v4L447.5 1538zM479.3 1534L513.5 1534v4L479.3 1538zM655.5 1536L710.7 1536v4L655.5 1540zM1284.5 1536L1323.3 1536v4L1284.5 1540zM1520.5 1533L1536 1533v4L1520.5 1537zM1555 1536L1560 1536v4L1555 1540zM1604.3 1539.2L1621 1539.2v4L1604.3 1543.2z"/>
<path fill="#e2232b" d="M513.5 1511L521 1511v4L513.5 1515zM781.3 1461L801.5 1443v4L781.3 1465zM1538 1509.6L1544 1509.6v4L1538 1513.6z"/>
<path fill="#12603a" d="M426 1609.7L431 1609.7v4L426 1613.7zM441 1609.7L447 1609.7v4L441 1613.7zM621.6 1608L657.8 1608v4L621.6 1612zM716.4 1609.7L781.7 1609.7v4L716.4 1613.7zM802.4 1609.7L855.8 1609.7v4L802.4 1613.7zM925.5 1606.6L990.8 1606.6v4L925.5 1610.6zM1109.4 1610.5L1220.6 1605v4L1109.4 1614.5zM1377 1609.7L1409.4 1609.7v4L1377 1613.7zM1427.9 1604.4L1446.4 1604.4v4L1427.9 1608.4zM1487.4 1606.6L1520.5 1606.6v4L1487.4 1610.6zM1574 1606.6L1580 1606.6v4L1574 1610.6zM1591 1608.9L1602 1608.9v4L1591 1612.9z"/>
<path fill="#2d5ea9" d="M521 1567L621.6 1567v4L521 1571zM710 1564.7L716 1564.7v4L710 1568.7zM855.8 1567L925.5 1567v4L855.8 1571zM1050.7 1567.5L1066 1567.5v4L1050.7 1571.5zM1079 1567.5L1109.4 1567.5v4L1079 1571.5zM1220.6 1568.3L1275.7 1568.3v4L1220.6 1572.3zM1331.7 1565.6L1366 1565.6v4L1331.7 1569.6zM1409.4 1564.7L1420 1564.7v4L1409.4 1568.7zM1479.5 1561L1486 1561v4L1479.5 1565zM1548 1568.3L1554 1568.3v4L1548 1572.3zM1621 1568.3L1665.2 1568.3v4L1621 1572.3z"/>
<path fill="#3f9e4a" d="M1569 1674L1574 1674v4L1569 1678z"/>
<path fill="#951419" shape-rendering="crispEdges" d="M417 1539h2v2h-2zm1-11h2v2h-2zm0 5h2v2h-2zm0 1h2v2h-2zm0 3h2v2h-2zm0 1h2v2h-2zm1-21h2v2h-2zm0 17h2v2h-2zm0 1h2v2h-2zm0 0h2v2h-2zm1-31h2v2h-2zm0 28h2v2h-2zm1-10h2v2h-2zm0 14h2v2h-2zm1-6h2v2h-2zm0 0h2v2h-2zm0 3h2v2h-2zm0 6h2v2h-2zm0 2h2v2h-2zm1-9h2v2h-2zm0 1h2v2h-2zm1 2h2v2h-2zm0 1h2v2h-2zm0 2h2v2h-2zm0 1h2v2h-2zm1-4h2v2h-2zm0 1h2v2h-2zm0 4h2v2h-2zm1-8h2v2h-2zm0 2h2v2h-2zm2-48h2v2h-2zm0 6h2v2h-2zm1 44h2v2h-2zm1-4h2v2h-2zm0 2h2v2h-2zm0 1h2v2h-2zm0 1h2v2h-2zm0 0h2v2h-2zm0 1h2v2h-2zm1-17h2v2h-2zm0 9h2v2h-2zm1 7h2v2h-2zm0 2h2v2h-2zm1-9h2v2h-2zm0 3h2v2h-2zm0 2h2v2h-2zm0 5h2v2h-2zm0 0h2v2h-2zm1-7h2v2h-2zm1-39h2v2h-2zm0 41h2v2h-2zm0 22h2v2h-2zm2-56h2v2h-2zm0 30h2v2h-2zm0 6h2v2h-2zm1-3h2v2h-2zm0 2h2v2h-2zm0 0h2v2h-2zm1-1h2v2h-2zm0 1h2v2h-2zm0 0h2v2h-2zm1-5h2v2h-2zm0 2h2v2h-2zm0 0h2v2h-2zm1-1h2v2h-2zm0 9h2v2h-2zm1-8h2v2h-2zm0 0h2v2h-2zm0 3h2v2h-2zm0 0h2v2h-2zm0 1h2v2h-2zm0 1h2v2h-2zm1-40h2v2h-2zm0 24h2v2h-2zm4-35h2v2h-2zm0 45h2v2h-2zm0 1h2v2h-2zm1-1h2v2h-2zm0 2h2v2h-2zm0 5h2v2h-2zm1-10h2v2h-2zm0 8h2v2h-2zm0 2h2v2h-2zm1-6h2v2h-2zm0 9h2v2h-2zm1-3h2v2h-2zm0 0h2v2h-2zm0 2h2v2h-2zm0 7h2v2h-2zm1-17h2v2h-2zm0 4h2v2h-2zm0 5h2v2h-2zm1-3h2v2h-2zm0 3h2v2h-2zm1-21h2v2h-2zm0 9h2v2h-2zm0 3h2v2h-2zm0 2h2v2h-2zm1 4h2v2h-2zm1-3h2v2h-2zm0 1h2v2h-2zm0 4h2v2h-2zm0 14h2v2h-2zm1-17h2v2h-2zm0 6h2v2h-2zm1-12h2v2h-2zm0 2h2v2h-2zm0 1h2v2h-2zm0 4h2v2h-2zm0 0h2v2h-2zm0 2h2v2h-2zm1-10h2v2h-2zm0 6h2v2h-2zm1-1h2v2h-2zm0 9h2v2h-2zm1-14h2v2h-2zm0 6h2v2h-2zm0 1h2v2h-2zm0 3h2v2h-2zm1-4h2v2h-2zm0 5h2v2h-2zm1-25h2v2h-2zm0 10h2v2h-2zm0 9h2v2h-2zm0 2h2v2h-2zm0 1h2v2h-2zm0 4h2v2h-2zm1-1h2v2h-2zm0 1h2v2h-2zm1-10h2v2h-2zm0 2h2v2h-2zm1 2h2v2h-2zm0 0h2v2h-2zm1 2h2v2h-2zm0 2h2v2h-2zm0 4h2v2h-2zm12-8h2v2h-2zm0 2h2v2h-2zm1-3h2v2h-2zm0 1h2v2h-2zm0 3h2v2h-2zm1-4h2v2h-2zm1 3h2v2h-2zm0 1h2v2h-2zm1-11h2v2h-2zm0 7h2v2h-2zm0 0h2v2h-2zm1-2h2v2h-2zm0 2h2v2h-2zm0 0h2v2h-2zm1-1h2v2h-2zm0 5h2v2h-2zm0 6h2v2h-2zm1-12h2v2h-2zm0 0h2v2h-2zm0 2h2v2h-2zm0 3h2v2h-2zm0 2h2v2h-2zm0 2h2v2h-2zm1-2h2v2h-2zm1-4h2v2h-2zm0 9h2v2h-2zm1-12h2v2h-2zm0 4h2v2h-2zm0 4h2v2h-2zm0 0h2v2h-2zm1-1h2v2h-2zm1 11h2v2h-2zm1-17h2v2h-2zm0 1h2v2h-2zm1 0h2v2h-2zm0 0h2v2h-2zm0 3h2v2h-2zm0 1h2v2h-2zm1-6h2v2h-2zm0 1h2v2h-2zm0 2h2v2h-2zm0 3h2v2h-2zm0 0h2v2h-2zm0 5h2v2h-2zm1-12h2v2h-2zm0 6h2v2h-2zm0 3h2v2h-2zm1-6h2v2h-2zm0 3h2v2h-2zm1-8h2v2h-2zm0 3h2v2h-2zm0 1h2v2h-2zm0 1h2v2h-2zm0 1h2v2h-2zm0 2h2v2h-2zm0 5h2v2h-2zm1-11h2v2h-2zm0 7h2v2h-2zm1-6h2v2h-2zm0 1h2v2h-2zm0 2h2v2h-2zm0 2h2v2h-2zm0 7h2v2h-2zm1-13h2v2h-2zm0 2h2v2h-2zm0 2h2v2h-2zm2-1h2v2h-2zm0 2h2v2h-2zm0 2h2v2h-2zm0 2h2v2h-2zm0 0h2v2h-2zm1-10h2v2h-2zm0 6h2v2h-2zm0 5h2v2h-2zm0 2h2v2h-2zm1-15h2v2h-2zm0 4h2v2h-2zm1 8h2v2h-2zm1-6h2v2h-2zm0 2h2v2h-2zm0 0h2v2h-2zm0 5h2v2h-2zm1-12h2v2h-2zm0 1h2v2h-2zm0 1h2v2h-2zm0 6h2v2h-2zm0 7h2v2h-2zm1-3h2v2h-2zm1-7h2v2h-2zm0 6h2v2h-2zm1-9h2v2h-2zm0 9h2v2h-2zm0 5h2v2h-2zm1-4h2v2h-2zm0 1h2v2h-2zm144-7h2v2h-2zm0 0h2v2h-2zm0 1h2v2h-2zm0 8h2v2h-2zm1-3h2v2h-2zm1-3h2v2h-2zm0 1h2v2h-2zm1-5h2v2h-2zm0 4h2v2h-2zm0 1h2v2h-2zm0 2h2v2h-2zm2-6h2v2h-2zm1 3h2v2h-2zm0 5h2v2h-2zm1-11h2v2h-2zm1 3h2v2h-2zm0 5h2v2h-2zm0 9h2v2h-2zm1-14h2v2h-2zm0 1h2v2h-2zm0 1h2v2h-2zm1-4h2v2h-2zm0 6h2v2h-2zm0 3h2v2h-2zm0 1h2v2h-2zm1-3h2v2h-2zm1-4h2v2h-2zm1-5h2v2h-2zm0 5h2v2h-2zm0 0h2v2h-2zm0 2h2v2h-2zm0 2h2v2h-2zm0 2h2v2h-2zm0 2h2v2h-2zm1-13h2v2h-2zm0 2h2v2h-2zm0 7h2v2h-2zm0 2h2v2h-2zm0 0h2v2h-2zm1-11h2v2h-2zm0 1h2v2h-2zm0 5h2v2h-2zm1-5h2v2h-2zm0 8h2v2h-2zm0 1h2v2h-2zm0 1h2v2h-2zm1-5h2v2h-2zm0 1h2v2h-2zm1 2h2v2h-2zm0 3h2v2h-2zm1-5h2v2h-2zm0 1h2v2h-2zm1-5h2v2h-2zm0 2h2v2h-2zm0 0h2v2h-2zm0 3h2v2h-2zm2-2h2v2h-2zm0 2h2v2h-2zm0 0h2v2h-2zm1-4h2v2h-2zm0 1h2v2h-2zm0 2h2v2h-2zm1-5h2v2h-2zm0 1h2v2h-2zm0 2h2v2h-2zm0 3h2v2h-2zm0 4h2v2h-2zm3-6h2v2h-2zm1-1h2v2h-2zm0 5h2v2h-2zm0 0h2v2h-2zm1-11h2v2h-2zm0 8h2v2h-2zm0 0h2v2h-2zm1-3h2v2h-2zm0 5h2v2h-2zm1-6h2v2h-2zm0 2h2v2h-2zm0 2h2v2h-2zm0 1h2v2h-2zm1-8h2v2h-2zm0 2h2v2h-2zm0 1h2v2h-2zm0 1h2v2h-2zm0 0h2v2h-2zm0 2h2v2h-2zm0 3h2v2h-2zm1-3h2v2h-2zm1-3h2v2h-2zm0 4h2v2h-2zm0 1h2v2h-2zm1-5h2v2h-2zm0 4h2v2h-2zm1 1h2v2h-2zm0 0h2v2h-2zm0 3h2v2h-2zm0 2h2v2h-2zm2-9h2v2h-2zm0 1h2v2h-2zm0 1h2v2h-2zm0 0h2v2h-2zm0 1h2v2h-2zm0 1h2v2h-2zm0 2h2v2h-2zm0 0h2v2h-2zm1-5h2v2h-2zm0 6h2v2h-2zm0 1h2v2h-2zm1-7h2v2h-2zm0 2h2v2h-2zm0 1h2v2h-2zm0 1h2v2h-2zm1-6h2v2h-2zm0 3h2v2h-2zm1 0h2v2h-2zm0 1h2v2h-2zm0 2h2v2h-2zm1 1h2v2h-2zm1-8h2v2h-2zm0 3h2v2h-2zm0 3h2v2h-2zm0 0h2v2h-2zm0 0h2v2h-2zm0 2h2v2h-2zm1-7h2v2h-2zm0 7h2v2h-2zm1-8h2v2h-2zm0 3h2v2h-2zm0 2h2v2h-2zm0 5h2v2h-2zm1-9h2v2h-2zm0 4h2v2h-2zm1-1h2v2h-2zm1-2h2v2h-2zm0 6h2v2h-2zm1-6h2v2h-2zm0 4h2v2h-2zm0 0h2v2h-2zm0 0h2v2h-2zm1-6h2v2h-2zm0 5h2v2h-2zm0 8h2v2h-2zm1-11h2v2h-2zm0 2h2v2h-2zm0 1h2v2h-2zm0 2h2v2h-2zm0 2h2v2h-2zm0 5h2v2h-2zm1-16h2v2h-2zm0 1h2v2h-2zm0 4h2v2h-2zm0 3h2v2h-2zm0 2h2v2h-2zm1 5h2v2h-2zm281 15h2v2h-2zm1 5h2v2h-2zm0 1h2v2h-2zm1-6h2v2h-2zm0 0h2v2h-2zm0 4h2v2h-2zm1-9h2v2h-2zm0 8h2v2h-2zm1-5h2v2h-2zm0 2h2v2h-2zm0 9h2v2h-2zm1-10h2v2h-2zm0 0h2v2h-2zm0 0h2v2h-2zm0 4h2v2h-2zm1-4h2v2h-2zm0 2h2v2h-2zm0 0h2v2h-2zm0 2h2v2h-2zm0 1h2v2h-2zm1-7h2v2h-2zm0 4h2v2h-2zm2-7h2v2h-2zm0 2h2v2h-2zm0 4h2v2h-2zm0 2h2v2h-2zm0 0h2v2h-2zm2-5h2v2h-2zm0 2h2v2h-2zm0 2h2v2h-2zm0 3h2v2h-2zm0 6h2v2h-2zm1-15h2v2h-2zm0 9h2v2h-2zm0 5h2v2h-2zm1-12h2v2h-2zm0 2h2v2h-2zm0 6h2v2h-2zm1-5h2v2h-2zm0 1h2v2h-2zm0 0h2v2h-2zm0 1h2v2h-2zm0 0h2v2h-2zm1-6h2v2h-2zm0 5h2v2h-2zm1-1h2v2h-2zm0 0h2v2h-2zm0 2h2v2h-2zm0 1h2v2h-2zm1-5h2v2h-2zm0 2h2v2h-2zm0 5h2v2h-2zm1-9h2v2h-2zm0 5h2v2h-2zm0 2h2v2h-2zm1-8h2v2h-2zm0 4h2v2h-2zm0 0h2v2h-2zm0 1h2v2h-2zm0 3h2v2h-2zm1-3h2v2h-2zm0 4h2v2h-2zm1-6h2v2h-2zm0 4h2v2h-2zm1-1h2v2h-2zm0 4h2v2h-2zm1-7h2v2h-2zm0 6h2v2h-2zm1-5h2v2h-2zm0 1h2v2h-2zm0 6h2v2h-2zm1-12h2v2h-2zm0 7h2v2h-2zm0 1h2v2h-2zm1-2h2v2h-2zm0 3h2v2h-2zm2-2h2v2h-2zm0 2h2v2h-2zm0 0h2v2h-2zm0 3h2v2h-2zm1-8h2v2h-2zm0 7h2v2h-2zm1-9h2v2h-2zm0 3h2v2h-2zm0 3h2v2h-2zm0 0h2v2h-2zm2-1h2v2h-2zm1-6h2v2h-2zm0 6h2v2h-2zm0 1h2v2h-2zm0 1h2v2h-2zm1-10h2v2h-2zm1 7h2v2h-2zm0 3h2v2h-2zm0 2h2v2h-2zm0 1h2v2h-2zm1-8h2v2h-2zm0 1h2v2h-2zm0 7h2v2h-2zm0 0h2v2h-2zm1-4h2v2h-2zm0 0h2v2h-2zm0 0h2v2h-2zm0 1h2v2h-2zm0 3h2v2h-2zm1 3h2v2h-2zm1-4h2v2h-2zm1-6h2v2h-2zm0 3h2v2h-2zm1-5h2v2h-2zm0 4h2v2h-2zm0 2h2v2h-2zm0 0h2v2h-2zm0 1h2v2h-2zm0 0h2v2h-2zm0 1h2v2h-2zm0 4h2v2h-2zm1-7h2v2h-2zm0 2h2v2h-2zm1-4h2v2h-2zm0 3h2v2h-2zm1-1h2v2h-2zm1-8h2v2h-2zm0 5h2v2h-2zm0 0h2v2h-2zm0 6h2v2h-2zm0 0h2v2h-2zm1-8h2v2h-2zm1 3h2v2h-2zm0 3h2v2h-2zm1-1h2v2h-2zm0 0h2v2h-2zm0 0h2v2h-2zm0 5h2v2h-2zm1-6h2v2h-2zm1 2h2v2h-2zm0 0h2v2h-2zm0 1h2v2h-2zm1-4h2v2h-2zm0 4h2v2h-2zm0 0h2v2h-2zm1-8h2v2h-2zm0 5h2v2h-2zm0 5h2v2h-2zm1-6h2v2h-2zm1 1h2v2h-2zm0 1h2v2h-2zm0 1h2v2h-2zm0 1h2v2h-2zm0 6h2v2h-2zm1-10h2v2h-2zm0 0h2v2h-2zm1-4h2v2h-2zm0 2h2v2h-2zm0 3h2v2h-2zm0 0h2v2h-2zm0 1h2v2h-2zm0 1h2v2h-2zm0 1h2v2h-2zm0 0h2v2h-2zm1 2h2v2h-2zm0 1h2v2h-2zm1-9h2v2h-2zm0 2h2v2h-2zm0 3h2v2h-2zm0 1h2v2h-2zm1-6h2v2h-2zm0 1h2v2h-2zm235-18h2v2h-2zm0 1h2v2h-2zm0 3h2v2h-2zm1-14h2v2h-2zm0 2h2v2h-2zm0 3h2v2h-2zm0 5h2v2h-2zm0 1h2v2h-2zm1-3h2v2h-2zm1-7h2v2h-2zm0 3h2v2h-2zm0 0h2v2h-2zm0 3h2v2h-2zm0 1h2v2h-2zm0 1h2v2h-2zm1-8h2v2h-2zm0 3h2v2h-2zm0 1h2v2h-2zm0 5h2v2h-2zm0 1h2v2h-2zm1-11h2v2h-2zm0 7h2v2h-2zm1-4h2v2h-2zm0 0h2v2h-2zm0 3h2v2h-2zm0 7h2v2h-2zm1-9h2v2h-2zm0 4h2v2h-2zm1-6h2v2h-2zm0 4h2v2h-2zm0 3h2v2h-2zm1-4h2v2h-2zm0 2h2v2h-2zm1-1h2v2h-2zm1-2h2v2h-2zm0 5h2v2h-2zm0 2h2v2h-2zm1-3h2v2h-2zm1-2h2v2h-2zm0 2h2v2h-2zm0 1h2v2h-2zm0 2h2v2h-2zm1-11h2v2h-2zm0 3h2v2h-2zm0 1h2v2h-2zm0 1h2v2h-2zm0 3h2v2h-2zm1-5h2v2h-2zm1 3h2v2h-2zm0 1h2v2h-2zm0 1h2v2h-2zm1-2h2v2h-2zm0 4h2v2h-2zm1-8h2v2h-2zm0 4h2v2h-2zm0 0h2v2h-2zm0 3h2v2h-2zm0 1h2v2h-2zm0 2h2v2h-2zm0 1h2v2h-2zm1-12h2v2h-2zm0 2h2v2h-2zm0 4h2v2h-2zm0 0h2v2h-2zm0 3h2v2h-2zm0 2h2v2h-2zm1-13h2v2h-2zm1 10h2v2h-2zm0 3h2v2h-2zm1-11h2v2h-2zm0 2h2v2h-2zm1 0h2v2h-2zm0 1h2v2h-2zm0 0h2v2h-2zm1-1h2v2h-2zm1 6h2v2h-2zm1-1h2v2h-2zm0 1h2v2h-2zm0 0h2v2h-2zm1-2h2v2h-2zm1-2h2v2h-2zm1-2h2v2h-2zm0 7h2v2h-2zm1-6h2v2h-2zm0 5h2v2h-2zm1-7h2v2h-2zm0 4h2v2h-2zm0 0h2v2h-2zm1-4h2v2h-2zm1-1h2v2h-2zm0 2h2v2h-2zm0 9h2v2h-2zm0 1h2v2h-2zm1-14h2v2h-2zm0 6h2v2h-2zm0 2h2v2h-2zm0 0h2v2h-2zm0 2h2v2h-2zm1-6h2v2h-2zm0 3h2v2h-2zm0 3h2v2h-2zm1-6h2v2h-2zm0 1h2v2h-2zm0 2h2v2h-2zm0 1h2v2h-2zm1-2h2v2h-2zm0 2h2v2h-2zm1 1h2v2h-2zm139 20h2v2h-2zm0 1h2v2h-2zm1-5h2v2h-2zm0 5h2v2h-2zm1-1h2v2h-2zm1-1h2v2h-2zm1 1h2v2h-2zm0 8h2v2h-2zm1-4h2v2h-2zm1-5h2v2h-2zm0 3h2v2h-2zm1 1h2v2h-2zm0 1h2v2h-2zm1 1h2v2h-2zm1-1h2v2h-2zm1-4h2v2h-2zm0 1h2v2h-2zm0 0h2v2h-2zm0 7h2v2h-2zm1-14h2v2h-2zm1-5h2v2h-2zm0 11h2v2h-2zm0 1h2v2h-2zm0 1h2v2h-2zm0 4h2v2h-2zm0 1h2v2h-2zm1-9h2v2h-2zm1 1h2v2h-2zm0 0h2v2h-2zm1 1h2v2h-2zm0 1h2v2h-2zm0 1h2v2h-2zm1 5h2v2h-2zm0 2h2v2h-2zm0 1h2v2h-2zm1-11h2v2h-2zm0 8h2v2h-2zm0 12h2v2h-2zm1-21h2v2h-2zm41-25h2v2h-2zm1-2h2v2h-2zm0 0h2v2h-2zm0 5h2v2h-2zm0 0h2v2h-2zm0 1h2v2h-2zm1-5h2v2h-2zm0 1h2v2h-2zm1-1h2v2h-2zm0 7h2v2h-2zm1-6h2v2h-2zm0 2h2v2h-2zm0 5h2v2h-2zm1-14h2v2h-2zm0 8h2v2h-2zm0 3h2v2h-2zm0 2h2v2h-2zm1-6h2v2h-2zm0 1h2v2h-2zm1 3h2v2h-2zm1-3h2v2h-2zm0 3h2v2h-2zm0 4h2v2h-2zm1-8h2v2h-2zm0 1h2v2h-2zm0 3h2v2h-2zm0 0h2v2h-2zm0 1h2v2h-2zm1-12h2v2h-2zm0 5h2v2h-2zm0 2h2v2h-2zm0 2h2v2h-2zm1-1h2v2h-2zm0 1h2v2h-2zm0 1h2v2h-2zm0 4h2v2h-2zm1-9h2v2h-2zm0 4h2v2h-2zm1 1h2v2h-2zm1-6h2v2h-2zm0 3h2v2h-2zm0 2h2v2h-2zm0 0h2v2h-2zm20-2h2v2h-2zm0 5h2v2h-2zm0 1h2v2h-2zm0 1h2v2h-2zm1-2h2v2h-2zm0 8h2v2h-2zm1-11h2v2h-2zm0 0h2v2h-2zm0 3h2v2h-2zm0 1h2v2h-2zm0 1h2v2h-2zm1-4h2v2h-2zm0 6h2v2h-2zm1-3h2v2h-2zm0 1h2v2h-2zm1-5h2v2h-2zm0 6h2v2h-2zm44-4h2v2h-2zm1 0h2v2h-2zm0 0h2v2h-2zm0 2h2v2h-2zm0 1h2v2h-2zm0 1h2v2h-2zm0 3h2v2h-2zm1-4h2v2h-2zm0 1h2v2h-2zm1-4h2v2h-2zm0 5h2v2h-2zm0 1h2v2h-2zm1-6h2v2h-2zm0 2h2v2h-2zm0 1h2v2h-2zm0 2h2v2h-2zm0 2h2v2h-2zm0 1h2v2h-2zm1-7h2v2h-2zm0 1h2v2h-2zm0 0h2v2h-2zm0 7h2v2h-2zm1-10h2v2h-2zm0 1h2v2h-2zm0 11h2v2h-2zm1-12h2v2h-2zm2 1h2v2h-2zm0 2h2v2h-2zm0 2h2v2h-2zm0 1h2v2h-2zm0 1h2v2h-2zm0 0h2v2h-2zm1-6h2v2h-2zm0 2h2v2h-2zm2 5h2v2h-2zm1-8h2v2h-2zm0 3h2v2h-2zm0 0h2v2h-2zm0 5h2v2h-2zm0 1h2v2h-2zm1-11h2v2h-2zm0 7h2v2h-2zm0 4h2v2h-2zm0 2h2v2h-2zm1-9h2v2h-2zm0 1h2v2h-2z"/>
<path fill="#e2232b" shape-rendering="crispEdges" d="M440 1491h2v2h-2zm2-2h2v2h-2zm0 17h2v2h-2zm2-25h2v2h-2zm3 5h2v2h-2zm66 25h2v2h-2zm0 3h2v2h-2zm0 3h2v2h-2zm1-8h2v2h-2zm0 0h2v2h-2zm0 1h2v2h-2zm0 4h2v2h-2zm0 2h2v2h-2zm0 2h2v2h-2zm1-16h2v2h-2zm0 3h2v2h-2zm0 9h2v2h-2zm1-10h2v2h-2zm0 6h2v2h-2zm0 0h2v2h-2zm0 2h2v2h-2zm0 0h2v2h-2zm0 1h2v2h-2zm0 5h2v2h-2zm0 0h2v2h-2zm1-11h2v2h-2zm0 6h2v2h-2zm0 1h2v2h-2zm0 4h2v2h-2zm1-13h2v2h-2zm0 4h2v2h-2zm0 1h2v2h-2zm0 2h2v2h-2zm0 5h2v2h-2zm1-8h2v2h-2zm0 0h2v2h-2zm0 0h2v2h-2zm0 3h2v2h-2zm0 2h2v2h-2zm0 0h2v2h-2zm0 2h2v2h-2zm0 3h2v2h-2zm1-7h2v2h-2zm0 2h2v2h-2zm170-34h2v2h-2zm0 5h2v2h-2zm0 14h2v2h-2zm1-9h2v2h-2zm0 1h2v2h-2zm0 0h2v2h-2zm1-2h2v2h-2zm1-7h2v2h-2zm1 18h2v2h-2zm1-14h2v2h-2zm85-21h2v2h-2zm0 1h2v2h-2zm0 0h2v2h-2zm1-5h2v2h-2zm0 5h2v2h-2zm1-6h2v2h-2zm0 2h2v2h-2zm1-10h2v2h-2zm0 5h2v2h-2zm0 1h2v2h-2zm0 4h2v2h-2zm0 3h2v2h-2zm1-12h2v2h-2zm0 5h2v2h-2zm0 5h2v2h-2zm0 1h2v2h-2zm0 1h2v2h-2zm1-6h2v2h-2zm1-11h2v2h-2zm0 5h2v2h-2zm1 1h2v2h-2zm0 1h2v2h-2zm0 4h2v2h-2zm1-13h2v2h-2zm0 10h2v2h-2zm0 0h2v2h-2zm1-4h2v2h-2zm0 4h2v2h-2zm0 2h2v2h-2zm1-19h2v2h-2zm0 14h2v2h-2zm0 7h2v2h-2zm1-7h2v2h-2zm0 0h2v2h-2zm0 0h2v2h-2zm1 1h2v2h-2zm1-10h2v2h-2zm0 3h2v2h-2zm0 1h2v2h-2zm0 0h2v2h-2zm0 1h2v2h-2zm0 4h2v2h-2zm1-2h2v2h-2zm0 0h2v2h-2zm0 3h2v2h-2zm2-11h2v2h-2zm0 3h2v2h-2zm0 5h2v2h-2zm1-4h2v2h-2zm0 1h2v2h-2zm1 2h2v2h-2zm1-14h2v2h-2zm0 12h2v2h-2zm0 3h2v2h-2zm1-5h2v2h-2zm0 1h2v2h-2zm738 63h2v2h-2zm0 0h2v2h-2zm0 1h2v2h-2zm0 1h2v2h-2zm0 0h2v2h-2zm0 1h2v2h-2zm1-8h2v2h-2zm0 1h2v2h-2zm0 4h2v2h-2zm0 0h2v2h-2zm0 1h2v2h-2zm0 0h2v2h-2zm0 0h2v2h-2zm0 1h2v2h-2zm0 1h2v2h-2zm0 0h2v2h-2zm0 2h2v2h-2zm1-9h2v2h-2zm0 3h2v2h-2zm0 0h2v2h-2zm0 1h2v2h-2zm0 0h2v2h-2zm0 2h2v2h-2zm0 5h2v2h-2zm0 11h2v2h-2zm1-22h2v2h-2zm0 4h2v2h-2zm0 1h2v2h-2zm0 0h2v2h-2zm0 2h2v2h-2zm0 0h2v2h-2zm0 0h2v2h-2zm0 1h2v2h-2zm0 1h2v2h-2zm1-5h2v2h-2zm0 0h2v2h-2zm0 0h2v2h-2zm0 2h2v2h-2zm0 0h2v2h-2zm1-5h2v2h-2zm0 3h2v2h-2zm0 1h2v2h-2zm15-19h2v2h-2zm1 31h2v2h-2zm1-16h2v2h-2zm0 6h2v2h-2zm0 1h2v2h-2zm1-35h2v2h-2zm0 26h2v2h-2z"/>
<path fill="#12603a" shape-rendering="crispEdges" d="M425 1614h2v2h-2zm1-6h2v2h-2zm0 2h2v2h-2zm0 1h2v2h-2zm0 2h2v2h-2zm0 4h2v2h-2zm1-7h2v2h-2zm0 1h2v2h-2zm0 3h2v2h-2zm0 1h2v2h-2zm1-9h2v2h-2zm0 4h2v2h-2zm0 1h2v2h-2zm0 1h2v2h-2zm0 1h2v2h-2zm0 2h2v2h-2zm0 4h2v2h-2zm1-13h2v2h-2zm0 0h2v2h-2zm0 1h2v2h-2zm0 4h2v2h-2zm0 2h2v2h-2zm0 1h2v2h-2zm0 1h2v2h-2zm1-6h2v2h-2zm0 1h2v2h-2zm10-6h2v2h-2zm0 9h2v2h-2zm0 2h2v2h-2zm1-8h2v2h-2zm0 1h2v2h-2zm0 1h2v2h-2zm0 2h2v2h-2zm0 1h2v2h-2zm0 3h2v2h-2zm0 1h2v2h-2zm1-3h2v2h-2zm1-3h2v2h-2zm0 0h2v2h-2zm0 0h2v2h-2zm0 0h2v2h-2zm0 1h2v2h-2zm0 0h2v2h-2zm0 3h2v2h-2zm0 0h2v2h-2zm1-7h2v2h-2zm0 0h2v2h-2zm0 6h2v2h-2zm0 3h2v2h-2zm1-7h2v2h-2zm0 1h2v2h-2zm0 0h2v2h-2zm0 0h2v2h-2zm1-4h2v2h-2zm0 2h2v2h-2zm0 1h2v2h-2zm0 9h2v2h-2zm175-14h2v2h-2zm0 5h2v2h-2zm0 1h2v2h-2zm0 3h2v2h-2zm0 0h2v2h-2zm0 1h2v2h-2zm1-1h2v2h-2zm0 1h2v2h-2zm1-9h2v2h-2zm0 0h2v2h-2zm0 2h2v2h-2zm0 4h2v2h-2zm1-7h2v2h-2zm0 1h2v2h-2zm0 9h2v2h-2zm1-3h2v2h-2zm1-6h2v2h-2zm0 3h2v2h-2zm0 2h2v2h-2zm1-3h2v2h-2zm0 0h2v2h-2zm0 6h2v2h-2zm0 1h2v2h-2zm1-10h2v2h-2zm0 3h2v2h-2zm0 3h2v2h-2zm0 3h2v2h-2zm1-8h2v2h-2zm0 5h2v2h-2zm0 2h2v2h-2zm0 1h2v2h-2zm1-12h2v2h-2zm0 6h2v2h-2zm2 4h2v2h-2zm0 0h2v2h-2zm0 6h2v2h-2zm1-13h2v2h-2zm0 1h2v2h-2zm0 1h2v2h-2zm0 4h2v2h-2zm1-2h2v2h-2zm0 2h2v2h-2zm0 4h2v2h-2zm1-7h2v2h-2zm0 0h2v2h-2zm1 3h2v2h-2zm0 3h2v2h-2zm1-15h2v2h-2zm0 12h2v2h-2zm0 3h2v2h-2zm1-9h2v2h-2zm0 9h2v2h-2zm1 1h2v2h-2zm1-3h2v2h-2zm1-5h2v2h-2zm0 2h2v2h-2zm0 3h2v2h-2zm0 5h2v2h-2zm2-4h2v2h-2zm1-4h2v2h-2zm0 4h2v2h-2zm0 1h2v2h-2zm0 1h2v2h-2zm1-6h2v2h-2zm2-4h2v2h-2zm0 1h2v2h-2zm0 2h2v2h-2zm0 4h2v2h-2zm0 0h2v2h-2zm0 2h2v2h-2zm0 6h2v2h-2zm1-10h2v2h-2zm0 2h2v2h-2zm0 0h2v2h-2zm0 1h2v2h-2zm0 3h2v2h-2zm1-6h2v2h-2zm0 8h2v2h-2zm1-10h2v2h-2zm0 5h2v2h-2zm0 6h2v2h-2zm1-13h2v2h-2zm0 0h2v2h-2zm0 3h2v2h-2zm1-1h2v2h-2zm0 2h2v2h-2zm0 6h2v2h-2zm1-16h2v2h-2zm0 9h2v2h-2zm0 3h2v2h-2zm0 2h2v2h-2zm0 0h2v2h-2zm1-5h2v2h-2zm0 7h2v2h-2zm1-3h2v2h-2zm1-5h2v2h-2zm0 2h2v2h-2zm0 2h2v2h-2zm0 1h2v2h-2zm1-6h2v2h-2zm0 9h2v2h-2zm59-7h2v2h-2zm0 1h2v2h-2zm0 1h2v2h-2zm0 0h2v2h-2zm0 1h2v2h-2zm0 2h2v2h-2zm0 4h2v2h-2zm1-11h2v2h-2zm0 6h2v2h-2zm0 1h2v2h-2zm1-5h2v2h-2zm0 5h2v2h-2zm1-2h2v2h-2zm1 0h2v2h-2zm0 0h2v2h-2zm0 2h2v2h-2zm1-5h2v2h-2zm1-4h2v2h-2zm0 1h2v2h-2zm0 7h2v2h-2zm1-9h2v2h-2zm0 8h2v2h-2zm1-3h2v2h-2zm0 3h2v2h-2zm0 1h2v2h-2zm1 0h2v2h-2zm0 4h2v2h-2zm1-5h2v2h-2zm0 6h2v2h-2zm0 1h2v2h-2zm1-9h2v2h-2zm0 5h2v2h-2zm1-5h2v2h-2zm0 0h2v2h-2zm0 0h2v2h-2zm0 5h2v2h-2zm1-8h2v2h-2zm0 3h2v2h-2zm0 1h2v2h-2zm0 1h2v2h-2zm1-8h2v2h-2zm0 9h2v2h-2zm1-5h2v2h-2zm0 2h2v2h-2zm0 4h2v2h-2zm0 2h2v2h-2zm1-6h2v2h-2zm0 1h2v2h-2zm0 4h2v2h-2zm2-5h2v2h-2zm1 0h2v2h-2zm0 1h2v2h-2zm0 2h2v2h-2zm0 4h2v2h-2zm1-3h2v2h-2zm0 5h2v2h-2zm1-8h2v2h-2zm0 3h2v2h-2zm1 1h2v2h-2zm1-4h2v2h-2zm0 1h2v2h-2zm0 1h2v2h-2zm0 1h2v2h-2zm0 1h2v2h-2zm0 5h2v2h-2zm1-9h2v2h-2zm0 1h2v2h-2zm0 2h2v2h-2zm1-6h2v2h-2zm1-3h2v2h-2zm0 4h2v2h-2zm0 1h2v2h-2zm0 6h2v2h-2zm0 2h2v2h-2zm1-4h2v2h-2zm0 1h2v2h-2zm0 2h2v2h-2zm1-12h2v2h-2zm0 2h2v2h-2zm0 1h2v2h-2zm0 4h2v2h-2zm1-3h2v2h-2zm1-1h2v2h-2zm0 13h2v2h-2zm1-18h2v2h-2zm0 7h2v2h-2zm0 8h2v2h-2zm1-7h2v2h-2zm0 1h2v2h-2zm2-6h2v2h-2zm0 3h2v2h-2zm0 1h2v2h-2zm0 3h2v2h-2zm0 1h2v2h-2zm0 2h2v2h-2zm1-13h2v2h-2zm0 5h2v2h-2zm0 3h2v2h-2zm0 3h2v2h-2zm0 5h2v2h-2zm2-8h2v2h-2zm0 1h2v2h-2zm0 1h2v2h-2zm1-2h2v2h-2zm0 2h2v2h-2zm1-3h2v2h-2zm0 6h2v2h-2zm0 1h2v2h-2zm1-7h2v2h-2zm0 3h2v2h-2zm0 0h2v2h-2zm0 0h2v2h-2zm0 3h2v2h-2zm1-3h2v2h-2zm1 0h2v2h-2zm0 2h2v2h-2zm1-3h2v2h-2zm0 1h2v2h-2zm1-3h2v2h-2zm0 0h2v2h-2zm0 8h2v2h-2zm0 1h2v2h-2zm1-10h2v2h-2zm0 2h2v2h-2zm0 2h2v2h-2zm0 6h2v2h-2zm1-5h2v2h-2zm0 0h2v2h-2zm0 0h2v2h-2zm0 1h2v2h-2zm0 0h2v2h-2zm0 0h2v2h-2zm1-6h2v2h-2zm0 4h2v2h-2zm1-8h2v2h-2zm0 3h2v2h-2zm0 2h2v2h-2zm1-4h2v2h-2zm0 4h2v2h-2zm0 4h2v2h-2zm1 0h2v2h-2zm0 0h2v2h-2zm1-2h2v2h-2zm0 0h2v2h-2zm1 1h2v2h-2zm0 1h2v2h-2zm0 3h2v2h-2zm1-13h2v2h-2zm0 5h2v2h-2zm0 2h2v2h-2zm0 4h2v2h-2zm1 0h2v2h-2zm1-8h2v2h-2zm0 6h2v2h-2zm0 5h2v2h-2zm1-8h2v2h-2zm0 0h2v2h-2zm0 10h2v2h-2zm1-15h2v2h-2zm0 10h2v2h-2zm0 1h2v2h-2zm1-7h2v2h-2zm0 5h2v2h-2zm0 1h2v2h-2zm0 2h2v2h-2zm1-8h2v2h-2zm0 6h2v2h-2zm1-1h2v2h-2zm0 0h2v2h-2zm0 2h2v2h-2zm1-1h2v2h-2zm1-7h2v2h-2zm0 3h2v2h-2zm0 1h2v2h-2zm0 1h2v2h-2zm1-4h2v2h-2zm0 1h2v2h-2zm0 3h2v2h-2zm1-8h2v2h-2zm0 4h2v2h-2zm0 2h2v2h-2zm0 1h2v2h-2zm22-1h2v2h-2zm0 1h2v2h-2zm1-3h2v2h-2zm0 1h2v2h-2zm0 1h2v2h-2zm1-1h2v2h-2zm1-5h2v2h-2zm1 1h2v2h-2zm0 5h2v2h-2zm0 3h2v2h-2zm1 0h2v2h-2zm1-7h2v2h-2zm0 2h2v2h-2zm0 6h2v2h-2zm0 1h2v2h-2zm0 1h2v2h-2zm0 2h2v2h-2zm1-9h2v2h-2zm0 1h2v2h-2zm1-3h2v2h-2zm0 1h2v2h-2zm0 5h2v2h-2zm0 1h2v2h-2zm0 3h2v2h-2zm1-9h2v2h-2zm0 5h2v2h-2zm1-4h2v2h-2zm0 3h2v2h-2zm0 0h2v2h-2zm0 0h2v2h-2zm0 4h2v2h-2zm1-9h2v2h-2zm0 6h2v2h-2zm0 0h2v2h-2zm0 2h2v2h-2zm1-2h2v2h-2zm0 0h2v2h-2zm0 1h2v2h-2zm1-6h2v2h-2zm0 1h2v2h-2zm0 2h2v2h-2zm0 3h2v2h-2zm1-1h2v2h-2zm0 1h2v2h-2zm1-4h2v2h-2zm0 2h2v2h-2zm1-7h2v2h-2zm0 3h2v2h-2zm0 2h2v2h-2zm0 0h2v2h-2zm0 0h2v2h-2zm0 1h2v2h-2zm0 1h2v2h-2zm2 0h2v2h-2zm0 3h2v2h-2zm1-2h2v2h-2zm0 2h2v2h-2zm1-8h2v2h-2zm0 5h2v2h-2zm1 0h2v2h-2zm0 2h2v2h-2zm1-5h2v2h-2zm0 0h2v2h-2zm0 1h2v2h-2zm1 1h2v2h-2zm0 2h2v2h-2zm0 1h2v2h-2zm0 1h2v2h-2zm1-10h2v2h-2zm0 7h2v2h-2zm0 1h2v2h-2zm1-2h2v2h-2zm0 1h2v2h-2zm0 2h2v2h-2zm2-4h2v2h-2zm1-3h2v2h-2zm0 3h2v2h-2zm0 1h2v2h-2zm1 0h2v2h-2zm0 1h2v2h-2zm1-4h2v2h-2zm0 4h2v2h-2zm0 3h2v2h-2zm0 1h2v2h-2zm0 0h2v2h-2zm1-5h2v2h-2zm0 4h2v2h-2zm1-7h2v2h-2zm0 2h2v2h-2zm0 2h2v2h-2zm0 3h2v2h-2zm1-1h2v2h-2zm0 2h2v2h-2zm1-7h2v2h-2zm0 10h2v2h-2zm1-12h2v2h-2zm0 0h2v2h-2zm0 3h2v2h-2zm0 12h2v2h-2zm1-17h2v2h-2zm1 7h2v2h-2zm0 1h2v2h-2zm0 5h2v2h-2zm1-8h2v2h-2zm0 1h2v2h-2zm1-4h2v2h-2zm0 1h2v2h-2zm1 2h2v2h-2zm0 2h2v2h-2zm0 1h2v2h-2zm0 7h2v2h-2zm1-10h2v2h-2zm0 2h2v2h-2zm0 0h2v2h-2zm1 1h2v2h-2zm1 0h2v2h-2zm0 0h2v2h-2zm0 3h2v2h-2zm0 0h2v2h-2zm1-9h2v2h-2zm0 0h2v2h-2zm0 10h2v2h-2zm1-5h2v2h-2zm1-3h2v2h-2zm0 2h2v2h-2zm0 4h2v2h-2zm1-12h2v2h-2zm0 6h2v2h-2zm0 1h2v2h-2zm0 1h2v2h-2zm0 0h2v2h-2zm1-5h2v2h-2zm0 4h2v2h-2zm0 6h2v2h-2zm1-9h2v2h-2zm0 3h2v2h-2zm0 2h2v2h-2zm0 4h2v2h-2zm1-5h2v2h-2zm0 2h2v2h-2zm0 4h2v2h-2zm1-5h2v2h-2zm0 0h2v2h-2zm0 2h2v2h-2zm0 0h2v2h-2zm1-7h2v2h-2zm0 1h2v2h-2zm0 4h2v2h-2zm0 3h2v2h-2zm71-13h2v2h-2zm0 2h2v2h-2zm0 1h2v2h-2zm0 0h2v2h-2zm0 3h2v2h-2zm0 0h2v2h-2zm0 3h2v2h-2zm0 3h2v2h-2zm1-20h2v2h-2zm0 6h2v2h-2zm0 4h2v2h-2zm0 1h2v2h-2zm1 1h2v2h-2zm0 5h2v2h-2zm0 4h2v2h-2zm1-14h2v2h-2zm0 2h2v2h-2zm0 1h2v2h-2zm0 7h2v2h-2zm1-8h2v2h-2zm0 8h2v2h-2zm1-4h2v2h-2zm1 2h2v2h-2zm0 0h2v2h-2zm0 6h2v2h-2zm1-5h2v2h-2zm0 2h2v2h-2zm1-7h2v2h-2zm0 3h2v2h-2zm1-1h2v2h-2zm0 1h2v2h-2zm0 5h2v2h-2zm0 1h2v2h-2zm1-10h2v2h-2zm0 0h2v2h-2zm0 3h2v2h-2zm0 2h2v2h-2zm0 4h2v2h-2zm1-7h2v2h-2zm0 3h2v2h-2zm0 1h2v2h-2zm1-11h2v2h-2zm0 10h2v2h-2zm0 2h2v2h-2zm1-9h2v2h-2zm1 10h2v2h-2zm0 7h2v2h-2zm1-8h2v2h-2zm1-7h2v2h-2zm0 1h2v2h-2zm0 1h2v2h-2zm0 3h2v2h-2zm1-4h2v2h-2zm0 3h2v2h-2zm0 2h2v2h-2zm2-1h2v2h-2zm0 1h2v2h-2zm0 0h2v2h-2zm1-2h2v2h-2zm1-6h2v2h-2zm0 6h2v2h-2zm0 2h2v2h-2zm1-6h2v2h-2zm0 4h2v2h-2zm0 7h2v2h-2zm1-9h2v2h-2zm0 3h2v2h-2zm1-1h2v2h-2zm1-9h2v2h-2zm0 9h2v2h-2zm0 3h2v2h-2zm0 4h2v2h-2zm1-10h2v2h-2zm0 3h2v2h-2zm0 1h2v2h-2zm1 4h2v2h-2zm1-7h2v2h-2zm1-1h2v2h-2zm0 2h2v2h-2zm1-1h2v2h-2zm0 1h2v2h-2zm0 0h2v2h-2zm0 2h2v2h-2zm2-3h2v2h-2zm0 1h2v2h-2zm1-3h2v2h-2zm0 3h2v2h-2zm0 0h2v2h-2zm0 5h2v2h-2zm0 2h2v2h-2zm0 4h2v2h-2zm1-10h2v2h-2zm0 2h2v2h-2zm0 1h2v2h-2zm0 4h2v2h-2zm1-16h2v2h-2zm0 3h2v2h-2zm0 9h2v2h-2zm1-3h2v2h-2zm0 0h2v2h-2zm0 0h2v2h-2zm0 1h2v2h-2zm0 6h2v2h-2zm1-12h2v2h-2zm1 3h2v2h-2zm0 8h2v2h-2zm1-7h2v2h-2zm0 2h2v2h-2zm1-4h2v2h-2zm0 0h2v2h-2zm0 0h2v2h-2zm0 1h2v2h-2zm0 3h2v2h-2zm0 2h2v2h-2zm1-6h2v2h-2zm1 0h2v2h-2zm0 5h2v2h-2zm0 7h2v2h-2zm1-13h2v2h-2zm0 3h2v2h-2zm0 2h2v2h-2zm0 1h2v2h-2zm0 2h2v2h-2zm1-7h2v2h-2zm0 7h2v2h-2zm0 2h2v2h-2zm1-3h2v2h-2zm1-4h2v2h-2zm0 3h2v2h-2zm0 0h2v2h-2zm0 0h2v2h-2zm1-12h2v2h-2zm0 7h2v2h-2zm0 1h2v2h-2zm0 1h2v2h-2zm0 3h2v2h-2zm0 2h2v2h-2zm1-6h2v2h-2zm0 0h2v2h-2zm0 1h2v2h-2zm0 5h2v2h-2zm2-8h2v2h-2zm0 3h2v2h-2zm0 2h2v2h-2zm0 0h2v2h-2zm1-10h2v2h-2zm1 7h2v2h-2zm1-4h2v2h-2zm0 3h2v2h-2zm0 1h2v2h-2zm0 4h2v2h-2zm0 3h2v2h-2zm1-10h2v2h-2zm0 2h2v2h-2zm0 0h2v2h-2zm2-9h2v2h-2zm0 5h2v2h-2zm0 7h2v2h-2zm0 0h2v2h-2zm0 3h2v2h-2zm1-7h2v2h-2zm0 4h2v2h-2zm0 1h2v2h-2zm0 6h2v2h-2zm1-14h2v2h-2zm0 7h2v2h-2zm0 1h2v2h-2zm0 0h2v2h-2zm1-5h2v2h-2zm1 4h2v2h-2zm0 1h2v2h-2zm0 3h2v2h-2zm0 9h2v2h-2zm1-9h2v2h-2zm1-5h2v2h-2zm0 0h2v2h-2zm0 1h2v2h-2zm0 2h2v2h-2zm0 5h2v2h-2zm1-10h2v2h-2zm1-3h2v2h-2zm0 3h2v2h-2zm120 1h2v2h-2zm0 4h2v2h-2zm0 5h2v2h-2zm0 2h2v2h-2zm1-10h2v2h-2zm0 1h2v2h-2zm0 1h2v2h-2zm0 0h2v2h-2zm0 1h2v2h-2zm0 0h2v2h-2zm0 6h2v2h-2zm0 3h2v2h-2zm1-11h2v2h-2zm0 1h2v2h-2zm1 8h2v2h-2zm1-7h2v2h-2zm1-2h2v2h-2zm1-2h2v2h-2zm0 3h2v2h-2zm1 21h2v2h-2zm1-20h2v2h-2zm0 0h2v2h-2zm0 2h2v2h-2zm0 3h2v2h-2zm1-3h2v2h-2zm0 1h2v2h-2zm0 1h2v2h-2zm0 2h2v2h-2zm1-12h2v2h-2zm0 0h2v2h-2zm0 3h2v2h-2zm0 3h2v2h-2zm0 4h2v2h-2zm1-7h2v2h-2zm0 3h2v2h-2zm0 0h2v2h-2zm1 1h2v2h-2zm0 0h2v2h-2zm0 3h2v2h-2zm1-9h2v2h-2zm0 3h2v2h-2zm0 2h2v2h-2zm1-8h2v2h-2zm0 17h2v2h-2zm1 0h2v2h-2zm1-21h2v2h-2zm0 5h2v2h-2zm0 3h2v2h-2zm0 1h2v2h-2zm0 3h2v2h-2zm0 3h2v2h-2zm0 1h2v2h-2zm0 1h2v2h-2zm0 0h2v2h-2zm1-8h2v2h-2zm0 5h2v2h-2zm0 3h2v2h-2zm1-4h2v2h-2zm0 3h2v2h-2zm1-5h2v2h-2zm1 2h2v2h-2zm0 0h2v2h-2zm0 1h2v2h-2zm0 1h2v2h-2zm1-3h2v2h-2zm1-4h2v2h-2zm1-5h2v2h-2zm0 7h2v2h-2zm0 0h2v2h-2zm0 5h2v2h-2zm0 2h2v2h-2zm1-7h2v2h-2zm0 1h2v2h-2zm0 2h2v2h-2zm0 0h2v2h-2zm1 2h2v2h-2zm0 0h2v2h-2zm2-8h2v2h-2zm0 4h2v2h-2zm0 6h2v2h-2zm0 2h2v2h-2zm1-7h2v2h-2zm1 2h2v2h-2zm0 1h2v2h-2zm1-4h2v2h-2zm0 5h2v2h-2zm1-6h2v2h-2zm0 2h2v2h-2zm0 3h2v2h-2zm1-7h2v2h-2zm0 1h2v2h-2zm0 3h2v2h-2zm1-2h2v2h-2zm0 3h2v2h-2zm0 2h2v2h-2zm1-8h2v2h-2zm0 2h2v2h-2zm0 5h2v2h-2zm1-9h2v2h-2zm0 4h2v2h-2zm1-1h2v2h-2zm0 3h2v2h-2zm0 0h2v2h-2zm0 2h2v2h-2zm0 1h2v2h-2zm0 1h2v2h-2zm1-6h2v2h-2zm0 0h2v2h-2zm0 2h2v2h-2zm1-2h2v2h-2zm0 2h2v2h-2zm0 3h2v2h-2zm0 3h2v2h-2zm2-7h2v2h-2zm1-1h2v2h-2zm0 0h2v2h-2zm0 5h2v2h-2zm1-7h2v2h-2zm0 3h2v2h-2zm1-2h2v2h-2zm0 5h2v2h-2zm1-4h2v2h-2zm0 1h2v2h-2zm0 3h2v2h-2zm0 1h2v2h-2zm1-3h2v2h-2zm0 2h2v2h-2zm0 3h2v2h-2zm1-8h2v2h-2zm0 2h2v2h-2zm0 1h2v2h-2zm0 5h2v2h-2zm1-4h2v2h-2zm1-4h2v2h-2zm0 12h2v2h-2zm1-18h2v2h-2zm0 7h2v2h-2zm0 2h2v2h-2zm0 1h2v2h-2zm0 1h2v2h-2zm0 0h2v2h-2zm1-2h2v2h-2zm1 2h2v2h-2zm0 1h2v2h-2zm0 1h2v2h-2zm1-10h2v2h-2zm0 5h2v2h-2zm0 4h2v2h-2zm1-2h2v2h-2zm0 12h2v2h-2zm1-12h2v2h-2zm1-5h2v2h-2zm0 5h2v2h-2zm0 1h2v2h-2zm0 1h2v2h-2zm0 1h2v2h-2zm0 2h2v2h-2zm0 1h2v2h-2zm0 1h2v2h-2zm1-13h2v2h-2zm0 1h2v2h-2zm0 2h2v2h-2zm0 1h2v2h-2zm0 3h2v2h-2zm1-4h2v2h-2zm0 2h2v2h-2zm0 6h2v2h-2zm2-12h2v2h-2zm0 4h2v2h-2zm0 0h2v2h-2zm0 5h2v2h-2zm0 3h2v2h-2zm1 2h2v2h-2zm1-18h2v2h-2zm0 8h2v2h-2zm0 4h2v2h-2zm1 0h2v2h-2zm1-7h2v2h-2zm0 2h2v2h-2zm0 5h2v2h-2zm1-4h2v2h-2zm0 0h2v2h-2zm0 4h2v2h-2zm1-6h2v2h-2zm0 4h2v2h-2zm0 0h2v2h-2zm0 8h2v2h-2zm1-9h2v2h-2zm0 3h2v2h-2zm1-5h2v2h-2zm0 2h2v2h-2zm0 1h2v2h-2zm1-3h2v2h-2zm0 2h2v2h-2zm0 1h2v2h-2zm1-7h2v2h-2zm0 6h2v2h-2zm0 4h2v2h-2zm1-8h2v2h-2zm0 9h2v2h-2zm1-10h2v2h-2zm0 2h2v2h-2zm0 3h2v2h-2zm0 3h2v2h-2zm0 1h2v2h-2zm1 2h2v2h-2zm1-13h2v2h-2zm0 5h2v2h-2zm0 1h2v2h-2zm0 5h2v2h-2zm1-4h2v2h-2zm1-5h2v2h-2zm0 2h2v2h-2zm0 5h2v2h-2zm0 1h2v2h-2zm1-10h2v2h-2zm0 4h2v2h-2zm0 5h2v2h-2zm0 1h2v2h-2zm0 4h2v2h-2zm1-9h2v2h-2zm0 1h2v2h-2zm0 3h2v2h-2zm0 0h2v2h-2zm0 5h2v2h-2zm1-13h2v2h-2zm0 12h2v2h-2zm1-13h2v2h-2zm0 9h2v2h-2zm0 1h2v2h-2zm1-8h2v2h-2zm0 5h2v2h-2zm1 0h2v2h-2zm0 4h2v2h-2zm0 5h2v2h-2zm1-11h2v2h-2zm0 4h2v2h-2zm0 2h2v2h-2zm1-7h2v2h-2zm0 2h2v2h-2zm0 2h2v2h-2zm1-3h2v2h-2zm0 2h2v2h-2zm0 1h2v2h-2zm0 4h2v2h-2zm0 1h2v2h-2zm1-11h2v2h-2zm0 0h2v2h-2zm0 0h2v2h-2zm0 2h2v2h-2zm0 5h2v2h-2zm1-12h2v2h-2zm0 12h2v2h-2zm1-2h2v2h-2zm0 0h2v2h-2zm0 2h2v2h-2zm0 1h2v2h-2zm1-5h2v2h-2zm0 0h2v2h-2zm0 3h2v2h-2zm0 1h2v2h-2zm1-5h2v2h-2zm1 5h2v2h-2zm0 7h2v2h-2zm1-21h2v2h-2zm0 8h2v2h-2zm1 2h2v2h-2zm0 0h2v2h-2zm0 1h2v2h-2zm1-7h2v2h-2zm0 4h2v2h-2zm0 5h2v2h-2zm0 1h2v2h-2zm1-7h2v2h-2zm0 3h2v2h-2zm0 0h2v2h-2zm0 5h2v2h-2zm0 3h2v2h-2zm1-7h2v2h-2zm0 1h2v2h-2zm1-1h2v2h-2zm0 4h2v2h-2zm1-2h2v2h-2zm1-5h2v2h-2zm1 4h2v2h-2zm0 0h2v2h-2zm0 3h2v2h-2zm0 4h2v2h-2zm1-13h2v2h-2zm0 1h2v2h-2zm1 7h2v2h-2zm1-7h2v2h-2zm1 0h2v2h-2zm0 1h2v2h-2zm0 1h2v2h-2zm0 1h2v2h-2zm0 0h2v2h-2zm0 5h2v2h-2zm1-10h2v2h-2zm2 6h2v2h-2zm0 2h2v2h-2zm1-4h2v2h-2zm0 1h2v2h-2zm0 0h2v2h-2zm1-6h2v2h-2zm0 3h2v2h-2zm0 9h2v2h-2zm2-9h2v2h-2zm0 2h2v2h-2zm0 2h2v2h-2zm0 2h2v2h-2zm157 5h2v2h-2zm0 1h2v2h-2zm1-4h2v2h-2zm1-1h2v2h-2zm0 4h2v2h-2zm1-5h2v2h-2zm0 1h2v2h-2zm0 1h2v2h-2zm1-6h2v2h-2zm0 11h2v2h-2zm1-10h2v2h-2zm0 4h2v2h-2zm0 1h2v2h-2zm0 7h2v2h-2zm1-9h2v2h-2zm0 0h2v2h-2zm0 3h2v2h-2zm0 2h2v2h-2zm1-6h2v2h-2zm0 0h2v2h-2zm0 3h2v2h-2zm0 1h2v2h-2zm1-4h2v2h-2zm0 3h2v2h-2zm0 2h2v2h-2zm1-1h2v2h-2zm0 1h2v2h-2zm0 0h2v2h-2zm1-2h2v2h-2zm0 0h2v2h-2zm0 4h2v2h-2zm0 1h2v2h-2zm1-11h2v2h-2zm0 3h2v2h-2zm0 3h2v2h-2zm0 6h2v2h-2zm1-13h2v2h-2zm0 8h2v2h-2zm0 0h2v2h-2zm0 2h2v2h-2zm0 1h2v2h-2zm1-4h2v2h-2zm0 1h2v2h-2zm0 0h2v2h-2zm1-4h2v2h-2zm0 5h2v2h-2zm0 1h2v2h-2zm1-8h2v2h-2zm0 4h2v2h-2zm0 2h2v2h-2zm1-3h2v2h-2zm0 0h2v2h-2zm0 4h2v2h-2zm1-6h2v2h-2zm0 4h2v2h-2zm1 8h2v2h-2zm1-13h2v2h-2zm0 5h2v2h-2zm0 0h2v2h-2zm0 3h2v2h-2zm1-6h2v2h-2zm0 5h2v2h-2zm2-4h2v2h-2zm0 0h2v2h-2zm0 2h2v2h-2zm0 0h2v2h-2zm1-4h2v2h-2zm0 5h2v2h-2zm1-8h2v2h-2zm0 0h2v2h-2zm0 4h2v2h-2zm0 0h2v2h-2zm0 3h2v2h-2zm0 0h2v2h-2zm0 5h2v2h-2zm1-7h2v2h-2zm0 4h2v2h-2zm0 6h2v2h-2zm1-11h2v2h-2zm0 1h2v2h-2zm0 0h2v2h-2zm0 2h2v2h-2zm0 0h2v2h-2zm0 1h2v2h-2zm0 2h2v2h-2zm2 1h2v2h-2zm0 0h2v2h-2zm1-5h2v2h-2zm1 3h2v2h-2zm2 3h2v2h-2zm19-10h2v2h-2zm1-1h2v2h-2zm0 4h2v2h-2zm1-1h2v2h-2zm0 8h2v2h-2zm2-10h2v2h-2zm0 3h2v2h-2zm0 1h2v2h-2zm0 5h2v2h-2zm1-11h2v2h-2zm0 0h2v2h-2zm0 1h2v2h-2zm1 3h2v2h-2zm0 0h2v2h-2zm0 1h2v2h-2zm1-5h2v2h-2zm0 1h2v2h-2zm0 1h2v2h-2zm0 7h2v2h-2zm1-11h2v2h-2zm0 8h2v2h-2zm0 1h2v2h-2zm1-7h2v2h-2zm0 1h2v2h-2zm1-4h2v2h-2zm0 2h2v2h-2zm0 4h2v2h-2zm1-8h2v2h-2zm0 7h2v2h-2zm1 0h2v2h-2zm0 2h2v2h-2zm1-9h2v2h-2zm0 6h2v2h-2zm0 0h2v2h-2zm0 2h2v2h-2zm0 6h2v2h-2zm1-13h2v2h-2zm0 1h2v2h-2zm1 5h2v2h-2zm0 1h2v2h-2zm1-7h2v2h-2zm0 1h2v2h-2zm0 1h2v2h-2zm0 5h2v2h-2zm0 1h2v2h-2zm0 0h2v2h-2zm0 1h2v2h-2zm0 1h2v2h-2zm1-12h2v2h-2zm0 4h2v2h-2zm0 0h2v2h-2zm0 10h2v2h-2zm1-5h2v2h-2zm0 4h2v2h-2zm1-17h2v2h-2zm0 9h2v2h-2zm0 11h2v2h-2zm41-7h2v2h-2zm1-6h2v2h-2zm0 1h2v2h-2zm0 5h2v2h-2zm0 2h2v2h-2zm1-5h2v2h-2zm0 6h2v2h-2zm0 0h2v2h-2zm0 1h2v2h-2zm1-5h2v2h-2zm0 3h2v2h-2zm1-1h2v2h-2zm0 0h2v2h-2zm0 0h2v2h-2zm0 2h2v2h-2zm0 4h2v2h-2zm1-6h2v2h-2zm0 2h2v2h-2zm1-3h2v2h-2zm0 4h2v2h-2zm1-9h2v2h-2zm0 1h2v2h-2zm0 1h2v2h-2zm0 1h2v2h-2zm0 3h2v2h-2zm0 5h2v2h-2zm1-10h2v2h-2zm0 2h2v2h-2zm0 2h2v2h-2zm0 4h2v2h-2zm1 1h2v2h-2zm1-6h2v2h-2zm0 4h2v2h-2zm1-5h2v2h-2zm1-2h2v2h-2zm0 8h2v2h-2zm2 2h2v2h-2zm1-8h2v2h-2zm0 2h2v2h-2zm0 3h2v2h-2zm0 1h2v2h-2zm0 1h2v2h-2zm2-4h2v2h-2zm0 0h2v2h-2zm0 2h2v2h-2zm0 0h2v2h-2zm0 3h2v2h-2zm0 0h2v2h-2zm0 3h2v2h-2zm1-8h2v2h-2zm0 1h2v2h-2zm0 2h2v2h-2zm1-9h2v2h-2zm0 1h2v2h-2zm0 4h2v2h-2zm0 1h2v2h-2zm0 1h2v2h-2zm1-6h2v2h-2zm0 0h2v2h-2zm0 0h2v2h-2zm0 4h2v2h-2zm0 1h2v2h-2zm1-6h2v2h-2zm0 2h2v2h-2zm0 1h2v2h-2zm0 2h2v2h-2zm0 2h2v2h-2zm0 1h2v2h-2zm0 0h2v2h-2zm0 5h2v2h-2zm1-11h2v2h-2zm0 1h2v2h-2zm0 1h2v2h-2zm1 1h2v2h-2zm1-4h2v2h-2zm0 0h2v2h-2zm0 5h2v2h-2zm1-10h2v2h-2zm0 10h2v2h-2zm1-3h2v2h-2zm0 2h2v2h-2zm0 1h2v2h-2zm0 3h2v2h-2zm0 1h2v2h-2zm3-7h2v2h-2zm0 3h2v2h-2zm1 1h2v2h-2zm1-2h2v2h-2zm0 1h2v2h-2zm0 2h2v2h-2zm0 2h2v2h-2zm0 0h2v2h-2zm55-4h2v2h-2zm1-5h2v2h-2zm0 2h2v2h-2zm0 0h2v2h-2zm1-1h2v2h-2zm0 1h2v2h-2zm0 1h2v2h-2zm0 2h2v2h-2zm0 1h2v2h-2zm0 0h2v2h-2zm0 6h2v2h-2zm1-11h2v2h-2zm0 1h2v2h-2zm0 4h2v2h-2zm0 1h2v2h-2zm0 2h2v2h-2zm0 1h2v2h-2zm1-9h2v2h-2zm0 1h2v2h-2zm0 0h2v2h-2zm0 1h2v2h-2zm0 1h2v2h-2zm0 0h2v2h-2zm0 4h2v2h-2zm1-11h2v2h-2zm1 7h2v2h-2zm11-4h2v2h-2zm0 8h2v2h-2zm0 2h2v2h-2zm1-6h2v2h-2zm0 0h2v2h-2zm0 1h2v2h-2zm0 1h2v2h-2zm0 1h2v2h-2zm0 3h2v2h-2zm0 5h2v2h-2zm1-16h2v2h-2zm0 2h2v2h-2zm0 1h2v2h-2zm0 2h2v2h-2zm0 1h2v2h-2zm0 0h2v2h-2zm0 1h2v2h-2zm0 1h2v2h-2zm0 1h2v2h-2zm0 1h2v2h-2zm0 1h2v2h-2zm1-2h2v2h-2zm0 2h2v2h-2zm1-6h2v2h-2zm0 4h2v2h-2zm0 2h2v2h-2zm1-4h2v2h-2zm0 7h2v2h-2zm1-11h2v2h-2zm0 2h2v2h-2zm0 5h2v2h-2zm0 2h2v2h-2zm0 0h2v2h-2zm0 1h2v2h-2zm1-5h2v2h-2zm0 6h2v2h-2zm1-6h2v2h-2zm0 4h2v2h-2zm1-6h2v2h-2zm0 0h2v2h-2zm0 6h2v2h-2zm1-8h2v2h-2zm0 4h2v2h-2zm0 0h2v2h-2zm0 1h2v2h-2zm0 0h2v2h-2zm1-12h2v2h-2zm0 9h2v2h-2z"/>
<path fill="#2d5ea9" shape-rendering="crispEdges" d="M520 1571h2v2h-2zm1-12h2v2h-2zm0 5h2v2h-2zm0 6h2v2h-2zm0 1h2v2h-2zm2-10h2v2h-2zm0 2h2v2h-2zm0 3h2v2h-2zm0 1h2v2h-2zm0 3h2v2h-2zm1-4h2v2h-2zm0 0h2v2h-2zm0 1h2v2h-2zm0 5h2v2h-2zm0 6h2v2h-2zm1-17h2v2h-2zm0 6h2v2h-2zm0 5h2v2h-2zm0 4h2v2h-2zm1-10h2v2h-2zm0 2h2v2h-2zm0 3h2v2h-2zm1-1h2v2h-2zm0 0h2v2h-2zm0 1h2v2h-2zm0 3h2v2h-2zm1-11h2v2h-2zm0 1h2v2h-2zm0 3h2v2h-2zm0 2h2v2h-2zm1-7h2v2h-2zm0 1h2v2h-2zm0 4h2v2h-2zm0 7h2v2h-2zm1-13h2v2h-2zm2 1h2v2h-2zm0 1h2v2h-2zm0 2h2v2h-2zm0 0h2v2h-2zm0 0h2v2h-2zm0 4h2v2h-2zm0 5h2v2h-2zm1-9h2v2h-2zm0 2h2v2h-2zm0 0h2v2h-2zm1-8h2v2h-2zm0 5h2v2h-2zm0 6h2v2h-2zm0 0h2v2h-2zm0 1h2v2h-2zm1-11h2v2h-2zm0 1h2v2h-2zm0 4h2v2h-2zm0 1h2v2h-2zm0 2h2v2h-2zm0 5h2v2h-2zm1-12h2v2h-2zm0 8h2v2h-2zm0 1h2v2h-2zm0 2h2v2h-2zm1-2h2v2h-2zm1-4h2v2h-2zm0 2h2v2h-2zm1-3h2v2h-2zm0 3h2v2h-2zm0 2h2v2h-2zm0 1h2v2h-2zm1-7h2v2h-2zm0 5h2v2h-2zm0 6h2v2h-2zm2-8h2v2h-2zm0 3h2v2h-2zm1-7h2v2h-2zm0 2h2v2h-2zm0 2h2v2h-2zm0 2h2v2h-2zm0 4h2v2h-2zm1-6h2v2h-2zm0 4h2v2h-2zm0 1h2v2h-2zm0 2h2v2h-2zm1-6h2v2h-2zm1-2h2v2h-2zm0 7h2v2h-2zm1-9h2v2h-2zm1 4h2v2h-2zm0 0h2v2h-2zm0 1h2v2h-2zm0 4h2v2h-2zm0 2h2v2h-2zm1-7h2v2h-2zm0 2h2v2h-2zm0 2h2v2h-2zm0 1h2v2h-2zm1-11h2v2h-2zm0 6h2v2h-2zm0 1h2v2h-2zm0 7h2v2h-2zm0 3h2v2h-2zm1-10h2v2h-2zm0 2h2v2h-2zm1-15h2v2h-2zm0 7h2v2h-2zm0 10h2v2h-2zm0 3h2v2h-2zm2-11h2v2h-2zm0 5h2v2h-2zm0 0h2v2h-2zm0 1h2v2h-2zm0 1h2v2h-2zm0 2h2v2h-2zm1-17h2v2h-2zm0 12h2v2h-2zm0 5h2v2h-2zm1-8h2v2h-2zm2 1h2v2h-2zm0 7h2v2h-2zm0 3h2v2h-2zm1-5h2v2h-2zm0 0h2v2h-2zm1 0h2v2h-2zm1-9h2v2h-2zm0 7h2v2h-2zm0 3h2v2h-2zm1-8h2v2h-2zm0 5h2v2h-2zm0 1h2v2h-2zm1-12h2v2h-2zm0 8h2v2h-2zm0 1h2v2h-2zm0 0h2v2h-2zm1 1h2v2h-2zm0 5h2v2h-2zm1-12h2v2h-2zm0 2h2v2h-2zm0 3h2v2h-2zm0 3h2v2h-2zm0 3h2v2h-2zm0 10h2v2h-2zm1-14h2v2h-2zm0 6h2v2h-2zm1-14h2v2h-2zm0 5h2v2h-2zm0 3h2v2h-2zm1-5h2v2h-2zm1 5h2v2h-2zm1-9h2v2h-2zm0 7h2v2h-2zm0 5h2v2h-2zm0 3h2v2h-2zm1 2h2v2h-2zm1-15h2v2h-2zm0 5h2v2h-2zm0 1h2v2h-2zm0 1h2v2h-2zm0 7h2v2h-2zm1-13h2v2h-2zm0 4h2v2h-2zm1-5h2v2h-2zm0 6h2v2h-2zm0 3h2v2h-2zm1-10h2v2h-2zm0 6h2v2h-2zm1-6h2v2h-2zm0 8h2v2h-2zm1-1h2v2h-2zm1 0h2v2h-2zm0 1h2v2h-2zm0 1h2v2h-2zm0 3h2v2h-2zm0 1h2v2h-2zm1-12h2v2h-2zm0 2h2v2h-2zm1-2h2v2h-2zm0 4h2v2h-2zm0 0h2v2h-2zm0 1h2v2h-2zm0 0h2v2h-2zm0 6h2v2h-2zm1-7h2v2h-2zm0 3h2v2h-2zm0 0h2v2h-2zm0 2h2v2h-2zm0 2h2v2h-2zm1-9h2v2h-2zm1-5h2v2h-2zm0 10h2v2h-2zm0 3h2v2h-2zm0 4h2v2h-2zm1-14h2v2h-2zm0 2h2v2h-2zm0 5h2v2h-2zm0 2h2v2h-2zm1-7h2v2h-2zm1-2h2v2h-2zm0 2h2v2h-2zm0 3h2v2h-2zm0 3h2v2h-2zm0 3h2v2h-2zm0 2h2v2h-2zm1-8h2v2h-2zm2-1h2v2h-2zm0 2h2v2h-2zm1 2h2v2h-2zm0 1h2v2h-2zm1-7h2v2h-2zm0 2h2v2h-2zm0 2h2v2h-2zm1-7h2v2h-2zm0 8h2v2h-2zm0 2h2v2h-2zm1-5h2v2h-2zm0 7h2v2h-2zm0 1h2v2h-2zm1-8h2v2h-2zm0 0h2v2h-2zm0 7h2v2h-2zm1-6h2v2h-2zm0 3h2v2h-2zm1 0h2v2h-2zm1-3h2v2h-2zm0 10h2v2h-2zm1-10h2v2h-2zm0 3h2v2h-2zm0 3h2v2h-2zm0 1h2v2h-2zm1-6h2v2h-2zm0 0h2v2h-2zm0 2h2v2h-2zm0 0h2v2h-2zm1 2h2v2h-2zm1-9h2v2h-2zm0 6h2v2h-2zm1-2h2v2h-2zm1-2h2v2h-2zm0 5h2v2h-2zm1-4h2v2h-2zm0 1h2v2h-2zm0 7h2v2h-2zm1-12h2v2h-2zm1 11h2v2h-2zm1-9h2v2h-2zm0 1h2v2h-2zm0 4h2v2h-2zm0 3h2v2h-2zm1-7h2v2h-2zm0 3h2v2h-2zm0 3h2v2h-2zm2-9h2v2h-2zm0 3h2v2h-2zm0 3h2v2h-2zm0 0h2v2h-2zm0 13h2v2h-2zm1-21h2v2h-2zm0 10h2v2h-2zm0 1h2v2h-2zm1-1h2v2h-2zm0 1h2v2h-2zm1-7h2v2h-2zm2 0h2v2h-2zm1-1h2v2h-2zm0 1h2v2h-2zm1-3h2v2h-2zm0 0h2v2h-2zm0 1h2v2h-2zm0 2h2v2h-2zm0 3h2v2h-2zm0 3h2v2h-2zm0 2h2v2h-2zm1-7h2v2h-2zm0 1h2v2h-2zm0 7h2v2h-2zm0 3h2v2h-2zm1-11h2v2h-2zm0 4h2v2h-2zm0 3h2v2h-2zm0 1h2v2h-2zm1-7h2v2h-2zm0 3h2v2h-2zm0 3h2v2h-2zm1-3h2v2h-2zm88 2h2v2h-2zm1-14h2v2h-2zm0 3h2v2h-2zm0 2h2v2h-2zm0 3h2v2h-2zm0 6h2v2h-2zm1-7h2v2h-2zm0 3h2v2h-2zm1-4h2v2h-2zm0 1h2v2h-2zm0 1h2v2h-2zm0 3h2v2h-2zm1-6h2v2h-2zm0 2h2v2h-2zm0 3h2v2h-2zm1 1h2v2h-2zm0 1h2v2h-2zm1-8h2v2h-2zm0 2h2v2h-2zm0 5h2v2h-2zm0 11h2v2h-2zm140-14h2v2h-2zm1-8h2v2h-2zm0 14h2v2h-2zm1-10h2v2h-2zm0 4h2v2h-2zm0 3h2v2h-2zm1-7h2v2h-2zm0 2h2v2h-2zm0 4h2v2h-2zm0 2h2v2h-2zm1-6h2v2h-2zm0 5h2v2h-2zm1-7h2v2h-2zm0 4h2v2h-2zm0 4h2v2h-2zm0 1h2v2h-2zm0 0h2v2h-2zm1-3h2v2h-2zm0 4h2v2h-2zm1-4h2v2h-2zm0 2h2v2h-2zm1 0h2v2h-2zm1-1h2v2h-2zm0 2h2v2h-2zm1-5h2v2h-2zm0 1h2v2h-2zm0 2h2v2h-2zm0 1h2v2h-2zm0 4h2v2h-2zm1-11h2v2h-2zm0 2h2v2h-2zm0 3h2v2h-2zm0 5h2v2h-2zm0 1h2v2h-2zm1-7h2v2h-2zm2 3h2v2h-2zm1 1h2v2h-2zm1-4h2v2h-2zm0 1h2v2h-2zm0 2h2v2h-2zm1-1h2v2h-2zm0 0h2v2h-2zm0 3h2v2h-2zm1-5h2v2h-2zm0 3h2v2h-2zm0 1h2v2h-2zm1-5h2v2h-2zm0 1h2v2h-2zm0 2h2v2h-2zm0 1h2v2h-2zm0 1h2v2h-2zm1-10h2v2h-2zm0 2h2v2h-2zm0 2h2v2h-2zm0 3h2v2h-2zm0 0h2v2h-2zm0 5h2v2h-2zm1-6h2v2h-2zm0 0h2v2h-2zm0 2h2v2h-2zm1-3h2v2h-2zm0 1h2v2h-2zm0 1h2v2h-2zm0 1h2v2h-2zm1-5h2v2h-2zm0 13h2v2h-2zm1-10h2v2h-2zm0 3h2v2h-2zm1-4h2v2h-2zm0 2h2v2h-2zm0 5h2v2h-2zm0 0h2v2h-2zm1-10h2v2h-2zm0 2h2v2h-2zm0 4h2v2h-2zm0 3h2v2h-2zm0 7h2v2h-2zm1-8h2v2h-2zm0 4h2v2h-2zm1-6h2v2h-2zm0 2h2v2h-2zm0 1h2v2h-2zm1-2h2v2h-2zm1 1h2v2h-2zm1-9h2v2h-2zm0 5h2v2h-2zm0 3h2v2h-2zm0 1h2v2h-2zm1-7h2v2h-2zm0 5h2v2h-2zm0 4h2v2h-2zm1-11h2v2h-2zm0 7h2v2h-2zm1-7h2v2h-2zm0 5h2v2h-2zm0 8h2v2h-2zm1-19h2v2h-2zm1 12h2v2h-2zm0 2h2v2h-2zm0 3h2v2h-2zm1-5h2v2h-2zm0 2h2v2h-2zm0 3h2v2h-2zm1-7h2v2h-2zm0 0h2v2h-2zm0 7h2v2h-2zm0 1h2v2h-2zm1-8h2v2h-2zm0 1h2v2h-2zm0 2h2v2h-2zm1 2h2v2h-2zm0 3h2v2h-2zm0 0h2v2h-2zm1-11h2v2h-2zm0 2h2v2h-2zm0 1h2v2h-2zm0 9h2v2h-2zm0 1h2v2h-2zm1-11h2v2h-2zm0 6h2v2h-2zm0 1h2v2h-2zm1-9h2v2h-2zm0 5h2v2h-2zm0 4h2v2h-2zm1-10h2v2h-2zm0 16h2v2h-2zm1-14h2v2h-2zm0 0h2v2h-2zm0 6h2v2h-2zm0 1h2v2h-2zm1 6h2v2h-2zm2-9h2v2h-2zm0 1h2v2h-2zm0 5h2v2h-2zm1-14h2v2h-2zm0 1h2v2h-2zm0 3h2v2h-2zm0 4h2v2h-2zm1-5h2v2h-2zm0 3h2v2h-2zm0 1h2v2h-2zm0 0h2v2h-2zm0 8h2v2h-2zm1-12h2v2h-2zm0 3h2v2h-2zm1 4h2v2h-2zm0 4h2v2h-2zm1-4h2v2h-2zm1-1h2v2h-2zm0 1h2v2h-2zm0 2h2v2h-2zm1-5h2v2h-2zm0 0h2v2h-2zm0 3h2v2h-2zm0 2h2v2h-2zm0 1h2v2h-2zm1-2h2v2h-2zm0 0h2v2h-2zm1-9h2v2h-2zm0 3h2v2h-2zm0 0h2v2h-2zm1 4h2v2h-2zm0 11h2v2h-2zm1-13h2v2h-2zm1-2h2v2h-2zm0 3h2v2h-2zm0 2h2v2h-2zm0 0h2v2h-2zm0 4h2v2h-2zm1-13h2v2h-2zm0 7h2v2h-2zm1 0h2v2h-2zm0 4h2v2h-2zm1-19h2v2h-2zm0 7h2v2h-2zm0 7h2v2h-2zm0 2h2v2h-2zm1 11h2v2h-2zm1-17h2v2h-2zm0 4h2v2h-2zm1 1h2v2h-2zm0 1h2v2h-2zm0 2h2v2h-2zm0 5h2v2h-2zm1-8h2v2h-2zm0 1h2v2h-2zm0 1h2v2h-2zm0 1h2v2h-2zm1-8h2v2h-2zm0 6h2v2h-2zm0 4h2v2h-2zm0 1h2v2h-2zm1-8h2v2h-2zm0 7h2v2h-2zm0 5h2v2h-2zm126-5h2v2h-2zm1 0h2v2h-2zm0 6h2v2h-2zm1-12h2v2h-2zm0 2h2v2h-2zm0 2h2v2h-2zm0 1h2v2h-2zm0 1h2v2h-2zm0 2h2v2h-2zm1-9h2v2h-2zm1 3h2v2h-2zm0 21h2v2h-2zm0 4h2v2h-2zm1-25h2v2h-2zm0 9h2v2h-2zm1-17h2v2h-2zm0 5h2v2h-2zm0 4h2v2h-2zm0 2h2v2h-2zm1-2h2v2h-2zm1-7h2v2h-2zm0 1h2v2h-2zm0 4h2v2h-2zm0 1h2v2h-2zm0 1h2v2h-2zm0 3h2v2h-2zm0 9h2v2h-2zm1-17h2v2h-2zm0 3h2v2h-2zm0 4h2v2h-2zm1-6h2v2h-2zm0 2h2v2h-2zm1 0h2v2h-2zm1-3h2v2h-2zm0 4h2v2h-2zm0 1h2v2h-2zm0 2h2v2h-2zm1-5h2v2h-2zm0 6h2v2h-2zm1-7h2v2h-2zm0 2h2v2h-2zm0 2h2v2h-2zm1-2h2v2h-2zm0 5h2v2h-2zm14-12h2v2h-2zm0 8h2v2h-2zm1 0h2v2h-2zm0 4h2v2h-2zm0 1h2v2h-2zm2-8h2v2h-2zm0 8h2v2h-2zm0 4h2v2h-2zm0 0h2v2h-2zm1-13h2v2h-2zm1 1h2v2h-2zm0 4h2v2h-2zm0 1h2v2h-2zm0 4h2v2h-2zm0 5h2v2h-2zm1-15h2v2h-2zm0 2h2v2h-2zm1 0h2v2h-2zm0 3h2v2h-2zm1-5h2v2h-2zm0 6h2v2h-2zm0 0h2v2h-2zm0 2h2v2h-2zm0 2h2v2h-2zm1-9h2v2h-2zm0 2h2v2h-2zm1-2h2v2h-2zm0 3h2v2h-2zm0 3h2v2h-2zm1-4h2v2h-2zm0 2h2v2h-2zm0 1h2v2h-2zm1-5h2v2h-2zm0 0h2v2h-2zm0 7h2v2h-2zm1-7h2v2h-2zm0 2h2v2h-2zm0 2h2v2h-2zm0 0h2v2h-2zm1 1h2v2h-2zm0 1h2v2h-2zm1-6h2v2h-2zm0 2h2v2h-2zm0 4h2v2h-2zm0 3h2v2h-2zm1-6h2v2h-2zm2-4h2v2h-2zm0 5h2v2h-2zm0 2h2v2h-2zm0 0h2v2h-2zm0 6h2v2h-2zm1-12h2v2h-2zm0 3h2v2h-2zm0 0h2v2h-2zm1 0h2v2h-2zm0 0h2v2h-2zm0 5h2v2h-2zm1-9h2v2h-2zm0 3h2v2h-2zm0 1h2v2h-2zm0 0h2v2h-2zm0 1h2v2h-2zm0 6h2v2h-2zm1-11h2v2h-2zm0 7h2v2h-2zm1-4h2v2h-2zm1 1h2v2h-2zm0 1h2v2h-2zm0 3h2v2h-2zm0 0h2v2h-2zm0 1h2v2h-2zm1-10h2v2h-2zm0 2h2v2h-2zm0 1h2v2h-2zm1 4h2v2h-2zm0 3h2v2h-2zm0 0h2v2h-2zm1-7h2v2h-2zm1-5h2v2h-2zm0 2h2v2h-2zm0 5h2v2h-2zm0 10h2v2h-2zm0 3h2v2h-2zm0 4h2v2h-2zm1-20h2v2h-2zm0 2h2v2h-2zm0 6h2v2h-2zm112-6h2v2h-2zm0 11h2v2h-2zm1-15h2v2h-2zm0 9h2v2h-2zm1-1h2v2h-2zm1 0h2v2h-2zm1-7h2v2h-2zm0 6h2v2h-2zm1-2h2v2h-2zm0 2h2v2h-2zm0 1h2v2h-2zm1 2h2v2h-2zm0 0h2v2h-2zm1-9h2v2h-2zm0 9h2v2h-2zm2-10h2v2h-2zm0 10h2v2h-2zm1-10h2v2h-2zm0 6h2v2h-2zm1-1h2v2h-2zm0 1h2v2h-2zm0 6h2v2h-2zm1-5h2v2h-2zm1-5h2v2h-2zm0 3h2v2h-2zm0 2h2v2h-2zm0 4h2v2h-2zm1-11h2v2h-2zm0 2h2v2h-2zm0 2h2v2h-2zm0 0h2v2h-2zm0 3h2v2h-2zm0 0h2v2h-2zm0 2h2v2h-2zm1-5h2v2h-2zm0 2h2v2h-2zm1-5h2v2h-2zm0 0h2v2h-2zm0 5h2v2h-2zm1 1h2v2h-2zm0 1h2v2h-2zm1-3h2v2h-2zm0 4h2v2h-2zm0 1h2v2h-2zm0 0h2v2h-2zm0 0h2v2h-2zm0 1h2v2h-2zm1-2h2v2h-2zm0 2h2v2h-2zm2-9h2v2h-2zm1 1h2v2h-2zm0 2h2v2h-2zm0 1h2v2h-2zm0 2h2v2h-2zm1-1h2v2h-2zm0 6h2v2h-2zm0 1h2v2h-2zm1-9h2v2h-2zm1 1h2v2h-2zm0 0h2v2h-2zm0 1h2v2h-2zm0 5h2v2h-2zm0 1h2v2h-2zm0 4h2v2h-2zm2-19h2v2h-2zm0 7h2v2h-2zm0 1h2v2h-2zm0 1h2v2h-2zm0 9h2v2h-2zm2-16h2v2h-2zm0 5h2v2h-2zm0 4h2v2h-2zm0 1h2v2h-2zm0 5h2v2h-2zm1-15h2v2h-2zm0 7h2v2h-2zm1-6h2v2h-2zm0 0h2v2h-2zm0 3h2v2h-2zm0 0h2v2h-2zm0 2h2v2h-2zm0 2h2v2h-2zm0 0h2v2h-2zm0 0h2v2h-2zm1 1h2v2h-2zm0 4h2v2h-2zm1-7h2v2h-2zm0 4h2v2h-2zm1-4h2v2h-2zm0 4h2v2h-2zm2-9h2v2h-2zm0 4h2v2h-2zm1-6h2v2h-2zm0 4h2v2h-2zm0 2h2v2h-2zm0 2h2v2h-2zm0 1h2v2h-2zm1-7h2v2h-2zm0 3h2v2h-2zm0 2h2v2h-2zm0 0h2v2h-2zm0 0h2v2h-2zm0 2h2v2h-2zm0 3h2v2h-2zm1-6h2v2h-2zm0 4h2v2h-2zm1-9h2v2h-2zm0 5h2v2h-2zm0 1h2v2h-2zm0 3h2v2h-2zm0 7h2v2h-2zm1-11h2v2h-2zm0 2h2v2h-2zm0 2h2v2h-2zm0 1h2v2h-2zm0 2h2v2h-2zm1-8h2v2h-2zm0 3h2v2h-2zm1-2h2v2h-2zm0 1h2v2h-2zm0 1h2v2h-2zm0 10h2v2h-2zm1-13h2v2h-2zm0 6h2v2h-2zm0 5h2v2h-2zm1-14h2v2h-2zm0 9h2v2h-2zm1-7h2v2h-2zm0 4h2v2h-2zm0 2h2v2h-2zm1-5h2v2h-2zm0 0h2v2h-2zm0 2h2v2h-2zm0 2h2v2h-2zm1-3h2v2h-2zm0 2h2v2h-2zm1-5h2v2h-2zm0 2h2v2h-2zm0 5h2v2h-2zm0 2h2v2h-2zm1-10h2v2h-2zm0 8h2v2h-2zm0 2h2v2h-2zm1-2h2v2h-2zm0 0h2v2h-2zm1-21h2v2h-2zm0 16h2v2h-2zm0 2h2v2h-2zm1-7h2v2h-2zm0 8h2v2h-2zm0 1h2v2h-2zm0 0h2v2h-2zm1 1h2v2h-2zm0 2h2v2h-2zm57-12h2v2h-2zm0 5h2v2h-2zm0 3h2v2h-2zm0 3h2v2h-2zm1-6h2v2h-2zm0 2h2v2h-2zm0 2h2v2h-2zm1-3h2v2h-2zm0 4h2v2h-2zm1-12h2v2h-2zm0 6h2v2h-2zm0 2h2v2h-2zm0 3h2v2h-2zm1-8h2v2h-2zm0 2h2v2h-2zm0 0h2v2h-2zm0 5h2v2h-2zm0 1h2v2h-2zm1-6h2v2h-2zm0 4h2v2h-2zm1-3h2v2h-2zm0 2h2v2h-2zm0 1h2v2h-2zm1-5h2v2h-2zm0 3h2v2h-2zm0 1h2v2h-2zm0 2h2v2h-2zm0 1h2v2h-2zm1-8h2v2h-2zm0 1h2v2h-2zm0 2h2v2h-2zm0 3h2v2h-2zm1-3h2v2h-2zm1 4h2v2h-2zm1 0h2v2h-2zm0 1h2v2h-2zm1-5h2v2h-2zm0 0h2v2h-2zm1-1h2v2h-2zm0 1h2v2h-2zm0 1h2v2h-2zm2-3h2v2h-2zm0 5h2v2h-2zm0 1h2v2h-2zm0 8h2v2h-2zm1-17h2v2h-2zm1 2h2v2h-2zm0 2h2v2h-2zm0 1h2v2h-2zm1-1h2v2h-2zm0 4h2v2h-2zm1-6h2v2h-2zm0 4h2v2h-2zm0 2h2v2h-2zm1-3h2v2h-2zm0 0h2v2h-2zm0 1h2v2h-2zm1-2h2v2h-2zm0 1h2v2h-2zm1 0h2v2h-2zm0 2h2v2h-2zm0 2h2v2h-2zm0 1h2v2h-2zm1-5h2v2h-2zm0 4h2v2h-2zm0 0h2v2h-2zm1-6h2v2h-2zm0 0h2v2h-2zm0 2h2v2h-2zm0 6h2v2h-2zm1-11h2v2h-2zm0 5h2v2h-2zm0 8h2v2h-2zm1-8h2v2h-2zm0 4h2v2h-2zm1-5h2v2h-2zm0 1h2v2h-2zm1-1h2v2h-2zm0 7h2v2h-2zm1-8h2v2h-2zm0 1h2v2h-2zm0 1h2v2h-2zm0 1h2v2h-2zm0 0h2v2h-2zm0 2h2v2h-2zm0 1h2v2h-2zm1-6h2v2h-2zm0 3h2v2h-2zm0 1h2v2h-2zm0 5h2v2h-2zm1-7h2v2h-2zm0 6h2v2h-2zm1-5h2v2h-2zm0 4h2v2h-2zm1-7h2v2h-2zm0 6h2v2h-2zm46-3h2v2h-2zm2-9h2v2h-2zm0 1h2v2h-2zm0 4h2v2h-2zm0 2h2v2h-2zm0 11h2v2h-2zm1-7h2v2h-2zm1-3h2v2h-2zm0 7h2v2h-2zm2-21h2v2h-2zm0 20h2v2h-2zm1-12h2v2h-2zm0 2h2v2h-2zm0 7h2v2h-2zm62-10h2v2h-2zm0 3h2v2h-2zm1 2h2v2h-2zm0 3h2v2h-2zm1-11h2v2h-2zm0 6h2v2h-2zm0 1h2v2h-2zm0 1h2v2h-2zm0 1h2v2h-2zm1-7h2v2h-2zm0 2h2v2h-2zm1-3h2v2h-2zm0 4h2v2h-2zm0 2h2v2h-2zm0 0h2v2h-2zm1-3h2v2h-2zm0 0h2v2h-2zm0 2h2v2h-2zm0 3h2v2h-2zm0 0h2v2h-2zm0 1h2v2h-2zm1 0h2v2h-2zm62 0h2v2h-2zm1-3h2v2h-2zm0 2h2v2h-2zm0 3h2v2h-2zm0 0h2v2h-2zm0 1h2v2h-2zm0 1h2v2h-2zm1-15h2v2h-2zm0 14h2v2h-2zm1-6h2v2h-2zm0 3h2v2h-2zm0 3h2v2h-2zm0 1h2v2h-2zm1-3h2v2h-2zm0 1h2v2h-2zm0 2h2v2h-2zm1-3h2v2h-2zm0 1h2v2h-2zm0 3h2v2h-2zm0 2h2v2h-2zm1-5h2v2h-2zm67-1h2v2h-2zm0 2h2v2h-2zm1-3h2v2h-2zm0 2h2v2h-2zm1 0h2v2h-2zm0 2h2v2h-2zm1-2h2v2h-2zm0 0h2v2h-2zm0 3h2v2h-2zm0 1h2v2h-2zm0 1h2v2h-2zm2-6h2v2h-2zm0 1h2v2h-2zm0 3h2v2h-2zm0 0h2v2h-2zm0 2h2v2h-2zm1-6h2v2h-2zm0 3h2v2h-2zm0 1h2v2h-2zm0 0h2v2h-2zm1-8h2v2h-2zm0 8h2v2h-2zm1 0h2v2h-2zm0 2h2v2h-2zm1-5h2v2h-2zm1 2h2v2h-2zm0 4h2v2h-2zm0 6h2v2h-2zm1-15h2v2h-2zm0 6h2v2h-2zm2-2h2v2h-2zm1 2h2v2h-2zm1-3h2v2h-2zm0 0h2v2h-2zm0 0h2v2h-2zm0 1h2v2h-2zm0 0h2v2h-2zm0 1h2v2h-2zm1-4h2v2h-2zm0 4h2v2h-2zm1-7h2v2h-2zm0 5h2v2h-2zm0 3h2v2h-2zm0 1h2v2h-2zm0 3h2v2h-2zm1-9h2v2h-2zm0 2h2v2h-2zm0 2h2v2h-2zm0 4h2v2h-2zm0 5h2v2h-2zm1-11h2v2h-2zm0 1h2v2h-2zm0 0h2v2h-2zm0 8h2v2h-2zm1-9h2v2h-2zm0 1h2v2h-2zm0 1h2v2h-2zm1-5h2v2h-2zm0 2h2v2h-2zm0 3h2v2h-2zm0 0h2v2h-2zm0 3h2v2h-2zm1-2h2v2h-2zm0 2h2v2h-2zm1-2h2v2h-2zm0 1h2v2h-2zm0 3h2v2h-2zm0 1h2v2h-2zm1-12h2v2h-2zm0 7h2v2h-2zm0 1h2v2h-2zm0 2h2v2h-2zm0 3h2v2h-2zm1-3h2v2h-2zm0 1h2v2h-2zm1-3h2v2h-2zm1-4h2v2h-2zm0 0h2v2h-2zm0 10h2v2h-2zm1-8h2v2h-2zm0 2h2v2h-2zm0 3h2v2h-2zm1-8h2v2h-2zm0 1h2v2h-2zm0 3h2v2h-2zm1-5h2v2h-2zm0 7h2v2h-2zm1-7h2v2h-2zm0 4h2v2h-2zm0 4h2v2h-2zm2-5h2v2h-2zm1-8h2v2h-2zm0 6h2v2h-2zm0 2h2v2h-2zm1-1h2v2h-2zm0 2h2v2h-2zm1-2h2v2h-2zm0 0h2v2h-2zm0 5h2v2h-2zm2-7h2v2h-2zm0 3h2v2h-2zm0 1h2v2h-2zm0 1h2v2h-2zm0 1h2v2h-2zm0 1h2v2h-2zm0 0h2v2h-2zm0 0h2v2h-2zm1-5h2v2h-2zm1-4h2v2h-2zm0 1h2v2h-2zm0 0h2v2h-2zm0 6h2v2h-2zm1-7h2v2h-2zm0 8h2v2h-2zm1-12h2v2h-2zm0 2h2v2h-2zm0 9h2v2h-2zm0 1h2v2h-2zm0 3h2v2h-2zm1-7h2v2h-2zm0 3h2v2h-2zm0 7h2v2h-2zm1-5h2v2h-2z"/>
<path fill="#3f9e4a" shape-rendering="crispEdges" d="M1568 1675h2v2h-2zm0 1h2v2h-2zm0 0h2v2h-2zm0 2h2v2h-2zm0 1h2v2h-2zm1-5h2v2h-2zm0 2h2v2h-2zm0 0h2v2h-2zm1-5h2v2h-2zm0 3h2v2h-2zm0 0h2v2h-2zm0 1h2v2h-2zm0 1h2v2h-2zm0 1h2v2h-2zm0 3h2v2h-2zm1-9h2v2h-2zm0 7h2v2h-2zm1-6h2v2h-2zm0 0h2v2h-2zm0 2h2v2h-2zm1 0h2v2h-2z"/>
<line x1="447.5" y1="1536" x2="513.5" y2="1536" stroke="#951419" stroke-width="1.4"/>
<line x1="621.6" y1="1610" x2="657.8" y2="1610" stroke="#12603a" stroke-width="1.4"/>
<line x1="655.5" y1="1538" x2="710.7" y2="1538" stroke="#951419" stroke-width="1.4"/>
<line x1="716.4" y1="1611.7" x2="781.7" y2="1611.7" stroke="#12603a" stroke-width="1.4"/>
<line x1="802.4" y1="1611.7" x2="855.8" y2="1611.7" stroke="#12603a" stroke-width="1.4"/>
<line x1="925.5" y1="1608.6" x2="990.8" y2="1608.6" stroke="#12603a" stroke-width="1.4"/>
<line x1="990.8" y1="1562.5" x2="1051" y2="1562.5" stroke="#5fb04b" stroke-width="2.6"/>
<line x1="1109.4" y1="1612.5" x2="1220.6" y2="1612.5" stroke="#12603a" stroke-width="1.4"/>
<line x1="1283.6" y1="1538" x2="1323.3" y2="1538" stroke="#951419" stroke-width="1.4"/>
<line x1="1377" y1="1611.7" x2="1409.4" y2="1611.7" stroke="#12603a" stroke-width="1.4"/>
<line x1="1427.9" y1="1606.4" x2="1446.4" y2="1606.4" stroke="#12603a" stroke-width="1.4"/>
<line x1="1461" y1="1562.3" x2="1480" y2="1562.3" stroke="#5fb04b" stroke-width="2.4"/>
<line x1="1487.4" y1="1608.6" x2="1520.5" y2="1608.6" stroke="#12603a" stroke-width="1.4"/>
<line x1="1520.5" y1="1535" x2="1536" y2="1535" stroke="#951419" stroke-width="1.4"/>
<line x1="1604.3" y1="1541.2" x2="1621" y2="1541.2" stroke="#951419" stroke-width="1.4"/>
<path fill="#12603a" shape-rendering="crispEdges" d="M730 1736h3v3h-3z"/>
<path fill="#12603a" shape-rendering="crispEdges" d="M945 1459h3v3h-3z"/>
<path fill="#12603a" shape-rendering="crispEdges" d="M868 1629h3v3h-3z"/>
<path fill="#12603a" shape-rendering="crispEdges" d="M866 1658h3v3h-3z"/>
<path fill="#951419" shape-rendering="crispEdges" d="M1463 1654h3v3h-3z"/>
<path fill="#2d5ea9" shape-rendering="crispEdges" d="M1242 1508h3v3h-3z"/>
<path fill="#2d5ea9" shape-rendering="crispEdges" d="M1246 1521h3v3h-3z"/>
<path fill="#2d5ea9" shape-rendering="crispEdges" d="M1234 1539h3v3h-3z"/>
<path fill="#12603a" shape-rendering="crispEdges" d="M1572 1644h3v3h-3z"/>
<path fill="#12603a" shape-rendering="crispEdges" d="M1570 1650h3v3h-3z"/>
<line x1="418" y1="1569.2" x2="1665.5" y2="1569.2" stroke="#a9abae" stroke-width="2.2"/>
<text x="4" y="34" font-size="43.6" stroke="#231f20" stroke-width="1.6" font-weight="bold" fill="#231f20" textLength="27.6" lengthAdjust="spacingAndGlyphs">A</text>
<text x="0" y="0" font-size="30.8" stroke="#231f20" stroke-width="0.8" font-weight="bold" text-anchor="middle" fill="#231f20" textLength="194.1" lengthAdjust="spacingAndGlyphs" transform="translate(219.3 135.9) rotate(-90)">Lung primary</text>
<text x="0" y="0" font-size="30.8" stroke="#231f20" stroke-width="0.8" font-weight="bold" text-anchor="middle" fill="#231f20" textLength="153.2" lengthAdjust="spacingAndGlyphs" transform="translate(258.6 136.6) rotate(-90)">(0 months)</text>
<text x="0" y="0" font-size="30.8" stroke="#231f20" stroke-width="0.8" font-weight="bold" text-anchor="middle" fill="#231f20" textLength="135" lengthAdjust="spacingAndGlyphs" transform="translate(220 499.5) rotate(-90)">RUL Lung</text>
<text x="0" y="0" font-size="30.8" stroke="#231f20" stroke-width="0.8" font-weight="bold" text-anchor="middle" fill="#231f20" textLength="170.7" lengthAdjust="spacingAndGlyphs" transform="translate(259.2 499.8) rotate(-90)">(19 months)</text>
<text x="0" y="0" font-size="30.8" stroke="#231f20" stroke-width="0.8" font-weight="bold" text-anchor="middle" fill="#231f20" textLength="134.9" lengthAdjust="spacingAndGlyphs" transform="translate(221.3 860.7) rotate(-90)">RUL Lung</text>
<text x="0" y="0" font-size="30.8" stroke="#231f20" stroke-width="0.8" font-weight="bold" text-anchor="middle" fill="#231f20" textLength="170.1" lengthAdjust="spacingAndGlyphs" transform="translate(261.8 857) rotate(-90)">(30 months)</text>
<text x="0" y="0" font-size="30.8" stroke="#231f20" stroke-width="0.8" font-weight="bold" text-anchor="middle" fill="#231f20" textLength="257.1" lengthAdjust="spacingAndGlyphs" transform="translate(186.5 1220) rotate(-90)">SCLC transformed</text>
<text x="0" y="0" font-size="30.8" stroke="#231f20" stroke-width="0.8" font-weight="bold" text-anchor="middle" fill="#231f20" textLength="230.6" lengthAdjust="spacingAndGlyphs" transform="translate(225.6 1220.7) rotate(-90)">Liver Metastasis</text>
<text x="0" y="0" font-size="30.8" stroke="#231f20" stroke-width="0.8" font-weight="bold" text-anchor="middle" fill="#231f20" textLength="170.1" lengthAdjust="spacingAndGlyphs" transform="translate(263.8 1219.5) rotate(-90)">(38 months)</text>
<text x="0" y="0" font-size="30.8" stroke="#231f20" stroke-width="0.8" font-weight="bold" text-anchor="middle" fill="#231f20" textLength="230.6" lengthAdjust="spacingAndGlyphs" transform="translate(229.4 1602.1) rotate(-90)">Medistinal Mass</text>
<text x="0" y="0" font-size="30.8" stroke="#231f20" stroke-width="0.8" font-weight="bold" text-anchor="middle" fill="#231f20" textLength="170.2" lengthAdjust="spacingAndGlyphs" transform="translate(266.8 1602.1) rotate(-90)">(45 months)</text>
<text x="0" y="0" font-size="27.6" text-anchor="middle" fill="#000" textLength="62" lengthAdjust="spacingAndGlyphs" transform="translate(313.1 125.6) rotate(-90)">LogR</text>
<text x="0" y="0" font-size="27.6" text-anchor="middle" fill="#000" textLength="62" lengthAdjust="spacingAndGlyphs" transform="translate(313.8 496.5) rotate(-90)">LogR</text>
<text x="0" y="0" font-size="27.6" text-anchor="middle" fill="#000" textLength="62" lengthAdjust="spacingAndGlyphs" transform="translate(311.2 853.2) rotate(-90)">LogR</text>
<text x="0" y="0" font-size="27.6" text-anchor="middle" fill="#000" textLength="62" lengthAdjust="spacingAndGlyphs" transform="translate(314.5 1220.6) rotate(-90)">LogR</text>
<text x="0" y="0" font-size="27.6" text-anchor="middle" fill="#000" textLength="62" lengthAdjust="spacingAndGlyphs" transform="translate(316.2 1588) rotate(-90)">LogR</text>
<text x="650.3" y="815.9" font-size="24.6" stroke="#231f20" stroke-width="0.7" font-weight="bold" fill="#231f20" textLength="84.7" lengthAdjust="spacingAndGlyphs">PIK3CA</text>
<text x="768" y="770.4" font-size="24.6" stroke="#231f20" stroke-width="0.7" font-weight="bold" fill="#231f20" textLength="56" lengthAdjust="spacingAndGlyphs">TERT</text>
<text x="746.9" y="796" font-size="24.6" stroke="#231f20" stroke-width="0.7" font-weight="bold" fill="#231f20" textLength="97" lengthAdjust="spacingAndGlyphs">CTNND2</text>
<text x="925.5" y="800.4" font-size="24.6" stroke="#231f20" stroke-width="0.7" font-weight="bold" fill="#231f20" textLength="60" lengthAdjust="spacingAndGlyphs">EGFR</text>
<text x="1524.9" y="807.9" font-size="24.6" stroke="#231f20" stroke-width="0.7" font-weight="bold" fill="#231f20" textLength="66.2" lengthAdjust="spacingAndGlyphs">GNAS</text>
<text x="923" y="1818.6" font-size="27" stroke="#231f20" stroke-width="0.7" font-weight="bold" fill="#231f20" textLength="227.4" lengthAdjust="spacingAndGlyphs">Genomic Position</text>
<text x="-7" y="1877.6" font-size="43.3" stroke="#231f20" stroke-width="1.4" font-weight="bold" fill="#231f20">B</text>
<text x="904.2" y="1873.6" font-size="44" stroke="#231f20" stroke-width="1.4" font-weight="bold" fill="#231f20" textLength="25.2" lengthAdjust="spacingAndGlyphs">C</text>
<line x1="105" y1="1877" x2="105" y2="2639.8" stroke="#000" stroke-width="2.2"/>
<line x1="104" y1="2638.7" x2="802.3" y2="2638.7" stroke="#000" stroke-width="2.2"/>
<line x1="99.6" y1="2601" x2="105" y2="2601" stroke="#333" stroke-width="1.1"/>
<text x="95.6" y="2609.1" font-size="22.6" font-weight="bold" text-anchor="end" fill="#4d4d4d" textLength="48.3" lengthAdjust="spacingAndGlyphs">0.00</text>
<line x1="99.6" y1="2396.1" x2="105" y2="2396.1" stroke="#333" stroke-width="1.1"/>
<text x="95.6" y="2404.2" font-size="22.6" font-weight="bold" text-anchor="end" fill="#4d4d4d" textLength="48.3" lengthAdjust="spacingAndGlyphs">0.25</text>
<line x1="99.6" y1="2191.2" x2="105" y2="2191.2" stroke="#333" stroke-width="1.1"/>
<text x="95.6" y="2199.3" font-size="22.6" font-weight="bold" text-anchor="end" fill="#4d4d4d" textLength="48.3" lengthAdjust="spacingAndGlyphs">0.50</text>
<line x1="99.6" y1="1986.3" x2="105" y2="1986.3" stroke="#333" stroke-width="1.1"/>
<text x="95.6" y="1994.4" font-size="22.6" font-weight="bold" text-anchor="end" fill="#4d4d4d" textLength="48.3" lengthAdjust="spacingAndGlyphs">0.75</text>
<line x1="188.5" y1="2639.8" x2="188.5" y2="2643.6" stroke="#333" stroke-width="1.1"/>
<text x="199.5" y="2667.3" font-size="22.4" stroke="#231f20" stroke-width="0.6" font-weight="bold" text-anchor="middle" fill="#231f20" textLength="13.4" lengthAdjust="spacingAndGlyphs">0</text>
<line x1="320.6" y1="2639.8" x2="320.6" y2="2643.6" stroke="#333" stroke-width="1.1"/>
<text x="324.8" y="2667.3" font-size="22.4" stroke="#231f20" stroke-width="0.6" font-weight="bold" text-anchor="middle" fill="#231f20" textLength="26.5" lengthAdjust="spacingAndGlyphs">19</text>
<line x1="453.1" y1="2639.8" x2="453.1" y2="2643.6" stroke="#333" stroke-width="1.1"/>
<text x="456" y="2667.3" font-size="22.4" stroke="#231f20" stroke-width="0.6" font-weight="bold" text-anchor="middle" fill="#231f20" textLength="26.5" lengthAdjust="spacingAndGlyphs">30</text>
<line x1="584.2" y1="2639.8" x2="584.2" y2="2643.6" stroke="#333" stroke-width="1.1"/>
<text x="588.7" y="2667.3" font-size="22.4" stroke="#231f20" stroke-width="0.6" font-weight="bold" text-anchor="middle" fill="#231f20" textLength="26.5" lengthAdjust="spacingAndGlyphs">38</text>
<line x1="716.5" y1="2639.8" x2="716.5" y2="2643.6" stroke="#333" stroke-width="1.1"/>
<text x="715.2" y="2667.3" font-size="22.4" stroke="#231f20" stroke-width="0.6" font-weight="bold" text-anchor="middle" fill="#231f20" textLength="26.5" lengthAdjust="spacingAndGlyphs">45</text>
<text x="366.5" y="2701.1" font-size="26.4" stroke="#231f20" stroke-width="0.7" font-weight="bold" fill="#231f20" textLength="186" lengthAdjust="spacingAndGlyphs">Time (months)</text>
<text x="0" y="0" font-size="29.6" font-weight="bold" text-anchor="middle" fill="#000" textLength="141.6" lengthAdjust="spacingAndGlyphs" transform="translate(36.2 2227.5) rotate(-90)">Mutant AF</text>
<line x1="1082.2" y1="1833" x2="1082.2" y2="2639" stroke="#000" stroke-width="2.2"/>
<line x1="1081" y1="2637.9" x2="1765" y2="2637.9" stroke="#000" stroke-width="2.2"/>
<line x1="1076.8" y1="2600.6" x2="1082.2" y2="2600.6" stroke="#333" stroke-width="1.1"/>
<text x="1073.4" y="2608.9" font-size="23" font-weight="bold" text-anchor="end" fill="#4d4d4d" textLength="64" lengthAdjust="spacingAndGlyphs">0.000</text>
<line x1="1076.8" y1="2351.5" x2="1082.2" y2="2351.5" stroke="#333" stroke-width="1.1"/>
<text x="1073.4" y="2359.8" font-size="23" font-weight="bold" text-anchor="end" fill="#4d4d4d" textLength="64" lengthAdjust="spacingAndGlyphs">0.005</text>
<line x1="1076.8" y1="2103" x2="1082.2" y2="2103" stroke="#333" stroke-width="1.1"/>
<text x="1073.4" y="2111.3" font-size="23" font-weight="bold" text-anchor="end" fill="#4d4d4d" textLength="64" lengthAdjust="spacingAndGlyphs">0.010</text>
<line x1="1076.8" y1="1854" x2="1082.2" y2="1854" stroke="#333" stroke-width="1.1"/>
<text x="1073.4" y="1862.3" font-size="23" font-weight="bold" text-anchor="end" fill="#4d4d4d" textLength="64" lengthAdjust="spacingAndGlyphs">0.015</text>
<line x1="1164.9" y1="2639" x2="1164.9" y2="2643.6" stroke="#333" stroke-width="1.1"/>
<text x="1168.7" y="2674.6" font-size="22.4" stroke="#231f20" stroke-width="0.6" font-weight="bold" text-anchor="middle" fill="#231f20" textLength="13.4" lengthAdjust="spacingAndGlyphs">0</text>
<line x1="1294.5" y1="2639" x2="1294.5" y2="2643.6" stroke="#333" stroke-width="1.1"/>
<text x="1293.2" y="2674.6" font-size="22.4" stroke="#231f20" stroke-width="0.6" font-weight="bold" text-anchor="middle" fill="#231f20" textLength="27.5" lengthAdjust="spacingAndGlyphs">19</text>
<line x1="1423.5" y1="2639" x2="1423.5" y2="2643.6" stroke="#333" stroke-width="1.1"/>
<text x="1425" y="2674.6" font-size="22.4" stroke="#231f20" stroke-width="0.6" font-weight="bold" text-anchor="middle" fill="#231f20" textLength="27.5" lengthAdjust="spacingAndGlyphs">30</text>
<line x1="1553.7" y1="2639" x2="1553.7" y2="2643.6" stroke="#333" stroke-width="1.1"/>
<text x="1557.3" y="2674.6" font-size="22.4" stroke="#231f20" stroke-width="0.6" font-weight="bold" text-anchor="middle" fill="#231f20" textLength="27.5" lengthAdjust="spacingAndGlyphs">38</text>
<line x1="1681.1" y1="2639" x2="1681.1" y2="2643.6" stroke="#333" stroke-width="1.1"/>
<text x="1683.3" y="2674.6" font-size="22.4" stroke="#231f20" stroke-width="0.6" font-weight="bold" text-anchor="middle" fill="#231f20" textLength="27.5" lengthAdjust="spacingAndGlyphs">45</text>
<text x="1335.5" y="2707.1" font-size="26.4" stroke="#231f20" stroke-width="0.7" font-weight="bold" fill="#231f20" textLength="186" lengthAdjust="spacingAndGlyphs">Time (months)</text>
<text x="0" y="0" font-size="29.6" font-weight="bold" text-anchor="middle" fill="#000" textLength="139.3" lengthAdjust="spacingAndGlyphs" transform="translate(999.2 2225.9) rotate(-90)">Mutant AF</text>
<path d="M174.7 2584.5H201.5M174.7 2616.4H201.5M228.5 2584.5H255.3M228.5 2616.4H255.3M282.3 2584.5H309.1M282.3 2616.4H309.1M336.1 2584.5H362.9M336.1 2616.4H362.9M389.9 2584.5H416.7M389.9 2616.4H416.7M443.7 2584.5H470.5M443.7 2616.4H470.5M497.5 2584.5H524.3M497.5 2616.4H524.3M551.3 2584.5H578.1M551.3 2616.4H578.1M605.1 2584.5H631.9M605.1 2616.4H631.9M658.9 2584.5H685.7M658.9 2616.4H685.7M712.7 2584.5H739.5M712.7 2616.4H739.5M147.5 2584.5H135.2V2616.4H147.5M766.5 2584.5H780.9V2594M780.9 2607.5V2616.4H768M778.5 2601.8H805.4M833.6 2604.4V2599.2M833.6 2581.7V2555.9M833.6 2530V2504.2M833.6 2478.4V2452.6M833.6 2425.8V2400M833.6 2374.1V2348.3M833.6 2321.5V2295.7M833.6 2269.8V2242.3H858.1M883.9 2242.3H910.1M936.6 2242.3H952" stroke="#a7a9ac" stroke-width="4.6" fill="none"/>
<path d="M950 2230.6L971 2242L950 2253.4Z" fill="#a7a9ac"/>
<text x="854" y="2288.8" font-size="26.5" stroke="#808285" stroke-width="0.7" font-weight="bold" fill="#808285" textLength="104.7" lengthAdjust="spacingAndGlyphs">Zoom in</text>
<text x="876.7" y="2315.3" font-size="26.5" stroke="#808285" stroke-width="0.7" font-weight="bold" fill="#808285" textLength="59.9" lengthAdjust="spacingAndGlyphs">view</text>
<text x="1769" y="2013.2" font-size="25.2" stroke="#231f20" stroke-width="0.7" font-weight="bold" fill="#231f20" textLength="88" lengthAdjust="spacingAndGlyphs">Cluster</text>
<circle cx="1809" cy="2047.3" r="5.2" fill="#8fc2e0"/>
<circle cx="1809" cy="2085.4" r="5.2" fill="#1a70b5"/>
<circle cx="1809" cy="2123.5" r="5.2" fill="#9dc78b"/>
<circle cx="1809" cy="2161.6" r="5.2" fill="#2a9d48"/>
<circle cx="1809" cy="2199.7" r="5.2" fill="#e88e93"/>
<circle cx="1809" cy="2237.8" r="5.2" fill="#e31d25"/>
<circle cx="1809" cy="2275.9" r="5.2" fill="#f2b265"/>
<circle cx="1809" cy="2314" r="5.2" fill="#ef8126"/>
<circle cx="1809" cy="2352.1" r="5.2" fill="#6a449c"/>
<circle cx="1809" cy="2390.2" r="5.2" fill="#eeec8a"/>
<circle cx="1809" cy="2428.3" r="5.2" fill="#b85e2c"/>
<circle cx="1809" cy="2466.4" r="5.2" fill="#b2b2b2"/>
<circle cx="1809" cy="2504.5" r="5.2" fill="#000000"/>
<circle cx="679" cy="2601" r="4.4" fill="#000000"/>
<circle cx="674" cy="2602" r="4.4" fill="#f2b265"/>
<circle cx="757" cy="2603" r="4.4" fill="#000000"/>
<circle cx="756" cy="2600.5" r="4.4" fill="#f2b265"/>
<circle cx="738" cy="2603" r="4.4" fill="#f2b265"/>
<circle cx="690" cy="2604" r="4.4" fill="#000000"/>
<circle cx="610" cy="2600.9" r="4.4" fill="#f2b265"/>
<circle cx="551.8" cy="2603.5" r="4.4" fill="#f2b265"/>
<circle cx="629.4" cy="2603.5" r="4.4" fill="#f2b265"/>
<circle cx="584" cy="2602.5" r="4.4" fill="#8fc2e0"/>
<circle cx="591.9" cy="2598.6" r="4.4" fill="#000000"/>
<circle cx="138.4" cy="2599.7" r="4.4" fill="#8fc2e0"/>
<circle cx="142.4" cy="2599.4" r="4.4" fill="#8fc2e0"/>
<circle cx="144.6" cy="2599.8" r="4.4" fill="#8fc2e0"/>
<circle cx="147" cy="2599.5" r="4.4" fill="#8fc2e0"/>
<circle cx="150.9" cy="2600.7" r="4.4" fill="#8fc2e0"/>
<circle cx="152.8" cy="2598.7" r="4.4" fill="#8fc2e0"/>
<circle cx="155.9" cy="2600.7" r="4.4" fill="#8fc2e0"/>
<circle cx="160.1" cy="2597.7" r="4.4" fill="#8fc2e0"/>
<circle cx="163.7" cy="2601.4" r="4.4" fill="#8fc2e0"/>
<circle cx="166.1" cy="2600" r="4.4" fill="#8fc2e0"/>
<circle cx="168.1" cy="2597.6" r="4.4" fill="#8fc2e0"/>
<circle cx="171.9" cy="2597.7" r="4.4" fill="#8fc2e0"/>
<circle cx="174.2" cy="2598.5" r="4.4" fill="#8fc2e0"/>
<circle cx="177" cy="2599.4" r="4.4" fill="#8fc2e0"/>
<circle cx="180.8" cy="2600.9" r="4.4" fill="#8fc2e0"/>
<circle cx="184" cy="2600.1" r="4.4" fill="#8fc2e0"/>
<circle cx="187" cy="2600.1" r="4.4" fill="#8fc2e0"/>
<circle cx="189.9" cy="2598.6" r="4.4" fill="#8fc2e0"/>
<circle cx="194" cy="2601.5" r="4.4" fill="#8fc2e0"/>
<circle cx="196.8" cy="2600.3" r="4.4" fill="#8fc2e0"/>
<circle cx="198.7" cy="2598.4" r="4.4" fill="#8fc2e0"/>
<circle cx="201.7" cy="2597.8" r="4.4" fill="#8fc2e0"/>
<circle cx="205.7" cy="2599.1" r="4.4" fill="#8fc2e0"/>
<circle cx="208.9" cy="2599" r="4.4" fill="#8fc2e0"/>
<circle cx="212.1" cy="2600.9" r="4.4" fill="#8fc2e0"/>
<circle cx="213.3" cy="2598.3" r="4.4" fill="#8fc2e0"/>
<circle cx="218.1" cy="2599.4" r="4.4" fill="#8fc2e0"/>
<circle cx="221.3" cy="2599.1" r="4.4" fill="#8fc2e0"/>
<circle cx="222.5" cy="2600" r="4.4" fill="#8fc2e0"/>
<circle cx="226.9" cy="2598.6" r="4.4" fill="#8fc2e0"/>
<circle cx="228.6" cy="2598.8" r="4.4" fill="#8fc2e0"/>
<circle cx="233.4" cy="2600.5" r="4.4" fill="#8fc2e0"/>
<circle cx="234.7" cy="2598.5" r="4.4" fill="#8fc2e0"/>
<circle cx="237.7" cy="2597.7" r="4.4" fill="#8fc2e0"/>
<circle cx="223" cy="2592" r="4.4" fill="#8fc2e0"/>
<circle cx="159.3" cy="2600" r="4.4" fill="#e31d25"/>
<circle cx="148" cy="2548" r="4.4" fill="#f2b265"/>
<circle cx="292.4" cy="2599.1" r="4.4" fill="#8fc2e0"/>
<circle cx="294.1" cy="2552.2" r="4.4" fill="#f2b265"/>
<circle cx="459.1" cy="2379.8" r="4.4" fill="#8fc2e0"/>
<circle cx="401.4" cy="2477" r="4.4" fill="#8fc2e0"/>
<circle cx="413.4" cy="2473.8" r="4.4" fill="#8fc2e0"/>
<circle cx="419.7" cy="2483.5" r="4.4" fill="#8fc2e0"/>
<circle cx="485.2" cy="2481.6" r="4.4" fill="#8fc2e0"/>
<circle cx="495.7" cy="2486.4" r="4.4" fill="#8fc2e0"/>
<circle cx="455.4" cy="2504.3" r="4.4" fill="#8fc2e0"/>
<circle cx="468.2" cy="2500.5" r="4.4" fill="#8fc2e0"/>
<circle cx="492.2" cy="2512.9" r="4.4" fill="#8fc2e0"/>
<circle cx="405.2" cy="2518.2" r="4.4" fill="#8fc2e0"/>
<circle cx="408.4" cy="2518.5" r="4.4" fill="#8fc2e0"/>
<circle cx="429.8" cy="2521.3" r="4.4" fill="#8fc2e0"/>
<circle cx="463.6" cy="2529.3" r="4.4" fill="#8fc2e0"/>
<circle cx="444.6" cy="2531" r="4.4" fill="#8fc2e0"/>
<circle cx="423.5" cy="2534.8" r="4.4" fill="#8fc2e0"/>
<circle cx="428.9" cy="2542.7" r="4.4" fill="#8fc2e0"/>
<circle cx="443" cy="2540.2" r="4.4" fill="#8fc2e0"/>
<circle cx="423.6" cy="2534.9" r="4.4" fill="#8fc2e0"/>
<circle cx="444.5" cy="2532" r="4.4" fill="#8fc2e0"/>
<circle cx="463.7" cy="2530.8" r="4.4" fill="#8fc2e0"/>
<circle cx="442.8" cy="2540.6" r="4.4" fill="#8fc2e0"/>
<circle cx="402.3" cy="2566" r="4.4" fill="#8fc2e0"/>
<circle cx="428.1" cy="2570.1" r="4.4" fill="#8fc2e0"/>
<circle cx="455.5" cy="2557" r="4.4" fill="#8fc2e0"/>
<circle cx="442" cy="2560.7" r="4.4" fill="#8fc2e0"/>
<circle cx="439.1" cy="2567.7" r="4.4" fill="#8fc2e0"/>
<circle cx="452.3" cy="2567.7" r="4.4" fill="#8fc2e0"/>
<circle cx="467.4" cy="2558.7" r="4.4" fill="#8fc2e0"/>
<circle cx="462.1" cy="2572.6" r="4.4" fill="#8fc2e0"/>
<circle cx="471.9" cy="2578.7" r="4.4" fill="#8fc2e0"/>
<circle cx="492.4" cy="2552.1" r="4.4" fill="#8fc2e0"/>
<circle cx="476.8" cy="2559.5" r="4.4" fill="#8fc2e0"/>
<circle cx="500.6" cy="2561.9" r="4.4" fill="#8fc2e0"/>
<circle cx="504.7" cy="2563.6" r="4.4" fill="#8fc2e0"/>
<circle cx="484.2" cy="2571" r="4.4" fill="#8fc2e0"/>
<circle cx="471.5" cy="2578.7" r="4.4" fill="#8fc2e0"/>
<circle cx="448.6" cy="2600.9" r="4.4" fill="#8fc2e0"/>
<circle cx="417" cy="2554.6" r="4.4" fill="#1a70b5"/>
<circle cx="426" cy="2557" r="4.4" fill="#1a70b5"/>
<circle cx="422.8" cy="2564.4" r="4.4" fill="#1a70b5"/>
<circle cx="410.9" cy="2568.1" r="4.4" fill="#1a70b5"/>
<circle cx="446.5" cy="2550.5" r="4.4" fill="#1a70b5"/>
<circle cx="437.1" cy="2561.1" r="4.4" fill="#1a70b5"/>
<circle cx="468.2" cy="2550.9" r="4.4" fill="#1a70b5"/>
<circle cx="472.3" cy="2567.7" r="4.4" fill="#1a70b5"/>
<circle cx="481.7" cy="2553.8" r="4.4" fill="#1a70b5"/>
<circle cx="481.7" cy="2564.4" r="4.4" fill="#1a70b5"/>
<circle cx="503.9" cy="2566" r="4.4" fill="#1a70b5"/>
<circle cx="492.4" cy="2570.1" r="4.4" fill="#1a70b5"/>
<circle cx="423.6" cy="2583.2" r="4.4" fill="#1a70b5"/>
<circle cx="439.6" cy="2583.2" r="4.4" fill="#1a70b5"/>
<circle cx="445.7" cy="2580" r="4.4" fill="#1a70b5"/>
<circle cx="492.4" cy="2583.7" r="4.4" fill="#1a70b5"/>
<circle cx="473.6" cy="2600" r="4.4" fill="#1a70b5"/>
<circle cx="480.9" cy="2599.6" r="4.4" fill="#1a70b5"/>
<circle cx="419" cy="2560" r="4.4" fill="#1a70b5"/>
<circle cx="431" cy="2566" r="4.4" fill="#1a70b5"/>
<circle cx="402.3" cy="2554.6" r="4.4" fill="#ef8126"/>
<circle cx="437.1" cy="2554.6" r="4.4" fill="#ef8126"/>
<circle cx="450.2" cy="2562.8" r="4.4" fill="#ef8126"/>
<circle cx="483.8" cy="2547.2" r="4.4" fill="#ef8126"/>
<circle cx="499.4" cy="2549.2" r="4.4" fill="#ef8126"/>
<circle cx="492" cy="2561.9" r="4.4" fill="#ef8126"/>
<circle cx="492.8" cy="2543.5" r="4.4" fill="#f2b265"/>
<circle cx="410.1" cy="2558.3" r="4.4" fill="#6a449c"/>
<circle cx="465" cy="2564.4" r="4.4" fill="#6a449c"/>
<circle cx="421.9" cy="2578.3" r="4.4" fill="#b85e2c"/>
<circle cx="440" cy="2583.2" r="4.4" fill="#e88e93"/>
<circle cx="432.6" cy="2601.3" r="4.4" fill="#e88e93"/>
<circle cx="468.2" cy="2600" r="4.4" fill="#e88e93"/>
<circle cx="486.7" cy="2600.4" r="4.4" fill="#e88e93"/>
<circle cx="571.6" cy="2347.5" r="4.4" fill="#8fc2e0"/>
<circle cx="555.7" cy="2377.8" r="4.4" fill="#8fc2e0"/>
<circle cx="564.8" cy="2379.6" r="4.4" fill="#8fc2e0"/>
<circle cx="560.2" cy="2398" r="4.4" fill="#8fc2e0"/>
<circle cx="568.5" cy="2401.2" r="4.4" fill="#8fc2e0"/>
<circle cx="591.2" cy="2391.7" r="4.4" fill="#8fc2e0"/>
<circle cx="601.8" cy="2401.2" r="4.4" fill="#8fc2e0"/>
<circle cx="589.2" cy="2413.6" r="4.4" fill="#8fc2e0"/>
<circle cx="532.5" cy="2449.6" r="4.4" fill="#8fc2e0"/>
<circle cx="532" cy="2458" r="4.4" fill="#8fc2e0"/>
<circle cx="548.9" cy="2448.4" r="4.4" fill="#8fc2e0"/>
<circle cx="592.5" cy="2456.4" r="4.4" fill="#8fc2e0"/>
<circle cx="603.1" cy="2457.2" r="4.4" fill="#8fc2e0"/>
<circle cx="623.2" cy="2449.6" r="4.4" fill="#8fc2e0"/>
<circle cx="621.2" cy="2461.5" r="4.4" fill="#8fc2e0"/>
<circle cx="629.5" cy="2459" r="4.4" fill="#8fc2e0"/>
<circle cx="577.4" cy="2476.6" r="4.4" fill="#8fc2e0"/>
<circle cx="599.3" cy="2477.9" r="4.4" fill="#8fc2e0"/>
<circle cx="602.6" cy="2481.6" r="4.4" fill="#8fc2e0"/>
<circle cx="607.6" cy="2484.9" r="4.4" fill="#6a449c"/>
<circle cx="567" cy="2245.6" r="4.4" fill="#8fc2e0"/>
<circle cx="535" cy="2492.4" r="4.4" fill="#8fc2e0"/>
<circle cx="554" cy="2499" r="4.4" fill="#8fc2e0"/>
<circle cx="614" cy="2502" r="4.4" fill="#8fc2e0"/>
<circle cx="535" cy="2509.1" r="4.4" fill="#8fc2e0"/>
<circle cx="570.3" cy="2506.9" r="4.4" fill="#8fc2e0"/>
<circle cx="542" cy="2513" r="4.4" fill="#8fc2e0"/>
<circle cx="583.5" cy="2517.9" r="4.4" fill="#8fc2e0"/>
<circle cx="587.9" cy="2513.5" r="4.4" fill="#8fc2e0"/>
<circle cx="595.4" cy="2517.9" r="4.4" fill="#8fc2e0"/>
<circle cx="599.8" cy="2517" r="4.4" fill="#8fc2e0"/>
<circle cx="635.6" cy="2517.9" r="4.4" fill="#8fc2e0"/>
<circle cx="619.7" cy="2519.7" r="4.4" fill="#8fc2e0"/>
<circle cx="602.5" cy="2524.1" r="4.4" fill="#8fc2e0"/>
<circle cx="632" cy="2525" r="4.4" fill="#8fc2e0"/>
<circle cx="540.3" cy="2528.5" r="4.4" fill="#8fc2e0"/>
<circle cx="595.9" cy="2529.4" r="4.4" fill="#8fc2e0"/>
<circle cx="587.9" cy="2533.8" r="4.4" fill="#8fc2e0"/>
<circle cx="617" cy="2533.8" r="4.4" fill="#8fc2e0"/>
<circle cx="636.9" cy="2534.7" r="4.4" fill="#8fc2e0"/>
<circle cx="549.1" cy="2537.3" r="4.4" fill="#8fc2e0"/>
<circle cx="561.5" cy="2540.9" r="4.4" fill="#8fc2e0"/>
<circle cx="583.5" cy="2541.8" r="4.4" fill="#8fc2e0"/>
<circle cx="624.5" cy="2540.9" r="4.4" fill="#8fc2e0"/>
<circle cx="592.3" cy="2546.2" r="4.4" fill="#8fc2e0"/>
<circle cx="631.2" cy="2577.9" r="4.4" fill="#8fc2e0"/>
<circle cx="544.3" cy="2588.1" r="4.4" fill="#8fc2e0"/>
<circle cx="599.8" cy="2586.7" r="4.4" fill="#8fc2e0"/>
<circle cx="546" cy="2501.2" r="4.4" fill="#1a70b5"/>
<circle cx="625.4" cy="2502" r="4.4" fill="#1a70b5"/>
<circle cx="550.4" cy="2512.6" r="4.4" fill="#1a70b5"/>
<circle cx="541.6" cy="2524.5" r="4.4" fill="#1a70b5"/>
<circle cx="554.4" cy="2522.3" r="4.4" fill="#1a70b5"/>
<circle cx="620.6" cy="2512.6" r="4.4" fill="#1a70b5"/>
<circle cx="627.6" cy="2515.3" r="4.4" fill="#1a70b5"/>
<circle cx="636.9" cy="2526.8" r="4.4" fill="#1a70b5"/>
<circle cx="565" cy="2529.4" r="4.4" fill="#1a70b5"/>
<circle cx="557" cy="2535.6" r="4.4" fill="#1a70b5"/>
<circle cx="610" cy="2533.8" r="4.4" fill="#1a70b5"/>
<circle cx="628.9" cy="2532.9" r="4.4" fill="#1a70b5"/>
<circle cx="542.5" cy="2539.1" r="4.4" fill="#1a70b5"/>
<circle cx="590.6" cy="2540.9" r="4.4" fill="#1a70b5"/>
<circle cx="609.5" cy="2543.1" r="4.4" fill="#1a70b5"/>
<circle cx="621.9" cy="2539.1" r="4.4" fill="#1a70b5"/>
<circle cx="636.4" cy="2542.2" r="4.4" fill="#1a70b5"/>
<circle cx="533.7" cy="2552.8" r="4.4" fill="#1a70b5"/>
<circle cx="563.7" cy="2557.6" r="4.4" fill="#1a70b5"/>
<circle cx="577.8" cy="2554.1" r="4.4" fill="#1a70b5"/>
<circle cx="589.7" cy="2552.3" r="4.4" fill="#1a70b5"/>
<circle cx="599" cy="2553.2" r="4.4" fill="#1a70b5"/>
<circle cx="585.3" cy="2560.7" r="4.4" fill="#1a70b5"/>
<circle cx="631.6" cy="2559.4" r="4.4" fill="#1a70b5"/>
<circle cx="551.8" cy="2568.7" r="4.4" fill="#1a70b5"/>
<circle cx="556.2" cy="2568.7" r="4.4" fill="#1a70b5"/>
<circle cx="602.9" cy="2566.9" r="4.4" fill="#1a70b5"/>
<circle cx="569.8" cy="2575.7" r="4.4" fill="#1a70b5"/>
<circle cx="560" cy="2530" r="4.4" fill="#1a70b5"/>
<circle cx="568" cy="2524" r="4.4" fill="#1a70b5"/>
<circle cx="589.7" cy="2503.4" r="4.4" fill="#ef8126"/>
<circle cx="576.5" cy="2509.1" r="4.4" fill="#ef8126"/>
<circle cx="554.8" cy="2514.4" r="4.4" fill="#ef8126"/>
<circle cx="535.4" cy="2521.5" r="4.4" fill="#ef8126"/>
<circle cx="565.9" cy="2520.6" r="4.4" fill="#ef8126"/>
<circle cx="558.8" cy="2560.7" r="4.4" fill="#ef8126"/>
<circle cx="607.3" cy="2485.3" r="4.4" fill="#6a449c"/>
<circle cx="543.8" cy="2506.9" r="4.4" fill="#6a449c"/>
<circle cx="612.6" cy="2514.4" r="4.4" fill="#6a449c"/>
<circle cx="549.6" cy="2525.4" r="4.4" fill="#6a449c"/>
<circle cx="610" cy="2525.9" r="4.4" fill="#6a449c"/>
<circle cx="564.5" cy="2535.6" r="4.4" fill="#6a449c"/>
<circle cx="580.4" cy="2529.8" r="4.4" fill="#6a449c"/>
<circle cx="553.5" cy="2547" r="4.4" fill="#6a449c"/>
<circle cx="582.2" cy="2538.7" r="4.4" fill="#f2b265"/>
<circle cx="553.5" cy="2578.8" r="4.4" fill="#b85e2c"/>
<circle cx="601.6" cy="2579.7" r="4.4" fill="#b85e2c"/>
<circle cx="697.6" cy="1878.5" r="4.4" fill="#8fc2e0"/>
<circle cx="724" cy="1881.4" r="4.4" fill="#8fc2e0"/>
<circle cx="699.3" cy="1912.9" r="4.4" fill="#8fc2e0"/>
<circle cx="719.8" cy="1974.7" r="4.4" fill="#8fc2e0"/>
<circle cx="724.8" cy="2012.5" r="4.4" fill="#8fc2e0"/>
<circle cx="726.8" cy="2017.5" r="4.4" fill="#8fc2e0"/>
<circle cx="767.4" cy="2026.4" r="4.4" fill="#8fc2e0"/>
<circle cx="739.9" cy="2076.3" r="4.4" fill="#8fc2e0"/>
<circle cx="756.3" cy="2093.9" r="4.4" fill="#8fc2e0"/>
<circle cx="679.2" cy="2102.7" r="4.4" fill="#8fc2e0"/>
<circle cx="720.3" cy="2102" r="4.4" fill="#8fc2e0"/>
<circle cx="760.6" cy="2112.8" r="4.4" fill="#1a70b5"/>
<circle cx="692" cy="2128.4" r="4.4" fill="#8fc2e0"/>
<circle cx="730.3" cy="2125.9" r="4.4" fill="#8fc2e0"/>
<circle cx="669.5" cy="2215" r="4.4" fill="#8fc2e0"/>
<circle cx="716.7" cy="2220" r="4.4" fill="#ef8126"/>
<circle cx="704.8" cy="2227.9" r="4.4" fill="#8fc2e0"/>
<circle cx="719.9" cy="2228.3" r="4.4" fill="#8fc2e0"/>
<circle cx="759.6" cy="2228.5" r="4.4" fill="#6a449c"/>
<circle cx="678.9" cy="2231.7" r="4.4" fill="#8fc2e0"/>
<circle cx="683.3" cy="2234.2" r="4.4" fill="#8fc2e0"/>
<circle cx="687.1" cy="2236.1" r="4.4" fill="#b85e2c"/>
<circle cx="691.9" cy="2239.2" r="4.4" fill="#8fc2e0"/>
<circle cx="704.1" cy="2237.3" r="4.4" fill="#1a70b5"/>
<circle cx="707.3" cy="2237.3" r="4.4" fill="#8fc2e0"/>
<circle cx="670.7" cy="2243" r="4.4" fill="#8fc2e0"/>
<circle cx="678.3" cy="2241.1" r="4.4" fill="#8fc2e0"/>
<circle cx="672" cy="2250.6" r="4.4" fill="#ef8126"/>
<circle cx="711.7" cy="2251.8" r="4.4" fill="#8fc2e0"/>
<circle cx="737.5" cy="2241.8" r="4.4" fill="#8fc2e0"/>
<circle cx="740" cy="2244.9" r="4.4" fill="#1a70b5"/>
<circle cx="747" cy="2239.2" r="4.4" fill="#ef8126"/>
<circle cx="748.9" cy="2248.7" r="4.4" fill="#8fc2e0"/>
<circle cx="743.8" cy="2255.6" r="4.4" fill="#6a449c"/>
<circle cx="755.2" cy="2256.2" r="4.4" fill="#8fc2e0"/>
<circle cx="677.7" cy="2255.6" r="4.4" fill="#8fc2e0"/>
<circle cx="672" cy="2263.8" r="4.4" fill="#1a70b5"/>
<circle cx="680.8" cy="2262.5" r="4.4" fill="#1a70b5"/>
<circle cx="692.2" cy="2259.4" r="4.4" fill="#8fc2e0"/>
<circle cx="706.7" cy="2265" r="4.4" fill="#8fc2e0"/>
<circle cx="664.4" cy="2273" r="4.4" fill="#8fc2e0"/>
<circle cx="684.9" cy="2277.7" r="4.4" fill="#6a449c"/>
<circle cx="680" cy="2288.6" r="4.4" fill="#8fc2e0"/>
<circle cx="724.5" cy="2315.9" r="4.4" fill="#1a70b5"/>
<circle cx="688.6" cy="2323.7" r="4.4" fill="#1a70b5"/>
<circle cx="710.2" cy="2345.5" r="4.4" fill="#1a70b5"/>
<circle cx="710.2" cy="2350.1" r="4.4" fill="#ef8126"/>
<circle cx="753.8" cy="2347.5" r="4.4" fill="#1a70b5"/>
<circle cx="664.8" cy="2362.7" r="4.4" fill="#8fc2e0"/>
<circle cx="669.9" cy="2358.9" r="4.4" fill="#6a449c"/>
<circle cx="667.3" cy="2371.5" r="4.4" fill="#1a70b5"/>
<circle cx="673.6" cy="2357.1" r="4.4" fill="#8fc2e0"/>
<circle cx="693.8" cy="2351.3" r="4.4" fill="#8fc2e0"/>
<circle cx="691.8" cy="2357.1" r="4.4" fill="#1a70b5"/>
<circle cx="700.6" cy="2359.6" r="4.4" fill="#1a70b5"/>
<circle cx="707.7" cy="2358.9" r="4.4" fill="#8fc2e0"/>
<circle cx="716.5" cy="2358.9" r="4.4" fill="#8fc2e0"/>
<circle cx="700.1" cy="2365.2" r="4.4" fill="#8fc2e0"/>
<circle cx="724" cy="2370.7" r="4.4" fill="#1a70b5"/>
<circle cx="733.6" cy="2358.9" r="4.4" fill="#8fc2e0"/>
<circle cx="745.5" cy="2357.6" r="4.4" fill="#8fc2e0"/>
<circle cx="743" cy="2365.2" r="4.4" fill="#1a70b5"/>
<circle cx="747.5" cy="2367.7" r="4.4" fill="#ef8126"/>
<circle cx="736.1" cy="2369.5" r="4.4" fill="#8fc2e0"/>
<circle cx="763.9" cy="2363.9" r="4.4" fill="#1a70b5"/>
<circle cx="759.3" cy="2371" r="4.4" fill="#8fc2e0"/>
<circle cx="765.6" cy="2371.5" r="4.4" fill="#8fc2e0"/>
<circle cx="685" cy="2379" r="4.4" fill="#8fc2e0"/>
<circle cx="688" cy="2384.8" r="4.4" fill="#8fc2e0"/>
<circle cx="700.6" cy="2384.1" r="4.4" fill="#1a70b5"/>
<circle cx="710.9" cy="2378.5" r="4.4" fill="#8fc2e0"/>
<circle cx="724" cy="2383.6" r="4.4" fill="#8fc2e0"/>
<circle cx="745" cy="2385.4" r="4.4" fill="#1a70b5"/>
<circle cx="751.8" cy="2387.9" r="4.4" fill="#1a70b5"/>
<circle cx="749.2" cy="2378.5" r="4.4" fill="#1a70b5"/>
<circle cx="765.1" cy="2378.5" r="4.4" fill="#1a70b5"/>
<circle cx="765.1" cy="2387.9" r="4.4" fill="#1a70b5"/>
<circle cx="696.3" cy="2408" r="4.4" fill="#6a449c"/>
<circle cx="731.6" cy="2410.6" r="4.4" fill="#e88e93"/>
<circle cx="768.9" cy="2410.6" r="4.4" fill="#b85e2c"/>
<circle cx="754.3" cy="2415.1" r="4.4" fill="#6a449c"/>
<circle cx="724.8" cy="2418.1" r="4.4" fill="#1a70b5"/>
<circle cx="693.8" cy="2423.2" r="4.4" fill="#8fc2e0"/>
<circle cx="700.6" cy="2420.6" r="4.4" fill="#8fc2e0"/>
<circle cx="673.1" cy="2428.7" r="4.4" fill="#6a449c"/>
<circle cx="680.7" cy="2427" r="4.4" fill="#8fc2e0"/>
<circle cx="729.6" cy="2427.4" r="4.4" fill="#ef8126"/>
<circle cx="692.5" cy="2429.5" r="4.4" fill="#8fc2e0"/>
<circle cx="696.3" cy="2432" r="4.4" fill="#8fc2e0"/>
<circle cx="689.5" cy="2434.5" r="4.4" fill="#1a70b5"/>
<circle cx="762.4" cy="2433.2" r="4.4" fill="#8fc2e0"/>
<circle cx="758.1" cy="2435.3" r="4.4" fill="#8fc2e0"/>
<circle cx="763.1" cy="2435.8" r="4.4" fill="#1a70b5"/>
<circle cx="714" cy="2437" r="4.4" fill="#8fc2e0"/>
<circle cx="681.2" cy="2439.5" r="4.4" fill="#1a70b5"/>
<circle cx="685" cy="2442.1" r="4.4" fill="#ef8126"/>
<circle cx="688.8" cy="2439.5" r="4.4" fill="#8fc2e0"/>
<circle cx="690" cy="2451.4" r="4.4" fill="#1a70b5"/>
<circle cx="722" cy="2451.4" r="4.4" fill="#8fc2e0"/>
<circle cx="740.4" cy="2451.6" r="4.4" fill="#1a70b5"/>
<circle cx="760.6" cy="2455.9" r="4.4" fill="#ef8126"/>
<circle cx="760.6" cy="2458.4" r="4.4" fill="#ef8126"/>
<circle cx="742.2" cy="2463.5" r="4.4" fill="#6a449c"/>
<circle cx="739.2" cy="2468.5" r="4.4" fill="#8fc2e0"/>
<circle cx="740.4" cy="2473.6" r="4.4" fill="#8fc2e0"/>
<circle cx="764.4" cy="2470.3" r="4.4" fill="#6a449c"/>
<circle cx="668.1" cy="2473.1" r="4.4" fill="#8fc2e0"/>
<circle cx="683" cy="2471" r="4.4" fill="#1a70b5"/>
<circle cx="714.7" cy="2487.4" r="4.4" fill="#8fc2e0"/>
<circle cx="539.8" cy="2598.2" r="4.4" fill="#8fc2e0"/>
<circle cx="595.9" cy="2599.1" r="4.4" fill="#8fc2e0"/>
<circle cx="591.9" cy="2598.6" r="4.4" fill="#000000"/>
<circle cx="610" cy="2600.9" r="4.4" fill="#f2b265"/>
<circle cx="551.8" cy="2603.5" r="4.4" fill="#f2b265"/>
<circle cx="629.4" cy="2603.5" r="4.4" fill="#f2b265"/>
<circle cx="584" cy="2602.5" r="4.4" fill="#8fc2e0"/>
<circle cx="534.1" cy="2596.1" r="4.4" fill="#2a9d48"/>
<circle cx="536.3" cy="2597.3" r="4.4" fill="#2a9d48"/>
<circle cx="538.2" cy="2598.5" r="4.4" fill="#2a9d48"/>
<circle cx="540.7" cy="2598.1" r="4.4" fill="#2a9d48"/>
<circle cx="543.3" cy="2597.2" r="4.4" fill="#2a9d48"/>
<circle cx="546.1" cy="2596.5" r="4.4" fill="#2a9d48"/>
<circle cx="550.3" cy="2598.8" r="4.4" fill="#2a9d48"/>
<circle cx="551.6" cy="2599.2" r="4.4" fill="#2a9d48"/>
<circle cx="554" cy="2597" r="4.4" fill="#2a9d48"/>
<circle cx="558" cy="2598.1" r="4.4" fill="#2a9d48"/>
<circle cx="559.1" cy="2599.7" r="4.4" fill="#2a9d48"/>
<circle cx="562" cy="2596.4" r="4.4" fill="#2a9d48"/>
<circle cx="565.7" cy="2596.7" r="4.4" fill="#2a9d48"/>
<circle cx="567.4" cy="2595.6" r="4.4" fill="#2a9d48"/>
<circle cx="569.7" cy="2597.9" r="4.4" fill="#2a9d48"/>
<circle cx="572.6" cy="2597.9" r="4.4" fill="#2a9d48"/>
<circle cx="575.5" cy="2597.3" r="4.4" fill="#2a9d48"/>
<circle cx="579.3" cy="2597.4" r="4.4" fill="#2a9d48"/>
<circle cx="581.2" cy="2599.1" r="4.4" fill="#2a9d48"/>
<circle cx="583" cy="2596" r="4.4" fill="#2a9d48"/>
<circle cx="587.1" cy="2598.9" r="4.4" fill="#2a9d48"/>
<circle cx="588.5" cy="2596.1" r="4.4" fill="#2a9d48"/>
<circle cx="592.1" cy="2599.4" r="4.4" fill="#2a9d48"/>
<circle cx="593.6" cy="2599.5" r="4.4" fill="#2a9d48"/>
<circle cx="597.6" cy="2598" r="4.4" fill="#2a9d48"/>
<circle cx="599.4" cy="2595.8" r="4.4" fill="#2a9d48"/>
<circle cx="601.2" cy="2599.5" r="4.4" fill="#2a9d48"/>
<circle cx="604.3" cy="2598.4" r="4.4" fill="#2a9d48"/>
<circle cx="607" cy="2598.9" r="4.4" fill="#2a9d48"/>
<circle cx="610.3" cy="2596.6" r="4.4" fill="#2a9d48"/>
<circle cx="612.1" cy="2598.5" r="4.4" fill="#2a9d48"/>
<circle cx="614.5" cy="2596.3" r="4.4" fill="#2a9d48"/>
<circle cx="618.1" cy="2599.1" r="4.4" fill="#2a9d48"/>
<circle cx="620.9" cy="2596.5" r="4.4" fill="#2a9d48"/>
<circle cx="624.1" cy="2596.2" r="4.4" fill="#2a9d48"/>
<circle cx="625" cy="2596.5" r="4.4" fill="#2a9d48"/>
<circle cx="628.5" cy="2595.6" r="4.4" fill="#2a9d48"/>
<circle cx="630.6" cy="2596.9" r="4.4" fill="#2a9d48"/>
<circle cx="634" cy="2595.9" r="4.4" fill="#2a9d48"/>
<circle cx="636.2" cy="2599.2" r="4.4" fill="#2a9d48"/>
<circle cx="539.8" cy="2598.2" r="4.4" fill="#8fc2e0"/>
<circle cx="595.9" cy="2599.1" r="4.4" fill="#8fc2e0"/>
<circle cx="663" cy="2598" r="4.4" fill="#2a9d48"/>
<circle cx="668" cy="2593.5" r="4.4" fill="#2a9d48"/>
<circle cx="676" cy="2592.5" r="4.4" fill="#2a9d48"/>
<circle cx="681" cy="2596" r="4.4" fill="#2a9d48"/>
<circle cx="672" cy="2599" r="4.4" fill="#2a9d48"/>
<circle cx="689" cy="2595.5" r="4.4" fill="#8fc2e0"/>
<circle cx="691" cy="2600" r="4.4" fill="#1a70b5"/>
<circle cx="699" cy="2597" r="4.4" fill="#2a9d48"/>
<circle cx="698" cy="2600.5" r="4.4" fill="#1a70b5"/>
<circle cx="707" cy="2594.5" r="4.4" fill="#8fc2e0"/>
<circle cx="710" cy="2599.5" r="4.4" fill="#1a70b5"/>
<circle cx="717" cy="2600" r="4.4" fill="#1a70b5"/>
<circle cx="722" cy="2599" r="4.4" fill="#1a70b5"/>
<circle cx="730" cy="2592.5" r="4.4" fill="#2a9d48"/>
<circle cx="735" cy="2597" r="4.4" fill="#2a9d48"/>
<circle cx="730" cy="2601" r="4.4" fill="#1a70b5"/>
<circle cx="741" cy="2598" r="4.4" fill="#8fc2e0"/>
<circle cx="748" cy="2595.5" r="4.4" fill="#2a9d48"/>
<circle cx="751" cy="2599" r="4.4" fill="#2a9d48"/>
<circle cx="763" cy="2599.5" r="4.4" fill="#1a70b5"/>
<circle cx="768.5" cy="2599.5" r="4.4" fill="#1a70b5"/>
<circle cx="1196.9" cy="2072.8" r="4.1" fill="#8fc2e0"/>
<circle cx="1166.7" cy="2370.7" r="4.1" fill="#8fc2e0"/>
<circle cx="1178" cy="2377.3" r="4.1" fill="#8fc2e0"/>
<circle cx="1125.1" cy="2408.8" r="4.1" fill="#8fc2e0"/>
<circle cx="1146" cy="2420.1" r="4.1" fill="#8fc2e0"/>
<circle cx="1200.7" cy="2426.2" r="4.1" fill="#8fc2e0"/>
<circle cx="1123.3" cy="2434.5" r="4.1" fill="#8fc2e0"/>
<circle cx="1202" cy="2434.5" r="4.1" fill="#8fc2e0"/>
<circle cx="1215.8" cy="2436.3" r="4.1" fill="#8fc2e0"/>
<circle cx="1149" cy="2441.6" r="4.1" fill="#8fc2e0"/>
<circle cx="1155.3" cy="2440.8" r="4.1" fill="#8fc2e0"/>
<circle cx="1178.5" cy="2438.8" r="4.1" fill="#8fc2e0"/>
<circle cx="1123.3" cy="2452.1" r="4.1" fill="#8fc2e0"/>
<circle cx="1207.5" cy="2449.6" r="4.1" fill="#8fc2e0"/>
<circle cx="1208.3" cy="2458" r="4.1" fill="#8fc2e0"/>
<circle cx="1214" cy="2463" r="4.1" fill="#8fc2e0"/>
<circle cx="1113" cy="2469" r="4.1" fill="#8fc2e0"/>
<circle cx="1137.7" cy="2476.6" r="4.1" fill="#8fc2e0"/>
<circle cx="1171.7" cy="2473.6" r="4.1" fill="#8fc2e0"/>
<circle cx="1162.9" cy="2477.4" r="4.1" fill="#8fc2e0"/>
<circle cx="1189.9" cy="2471" r="4.1" fill="#8fc2e0"/>
<circle cx="1196.4" cy="2471.6" r="4.1" fill="#8fc2e0"/>
<circle cx="1244.3" cy="2479.1" r="4.1" fill="#8fc2e0"/>
<circle cx="1114.5" cy="2488.7" r="4.1" fill="#8fc2e0"/>
<circle cx="1126.4" cy="2485.4" r="4.1" fill="#8fc2e0"/>
<circle cx="1160.9" cy="2485.4" r="4.1" fill="#8fc2e0"/>
<circle cx="1186.8" cy="2490.5" r="4.1" fill="#8fc2e0"/>
<circle cx="1196.2" cy="2487.4" r="4.1" fill="#8fc2e0"/>
<circle cx="1139" cy="2499.5" r="4.1" fill="#8fc2e0"/>
<circle cx="1167.9" cy="2498.3" r="4.1" fill="#8fc2e0"/>
<circle cx="1171.7" cy="2502.6" r="4.1" fill="#8fc2e0"/>
<circle cx="1209.5" cy="2498.8" r="4.1" fill="#8fc2e0"/>
<circle cx="1134.4" cy="2515.9" r="4.1" fill="#8fc2e0"/>
<circle cx="1198.9" cy="2511.9" r="4.1" fill="#8fc2e0"/>
<circle cx="1153.3" cy="2525.2" r="4.1" fill="#8fc2e0"/>
<circle cx="1153.3" cy="2530.3" r="4.1" fill="#8fc2e0"/>
<circle cx="1170.5" cy="2530.8" r="4.1" fill="#8fc2e0"/>
<circle cx="1149.5" cy="2537.8" r="4.1" fill="#8fc2e0"/>
<circle cx="1197.7" cy="2556" r="4.1" fill="#8fc2e0"/>
<circle cx="1123.3" cy="2475.3" r="4.1" fill="#e31d25"/>
<circle cx="1397.5" cy="2495.8" r="4.1" fill="#1a70b5"/>
<circle cx="1430" cy="2519" r="4.1" fill="#1a70b5"/>
<circle cx="1468.5" cy="2508.9" r="4.1" fill="#e88e93"/>
<circle cx="1474.3" cy="2540.4" r="4.1" fill="#e88e93"/>
<circle cx="1400" cy="2574.9" r="4.1" fill="#e88e93"/>
<circle cx="1451.4" cy="2571.4" r="4.1" fill="#8fc2e0"/>
<circle cx="1566.3" cy="2316" r="4.1" fill="#2a9d48"/>
<circle cx="1525.8" cy="2329.4" r="4.1" fill="#2a9d48"/>
<circle cx="1556.3" cy="2338.2" r="4.1" fill="#2a9d48"/>
<circle cx="1525.8" cy="2344.3" r="4.1" fill="#2a9d48"/>
<circle cx="1522.7" cy="2357.6" r="4.1" fill="#2a9d48"/>
<circle cx="1503.8" cy="2364.4" r="4.1" fill="#2a9d48"/>
<circle cx="1515.2" cy="2366.5" r="4.1" fill="#2a9d48"/>
<circle cx="1538.4" cy="2366.5" r="4.1" fill="#2a9d48"/>
<circle cx="1536.6" cy="2376" r="4.1" fill="#000000"/>
<circle cx="1576.4" cy="2373.5" r="4.1" fill="#2a9d48"/>
<circle cx="1576.4" cy="2386.1" r="4.1" fill="#2a9d48"/>
<circle cx="1530.8" cy="2387.1" r="4.1" fill="#2a9d48"/>
<circle cx="1523.2" cy="2392.9" r="4.1" fill="#2a9d48"/>
<circle cx="1538.4" cy="2395.9" r="4.1" fill="#2a9d48"/>
<circle cx="1595.8" cy="2398.5" r="4.1" fill="#2a9d48"/>
<circle cx="1589.5" cy="2401.7" r="4.1" fill="#2a9d48"/>
<circle cx="1514.7" cy="2407.3" r="4.1" fill="#8fc2e0"/>
<circle cx="1539.1" cy="2408.8" r="4.1" fill="#000000"/>
<circle cx="1566.1" cy="2413.1" r="4.1" fill="#2a9d48"/>
<circle cx="1575.7" cy="2413.6" r="4.1" fill="#2a9d48"/>
<circle cx="1577.7" cy="2421.9" r="4.1" fill="#000000"/>
<circle cx="1522" cy="2423.7" r="4.1" fill="#000000"/>
<circle cx="1518.4" cy="2422.7" r="4.1" fill="#2a9d48"/>
<circle cx="1505.8" cy="2429" r="4.1" fill="#000000"/>
<circle cx="1535.8" cy="2433.2" r="4.1" fill="#8fc2e0"/>
<circle cx="1580.7" cy="2434" r="4.1" fill="#2a9d48"/>
<circle cx="1528.5" cy="2443.8" r="4.1" fill="#8fc2e0"/>
<circle cx="1532.3" cy="2445.3" r="4.1" fill="#8fc2e0"/>
<circle cx="1506.4" cy="2448.4" r="4.1" fill="#2a9d48"/>
<circle cx="1502.6" cy="2453.4" r="4.1" fill="#2a9d48"/>
<circle cx="1542.9" cy="2459.2" r="4.1" fill="#2a9d48"/>
<circle cx="1549.2" cy="2466" r="4.1" fill="#2a9d48"/>
<circle cx="1588.3" cy="2464" r="4.1" fill="#2a9d48"/>
<circle cx="1527.8" cy="2469" r="4.1" fill="#8fc2e0"/>
<circle cx="1533.6" cy="2474.1" r="4.1" fill="#2a9d48"/>
<circle cx="1576.9" cy="2476.6" r="4.1" fill="#2a9d48"/>
<circle cx="1603.4" cy="2477.4" r="4.1" fill="#2a9d48"/>
<circle cx="1583.7" cy="2491.7" r="4.1" fill="#2a9d48"/>
<circle cx="1511.9" cy="2499.5" r="4.1" fill="#2a9d48"/>
<circle cx="1542.9" cy="2500.5" r="4.1" fill="#2a9d48"/>
<circle cx="1553" cy="2501.8" r="4.1" fill="#2a9d48"/>
<circle cx="1561.8" cy="2500.5" r="4.1" fill="#2a9d48"/>
<circle cx="1561.8" cy="2504.5" r="4.1" fill="#2a9d48"/>
<circle cx="1539.1" cy="2542.1" r="4.1" fill="#f2b265"/>
<circle cx="1553.7" cy="2542.1" r="4.1" fill="#f2b265"/>
<circle cx="1602.1" cy="2541.6" r="4.1" fill="#8fc2e0"/>
<circle cx="1589.5" cy="2561.3" r="4.1" fill="#f2b265"/>
<circle cx="1574.4" cy="2571.9" r="4.1" fill="#f2b265"/>
<circle cx="1583.7" cy="2186.4" r="4.1" fill="#2a9d48"/>
<circle cx="1537.1" cy="2225.7" r="4.1" fill="#2a9d48"/>
<circle cx="1603.4" cy="2246.4" r="4.1" fill="#2a9d48"/>
<circle cx="1569.4" cy="2266.6" r="4.1" fill="#2a9d48"/>
<circle cx="1515.7" cy="2272.1" r="4.1" fill="#2a9d48"/>
<circle cx="1555" cy="2275.4" r="4.1" fill="#2a9d48"/>
<circle cx="1718.1" cy="1994.4" r="4.1" fill="#2a9d48"/>
<circle cx="1679.8" cy="2035.2" r="4.1" fill="#2a9d48"/>
<circle cx="1643.2" cy="2104.7" r="4.1" fill="#2a9d48"/>
<circle cx="1637.4" cy="2124.9" r="4.1" fill="#2a9d48"/>
<circle cx="1679.5" cy="2131" r="4.1" fill="#8fc2e0"/>
<circle cx="1713.5" cy="2165.7" r="4.1" fill="#2a9d48"/>
<circle cx="1718.8" cy="2173.3" r="4.1" fill="#2a9d48"/>
<circle cx="1704.7" cy="2203" r="4.1" fill="#2a9d48"/>
<circle cx="1681" cy="2217.4" r="4.1" fill="#2a9d48"/>
<circle cx="1642.5" cy="2233.8" r="4.1" fill="#8fc2e0"/>
<circle cx="1655.1" cy="2233.3" r="4.1" fill="#2a9d48"/>
<circle cx="1703.7" cy="2244.4" r="4.1" fill="#1a70b5"/>
<circle cx="1686.6" cy="2273.6" r="4.1" fill="#2a9d48"/>
<circle cx="1712.5" cy="2267.8" r="4.1" fill="#2a9d48"/>
<circle cx="1636.9" cy="2294.3" r="4.1" fill="#8fc2e0"/>
<circle cx="1647" cy="2297.3" r="4.1" fill="#2a9d48"/>
<circle cx="1721.4" cy="2292.5" r="4.1" fill="#2a9d48"/>
<circle cx="1701.7" cy="2301.8" r="4.1" fill="#2a9d48"/>
<circle cx="1693.4" cy="2306.9" r="4.1" fill="#1a70b5"/>
<circle cx="1684.5" cy="2317.8" r="4.1" fill="#1a70b5"/>
<circle cx="1663.1" cy="2325.6" r="4.1" fill="#1a70b5"/>
<circle cx="1633.6" cy="2339.5" r="4.1" fill="#1a70b5"/>
<circle cx="1675.7" cy="2358.4" r="4.1" fill="#8fc2e0"/>
<circle cx="1636.2" cy="2360.7" r="4.1" fill="#2a9d48"/>
<circle cx="1639.4" cy="2378.5" r="4.1" fill="#2a9d48"/>
<circle cx="1651.8" cy="2379.6" r="4.1" fill="#2a9d48"/>
<circle cx="1653.8" cy="2384.1" r="4.1" fill="#2a9d48"/>
<circle cx="1677.7" cy="2383.3" r="4.1" fill="#1a70b5"/>
<circle cx="1682" cy="2382.8" r="4.1" fill="#2a9d48"/>
<circle cx="1695.9" cy="2389.9" r="4.1" fill="#2a9d48"/>
<circle cx="1645" cy="2391.7" r="4.1" fill="#1a70b5"/>
<circle cx="1637.4" cy="2397.5" r="4.1" fill="#8fc2e0"/>
<circle cx="1632.9" cy="2410.1" r="4.1" fill="#1a70b5"/>
<circle cx="1641.2" cy="2407.5" r="4.1" fill="#2a9d48"/>
<circle cx="1679.8" cy="2410.1" r="4.1" fill="#2a9d48"/>
<circle cx="1692.4" cy="2415.6" r="4.1" fill="#2a9d48"/>
<circle cx="1677.2" cy="2421.4" r="4.1" fill="#2a9d48"/>
<circle cx="1657.1" cy="2424.4" r="4.1" fill="#000000"/>
<circle cx="1669.7" cy="2425.7" r="4.1" fill="#1a70b5"/>
<circle cx="1699.2" cy="2426.2" r="4.1" fill="#2a9d48"/>
<circle cx="1663.4" cy="2434.5" r="4.1" fill="#8fc2e0"/>
<circle cx="1666.9" cy="2445.1" r="4.1" fill="#000000"/>
<circle cx="1699.2" cy="2442.1" r="4.1" fill="#2a9d48"/>
<circle cx="1633.6" cy="2447.9" r="4.1" fill="#1a70b5"/>
<circle cx="1638.7" cy="2452.1" r="4.1" fill="#2a9d48"/>
<circle cx="1716.3" cy="2449.1" r="4.1" fill="#2a9d48"/>
<circle cx="1718.1" cy="2459.7" r="4.1" fill="#2a9d48"/>
<circle cx="1660.6" cy="2460.5" r="4.1" fill="#2a9d48"/>
<circle cx="1700.4" cy="2467.3" r="4.1" fill="#2a9d48"/>
<circle cx="1709.2" cy="2473.1" r="4.1" fill="#1a70b5"/>
<circle cx="1644.5" cy="2472.3" r="4.1" fill="#f2b265"/>
<circle cx="1644.5" cy="2478.1" r="4.1" fill="#2a9d48"/>
<circle cx="1686.1" cy="2474.8" r="4.1" fill="#2a9d48"/>
<circle cx="1656.8" cy="2482.9" r="4.1" fill="#000000"/>
<circle cx="1642.5" cy="2488.2" r="4.1" fill="#1a70b5"/>
<circle cx="1649.3" cy="2497.5" r="4.1" fill="#1a70b5"/>
<circle cx="1663.1" cy="2494.2" r="4.1" fill="#f2b265"/>
<circle cx="1702.2" cy="2496.3" r="4.1" fill="#1a70b5"/>
<circle cx="1729.4" cy="2505.1" r="4.1" fill="#f2b265"/>
<circle cx="1686.1" cy="2512.6" r="4.1" fill="#000000"/>
<circle cx="1646.2" cy="2522.7" r="4.1" fill="#2a9d48"/>
<circle cx="1693.4" cy="2527" r="4.1" fill="#1a70b5"/>
<circle cx="1728.1" cy="2524" r="4.1" fill="#1a70b5"/>
<circle cx="1678.2" cy="2545.4" r="4.1" fill="#000000"/>
<circle cx="1701.7" cy="2546.2" r="4.1" fill="#f2b265"/>
<circle cx="1704.2" cy="2548.7" r="4.1" fill="#f2b265"/></svg></body></html>
